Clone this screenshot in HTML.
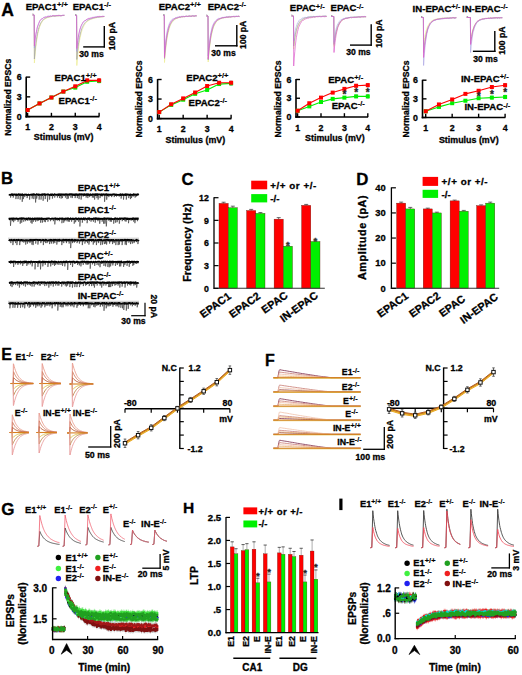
<!DOCTYPE html>
<html><head><meta charset="utf-8"><style>
html,body{margin:0;padding:0;background:#fff;}
svg{display:block;}
</style></head><body>
<svg width="522" height="675" viewBox="0 0 522 675">
<rect width="522" height="675" fill="#fff"/>
<text x="25.7" y="9.9" font-size="9.6" text-anchor="start" fill="#000" stroke="#000" stroke-width="0.3" font-family="Liberation Sans, sans-serif" font-weight="bold">EPAC1<tspan font-size="7.6" dy="-2.9" stroke-width="0.15">+/+</tspan></text>
<text x="72.7" y="9.9" font-size="9.6" text-anchor="start" fill="#000" stroke="#000" stroke-width="0.3" font-family="Liberation Sans, sans-serif" font-weight="bold">EPAC1<tspan font-size="7.6" dy="-2.9" stroke-width="0.15">-/-</tspan></text>
<line x1="32.50" y1="14.00" x2="34.00" y2="14.50" stroke="#888" stroke-width="1"/>
<polyline points="32.5,15.0 34.2,15.0 34.4,63.0 34.9,56.7 35.4,51.2 35.9,46.5 36.4,42.5 36.9,39.0 37.4,36.0 37.9,33.5 38.4,31.2 38.9,29.3 39.4,27.7 39.9,26.2 40.4,25.0 40.9,23.9 41.4,23.0 41.9,22.1 42.4,21.4 42.9,20.8 43.4,20.3 43.9,19.8 44.4,19.4 44.9,19.0 45.4,18.7 45.9,18.4 46.4,18.1 46.9,17.9 47.4,17.7 47.9,17.5 48.4,17.3 48.9,17.2 49.4,17.0 49.9,16.9 50.4,16.8 50.9,16.7 51.4,16.6 51.9,16.5 52.4,16.4 52.9,16.4 53.4,16.3 53.9,16.2 54.4,16.2 54.9,16.1 55.4,16.1 55.9,16.0 56.4,16.0 56.9,15.9 57.4,15.9 57.9,15.8 58.4,15.8 58.9,15.8 59.4,15.7 59.9,15.7 60.4,15.7 60.9,15.6 61.4,15.6 61.9,15.6 62.4,15.6 62.9,15.5 63.4,15.5 63.9,15.5 64.4,15.5" fill="none" stroke="#eeeea0" stroke-width="0.9" stroke-linejoin="round"/>
<polyline points="32.5,15.0 34.2,15.0 34.4,59.0 34.9,53.0 35.4,47.9 35.9,43.5 36.4,39.8 36.9,36.6 37.4,33.8 37.9,31.5 38.4,29.4 38.9,27.7 39.4,26.2 39.9,24.9 40.4,23.8 40.9,22.8 41.4,22.0 41.9,21.3 42.4,20.6 42.9,20.1 43.4,19.6 43.9,19.2 44.4,18.8 44.9,18.5 45.4,18.2 45.9,18.0 46.4,17.7 46.9,17.5 47.4,17.4 47.9,17.2 48.4,17.1 48.9,16.9 49.4,16.8 49.9,16.7 50.4,16.6 50.9,16.5 51.4,16.4 51.9,16.4 52.4,16.3 52.9,16.2 53.4,16.2 53.9,16.1 54.4,16.1 54.9,16.0 55.4,16.0 55.9,15.9 56.4,15.9 56.9,15.8 57.4,15.8 57.9,15.8 58.4,15.7 58.9,15.7 59.4,15.7 59.9,15.6 60.4,15.6 60.9,15.6 61.4,15.6 61.9,15.5 62.4,15.5 62.9,15.5 63.4,15.5 63.9,15.5 64.4,15.4" fill="none" stroke="#a8a8a8" stroke-width="0.8" stroke-linejoin="round"/>
<polyline points="32.5,15.0 34.2,15.0 34.4,48.0 34.9,42.7 35.4,38.3 35.9,34.5 36.4,31.9 36.9,29.0 37.4,26.9 37.9,25.3 38.4,23.8 38.9,22.7 39.4,21.5 39.9,20.6 40.4,20.0 40.9,19.4 41.4,19.1 41.9,18.4 42.4,18.7 42.9,18.1 43.4,17.5 43.9,17.3 44.4,17.2 44.9,17.1 45.4,16.7 45.9,17.1 46.4,17.1 46.9,16.6 47.4,16.5 47.9,16.1 48.4,16.0 48.9,16.2 49.4,16.0 49.9,16.4 50.4,15.8 50.9,15.7 51.4,16.4 51.9,16.0 52.4,15.6 52.9,15.9 53.4,15.5 53.9,15.8 54.4,16.1 54.9,16.0 55.4,15.9 55.9,15.5 56.4,15.5 56.9,15.3 57.4,15.8 57.9,15.6 58.4,15.8 58.9,15.4 59.4,15.3 59.9,15.7 60.4,15.8 60.9,15.7 61.4,15.7 61.9,15.7 62.4,15.6 62.9,15.2 63.4,15.4 63.9,15.2 64.4,14.9" fill="none" stroke="#a098e0" stroke-width="0.55" stroke-linejoin="round"/>
<polyline points="32.5,15.0 34.2,15.0 34.4,46.0 34.9,41.0 35.4,37.3 35.9,34.1 36.4,31.7 36.9,29.6 37.4,27.2 37.9,25.9 38.4,24.6 38.9,23.4 39.4,21.9 39.9,21.0 40.4,20.2 40.9,19.6 41.4,19.1 41.9,19.0 42.4,18.8 42.9,18.4 43.4,17.8 43.9,17.7 44.4,17.6 44.9,16.9 45.4,17.2 45.9,17.2 46.4,17.0 46.9,16.8 47.4,16.5 47.9,16.2 48.4,16.6 48.9,16.1 49.4,16.4 49.9,16.5 50.4,16.0 50.9,15.9 51.4,16.3 51.9,16.1 52.4,15.6 52.9,15.5 53.4,15.5 53.9,16.1 54.4,16.0 54.9,15.4 55.4,15.9 55.9,16.0 56.4,15.7 56.9,15.5 57.4,15.6 57.9,15.2 58.4,15.1 58.9,15.9 59.4,15.6 59.9,15.5 60.4,15.8 60.9,15.4 61.4,15.7 61.9,15.6 62.4,15.1 62.9,15.1 63.4,15.2 63.9,15.1 64.4,15.4" fill="none" stroke="#dc5ccc" stroke-width="0.7" stroke-linejoin="round"/>
<line x1="75.20" y1="14.50" x2="76.70" y2="15.00" stroke="#888" stroke-width="1"/>
<polyline points="75.2,15.5 76.6,15.5 76.8,65.5 77.3,59.9 77.7,55.0 78.2,50.7 78.6,46.9 79.1,43.6 79.5,40.8 80.0,38.2 80.5,36.0 80.9,34.0 81.4,32.3 81.8,30.8 82.3,29.4 82.8,28.3 83.2,27.2 83.7,26.3 84.1,25.4 84.6,24.7 85.0,24.0 85.5,23.4 86.0,22.8 86.4,22.4 86.9,21.9 87.3,21.5 87.8,21.2 88.3,20.8 88.7,20.5 89.2,20.2 89.6,20.0 90.1,19.7 90.5,19.5 91.0,19.3 91.5,19.1 91.9,19.0 92.4,18.8 92.8,18.6 93.3,18.5 93.8,18.4 94.2,18.2 94.7,18.1 95.1,18.0 95.6,17.9 96.0,17.8 96.5,17.7 97.0,17.6 97.4,17.5 97.9,17.5 98.3,17.4 98.8,17.3 99.3,17.2 99.7,17.2 100.2,17.1 100.6,17.0 101.1,17.0 101.5,16.9 102.0,16.9 102.5,16.8 102.9,16.8 103.4,16.7 103.8,16.7 104.3,16.6" fill="none" stroke="#eeeea0" stroke-width="0.9" stroke-linejoin="round"/>
<polyline points="75.2,15.5 76.6,15.5 76.8,59.5 77.3,54.4 77.7,50.0 78.2,46.2 78.6,42.8 79.1,39.9 79.5,37.3 80.0,35.1 80.5,33.1 80.9,31.4 81.4,29.9 81.8,28.6 82.3,27.4 82.8,26.4 83.2,25.5 83.7,24.7 84.1,24.0 84.6,23.3 85.0,22.8 85.5,22.3 86.0,21.8 86.4,21.4 86.9,21.0 87.3,20.7 87.8,20.4 88.3,20.1 88.7,19.8 89.2,19.6 89.6,19.4 90.1,19.2 90.5,19.0 91.0,18.8 91.5,18.7 91.9,18.5 92.4,18.4 92.8,18.2 93.3,18.1 93.8,18.0 94.2,17.9 94.7,17.8 95.1,17.7 95.6,17.6 96.0,17.5 96.5,17.4 97.0,17.4 97.4,17.3 97.9,17.2 98.3,17.1 98.8,17.1 99.3,17.0 99.7,17.0 100.2,16.9 100.6,16.8 101.1,16.8 101.5,16.7 102.0,16.7 102.5,16.6 102.9,16.6 103.4,16.6 103.8,16.5 104.3,16.5" fill="none" stroke="#a8a8a8" stroke-width="0.8" stroke-linejoin="round"/>
<polyline points="75.2,15.5 76.6,15.5 76.8,51.5 77.3,46.5 77.7,42.3 78.2,39.1 78.6,36.0 79.1,33.4 79.5,31.3 80.0,29.4 80.5,27.9 80.9,26.7 81.4,25.6 81.8,24.9 82.3,23.7 82.8,23.2 83.2,22.3 83.7,21.8 84.1,21.1 84.6,20.8 85.0,20.3 85.5,20.5 86.0,20.1 86.4,19.5 86.9,19.5 87.3,19.6 87.8,18.8 88.3,19.1 88.7,18.7 89.2,18.6 89.6,18.7 90.1,18.2 90.5,18.2 91.0,18.2 91.5,18.3 91.9,17.7 92.4,18.0 92.8,17.8 93.3,17.7 93.8,17.4 94.2,17.3 94.7,17.0 95.1,16.9 95.6,16.8 96.0,17.3 96.5,16.9 97.0,16.7 97.4,16.6 97.9,17.1 98.3,17.1 98.8,16.9 99.3,16.5 99.7,16.5 100.2,16.5 100.6,16.6 101.1,16.3 101.5,16.5 102.0,16.3 102.5,16.8 102.9,16.8 103.4,16.4 103.8,16.1 104.3,16.7" fill="none" stroke="#a098e0" stroke-width="0.55" stroke-linejoin="round"/>
<polyline points="75.2,15.5 76.6,15.5 76.8,48.5 77.3,44.2 77.7,40.7 78.2,37.3 78.6,35.0 79.1,32.8 79.5,30.9 80.0,29.0 80.5,27.8 80.9,26.2 81.4,25.3 81.8,24.2 82.3,23.6 82.8,22.6 83.2,22.0 83.7,21.6 84.1,21.1 84.6,21.0 85.0,20.5 85.5,20.4 86.0,20.0 86.4,19.8 86.9,19.6 87.3,19.0 87.8,18.8 88.3,19.1 88.7,18.3 89.2,18.6 89.6,18.4 90.1,17.8 90.5,18.3 91.0,18.2 91.5,17.9 91.9,17.9 92.4,17.8 92.8,17.2 93.3,17.4 93.8,17.3 94.2,17.5 94.7,17.4 95.1,17.4 95.6,17.1 96.0,17.3 96.5,17.1 97.0,17.0 97.4,16.6 97.9,16.4 98.3,16.4 98.8,16.6 99.3,16.3 99.7,16.9 100.2,16.6 100.6,16.6 101.1,16.6 101.5,16.6 102.0,16.4 102.5,16.0 102.9,16.6 103.4,16.5 103.8,16.3 104.3,16.3" fill="none" stroke="#dc5ccc" stroke-width="0.7" stroke-linejoin="round"/>
<line x1="104.30" y1="26.00" x2="104.30" y2="47.50" stroke="#000" stroke-width="1.4"/>
<line x1="83.20" y1="46.90" x2="105.00" y2="46.90" stroke="#000" stroke-width="1.4"/>
<text x="91.5" y="56.6" font-size="8.6" text-anchor="middle" fill="#000" stroke="#000" stroke-width="0.3" font-family="Liberation Sans, sans-serif" font-weight="bold">30 ms</text>
<text x="114.7" y="36.2" font-size="8.6" text-anchor="middle" fill="#000" stroke="#000" stroke-width="0.3" font-family="Liberation Sans, sans-serif" font-weight="bold" transform="rotate(-90 114.7 36.2)">100 pA</text>
<line x1="26.20" y1="76.70" x2="26.20" y2="117.40" stroke="#000" stroke-width="1.6"/>
<line x1="25.40" y1="116.60" x2="99.40" y2="116.60" stroke="#000" stroke-width="1.6"/>
<line x1="26.20" y1="116.60" x2="30.20" y2="116.60" stroke="#000" stroke-width="1.4"/>
<text x="21.6" y="119.69999999999999" font-size="8.8" text-anchor="end" fill="#000" stroke="#000" stroke-width="0.3" font-family="Liberation Sans, sans-serif" font-weight="bold">0</text>
<line x1="26.20" y1="96.85" x2="30.20" y2="96.85" stroke="#000" stroke-width="1.4"/>
<text x="21.6" y="99.94999999999999" font-size="8.8" text-anchor="end" fill="#000" stroke="#000" stroke-width="0.3" font-family="Liberation Sans, sans-serif" font-weight="bold">3</text>
<line x1="26.20" y1="77.10" x2="30.20" y2="77.10" stroke="#000" stroke-width="1.4"/>
<text x="21.6" y="80.19999999999999" font-size="8.8" text-anchor="end" fill="#000" stroke="#000" stroke-width="0.3" font-family="Liberation Sans, sans-serif" font-weight="bold">6</text>
<line x1="27.60" y1="116.60" x2="27.60" y2="112.80" stroke="#000" stroke-width="1.4"/>
<text x="27.6" y="130.1" font-size="8.8" text-anchor="middle" fill="#000" stroke="#000" stroke-width="0.3" font-family="Liberation Sans, sans-serif" font-weight="bold">1</text>
<line x1="51.43" y1="116.60" x2="51.43" y2="112.80" stroke="#000" stroke-width="1.4"/>
<text x="51.43333333333334" y="130.1" font-size="8.8" text-anchor="middle" fill="#000" stroke="#000" stroke-width="0.3" font-family="Liberation Sans, sans-serif" font-weight="bold">2</text>
<line x1="75.27" y1="116.60" x2="75.27" y2="112.80" stroke="#000" stroke-width="1.4"/>
<text x="75.26666666666667" y="130.1" font-size="8.8" text-anchor="middle" fill="#000" stroke="#000" stroke-width="0.3" font-family="Liberation Sans, sans-serif" font-weight="bold">3</text>
<line x1="99.10" y1="116.60" x2="99.10" y2="112.80" stroke="#000" stroke-width="1.4"/>
<text x="99.1" y="130.1" font-size="8.8" text-anchor="middle" fill="#000" stroke="#000" stroke-width="0.3" font-family="Liberation Sans, sans-serif" font-weight="bold">4</text>
<text x="63.65" y="140.39999999999998" font-size="8.9" text-anchor="middle" fill="#000" stroke="#000" stroke-width="0.3" font-family="Liberation Sans, sans-serif" font-weight="bold">Stimulus (mV)</text>
<text x="10.7" y="97.2" font-size="8.6" text-anchor="middle" fill="#000" stroke="#000" stroke-width="0.3" font-family="Liberation Sans, sans-serif" font-weight="bold" transform="rotate(-90 10.7 97.2)">Normalized EPSCs</text>
<line x1="27.60" y1="109.42" x2="27.60" y2="110.62" stroke="#555" stroke-width="0.6"/>
<line x1="26.40" y1="109.42" x2="28.80" y2="109.42" stroke="#555" stroke-width="0.6"/>
<line x1="26.40" y1="110.62" x2="28.80" y2="110.62" stroke="#555" stroke-width="0.6"/>
<line x1="39.52" y1="102.83" x2="39.52" y2="104.03" stroke="#555" stroke-width="0.6"/>
<line x1="38.32" y1="102.83" x2="40.72" y2="102.83" stroke="#555" stroke-width="0.6"/>
<line x1="38.32" y1="104.03" x2="40.72" y2="104.03" stroke="#555" stroke-width="0.6"/>
<line x1="51.43" y1="96.91" x2="51.43" y2="98.11" stroke="#555" stroke-width="0.6"/>
<line x1="50.23" y1="96.91" x2="52.63" y2="96.91" stroke="#555" stroke-width="0.6"/>
<line x1="50.23" y1="98.11" x2="52.63" y2="98.11" stroke="#555" stroke-width="0.6"/>
<line x1="63.35" y1="90.98" x2="63.35" y2="92.18" stroke="#555" stroke-width="0.6"/>
<line x1="62.15" y1="90.98" x2="64.55" y2="90.98" stroke="#555" stroke-width="0.6"/>
<line x1="62.15" y1="92.18" x2="64.55" y2="92.18" stroke="#555" stroke-width="0.6"/>
<line x1="75.27" y1="86.68" x2="75.27" y2="88.58" stroke="#555" stroke-width="0.6"/>
<line x1="74.07" y1="86.68" x2="76.47" y2="86.68" stroke="#555" stroke-width="0.6"/>
<line x1="74.07" y1="88.58" x2="76.47" y2="88.58" stroke="#555" stroke-width="0.6"/>
<line x1="87.18" y1="80.41" x2="87.18" y2="83.01" stroke="#555" stroke-width="0.6"/>
<line x1="85.98" y1="80.41" x2="88.38" y2="80.41" stroke="#555" stroke-width="0.6"/>
<line x1="85.98" y1="83.01" x2="88.38" y2="83.01" stroke="#555" stroke-width="0.6"/>
<line x1="99.10" y1="79.40" x2="99.10" y2="82.70" stroke="#555" stroke-width="0.6"/>
<line x1="97.90" y1="79.40" x2="100.30" y2="79.40" stroke="#555" stroke-width="0.6"/>
<line x1="97.90" y1="82.70" x2="100.30" y2="82.70" stroke="#555" stroke-width="0.6"/>
<line x1="27.60" y1="109.42" x2="27.60" y2="110.62" stroke="#555" stroke-width="0.6"/>
<line x1="26.40" y1="109.42" x2="28.80" y2="109.42" stroke="#555" stroke-width="0.6"/>
<line x1="26.40" y1="110.62" x2="28.80" y2="110.62" stroke="#555" stroke-width="0.6"/>
<line x1="39.52" y1="102.83" x2="39.52" y2="104.03" stroke="#555" stroke-width="0.6"/>
<line x1="38.32" y1="102.83" x2="40.72" y2="102.83" stroke="#555" stroke-width="0.6"/>
<line x1="38.32" y1="104.03" x2="40.72" y2="104.03" stroke="#555" stroke-width="0.6"/>
<line x1="51.43" y1="96.91" x2="51.43" y2="98.11" stroke="#555" stroke-width="0.6"/>
<line x1="50.23" y1="96.91" x2="52.63" y2="96.91" stroke="#555" stroke-width="0.6"/>
<line x1="50.23" y1="98.11" x2="52.63" y2="98.11" stroke="#555" stroke-width="0.6"/>
<line x1="63.35" y1="90.98" x2="63.35" y2="92.18" stroke="#555" stroke-width="0.6"/>
<line x1="62.15" y1="90.98" x2="64.55" y2="90.98" stroke="#555" stroke-width="0.6"/>
<line x1="62.15" y1="92.18" x2="64.55" y2="92.18" stroke="#555" stroke-width="0.6"/>
<line x1="75.27" y1="85.37" x2="75.27" y2="87.27" stroke="#555" stroke-width="0.6"/>
<line x1="74.07" y1="85.37" x2="76.47" y2="85.37" stroke="#555" stroke-width="0.6"/>
<line x1="74.07" y1="87.27" x2="76.47" y2="87.27" stroke="#555" stroke-width="0.6"/>
<line x1="87.18" y1="79.09" x2="87.18" y2="81.69" stroke="#555" stroke-width="0.6"/>
<line x1="85.98" y1="79.09" x2="88.38" y2="79.09" stroke="#555" stroke-width="0.6"/>
<line x1="85.98" y1="81.69" x2="88.38" y2="81.69" stroke="#555" stroke-width="0.6"/>
<line x1="99.10" y1="78.74" x2="99.10" y2="82.04" stroke="#555" stroke-width="0.6"/>
<line x1="97.90" y1="78.74" x2="100.30" y2="78.74" stroke="#555" stroke-width="0.6"/>
<line x1="97.90" y1="82.04" x2="100.30" y2="82.04" stroke="#555" stroke-width="0.6"/>
<polyline points="27.6,110.0 39.5,103.4 51.4,97.5 63.4,91.6 75.3,87.6 87.2,81.7 99.1,81.0" fill="none" stroke="#00f000" stroke-width="1.1" stroke-linejoin="round"/>
<rect x="25.60" y="108.02" width="4.00" height="4.00" fill="#00f000"/>
<rect x="37.52" y="101.43" width="4.00" height="4.00" fill="#00f000"/>
<rect x="49.43" y="95.51" width="4.00" height="4.00" fill="#00f000"/>
<rect x="61.35" y="89.58" width="4.00" height="4.00" fill="#00f000"/>
<rect x="73.27" y="85.63" width="4.00" height="4.00" fill="#00f000"/>
<rect x="85.18" y="79.71" width="4.00" height="4.00" fill="#00f000"/>
<rect x="97.10" y="79.05" width="4.00" height="4.00" fill="#00f000"/>
<polyline points="27.6,110.0 39.5,103.4 51.4,97.5 63.4,91.6 75.3,86.3 87.2,80.4 99.1,80.4" fill="none" stroke="#ff0000" stroke-width="1.1" stroke-linejoin="round"/>
<rect x="25.60" y="108.02" width="4.00" height="4.00" fill="#ff0000"/>
<rect x="37.52" y="101.43" width="4.00" height="4.00" fill="#ff0000"/>
<rect x="49.43" y="95.51" width="4.00" height="4.00" fill="#ff0000"/>
<rect x="61.35" y="89.58" width="4.00" height="4.00" fill="#ff0000"/>
<rect x="73.27" y="84.32" width="4.00" height="4.00" fill="#ff0000"/>
<rect x="85.18" y="78.39" width="4.00" height="4.00" fill="#ff0000"/>
<rect x="97.10" y="78.39" width="4.00" height="4.00" fill="#ff0000"/>
<text x="54.5" y="80.6" font-size="9.6" text-anchor="start" fill="#000" stroke="#000" stroke-width="0.3" font-family="Liberation Sans, sans-serif" font-weight="bold">EPAC1<tspan font-size="7.6" dy="-2.9" stroke-width="0.15">+/+</tspan></text>
<text x="58.5" y="103.6" font-size="9.6" text-anchor="start" fill="#000" stroke="#000" stroke-width="0.3" font-family="Liberation Sans, sans-serif" font-weight="bold">EPAC1<tspan font-size="7.6" dy="-2.9" stroke-width="0.15">-/-</tspan></text>
<text x="158.7" y="9.700000000000001" font-size="9.6" text-anchor="start" fill="#000" stroke="#000" stroke-width="0.3" font-family="Liberation Sans, sans-serif" font-weight="bold">EPAC2<tspan font-size="7.6" dy="-2.9" stroke-width="0.15">+/+</tspan></text>
<text x="207.7" y="9.700000000000001" font-size="9.6" text-anchor="start" fill="#000" stroke="#000" stroke-width="0.3" font-family="Liberation Sans, sans-serif" font-weight="bold">EPAC2<tspan font-size="7.6" dy="-2.9" stroke-width="0.15">-/-</tspan></text>
<line x1="163.30" y1="14.50" x2="164.80" y2="15.00" stroke="#888" stroke-width="1"/>
<polyline points="163.3,15.5 164.3,15.5 164.5,62.5 165.0,55.9 165.6,50.2 166.1,45.4 166.6,41.4 167.2,37.9 167.7,34.9 168.3,32.4 168.8,30.3 169.3,28.4 169.9,26.8 170.4,25.5 170.9,24.3 171.5,23.3 172.0,22.5 172.6,21.7 173.1,21.1 173.6,20.5 174.2,20.0 174.7,19.6 175.2,19.3 175.8,18.9 176.3,18.6 176.8,18.4 177.4,18.2 177.9,18.0 178.5,17.8 179.0,17.6 179.5,17.5 180.1,17.4 180.6,17.2 181.1,17.1 181.7,17.0 182.2,17.0 182.7,16.9 183.3,16.8 183.8,16.7 184.4,16.7 184.9,16.6 185.4,16.5 186.0,16.5 186.5,16.4 187.0,16.4 187.6,16.4 188.1,16.3 188.6,16.3 189.2,16.2 189.7,16.2 190.3,16.2 190.8,16.1 191.3,16.1 191.9,16.1 192.4,16.1 192.9,16.0 193.5,16.0 194.0,16.0 194.6,16.0 195.1,15.9 195.6,15.9 196.2,15.9 196.7,15.9" fill="none" stroke="#eeeea0" stroke-width="0.9" stroke-linejoin="round"/>
<polyline points="163.3,15.5 164.3,15.5 164.5,58.5 165.0,52.3 165.6,47.0 166.1,42.5 166.6,38.7 167.2,35.5 167.7,32.8 168.3,30.5 168.8,28.6 169.3,26.9 169.9,25.5 170.4,24.3 170.9,23.3 171.5,22.4 172.0,21.6 172.6,21.0 173.1,20.4 173.6,19.9 174.2,19.5 174.7,19.1 175.2,18.8 175.8,18.5 176.3,18.3 176.8,18.1 177.4,17.9 177.9,17.7 178.5,17.5 179.0,17.4 179.5,17.3 180.1,17.2 180.6,17.1 181.1,17.0 181.7,16.9 182.2,16.8 182.7,16.7 183.3,16.7 183.8,16.6 184.4,16.5 184.9,16.5 185.4,16.4 186.0,16.4 186.5,16.4 187.0,16.3 187.6,16.3 188.1,16.2 188.6,16.2 189.2,16.2 189.7,16.1 190.3,16.1 190.8,16.1 191.3,16.1 191.9,16.0 192.4,16.0 192.9,16.0 193.5,16.0 194.0,15.9 194.6,15.9 195.1,15.9 195.6,15.9 196.2,15.9 196.7,15.9" fill="none" stroke="#a8a8a8" stroke-width="0.8" stroke-linejoin="round"/>
<polyline points="163.3,15.5 164.3,15.5 164.5,53.5 165.0,46.8 165.6,41.5 166.1,37.3 166.6,34.3 167.2,31.1 167.7,28.5 168.3,27.0 168.8,25.5 169.3,23.7 169.9,22.4 170.4,21.5 170.9,20.6 171.5,20.2 172.0,19.5 172.6,19.1 173.1,18.8 173.6,18.7 174.2,18.7 174.7,18.3 175.2,17.8 175.8,17.7 176.3,17.6 176.8,17.3 177.4,17.2 177.9,16.8 178.5,16.9 179.0,17.4 179.5,16.6 180.1,16.8 180.6,16.9 181.1,17.0 181.7,16.4 182.2,16.4 182.7,16.3 183.3,16.4 183.8,16.4 184.4,16.8 184.9,16.6 185.4,16.6 186.0,15.9 186.5,15.9 187.0,16.4 187.6,16.5 188.1,16.1 188.6,16.2 189.2,15.7 189.7,16.0 190.3,16.4 190.8,16.3 191.3,16.3 191.9,16.3 192.4,15.7 192.9,15.6 193.5,15.6 194.0,15.9 194.6,16.0 195.1,16.2 195.6,16.0 196.2,15.9 196.7,16.0" fill="none" stroke="#a098e0" stroke-width="0.55" stroke-linejoin="round"/>
<polyline points="163.3,15.5 164.3,15.5 164.5,57.5 165.0,50.8 165.6,45.3 166.1,40.3 166.6,37.1 167.2,33.5 167.7,31.4 168.3,29.0 168.8,26.8 169.3,25.2 169.9,24.0 170.4,23.2 170.9,22.3 171.5,21.1 172.0,20.4 172.6,20.2 173.1,19.8 173.6,19.2 174.2,18.7 174.7,18.7 175.2,18.0 175.8,18.0 176.3,17.9 176.8,18.1 177.4,17.7 177.9,17.8 178.5,17.3 179.0,17.0 179.5,16.9 180.1,17.4 180.6,17.1 181.1,16.7 181.7,16.4 182.2,16.7 182.7,16.8 183.3,16.5 183.8,16.4 184.4,16.6 184.9,16.8 185.4,16.2 186.0,16.0 186.5,16.2 187.0,16.2 187.6,16.4 188.1,16.0 188.6,16.4 189.2,16.3 189.7,16.1 190.3,15.9 190.8,16.4 191.3,15.9 191.9,16.3 192.4,15.8 192.9,15.7 193.5,16.2 194.0,15.8 194.6,16.3 195.1,15.9 195.6,15.6 196.2,15.6 196.7,15.8" fill="none" stroke="#dc5ccc" stroke-width="0.7" stroke-linejoin="round"/>
<line x1="206.30" y1="15.00" x2="207.80" y2="15.50" stroke="#888" stroke-width="1"/>
<polyline points="206.3,16.0 208.0,16.0 208.2,62.0 208.7,55.7 209.2,50.3 209.8,45.7 210.3,41.7 210.8,38.4 211.3,35.5 211.9,33.0 212.4,30.9 212.9,29.1 213.4,27.5 213.9,26.2 214.5,25.0 215.0,24.0 215.5,23.1 216.0,22.4 216.5,21.7 217.1,21.2 217.6,20.7 218.1,20.2 218.6,19.9 219.2,19.5 219.7,19.2 220.2,19.0 220.7,18.8 221.2,18.5 221.8,18.4 222.3,18.2 222.8,18.1 223.3,17.9 223.8,17.8 224.4,17.7 224.9,17.6 225.4,17.5 225.9,17.4 226.5,17.3 227.0,17.3 227.5,17.2 228.0,17.1 228.5,17.1 229.1,17.0 229.6,17.0 230.1,16.9 230.6,16.9 231.2,16.8 231.7,16.8 232.2,16.8 232.7,16.7 233.2,16.7 233.8,16.7 234.3,16.6 234.8,16.6 235.3,16.6 235.8,16.6 236.4,16.5 236.9,16.5 237.4,16.5 237.9,16.5 238.5,16.4 239.0,16.4 239.5,16.4" fill="none" stroke="#eeeea0" stroke-width="0.9" stroke-linejoin="round"/>
<polyline points="206.3,16.0 208.0,16.0 208.2,60.0 208.7,53.8 209.2,48.5 209.8,44.0 210.3,40.2 210.8,36.9 211.3,34.2 211.9,31.8 212.4,29.8 212.9,28.1 213.4,26.6 213.9,25.4 214.5,24.3 215.0,23.3 215.5,22.5 216.0,21.9 216.5,21.3 217.1,20.7 217.6,20.3 218.1,19.9 218.6,19.6 219.2,19.2 219.7,19.0 220.2,18.7 220.7,18.5 221.2,18.4 221.8,18.2 222.3,18.0 222.8,17.9 223.3,17.8 223.8,17.7 224.4,17.6 224.9,17.5 225.4,17.4 225.9,17.3 226.5,17.3 227.0,17.2 227.5,17.1 228.0,17.1 228.5,17.0 229.1,17.0 229.6,16.9 230.1,16.9 230.6,16.8 231.2,16.8 231.7,16.8 232.2,16.7 232.7,16.7 233.2,16.7 233.8,16.6 234.3,16.6 234.8,16.6 235.3,16.6 235.8,16.5 236.4,16.5 236.9,16.5 237.4,16.5 237.9,16.4 238.5,16.4 239.0,16.4 239.5,16.4" fill="none" stroke="#a8a8a8" stroke-width="0.8" stroke-linejoin="round"/>
<polyline points="206.3,16.0 208.0,16.0 208.2,56.0 208.7,49.1 209.2,44.3 209.8,39.6 210.3,35.7 210.8,32.7 211.3,30.7 211.9,28.2 212.4,26.2 212.9,25.3 213.4,24.0 213.9,23.2 214.5,21.7 215.0,21.3 215.5,21.0 216.0,20.5 216.5,20.1 217.1,19.1 217.6,19.0 218.1,18.6 218.6,18.4 219.2,18.8 219.7,18.3 220.2,18.5 220.7,17.9 221.2,18.1 221.8,17.7 222.3,17.4 222.8,17.8 223.3,17.8 223.8,17.1 224.4,17.4 224.9,17.3 225.4,17.0 225.9,17.0 226.5,16.8 227.0,16.8 227.5,16.8 228.0,17.0 228.5,17.0 229.1,16.6 229.6,16.4 230.1,16.6 230.6,16.9 231.2,16.5 231.7,16.5 232.2,16.4 232.7,16.9 233.2,16.6 233.8,16.2 234.3,16.2 234.8,16.4 235.3,16.5 235.8,16.6 236.4,16.1 236.9,16.2 237.4,16.6 237.9,16.3 238.5,16.2 239.0,16.2 239.5,16.7" fill="none" stroke="#a098e0" stroke-width="0.55" stroke-linejoin="round"/>
<polyline points="206.3,16.0 208.0,16.0 208.2,59.0 208.7,52.2 209.2,46.9 209.8,42.1 210.3,38.2 210.8,35.4 211.3,32.7 211.9,30.0 212.4,27.9 212.9,26.7 213.4,25.0 213.9,23.7 214.5,23.4 215.0,22.2 215.5,21.9 216.0,20.9 216.5,20.8 217.1,20.0 217.6,19.4 218.1,19.0 218.6,19.1 219.2,18.9 219.7,18.9 220.2,18.1 220.7,18.3 221.2,18.0 221.8,18.0 222.3,17.6 222.8,17.6 223.3,17.6 223.8,17.9 224.4,17.1 224.9,17.4 225.4,17.6 225.9,17.6 226.5,16.9 227.0,16.8 227.5,17.4 228.0,17.4 228.5,17.0 229.1,16.6 229.6,17.2 230.1,16.8 230.6,17.1 231.2,16.9 231.7,17.0 232.2,16.4 232.7,16.9 233.2,16.4 233.8,16.5 234.3,16.9 234.8,16.8 235.3,16.3 235.8,16.3 236.4,16.4 236.9,16.5 237.4,16.4 237.9,16.1 238.5,16.2 239.0,16.6 239.5,16.7" fill="none" stroke="#dc5ccc" stroke-width="0.7" stroke-linejoin="round"/>
<line x1="236.80" y1="25.10" x2="236.80" y2="46.40" stroke="#000" stroke-width="1.4"/>
<line x1="215.00" y1="45.80" x2="237.50" y2="45.80" stroke="#000" stroke-width="1.4"/>
<text x="223.5" y="55.8" font-size="8.6" text-anchor="middle" fill="#000" stroke="#000" stroke-width="0.3" font-family="Liberation Sans, sans-serif" font-weight="bold">30 ms</text>
<text x="246.4" y="34.8" font-size="8.6" text-anchor="middle" fill="#000" stroke="#000" stroke-width="0.3" font-family="Liberation Sans, sans-serif" font-weight="bold" transform="rotate(-90 246.4 34.8)">100 pA</text>
<line x1="157.60" y1="79.10" x2="157.60" y2="119.40" stroke="#000" stroke-width="1.6"/>
<line x1="156.80" y1="118.60" x2="231.40" y2="118.60" stroke="#000" stroke-width="1.6"/>
<line x1="157.60" y1="118.60" x2="161.60" y2="118.60" stroke="#000" stroke-width="1.4"/>
<text x="153.0" y="121.69999999999999" font-size="8.8" text-anchor="end" fill="#000" stroke="#000" stroke-width="0.3" font-family="Liberation Sans, sans-serif" font-weight="bold">0</text>
<line x1="157.60" y1="99.05" x2="161.60" y2="99.05" stroke="#000" stroke-width="1.4"/>
<text x="153.0" y="102.14999999999999" font-size="8.8" text-anchor="end" fill="#000" stroke="#000" stroke-width="0.3" font-family="Liberation Sans, sans-serif" font-weight="bold">3</text>
<line x1="157.60" y1="79.50" x2="161.60" y2="79.50" stroke="#000" stroke-width="1.4"/>
<text x="153.0" y="82.6" font-size="8.8" text-anchor="end" fill="#000" stroke="#000" stroke-width="0.3" font-family="Liberation Sans, sans-serif" font-weight="bold">6</text>
<line x1="159.20" y1="118.60" x2="159.20" y2="114.80" stroke="#000" stroke-width="1.4"/>
<text x="159.2" y="131.6" font-size="8.8" text-anchor="middle" fill="#000" stroke="#000" stroke-width="0.3" font-family="Liberation Sans, sans-serif" font-weight="bold">1</text>
<line x1="183.17" y1="118.60" x2="183.17" y2="114.80" stroke="#000" stroke-width="1.4"/>
<text x="183.16666666666666" y="131.6" font-size="8.8" text-anchor="middle" fill="#000" stroke="#000" stroke-width="0.3" font-family="Liberation Sans, sans-serif" font-weight="bold">2</text>
<line x1="207.13" y1="118.60" x2="207.13" y2="114.80" stroke="#000" stroke-width="1.4"/>
<text x="207.13333333333333" y="131.6" font-size="8.8" text-anchor="middle" fill="#000" stroke="#000" stroke-width="0.3" font-family="Liberation Sans, sans-serif" font-weight="bold">3</text>
<line x1="231.10" y1="118.60" x2="231.10" y2="114.80" stroke="#000" stroke-width="1.4"/>
<text x="231.1" y="131.6" font-size="8.8" text-anchor="middle" fill="#000" stroke="#000" stroke-width="0.3" font-family="Liberation Sans, sans-serif" font-weight="bold">4</text>
<text x="195.35" y="142.5" font-size="8.9" text-anchor="middle" fill="#000" stroke="#000" stroke-width="0.3" font-family="Liberation Sans, sans-serif" font-weight="bold">Stimulus (mV)</text>
<text x="142.29999999999998" y="99" font-size="8.6" text-anchor="middle" fill="#000" stroke="#000" stroke-width="0.3" font-family="Liberation Sans, sans-serif" font-weight="bold" transform="rotate(-90 142.29999999999998 99)">Normalized EPSCs</text>
<line x1="159.20" y1="111.48" x2="159.20" y2="112.68" stroke="#555" stroke-width="0.6"/>
<line x1="158.00" y1="111.48" x2="160.40" y2="111.48" stroke="#555" stroke-width="0.6"/>
<line x1="158.00" y1="112.68" x2="160.40" y2="112.68" stroke="#555" stroke-width="0.6"/>
<line x1="171.18" y1="104.31" x2="171.18" y2="105.51" stroke="#555" stroke-width="0.6"/>
<line x1="169.98" y1="104.31" x2="172.38" y2="104.31" stroke="#555" stroke-width="0.6"/>
<line x1="169.98" y1="105.51" x2="172.38" y2="105.51" stroke="#555" stroke-width="0.6"/>
<line x1="183.17" y1="99.10" x2="183.17" y2="100.30" stroke="#555" stroke-width="0.6"/>
<line x1="181.97" y1="99.10" x2="184.37" y2="99.10" stroke="#555" stroke-width="0.6"/>
<line x1="181.97" y1="100.30" x2="184.37" y2="100.30" stroke="#555" stroke-width="0.6"/>
<line x1="195.15" y1="93.24" x2="195.15" y2="94.44" stroke="#555" stroke-width="0.6"/>
<line x1="193.95" y1="93.24" x2="196.35" y2="93.24" stroke="#555" stroke-width="0.6"/>
<line x1="193.95" y1="94.44" x2="196.35" y2="94.44" stroke="#555" stroke-width="0.6"/>
<line x1="207.13" y1="88.98" x2="207.13" y2="90.88" stroke="#555" stroke-width="0.6"/>
<line x1="205.93" y1="88.98" x2="208.33" y2="88.98" stroke="#555" stroke-width="0.6"/>
<line x1="205.93" y1="90.88" x2="208.33" y2="90.88" stroke="#555" stroke-width="0.6"/>
<line x1="219.12" y1="82.76" x2="219.12" y2="85.36" stroke="#555" stroke-width="0.6"/>
<line x1="217.92" y1="82.76" x2="220.32" y2="82.76" stroke="#555" stroke-width="0.6"/>
<line x1="217.92" y1="85.36" x2="220.32" y2="85.36" stroke="#555" stroke-width="0.6"/>
<line x1="231.10" y1="81.76" x2="231.10" y2="85.06" stroke="#555" stroke-width="0.6"/>
<line x1="229.90" y1="81.76" x2="232.30" y2="81.76" stroke="#555" stroke-width="0.6"/>
<line x1="229.90" y1="85.06" x2="232.30" y2="85.06" stroke="#555" stroke-width="0.6"/>
<line x1="159.20" y1="111.48" x2="159.20" y2="112.68" stroke="#555" stroke-width="0.6"/>
<line x1="158.00" y1="111.48" x2="160.40" y2="111.48" stroke="#555" stroke-width="0.6"/>
<line x1="158.00" y1="112.68" x2="160.40" y2="112.68" stroke="#555" stroke-width="0.6"/>
<line x1="171.18" y1="103.66" x2="171.18" y2="104.86" stroke="#555" stroke-width="0.6"/>
<line x1="169.98" y1="103.66" x2="172.38" y2="103.66" stroke="#555" stroke-width="0.6"/>
<line x1="169.98" y1="104.86" x2="172.38" y2="104.86" stroke="#555" stroke-width="0.6"/>
<line x1="183.17" y1="97.80" x2="183.17" y2="99.00" stroke="#555" stroke-width="0.6"/>
<line x1="181.97" y1="97.80" x2="184.37" y2="97.80" stroke="#555" stroke-width="0.6"/>
<line x1="181.97" y1="99.00" x2="184.37" y2="99.00" stroke="#555" stroke-width="0.6"/>
<line x1="195.15" y1="91.93" x2="195.15" y2="93.13" stroke="#555" stroke-width="0.6"/>
<line x1="193.95" y1="91.93" x2="196.35" y2="91.93" stroke="#555" stroke-width="0.6"/>
<line x1="193.95" y1="93.13" x2="196.35" y2="93.13" stroke="#555" stroke-width="0.6"/>
<line x1="207.13" y1="85.07" x2="207.13" y2="86.97" stroke="#555" stroke-width="0.6"/>
<line x1="205.93" y1="85.07" x2="208.33" y2="85.07" stroke="#555" stroke-width="0.6"/>
<line x1="205.93" y1="86.97" x2="208.33" y2="86.97" stroke="#555" stroke-width="0.6"/>
<line x1="219.12" y1="81.46" x2="219.12" y2="84.06" stroke="#555" stroke-width="0.6"/>
<line x1="217.92" y1="81.46" x2="220.32" y2="81.46" stroke="#555" stroke-width="0.6"/>
<line x1="217.92" y1="84.06" x2="220.32" y2="84.06" stroke="#555" stroke-width="0.6"/>
<line x1="231.10" y1="81.11" x2="231.10" y2="84.41" stroke="#555" stroke-width="0.6"/>
<line x1="229.90" y1="81.11" x2="232.30" y2="81.11" stroke="#555" stroke-width="0.6"/>
<line x1="229.90" y1="84.41" x2="232.30" y2="84.41" stroke="#555" stroke-width="0.6"/>
<polyline points="159.2,112.1 171.2,104.9 183.2,99.7 195.1,93.8 207.1,89.9 219.1,84.1 231.1,83.4" fill="none" stroke="#00f000" stroke-width="1.1" stroke-linejoin="round"/>
<rect x="157.20" y="110.08" width="4.00" height="4.00" fill="#00f000"/>
<rect x="169.18" y="102.91" width="4.00" height="4.00" fill="#00f000"/>
<rect x="181.17" y="97.70" width="4.00" height="4.00" fill="#00f000"/>
<rect x="193.15" y="91.84" width="4.00" height="4.00" fill="#00f000"/>
<rect x="205.13" y="87.93" width="4.00" height="4.00" fill="#00f000"/>
<rect x="217.12" y="82.06" width="4.00" height="4.00" fill="#00f000"/>
<rect x="229.10" y="81.41" width="4.00" height="4.00" fill="#00f000"/>
<polyline points="159.2,112.1 171.2,104.3 183.2,98.4 195.1,92.5 207.1,86.0 219.1,82.8 231.1,82.8" fill="none" stroke="#ff0000" stroke-width="1.1" stroke-linejoin="round"/>
<rect x="157.20" y="110.08" width="4.00" height="4.00" fill="#ff0000"/>
<rect x="169.18" y="102.26" width="4.00" height="4.00" fill="#ff0000"/>
<rect x="181.17" y="96.40" width="4.00" height="4.00" fill="#ff0000"/>
<rect x="193.15" y="90.53" width="4.00" height="4.00" fill="#ff0000"/>
<rect x="205.13" y="84.02" width="4.00" height="4.00" fill="#ff0000"/>
<rect x="217.12" y="80.76" width="4.00" height="4.00" fill="#ff0000"/>
<rect x="229.10" y="80.76" width="4.00" height="4.00" fill="#ff0000"/>
<text x="186.3" y="80.5" font-size="9.6" text-anchor="start" fill="#000" stroke="#000" stroke-width="0.3" font-family="Liberation Sans, sans-serif" font-weight="bold">EPAC2<tspan font-size="7.6" dy="-2.9" stroke-width="0.15">+/+</tspan></text>
<text x="188.6" y="105.8" font-size="9.6" text-anchor="start" fill="#000" stroke="#000" stroke-width="0.3" font-family="Liberation Sans, sans-serif" font-weight="bold">EPAC2<tspan font-size="7.6" dy="-2.9" stroke-width="0.15">-/-</tspan></text>
<text x="289.8" y="11.4" font-size="9.6" text-anchor="start" fill="#000" stroke="#000" stroke-width="0.3" font-family="Liberation Sans, sans-serif" font-weight="bold">EPAC<tspan font-size="7.6" dy="-2.9" stroke-width="0.15">+/-</tspan></text>
<text x="330.5" y="11.4" font-size="9.6" text-anchor="start" fill="#000" stroke="#000" stroke-width="0.3" font-family="Liberation Sans, sans-serif" font-weight="bold">EPAC<tspan font-size="7.6" dy="-2.9" stroke-width="0.15">-/-</tspan></text>
<line x1="291.40" y1="15.00" x2="292.90" y2="15.50" stroke="#888" stroke-width="1"/>
<polyline points="291.4,16.0 293.5,16.0 293.7,49.0 294.2,44.2 294.8,40.2 295.3,36.8 295.9,33.9 296.4,31.5 297.0,29.4 297.5,27.6 298.1,26.1 298.6,24.8 299.2,23.7 299.7,22.8 300.3,22.0 300.8,21.3 301.4,20.7 301.9,20.2 302.5,19.8 303.0,19.4 303.6,19.1 304.1,18.8 304.7,18.5 305.2,18.3 305.8,18.1 306.3,17.9 306.9,17.8 307.4,17.7 308.0,17.5 308.5,17.4 309.1,17.3 309.6,17.3 310.1,17.2 310.7,17.1 311.2,17.0 311.8,17.0 312.3,16.9 312.9,16.9 313.4,16.8 314.0,16.8 314.5,16.7 315.1,16.7 315.6,16.7 316.2,16.6 316.7,16.6 317.3,16.6 317.8,16.5 318.4,16.5 318.9,16.5 319.5,16.5 320.0,16.4 320.6,16.4 321.1,16.4 321.7,16.4 322.2,16.4 322.8,16.4 323.3,16.3 323.9,16.3 324.4,16.3 325.0,16.3 325.5,16.3 326.1,16.3 326.6,16.3" fill="none" stroke="#eeeea0" stroke-width="0.9" stroke-linejoin="round"/>
<polyline points="291.4,16.0 293.5,16.0 293.7,46.0 294.2,41.6 294.8,37.8 295.3,34.7 295.9,32.0 296.4,29.8 297.0,27.9 297.5,26.3 298.1,24.9 298.6,23.8 299.2,22.8 299.7,21.9 300.3,21.2 300.8,20.6 301.4,20.1 301.9,19.7 302.5,19.3 303.0,19.0 303.6,18.7 304.1,18.4 304.7,18.2 305.2,18.0 305.8,17.9 306.3,17.7 306.9,17.6 307.4,17.5 308.0,17.4 308.5,17.3 309.1,17.2 309.6,17.1 310.1,17.0 310.7,17.0 311.2,16.9 311.8,16.9 312.3,16.8 312.9,16.8 313.4,16.7 314.0,16.7 314.5,16.7 315.1,16.6 315.6,16.6 316.2,16.6 316.7,16.5 317.3,16.5 317.8,16.5 318.4,16.5 318.9,16.4 319.5,16.4 320.0,16.4 320.6,16.4 321.1,16.4 321.7,16.4 322.2,16.3 322.8,16.3 323.3,16.3 323.9,16.3 324.4,16.3 325.0,16.3 325.5,16.3 326.1,16.2 326.6,16.2" fill="none" stroke="#a8a8a8" stroke-width="0.8" stroke-linejoin="round"/>
<polyline points="291.4,16.0 293.5,16.0 293.7,41.0 294.2,36.5 294.8,33.2 295.3,30.4 295.9,27.7 296.4,26.2 297.0,24.5 297.5,22.9 298.1,22.5 298.6,21.1 299.2,20.3 299.7,19.7 300.3,19.6 300.8,19.4 301.4,19.0 301.9,18.4 302.5,18.0 303.0,17.6 303.6,17.9 304.1,17.7 304.7,17.4 305.2,17.5 305.8,17.3 306.3,17.6 306.9,17.3 307.4,16.9 308.0,17.3 308.5,16.6 309.1,16.9 309.6,16.8 310.1,16.6 310.7,16.4 311.2,16.9 311.8,16.3 312.3,16.7 312.9,17.0 313.4,16.3 314.0,16.3 314.5,16.6 315.1,16.5 315.6,16.6 316.2,16.7 316.7,16.2 317.3,16.3 317.8,16.2 318.4,16.0 318.9,16.7 319.5,16.6 320.0,16.5 320.6,15.9 321.1,16.6 321.7,16.5 322.2,16.3 322.8,16.5 323.3,16.2 323.9,16.0 324.4,15.9 325.0,16.0 325.5,15.8 326.1,16.1 326.6,16.4" fill="none" stroke="#a098e0" stroke-width="0.55" stroke-linejoin="round"/>
<polyline points="291.4,16.0 293.5,16.0 293.7,66.0 294.2,58.1 294.8,51.5 295.3,45.9 295.9,40.9 296.4,37.3 297.0,34.1 297.5,31.8 298.1,29.4 298.6,27.3 299.2,26.1 299.7,25.1 300.3,23.4 300.8,23.1 301.4,21.6 301.9,21.2 302.5,20.6 303.0,20.5 303.6,20.3 304.1,19.8 304.7,19.1 305.2,19.3 305.8,18.7 306.3,18.4 306.9,18.7 307.4,18.3 308.0,18.3 308.5,18.1 309.1,18.2 309.6,17.7 310.1,17.9 310.7,17.7 311.2,17.8 311.8,17.3 312.3,17.5 312.9,17.3 313.4,17.0 314.0,16.9 314.5,17.2 315.1,16.7 315.6,17.3 316.2,16.7 316.7,16.5 317.3,16.5 317.8,17.2 318.4,16.7 318.9,16.5 319.5,16.3 320.0,16.3 320.6,16.8 321.1,16.7 321.7,16.7 322.2,16.7 322.8,16.2 323.3,16.6 323.9,16.4 324.4,16.7 325.0,16.7 325.5,16.7 326.1,16.1 326.6,16.7" fill="none" stroke="#dc5ccc" stroke-width="0.7" stroke-linejoin="round"/>
<line x1="331.20" y1="15.50" x2="332.70" y2="16.00" stroke="#888" stroke-width="1"/>
<polyline points="331.2,16.5 333.8,16.5 334.0,46.5 334.5,42.3 335.1,38.7 335.6,35.6 336.1,33.0 336.7,30.8 337.2,28.9 337.7,27.3 338.3,26.0 338.8,24.8 339.4,23.8 339.9,22.9 340.4,22.2 341.0,21.5 341.5,21.0 342.0,20.5 342.6,20.1 343.1,19.7 343.6,19.4 344.2,19.1 344.7,18.9 345.2,18.7 345.8,18.5 346.3,18.4 346.8,18.2 347.4,18.1 347.9,18.0 348.4,17.9 349.0,17.8 349.5,17.7 350.1,17.6 350.6,17.6 351.1,17.5 351.7,17.4 352.2,17.4 352.7,17.3 353.3,17.3 353.8,17.2 354.3,17.2 354.9,17.2 355.4,17.1 355.9,17.1 356.5,17.1 357.0,17.0 357.5,17.0 358.1,17.0 358.6,17.0 359.1,17.0 359.7,16.9 360.2,16.9 360.8,16.9 361.3,16.9 361.8,16.9 362.4,16.8 362.9,16.8 363.4,16.8 364.0,16.8 364.5,16.8 365.0,16.8 365.6,16.8 366.1,16.7" fill="none" stroke="#eeeea0" stroke-width="0.9" stroke-linejoin="round"/>
<polyline points="331.2,16.5 333.8,16.5 334.0,44.5 334.5,40.4 335.1,37.0 335.6,34.1 336.1,31.7 336.7,29.6 337.2,27.8 337.7,26.3 338.3,25.0 338.8,24.0 339.4,23.0 339.9,22.2 340.4,21.6 341.0,21.0 341.5,20.5 342.0,20.1 342.6,19.7 343.1,19.4 343.6,19.1 344.2,18.9 344.7,18.7 345.2,18.5 345.8,18.3 346.3,18.2 346.8,18.0 347.4,17.9 347.9,17.8 348.4,17.7 349.0,17.7 349.5,17.6 350.1,17.5 350.6,17.5 351.1,17.4 351.7,17.4 352.2,17.3 352.7,17.3 353.3,17.2 353.8,17.2 354.3,17.2 354.9,17.1 355.4,17.1 355.9,17.1 356.5,17.0 357.0,17.0 357.5,17.0 358.1,17.0 358.6,16.9 359.1,16.9 359.7,16.9 360.2,16.9 360.8,16.9 361.3,16.8 361.8,16.8 362.4,16.8 362.9,16.8 363.4,16.8 364.0,16.8 364.5,16.8 365.0,16.8 365.6,16.7 366.1,16.7" fill="none" stroke="#a8a8a8" stroke-width="0.8" stroke-linejoin="round"/>
<polyline points="331.2,16.5 333.8,16.5 334.0,42.5 334.5,37.9 335.1,34.6 335.6,31.3 336.1,28.9 336.7,27.1 337.2,25.2 337.7,24.1 338.3,23.3 338.8,22.3 339.4,21.4 339.9,20.9 340.4,20.2 341.0,19.5 341.5,19.5 342.0,19.1 342.6,19.1 343.1,19.0 343.6,18.4 344.2,18.4 344.7,18.4 345.2,18.0 345.8,17.7 346.3,18.0 346.8,18.0 347.4,17.9 347.9,17.7 348.4,17.8 349.0,17.6 349.5,17.5 350.1,17.3 350.6,17.2 351.1,17.4 351.7,16.9 352.2,17.1 352.7,17.4 353.3,17.3 353.8,17.2 354.3,16.9 354.9,17.0 355.4,17.0 355.9,17.1 356.5,16.9 357.0,17.1 357.5,17.3 358.1,16.7 358.6,17.0 359.1,17.1 359.7,16.8 360.2,16.8 360.8,17.2 361.3,16.5 361.8,16.8 362.4,16.5 362.9,17.0 363.4,17.1 364.0,16.8 364.5,16.4 365.0,16.8 365.6,16.8 366.1,16.9" fill="none" stroke="#a098e0" stroke-width="0.55" stroke-linejoin="round"/>
<polyline points="331.2,16.5 333.8,16.5 334.0,52.5 334.5,46.8 335.1,42.2 335.6,38.4 336.1,34.9 336.7,32.1 337.2,30.2 337.7,27.7 338.3,26.5 338.8,25.0 339.4,24.2 339.9,22.7 340.4,22.6 341.0,21.4 341.5,20.6 342.0,20.3 342.6,20.0 343.1,19.4 343.6,19.4 344.2,19.1 344.7,19.1 345.2,18.6 345.8,18.4 346.3,18.2 346.8,18.5 347.4,18.5 347.9,18.1 348.4,17.8 349.0,18.1 349.5,17.7 350.1,17.5 350.6,17.4 351.1,17.8 351.7,17.8 352.2,17.6 352.7,17.4 353.3,17.5 353.8,17.1 354.3,17.7 354.9,17.2 355.4,17.4 355.9,17.5 356.5,17.4 357.0,17.1 357.5,17.0 358.1,17.1 358.6,16.8 359.1,17.3 359.7,16.9 360.2,17.3 360.8,16.8 361.3,16.8 361.8,16.7 362.4,16.8 362.9,16.6 363.4,16.5 364.0,17.0 364.5,16.7 365.0,16.6 365.6,16.7 366.1,16.8" fill="none" stroke="#dc5ccc" stroke-width="0.7" stroke-linejoin="round"/>
<line x1="371.20" y1="24.20" x2="371.20" y2="45.70" stroke="#000" stroke-width="1.4"/>
<line x1="350.00" y1="45.10" x2="371.90" y2="45.10" stroke="#000" stroke-width="1.4"/>
<text x="358.4" y="54.7" font-size="8.6" text-anchor="middle" fill="#000" stroke="#000" stroke-width="0.3" font-family="Liberation Sans, sans-serif" font-weight="bold">30 ms</text>
<text x="381.6" y="33.7" font-size="8.6" text-anchor="middle" fill="#000" stroke="#000" stroke-width="0.3" font-family="Liberation Sans, sans-serif" font-weight="bold" transform="rotate(-90 381.6 33.7)">100 pA</text>
<line x1="296.00" y1="79.10" x2="296.00" y2="117.80" stroke="#000" stroke-width="1.6"/>
<line x1="295.20" y1="117.00" x2="368.10" y2="117.00" stroke="#000" stroke-width="1.6"/>
<line x1="296.00" y1="117.00" x2="300.00" y2="117.00" stroke="#000" stroke-width="1.4"/>
<text x="291.4" y="120.1" font-size="8.8" text-anchor="end" fill="#000" stroke="#000" stroke-width="0.3" font-family="Liberation Sans, sans-serif" font-weight="bold">0</text>
<line x1="296.00" y1="98.25" x2="300.00" y2="98.25" stroke="#000" stroke-width="1.4"/>
<text x="291.4" y="101.35" font-size="8.8" text-anchor="end" fill="#000" stroke="#000" stroke-width="0.3" font-family="Liberation Sans, sans-serif" font-weight="bold">3</text>
<line x1="296.00" y1="79.50" x2="300.00" y2="79.50" stroke="#000" stroke-width="1.4"/>
<text x="291.4" y="82.6" font-size="8.8" text-anchor="end" fill="#000" stroke="#000" stroke-width="0.3" font-family="Liberation Sans, sans-serif" font-weight="bold">6</text>
<line x1="297.60" y1="117.00" x2="297.60" y2="113.20" stroke="#000" stroke-width="1.4"/>
<text x="297.6" y="130.5" font-size="8.8" text-anchor="middle" fill="#000" stroke="#000" stroke-width="0.3" font-family="Liberation Sans, sans-serif" font-weight="bold">1</text>
<line x1="321.00" y1="117.00" x2="321.00" y2="113.20" stroke="#000" stroke-width="1.4"/>
<text x="321.0" y="130.5" font-size="8.8" text-anchor="middle" fill="#000" stroke="#000" stroke-width="0.3" font-family="Liberation Sans, sans-serif" font-weight="bold">2</text>
<line x1="344.40" y1="117.00" x2="344.40" y2="113.20" stroke="#000" stroke-width="1.4"/>
<text x="344.40000000000003" y="130.5" font-size="8.8" text-anchor="middle" fill="#000" stroke="#000" stroke-width="0.3" font-family="Liberation Sans, sans-serif" font-weight="bold">3</text>
<line x1="367.80" y1="117.00" x2="367.80" y2="113.20" stroke="#000" stroke-width="1.4"/>
<text x="367.8" y="130.5" font-size="8.8" text-anchor="middle" fill="#000" stroke="#000" stroke-width="0.3" font-family="Liberation Sans, sans-serif" font-weight="bold">4</text>
<text x="334.9" y="141.39999999999998" font-size="8.9" text-anchor="middle" fill="#000" stroke="#000" stroke-width="0.3" font-family="Liberation Sans, sans-serif" font-weight="bold">Stimulus (mV)</text>
<text x="280.70000000000005" y="99" font-size="8.6" text-anchor="middle" fill="#000" stroke="#000" stroke-width="0.3" font-family="Liberation Sans, sans-serif" font-weight="bold" transform="rotate(-90 280.70000000000005 99)">Normalized EPSCs</text>
<line x1="297.60" y1="110.15" x2="297.60" y2="111.35" stroke="#555" stroke-width="0.6"/>
<line x1="296.40" y1="110.15" x2="298.80" y2="110.15" stroke="#555" stroke-width="0.6"/>
<line x1="296.40" y1="111.35" x2="298.80" y2="111.35" stroke="#555" stroke-width="0.6"/>
<line x1="309.30" y1="105.78" x2="309.30" y2="106.97" stroke="#555" stroke-width="0.6"/>
<line x1="308.10" y1="105.78" x2="310.50" y2="105.78" stroke="#555" stroke-width="0.6"/>
<line x1="308.10" y1="106.97" x2="310.50" y2="106.97" stroke="#555" stroke-width="0.6"/>
<line x1="321.00" y1="101.40" x2="321.00" y2="102.60" stroke="#555" stroke-width="0.6"/>
<line x1="319.80" y1="101.40" x2="322.20" y2="101.40" stroke="#555" stroke-width="0.6"/>
<line x1="319.80" y1="102.60" x2="322.20" y2="102.60" stroke="#555" stroke-width="0.6"/>
<line x1="332.70" y1="98.28" x2="332.70" y2="99.47" stroke="#555" stroke-width="0.6"/>
<line x1="331.50" y1="98.28" x2="333.90" y2="98.28" stroke="#555" stroke-width="0.6"/>
<line x1="331.50" y1="99.47" x2="333.90" y2="99.47" stroke="#555" stroke-width="0.6"/>
<line x1="344.40" y1="96.67" x2="344.40" y2="98.58" stroke="#555" stroke-width="0.6"/>
<line x1="343.20" y1="96.67" x2="345.60" y2="96.67" stroke="#555" stroke-width="0.6"/>
<line x1="343.20" y1="98.58" x2="345.60" y2="98.58" stroke="#555" stroke-width="0.6"/>
<line x1="356.10" y1="95.08" x2="356.10" y2="97.67" stroke="#555" stroke-width="0.6"/>
<line x1="354.90" y1="95.08" x2="357.30" y2="95.08" stroke="#555" stroke-width="0.6"/>
<line x1="354.90" y1="97.67" x2="357.30" y2="97.67" stroke="#555" stroke-width="0.6"/>
<line x1="367.80" y1="94.72" x2="367.80" y2="98.03" stroke="#555" stroke-width="0.6"/>
<line x1="366.60" y1="94.72" x2="369.00" y2="94.72" stroke="#555" stroke-width="0.6"/>
<line x1="366.60" y1="98.03" x2="369.00" y2="98.03" stroke="#555" stroke-width="0.6"/>
<line x1="297.60" y1="110.15" x2="297.60" y2="111.35" stroke="#555" stroke-width="0.6"/>
<line x1="296.40" y1="110.15" x2="298.80" y2="110.15" stroke="#555" stroke-width="0.6"/>
<line x1="296.40" y1="111.35" x2="298.80" y2="111.35" stroke="#555" stroke-width="0.6"/>
<line x1="309.30" y1="102.65" x2="309.30" y2="103.85" stroke="#555" stroke-width="0.6"/>
<line x1="308.10" y1="102.65" x2="310.50" y2="102.65" stroke="#555" stroke-width="0.6"/>
<line x1="308.10" y1="103.85" x2="310.50" y2="103.85" stroke="#555" stroke-width="0.6"/>
<line x1="321.00" y1="97.03" x2="321.00" y2="98.22" stroke="#555" stroke-width="0.6"/>
<line x1="319.80" y1="97.03" x2="322.20" y2="97.03" stroke="#555" stroke-width="0.6"/>
<line x1="319.80" y1="98.22" x2="322.20" y2="98.22" stroke="#555" stroke-width="0.6"/>
<line x1="332.70" y1="92.03" x2="332.70" y2="93.22" stroke="#555" stroke-width="0.6"/>
<line x1="331.50" y1="92.03" x2="333.90" y2="92.03" stroke="#555" stroke-width="0.6"/>
<line x1="331.50" y1="93.22" x2="333.90" y2="93.22" stroke="#555" stroke-width="0.6"/>
<line x1="344.40" y1="87.92" x2="344.40" y2="89.83" stroke="#555" stroke-width="0.6"/>
<line x1="343.20" y1="87.92" x2="345.60" y2="87.92" stroke="#555" stroke-width="0.6"/>
<line x1="343.20" y1="89.83" x2="345.60" y2="89.83" stroke="#555" stroke-width="0.6"/>
<line x1="356.10" y1="84.45" x2="356.10" y2="87.05" stroke="#555" stroke-width="0.6"/>
<line x1="354.90" y1="84.45" x2="357.30" y2="84.45" stroke="#555" stroke-width="0.6"/>
<line x1="354.90" y1="87.05" x2="357.30" y2="87.05" stroke="#555" stroke-width="0.6"/>
<line x1="367.80" y1="83.47" x2="367.80" y2="86.78" stroke="#555" stroke-width="0.6"/>
<line x1="366.60" y1="83.47" x2="369.00" y2="83.47" stroke="#555" stroke-width="0.6"/>
<line x1="366.60" y1="86.78" x2="369.00" y2="86.78" stroke="#555" stroke-width="0.6"/>
<polyline points="297.6,110.8 309.3,106.4 321.0,102.0 332.7,98.9 344.4,97.6 356.1,96.4 367.8,96.4" fill="none" stroke="#00f000" stroke-width="1.1" stroke-linejoin="round"/>
<rect x="295.60" y="108.75" width="4.00" height="4.00" fill="#00f000"/>
<rect x="307.30" y="104.38" width="4.00" height="4.00" fill="#00f000"/>
<rect x="319.00" y="100.00" width="4.00" height="4.00" fill="#00f000"/>
<rect x="330.70" y="96.88" width="4.00" height="4.00" fill="#00f000"/>
<rect x="342.40" y="95.62" width="4.00" height="4.00" fill="#00f000"/>
<rect x="354.10" y="94.38" width="4.00" height="4.00" fill="#00f000"/>
<rect x="365.80" y="94.38" width="4.00" height="4.00" fill="#00f000"/>
<polyline points="297.6,110.8 309.3,103.2 321.0,97.6 332.7,92.6 344.4,88.9 356.1,85.8 367.8,85.1" fill="none" stroke="#ff0000" stroke-width="1.1" stroke-linejoin="round"/>
<rect x="295.60" y="108.75" width="4.00" height="4.00" fill="#ff0000"/>
<rect x="307.30" y="101.25" width="4.00" height="4.00" fill="#ff0000"/>
<rect x="319.00" y="95.62" width="4.00" height="4.00" fill="#ff0000"/>
<rect x="330.70" y="90.62" width="4.00" height="4.00" fill="#ff0000"/>
<rect x="342.40" y="86.88" width="4.00" height="4.00" fill="#ff0000"/>
<rect x="354.10" y="83.75" width="4.00" height="4.00" fill="#ff0000"/>
<rect x="365.80" y="83.12" width="4.00" height="4.00" fill="#ff0000"/>
<text x="344.40000000000003" y="98.45" font-size="10" text-anchor="middle" fill="#222" stroke="#222" stroke-width="0.3" font-family="Liberation Sans, sans-serif" font-weight="bold">*</text>
<text x="356.1" y="96.2625" font-size="10" text-anchor="middle" fill="#222" stroke="#222" stroke-width="0.3" font-family="Liberation Sans, sans-serif" font-weight="bold">*</text>
<text x="367.8" y="95.95" font-size="10" text-anchor="middle" fill="#222" stroke="#222" stroke-width="0.3" font-family="Liberation Sans, sans-serif" font-weight="bold">*</text>
<text x="328.2" y="82.8" font-size="9.6" text-anchor="start" fill="#000" stroke="#000" stroke-width="0.3" font-family="Liberation Sans, sans-serif" font-weight="bold">EPAC<tspan font-size="7.6" dy="-2.9" stroke-width="0.15">+/-</tspan></text>
<text x="331.7" y="109.3" font-size="9.6" text-anchor="start" fill="#000" stroke="#000" stroke-width="0.3" font-family="Liberation Sans, sans-serif" font-weight="bold">EPAC<tspan font-size="7.6" dy="-2.9" stroke-width="0.15">-/-</tspan></text>
<text x="412.6" y="12.0" font-size="9.6" text-anchor="start" fill="#000" stroke="#000" stroke-width="0.3" font-family="Liberation Sans, sans-serif" font-weight="bold">IN-EPAC<tspan font-size="7.6" dy="-2.9" stroke-width="0.15">+/-</tspan></text>
<text x="462" y="12.0" font-size="9.6" text-anchor="start" fill="#000" stroke="#000" stroke-width="0.3" font-family="Liberation Sans, sans-serif" font-weight="bold">IN-EPAC<tspan font-size="7.6" dy="-2.9" stroke-width="0.15">-/-</tspan></text>
<line x1="421.10" y1="16.50" x2="422.60" y2="17.00" stroke="#888" stroke-width="1"/>
<polyline points="421.1,17.5 423.4,17.5 423.6,44.5 424.1,40.6 424.7,37.4 425.2,34.6 425.8,32.2 426.3,30.2 426.9,28.5 427.4,27.1 428.0,25.8 428.5,24.8 429.1,23.9 429.6,23.1 430.1,22.5 430.7,21.9 431.2,21.4 431.8,21.0 432.3,20.6 432.9,20.3 433.4,20.0 434.0,19.8 434.5,19.6 435.0,19.4 435.6,19.3 436.1,19.1 436.7,19.0 437.2,18.9 437.8,18.8 438.3,18.7 438.9,18.6 439.4,18.5 440.0,18.5 440.5,18.4 441.0,18.4 441.6,18.3 442.1,18.3 442.7,18.2 443.2,18.2 443.8,18.1 444.3,18.1 444.9,18.1 445.4,18.1 445.9,18.0 446.5,18.0 447.0,18.0 447.6,18.0 448.1,17.9 448.7,17.9 449.2,17.9 449.8,17.9 450.3,17.9 450.9,17.8 451.4,17.8 451.9,17.8 452.5,17.8 453.0,17.8 453.6,17.8 454.1,17.8 454.7,17.7 455.2,17.7 455.8,17.7 456.3,17.7" fill="none" stroke="#eeeea0" stroke-width="0.9" stroke-linejoin="round"/>
<polyline points="421.1,17.5 423.4,17.5 423.6,52.5 424.1,47.3 424.7,43.0 425.2,39.3 425.8,36.2 426.3,33.6 426.9,31.4 427.4,29.6 428.0,28.0 428.5,26.6 429.1,25.5 429.6,24.5 430.1,23.7 430.7,23.0 431.2,22.4 431.8,21.8 432.3,21.4 432.9,21.0 433.4,20.7 434.0,20.4 434.5,20.1 435.0,19.9 435.6,19.7 436.1,19.5 436.7,19.4 437.2,19.2 437.8,19.1 438.3,19.0 438.9,18.9 439.4,18.8 440.0,18.7 440.5,18.7 441.0,18.6 441.6,18.5 442.1,18.5 442.7,18.4 443.2,18.4 443.8,18.3 444.3,18.3 444.9,18.2 445.4,18.2 445.9,18.2 446.5,18.1 447.0,18.1 447.6,18.1 448.1,18.1 448.7,18.0 449.2,18.0 449.8,18.0 450.3,18.0 450.9,17.9 451.4,17.9 451.9,17.9 452.5,17.9 453.0,17.9 453.6,17.8 454.1,17.8 454.7,17.8 455.2,17.8 455.8,17.8 456.3,17.8" fill="none" stroke="#a8a8a8" stroke-width="0.8" stroke-linejoin="round"/>
<polyline points="421.1,17.5 423.4,17.5 423.6,65.5 424.1,57.4 424.7,50.3 425.2,45.2 425.8,40.5 426.3,37.1 426.9,33.6 427.4,31.2 428.0,29.0 428.5,28.0 429.1,26.7 429.6,25.3 430.1,24.1 430.7,23.7 431.2,23.0 431.8,22.3 432.3,21.6 432.9,21.2 433.4,21.0 434.0,20.6 434.5,20.4 435.0,20.4 435.6,20.4 436.1,19.5 436.7,19.8 437.2,19.2 437.8,19.1 438.3,19.6 438.9,19.3 439.4,19.5 440.0,19.0 440.5,18.6 441.0,18.8 441.6,18.9 442.1,19.1 442.7,19.1 443.2,18.6 443.8,18.5 444.3,18.2 444.9,18.6 445.4,18.2 445.9,18.1 446.5,18.0 447.0,17.9 447.6,18.4 448.1,17.9 448.7,18.6 449.2,17.9 449.8,18.4 450.3,17.8 450.9,17.7 451.4,18.2 451.9,17.8 452.5,18.2 453.0,17.7 453.6,17.6 454.1,18.2 454.7,18.1 455.2,18.2 455.8,18.1 456.3,17.5" fill="none" stroke="#a098e0" stroke-width="0.55" stroke-linejoin="round"/>
<polyline points="421.1,17.5 423.4,17.5 423.6,57.5 424.1,51.2 424.7,45.9 425.2,41.3 425.8,38.0 426.3,34.4 426.9,32.5 427.4,30.2 428.0,27.9 428.5,26.4 429.1,25.7 429.6,24.8 430.1,23.4 430.7,22.8 431.2,22.5 431.8,21.6 432.3,21.7 432.9,21.0 433.4,20.3 434.0,20.3 434.5,20.2 435.0,19.9 435.6,19.9 436.1,19.3 436.7,19.7 437.2,19.2 437.8,19.3 438.3,19.2 438.9,18.9 439.4,18.8 440.0,19.1 440.5,19.1 441.0,18.9 441.6,18.7 442.1,18.4 442.7,18.2 443.2,18.8 443.8,18.6 444.3,18.6 444.9,18.2 445.4,18.4 445.9,18.6 446.5,18.5 447.0,18.3 447.6,18.0 448.1,18.1 448.7,18.4 449.2,18.0 449.8,18.2 450.3,18.1 450.9,18.3 451.4,18.2 451.9,17.8 452.5,17.5 453.0,17.7 453.6,17.8 454.1,17.9 454.7,18.1 455.2,18.2 455.8,17.5 456.3,18.1" fill="none" stroke="#dc5ccc" stroke-width="0.7" stroke-linejoin="round"/>
<line x1="466.70" y1="16.50" x2="468.20" y2="17.00" stroke="#888" stroke-width="1"/>
<polyline points="466.7,17.5 470.4,17.5 470.6,40.5 471.1,37.3 471.7,34.6 472.2,32.3 472.7,30.3 473.2,28.6 473.8,27.1 474.3,25.9 474.8,24.8 475.4,23.9 475.9,23.2 476.4,22.5 476.9,21.9 477.5,21.4 478.0,21.0 478.5,20.6 479.1,20.3 479.6,20.0 480.1,19.8 480.6,19.6 481.2,19.4 481.7,19.2 482.2,19.1 482.8,19.0 483.3,18.8 483.8,18.7 484.3,18.7 484.9,18.6 485.4,18.5 485.9,18.4 486.5,18.4 487.0,18.3 487.5,18.3 488.0,18.2 488.6,18.2 489.1,18.2 489.6,18.1 490.1,18.1 490.7,18.1 491.2,18.0 491.7,18.0 492.3,18.0 492.8,18.0 493.3,17.9 493.8,17.9 494.4,17.9 494.9,17.9 495.4,17.9 496.0,17.8 496.5,17.8 497.0,17.8 497.5,17.8 498.1,17.8 498.6,17.8 499.1,17.8 499.7,17.7 500.2,17.7 500.7,17.7 501.2,17.7 501.8,17.7 502.3,17.7" fill="none" stroke="#eeeea0" stroke-width="0.9" stroke-linejoin="round"/>
<polyline points="466.7,17.5 470.4,17.5 470.6,43.5 471.1,39.8 471.7,36.6 472.2,34.0 472.7,31.7 473.2,29.8 473.8,28.1 474.3,26.7 474.8,25.5 475.4,24.5 475.9,23.7 476.4,22.9 476.9,22.3 477.5,21.8 478.0,21.3 478.5,20.9 479.1,20.5 479.6,20.2 480.1,20.0 480.6,19.7 481.2,19.6 481.7,19.4 482.2,19.2 482.8,19.1 483.3,19.0 483.8,18.9 484.3,18.8 484.9,18.7 485.4,18.6 485.9,18.5 486.5,18.5 487.0,18.4 487.5,18.4 488.0,18.3 488.6,18.3 489.1,18.2 489.6,18.2 490.1,18.2 490.7,18.1 491.2,18.1 491.7,18.1 492.3,18.0 492.8,18.0 493.3,18.0 493.8,18.0 494.4,17.9 494.9,17.9 495.4,17.9 496.0,17.9 496.5,17.9 497.0,17.8 497.5,17.8 498.1,17.8 498.6,17.8 499.1,17.8 499.7,17.8 500.2,17.8 500.7,17.8 501.2,17.7 501.8,17.7 502.3,17.7" fill="none" stroke="#a8a8a8" stroke-width="0.8" stroke-linejoin="round"/>
<polyline points="466.7,17.5 470.4,17.5 470.6,52.5 471.1,46.8 471.7,41.5 472.2,38.1 472.7,34.4 473.2,31.6 473.8,30.2 474.3,27.8 474.8,26.9 475.4,25.6 475.9,24.6 476.4,23.1 476.9,22.6 477.5,21.7 478.0,21.9 478.5,21.4 479.1,20.9 479.6,20.4 480.1,20.1 480.6,20.2 481.2,19.8 481.7,19.7 482.2,19.2 482.8,19.1 483.3,18.8 483.8,19.3 484.3,19.0 484.9,18.6 485.4,19.1 485.9,18.6 486.5,18.6 487.0,18.4 487.5,18.4 488.0,18.8 488.6,18.3 489.1,18.2 489.6,18.4 490.1,18.2 490.7,18.6 491.2,18.0 491.7,18.6 492.3,17.8 492.8,18.5 493.3,18.3 493.8,17.9 494.4,18.1 494.9,17.9 495.4,17.8 496.0,17.8 496.5,17.9 497.0,18.4 497.5,18.3 498.1,18.3 498.6,17.6 499.1,17.7 499.7,18.2 500.2,17.5 500.7,18.0 501.2,17.7 501.8,18.2 502.3,17.4" fill="none" stroke="#a098e0" stroke-width="0.55" stroke-linejoin="round"/>
<polyline points="466.7,17.5 470.4,17.5 470.6,44.5 471.1,40.5 471.7,36.6 472.2,33.5 472.7,31.0 473.2,29.6 473.8,27.7 474.3,26.0 474.8,25.0 475.4,24.4 475.9,23.0 476.4,22.5 476.9,21.6 477.5,21.1 478.0,21.2 478.5,20.7 479.1,20.0 479.6,19.7 480.1,19.4 480.6,19.6 481.2,19.4 481.7,19.1 482.2,18.9 482.8,19.1 483.3,19.0 483.8,19.0 484.3,18.8 484.9,18.4 485.4,18.2 485.9,18.7 486.5,18.4 487.0,18.6 487.5,18.0 488.0,18.6 488.6,18.1 489.1,18.5 489.6,18.5 490.1,18.2 490.7,17.7 491.2,18.4 491.7,18.1 492.3,18.3 492.8,17.8 493.3,17.7 493.8,18.2 494.4,17.8 494.9,17.7 495.4,17.8 496.0,18.0 496.5,17.5 497.0,17.9 497.5,17.8 498.1,17.8 498.6,17.5 499.1,18.0 499.7,18.0 500.2,18.1 500.7,17.6 501.2,17.9 501.8,17.6 502.3,17.9" fill="none" stroke="#dc5ccc" stroke-width="0.7" stroke-linejoin="round"/>
<line x1="494.80" y1="30.90" x2="494.80" y2="51.90" stroke="#000" stroke-width="1.4"/>
<line x1="472.90" y1="51.30" x2="495.50" y2="51.30" stroke="#000" stroke-width="1.4"/>
<text x="485.5" y="62" font-size="8.6" text-anchor="middle" fill="#000" stroke="#000" stroke-width="0.3" font-family="Liberation Sans, sans-serif" font-weight="bold">30 ms</text>
<text x="505" y="40.7" font-size="8.6" text-anchor="middle" fill="#000" stroke="#000" stroke-width="0.3" font-family="Liberation Sans, sans-serif" font-weight="bold" transform="rotate(-90 505 40.7)">100 pA</text>
<line x1="422.50" y1="79.80" x2="422.50" y2="118.30" stroke="#000" stroke-width="1.6"/>
<line x1="421.70" y1="117.50" x2="505.40" y2="117.50" stroke="#000" stroke-width="1.6"/>
<line x1="422.50" y1="117.50" x2="426.50" y2="117.50" stroke="#000" stroke-width="1.4"/>
<text x="417.9" y="120.6" font-size="8.8" text-anchor="end" fill="#000" stroke="#000" stroke-width="0.3" font-family="Liberation Sans, sans-serif" font-weight="bold">0</text>
<line x1="422.50" y1="98.85" x2="426.50" y2="98.85" stroke="#000" stroke-width="1.4"/>
<text x="417.9" y="101.94999999999999" font-size="8.8" text-anchor="end" fill="#000" stroke="#000" stroke-width="0.3" font-family="Liberation Sans, sans-serif" font-weight="bold">3</text>
<line x1="422.50" y1="80.20" x2="426.50" y2="80.20" stroke="#000" stroke-width="1.4"/>
<text x="417.9" y="83.3" font-size="8.8" text-anchor="end" fill="#000" stroke="#000" stroke-width="0.3" font-family="Liberation Sans, sans-serif" font-weight="bold">6</text>
<line x1="425.70" y1="117.50" x2="425.70" y2="113.70" stroke="#000" stroke-width="1.4"/>
<text x="425.7" y="131.4" font-size="8.8" text-anchor="middle" fill="#000" stroke="#000" stroke-width="0.3" font-family="Liberation Sans, sans-serif" font-weight="bold">1</text>
<line x1="452.17" y1="117.50" x2="452.17" y2="113.70" stroke="#000" stroke-width="1.4"/>
<text x="452.1666666666667" y="131.4" font-size="8.8" text-anchor="middle" fill="#000" stroke="#000" stroke-width="0.3" font-family="Liberation Sans, sans-serif" font-weight="bold">2</text>
<line x1="478.63" y1="117.50" x2="478.63" y2="113.70" stroke="#000" stroke-width="1.4"/>
<text x="478.6333333333333" y="131.4" font-size="8.8" text-anchor="middle" fill="#000" stroke="#000" stroke-width="0.3" font-family="Liberation Sans, sans-serif" font-weight="bold">3</text>
<line x1="505.10" y1="117.50" x2="505.10" y2="113.70" stroke="#000" stroke-width="1.4"/>
<text x="505.1" y="131.4" font-size="8.8" text-anchor="middle" fill="#000" stroke="#000" stroke-width="0.3" font-family="Liberation Sans, sans-serif" font-weight="bold">4</text>
<text x="468.8" y="142.5" font-size="8.9" text-anchor="middle" fill="#000" stroke="#000" stroke-width="0.3" font-family="Liberation Sans, sans-serif" font-weight="bold">Stimulus (mV)</text>
<text x="408.8" y="99" font-size="8.6" text-anchor="middle" fill="#000" stroke="#000" stroke-width="0.3" font-family="Liberation Sans, sans-serif" font-weight="bold" transform="rotate(-90 408.8 99)">Normalized EPSCs</text>
<line x1="425.70" y1="110.68" x2="425.70" y2="111.88" stroke="#555" stroke-width="0.6"/>
<line x1="424.50" y1="110.68" x2="426.90" y2="110.68" stroke="#555" stroke-width="0.6"/>
<line x1="424.50" y1="111.88" x2="426.90" y2="111.88" stroke="#555" stroke-width="0.6"/>
<line x1="438.93" y1="106.33" x2="438.93" y2="107.53" stroke="#555" stroke-width="0.6"/>
<line x1="437.73" y1="106.33" x2="440.13" y2="106.33" stroke="#555" stroke-width="0.6"/>
<line x1="437.73" y1="107.53" x2="440.13" y2="107.53" stroke="#555" stroke-width="0.6"/>
<line x1="452.17" y1="102.60" x2="452.17" y2="103.80" stroke="#555" stroke-width="0.6"/>
<line x1="450.97" y1="102.60" x2="453.37" y2="102.60" stroke="#555" stroke-width="0.6"/>
<line x1="450.97" y1="103.80" x2="453.37" y2="103.80" stroke="#555" stroke-width="0.6"/>
<line x1="465.40" y1="100.12" x2="465.40" y2="101.31" stroke="#555" stroke-width="0.6"/>
<line x1="464.20" y1="100.12" x2="466.60" y2="100.12" stroke="#555" stroke-width="0.6"/>
<line x1="464.20" y1="101.31" x2="466.60" y2="101.31" stroke="#555" stroke-width="0.6"/>
<line x1="478.63" y1="97.28" x2="478.63" y2="99.18" stroke="#555" stroke-width="0.6"/>
<line x1="477.43" y1="97.28" x2="479.83" y2="97.28" stroke="#555" stroke-width="0.6"/>
<line x1="477.43" y1="99.18" x2="479.83" y2="99.18" stroke="#555" stroke-width="0.6"/>
<line x1="491.87" y1="96.31" x2="491.87" y2="98.91" stroke="#555" stroke-width="0.6"/>
<line x1="490.67" y1="96.31" x2="493.07" y2="96.31" stroke="#555" stroke-width="0.6"/>
<line x1="490.67" y1="98.91" x2="493.07" y2="98.91" stroke="#555" stroke-width="0.6"/>
<line x1="505.10" y1="95.33" x2="505.10" y2="98.64" stroke="#555" stroke-width="0.6"/>
<line x1="503.90" y1="95.33" x2="506.30" y2="95.33" stroke="#555" stroke-width="0.6"/>
<line x1="503.90" y1="98.64" x2="506.30" y2="98.64" stroke="#555" stroke-width="0.6"/>
<line x1="425.70" y1="110.68" x2="425.70" y2="111.88" stroke="#555" stroke-width="0.6"/>
<line x1="424.50" y1="110.68" x2="426.90" y2="110.68" stroke="#555" stroke-width="0.6"/>
<line x1="424.50" y1="111.88" x2="426.90" y2="111.88" stroke="#555" stroke-width="0.6"/>
<line x1="438.93" y1="103.84" x2="438.93" y2="105.04" stroke="#555" stroke-width="0.6"/>
<line x1="437.73" y1="103.84" x2="440.13" y2="103.84" stroke="#555" stroke-width="0.6"/>
<line x1="437.73" y1="105.04" x2="440.13" y2="105.04" stroke="#555" stroke-width="0.6"/>
<line x1="452.17" y1="98.87" x2="452.17" y2="100.07" stroke="#555" stroke-width="0.6"/>
<line x1="450.97" y1="98.87" x2="453.37" y2="98.87" stroke="#555" stroke-width="0.6"/>
<line x1="450.97" y1="100.07" x2="453.37" y2="100.07" stroke="#555" stroke-width="0.6"/>
<line x1="465.40" y1="93.28" x2="465.40" y2="94.48" stroke="#555" stroke-width="0.6"/>
<line x1="464.20" y1="93.28" x2="466.60" y2="93.28" stroke="#555" stroke-width="0.6"/>
<line x1="464.20" y1="94.48" x2="466.60" y2="94.48" stroke="#555" stroke-width="0.6"/>
<line x1="478.63" y1="89.82" x2="478.63" y2="91.72" stroke="#555" stroke-width="0.6"/>
<line x1="477.43" y1="89.82" x2="479.83" y2="89.82" stroke="#555" stroke-width="0.6"/>
<line x1="477.43" y1="91.72" x2="479.83" y2="91.72" stroke="#555" stroke-width="0.6"/>
<line x1="491.87" y1="85.74" x2="491.87" y2="88.34" stroke="#555" stroke-width="0.6"/>
<line x1="490.67" y1="85.74" x2="493.07" y2="85.74" stroke="#555" stroke-width="0.6"/>
<line x1="490.67" y1="88.34" x2="493.07" y2="88.34" stroke="#555" stroke-width="0.6"/>
<line x1="505.10" y1="83.52" x2="505.10" y2="86.82" stroke="#555" stroke-width="0.6"/>
<line x1="503.90" y1="83.52" x2="506.30" y2="83.52" stroke="#555" stroke-width="0.6"/>
<line x1="503.90" y1="86.82" x2="506.30" y2="86.82" stroke="#555" stroke-width="0.6"/>
<polyline points="425.7,111.3 438.9,106.9 452.2,103.2 465.4,100.7 478.6,98.2 491.9,97.6 505.1,97.0" fill="none" stroke="#00f000" stroke-width="1.1" stroke-linejoin="round"/>
<rect x="423.70" y="109.28" width="4.00" height="4.00" fill="#00f000"/>
<rect x="436.93" y="104.93" width="4.00" height="4.00" fill="#00f000"/>
<rect x="450.17" y="101.20" width="4.00" height="4.00" fill="#00f000"/>
<rect x="463.40" y="98.72" width="4.00" height="4.00" fill="#00f000"/>
<rect x="476.63" y="96.23" width="4.00" height="4.00" fill="#00f000"/>
<rect x="489.87" y="95.61" width="4.00" height="4.00" fill="#00f000"/>
<rect x="503.10" y="94.98" width="4.00" height="4.00" fill="#00f000"/>
<polyline points="425.7,111.3 438.9,104.4 452.2,99.5 465.4,93.9 478.6,90.8 491.9,87.0 505.1,85.2" fill="none" stroke="#ff0000" stroke-width="1.1" stroke-linejoin="round"/>
<rect x="423.70" y="109.28" width="4.00" height="4.00" fill="#ff0000"/>
<rect x="436.93" y="102.44" width="4.00" height="4.00" fill="#ff0000"/>
<rect x="450.17" y="97.47" width="4.00" height="4.00" fill="#ff0000"/>
<rect x="463.40" y="91.88" width="4.00" height="4.00" fill="#ff0000"/>
<rect x="476.63" y="88.77" width="4.00" height="4.00" fill="#ff0000"/>
<rect x="489.87" y="85.04" width="4.00" height="4.00" fill="#ff0000"/>
<rect x="503.10" y="83.17" width="4.00" height="4.00" fill="#ff0000"/>
<text x="478.6333333333333" y="99.69833333333334" font-size="10" text-anchor="middle" fill="#222" stroke="#222" stroke-width="0.3" font-family="Liberation Sans, sans-serif" font-weight="bold">*</text>
<text x="491.8666666666667" y="97.5225" font-size="10" text-anchor="middle" fill="#222" stroke="#222" stroke-width="0.3" font-family="Liberation Sans, sans-serif" font-weight="bold">*</text>
<text x="505.1" y="96.27916666666667" font-size="10" text-anchor="middle" fill="#222" stroke="#222" stroke-width="0.3" font-family="Liberation Sans, sans-serif" font-weight="bold">*</text>
<text x="460.9" y="81.7" font-size="9.6" text-anchor="start" fill="#000" stroke="#000" stroke-width="0.3" font-family="Liberation Sans, sans-serif" font-weight="bold">IN-EPAC<tspan font-size="7.6" dy="-2.9" stroke-width="0.15">+/-</tspan></text>
<text x="464.4" y="110.39999999999999" font-size="9.6" text-anchor="start" fill="#000" stroke="#000" stroke-width="0.3" font-family="Liberation Sans, sans-serif" font-weight="bold">IN-EPAC<tspan font-size="7.6" dy="-2.9" stroke-width="0.15">-/-</tspan></text>
<text x="1.2" y="15.8" font-size="17.5" text-anchor="start" fill="#000" stroke="#000" stroke-width="0.3" font-family="Liberation Sans, sans-serif" font-weight="bold">A</text>
<text x="1.0" y="184.3" font-size="16.8" text-anchor="start" fill="#000" stroke="#000" stroke-width="0.3" font-family="Liberation Sans, sans-serif" font-weight="bold">B</text>
<polyline points="8.9,194.3 9.2,194.6 9.6,194.9 9.9,194.9 10.2,194.9 10.6,194.6 10.9,195.0 11.2,194.7 11.6,194.2 11.9,194.6 12.2,194.2 12.6,195.1 12.9,195.1 13.2,194.5 13.6,194.4 13.9,194.9 14.2,194.3 14.6,194.3 14.9,194.3 15.2,194.5 15.6,194.8 15.9,195.2 16.2,194.3 16.6,195.2 16.9,194.7 17.2,195.1 17.6,195.0 17.9,194.3 18.2,194.8 18.6,194.2 18.9,194.1 19.2,194.5 19.6,195.0 19.9,194.7 20.2,194.3 20.6,195.0 20.9,195.1 21.2,194.4 21.6,194.6 21.9,194.8 22.2,195.1 22.6,194.2 22.9,194.7 23.2,195.2 23.6,194.8 23.9,194.9 24.2,195.0 24.6,194.7 24.9,194.4 25.3,194.7 25.6,194.7 25.9,194.5 26.3,195.0 26.6,194.5 26.9,194.6 27.3,194.9 27.6,195.0 27.9,195.1 28.3,194.8 28.6,194.4 28.9,195.0 29.3,195.1 29.6,194.9 29.9,194.9 30.3,194.7 30.6,194.6 30.9,194.7 31.3,194.3 31.6,194.8 31.9,195.0 32.3,194.3 32.6,194.9 32.9,194.9 33.3,194.2 33.6,194.2 33.9,194.8 34.3,194.3 34.6,194.4 34.9,194.8 35.3,194.8 35.6,194.9 35.9,194.7 36.3,194.5 36.6,194.1 36.9,194.2 37.3,194.3 37.6,194.7 37.9,194.9 38.3,194.3 38.6,194.5 38.9,195.1 39.3,194.5 39.6,194.9 39.9,194.8 40.3,194.8 40.6,194.6 40.9,194.7 41.3,194.9 41.6,194.3 41.9,195.0 42.3,195.1 42.6,194.2 42.9,194.3 43.3,194.4 43.6,194.2 43.9,194.3 44.3,194.8 44.6,194.2 44.9,194.2 45.3,195.1 45.6,194.5 45.9,194.7 46.3,194.6 46.6,194.5 46.9,194.6 47.3,194.3 47.6,194.7 47.9,194.4 48.3,194.3 48.6,194.3 48.9,194.6 49.3,195.1 49.6,194.8 49.9,195.2 50.3,194.5 50.6,194.4 50.9,194.9 51.3,194.3 51.6,195.2 51.9,194.5 52.3,194.4 52.6,194.4 52.9,194.4 53.3,195.1 53.6,195.2 53.9,194.7 54.3,194.4 54.6,194.1 54.9,194.2 55.3,194.4 55.6,194.8 55.9,194.8 56.3,195.0 56.6,195.0 56.9,194.5 57.3,194.8 57.6,194.6 58.0,194.9 58.3,194.3 58.6,195.2 59.0,194.1 59.3,194.8 59.6,194.5 60.0,195.0 60.3,194.3 60.6,195.1 61.0,194.1 61.3,194.9 61.6,194.9 62.0,194.7 62.3,194.3 62.6,194.5 63.0,194.6 63.3,194.3 63.6,194.3 64.0,195.0 64.3,194.7 64.6,194.4 65.0,194.8 65.3,194.8 65.6,194.2 66.0,194.7 66.3,194.7 66.6,194.2 67.0,194.4 67.3,195.0 67.6,194.7 68.0,194.3 68.3,194.5 68.6,194.6 69.0,194.9 69.3,195.0 69.6,194.2 70.0,194.2 70.3,194.6 70.6,194.1 71.0,194.3 71.3,194.2 71.6,194.2 72.0,194.8 72.3,194.2 72.6,194.7 73.0,195.2 73.3,194.3 73.6,194.9 74.0,194.7 74.3,194.3 74.6,195.1 75.0,194.9 75.3,194.5 75.6,195.1 76.0,194.2 76.3,195.0 76.6,195.0 77.0,194.2 77.3,195.1 77.6,195.0 78.0,195.1 78.3,194.4 78.6,194.9 79.0,195.0 79.3,194.5 79.6,194.1 80.0,194.1 80.3,194.7 80.6,194.7 81.0,194.2 81.3,194.8 81.6,194.2 82.0,194.6 82.3,194.7 82.6,194.3 83.0,194.2 83.3,195.1 83.6,195.0 84.0,194.7 84.3,194.1 84.6,194.7 85.0,195.2 85.3,194.9 85.6,194.9 86.0,194.1 86.3,194.7 86.6,194.4 87.0,195.2 87.3,194.1 87.6,194.3 88.0,195.1 88.3,194.2 88.6,194.4 89.0,194.4 89.3,195.1 89.6,194.9 90.0,195.1 90.3,194.3 90.7,194.2 91.0,194.5 91.3,194.9 91.7,194.8 92.0,195.1 92.3,194.9 92.7,194.2 93.0,194.4 93.3,194.3 93.7,194.4 94.0,194.8 94.3,194.6 94.7,194.9 95.0,194.1 95.3,195.1 95.7,194.3 96.0,194.9 96.3,195.0 96.7,194.1 97.0,194.7 97.3,195.2 97.7,194.1 98.0,194.6 98.3,194.6 98.7,194.5 99.0,194.3 99.3,194.3 99.7,194.4 100.0,194.3 100.3,194.4 100.7,195.1 101.0,195.1 101.3,194.4 101.7,194.1 102.0,194.4 102.3,195.0 102.7,194.3 103.0,194.8 103.3,194.2 103.7,194.5 104.0,194.3 104.3,194.8 104.7,194.5 105.0,195.0 105.3,194.7 105.7,194.5 106.0,194.1 106.3,195.0 106.7,194.1 107.0,194.6 107.3,195.2 107.7,195.0 108.0,194.5 108.3,195.1 108.7,194.4 109.0,194.7 109.3,194.7 109.7,194.9 110.0,194.4 110.3,194.5 110.7,194.5 111.0,195.1 111.3,194.9 111.7,194.5 112.0,195.0 112.3,194.8 112.7,194.4 113.0,194.6 113.3,194.2 113.7,194.3 114.0,194.2 114.3,194.2 114.7,194.8 115.0,195.0 115.3,195.0 115.7,194.3 116.0,195.1 116.3,194.5 116.7,194.9 117.0,194.8 117.3,194.6 117.7,194.9 118.0,195.1 118.3,194.9 118.7,194.7 119.0,195.0 119.3,194.9 119.7,194.5 120.0,195.2 120.3,194.5 120.7,194.1 121.0,195.2 121.3,195.1 121.7,194.7 122.0,194.9 122.3,194.9 122.7,194.2 123.0,195.0 123.4,194.8 123.7,195.2 124.0,194.6 124.4,194.4 124.7,194.9 125.0,194.7 125.4,195.1 125.7,194.1 126.0,194.9 126.4,195.1 126.7,194.3 127.0,194.2 127.4,194.6 127.7,194.8 128.0,194.8 128.4,194.7 128.7,194.5 129.0,194.9 129.4,195.2 129.7,194.7 130.0,194.5 130.4,195.2 130.7,194.3 131.0,194.7 131.4,195.0 131.7,195.0 132.0,194.9 132.4,194.8 132.7,194.6 133.0,195.2 133.4,194.1 133.7,194.6 134.0,194.6 134.4,194.9 134.7,194.4 135.0,194.3 135.4,194.6 135.7,194.8 136.0,194.7 136.4,195.1 136.7,194.6 137.0,194.3 137.4,194.8 137.7,194.5 138.0,194.1 138.4,194.5 138.7,194.2" fill="none" stroke="#000" stroke-width="1.7" stroke-linejoin="round"/>
<path d="M10.4,194.6L10.6,197.6L11.2,195.2 M13.0,194.6L13.2,197.6L13.8,195.2 M15.7,194.6L15.9,199.1L16.5,195.2 M17.8,194.6L18.0,199.1L18.6,195.2 M19.9,194.6L20.1,199.6L20.7,195.2 M22.0,194.6L22.2,201.8L22.8,195.2 M23.1,194.6L23.3,199.1L23.9,195.2 M24.5,194.6L24.7,197.1L25.3,195.2 M26.9,194.6L27.1,198.1L27.7,195.2 M29.4,194.6L29.6,199.6L30.2,195.2 M31.9,194.6L32.1,198.6L32.7,195.2 M33.6,194.6L33.8,199.1L34.4,195.2 M35.4,194.6L35.6,202.5L36.2,195.2 M36.5,194.6L36.7,198.6L37.3,195.2 M38.9,194.6L39.1,199.6L39.7,195.2 M40.8,194.6L41.0,199.6L41.6,195.2 M42.9,194.6L43.1,200.8L43.7,195.2 M45.0,194.6L45.2,199.1L45.8,195.2 M47.3,194.6L47.5,201.7L48.1,195.2 M49.4,194.6L49.6,199.6L50.2,195.2 M52.2,194.6L52.4,198.6L53.0,195.2 M54.5,194.6L54.7,197.6L55.3,195.2 M57.2,194.6L57.4,197.6L58.0,195.2 M59.3,194.6L59.5,198.1L60.1,195.2 M60.9,194.6L61.1,198.6L61.7,195.2 M62.2,194.6L62.4,198.1L63.0,195.2 M65.2,194.6L65.4,197.6L66.0,195.2 M66.8,194.6L67.0,199.1L67.6,195.2 M68.1,194.6L68.3,198.6L68.9,195.2 M70.6,194.6L70.8,197.6L71.4,195.2 M72.0,194.6L72.2,198.1L72.8,195.2 M74.9,194.6L75.1,198.1L75.7,195.2 M77.1,194.6L77.3,198.1L77.9,195.2 M78.8,194.6L79.0,199.1L79.6,195.2 M80.9,194.6L81.1,199.6L81.7,195.2 M83.0,194.6L83.2,196.6L83.8,195.2 M85.9,194.6L86.1,197.6L86.7,195.2 M87.6,194.6L87.8,198.1L88.4,195.2 M89.4,194.6L89.6,197.1L90.2,195.2 M92.1,194.6L92.3,197.6L92.9,195.2 M93.3,194.6L93.5,197.6L94.1,195.2 M94.4,194.6L94.6,199.6L95.2,195.2 M96.7,194.6L96.9,198.1L97.5,195.2 M97.9,194.6L98.1,199.6L98.7,195.2 M99.8,194.6L100.0,198.1L100.6,195.2 M101.9,194.6L102.1,196.6L102.7,195.2 M104.4,194.6L104.6,201.8L105.2,195.2 M106.5,194.6L106.7,199.7L107.3,195.2 M108.6,194.6L108.8,197.1L109.4,195.2 M111.4,194.6L111.6,197.1L112.2,195.2 M114.0,194.6L114.2,197.1L114.8,195.2 M116.3,194.6L116.5,196.6L117.1,195.2 M119.0,194.6L119.2,196.6L119.8,195.2 M120.9,194.6L121.1,198.6L121.7,195.2 M123.3,194.6L123.5,199.6L124.1,195.2 M126.1,194.6L126.3,199.6L126.9,195.2 M128.5,194.6L128.7,198.1L129.3,195.2 M130.2,194.6L130.4,199.1L131.0,195.2 M131.3,194.6L131.5,198.1L132.1,195.2 M133.0,194.6L133.2,196.6L133.8,195.2 M134.9,194.6L135.1,197.6L135.7,195.2 M136.0,194.6L136.2,196.6L136.8,195.2" fill="none" stroke="#222" stroke-width="0.6" opacity="0.9"/>
<text x="77.7" y="191.1" font-size="9.6" text-anchor="start" fill="#000" stroke="#000" stroke-width="0.3" font-family="Liberation Sans, sans-serif" font-weight="bold">EPAC1<tspan font-size="7.6" dy="-2.9" stroke-width="0.15">+/+</tspan></text>
<polyline points="8.9,218.8 9.2,218.4 9.6,219.3 9.9,219.2 10.2,218.7 10.6,218.9 10.9,218.4 11.2,218.4 11.6,218.5 11.9,219.0 12.2,218.4 12.6,219.3 12.9,218.3 13.2,218.4 13.6,218.3 13.9,219.0 14.2,218.6 14.6,218.7 14.9,218.6 15.2,218.9 15.6,218.6 15.9,218.4 16.2,218.7 16.6,218.5 16.9,218.3 17.2,219.1 17.6,218.9 17.9,218.9 18.2,219.2 18.6,218.6 18.9,218.6 19.2,218.7 19.6,218.6 19.9,218.9 20.2,218.2 20.6,218.7 20.9,218.8 21.2,218.6 21.6,218.2 21.9,219.0 22.2,218.2 22.6,218.8 22.9,218.4 23.2,218.2 23.6,218.4 23.9,218.3 24.2,218.4 24.6,219.0 24.9,219.0 25.3,218.6 25.6,218.9 25.9,218.7 26.3,218.7 26.6,219.2 26.9,218.5 27.3,219.2 27.6,219.0 27.9,219.0 28.3,218.2 28.6,218.3 28.9,218.2 29.3,218.6 29.6,219.2 29.9,219.2 30.3,219.1 30.6,218.3 30.9,219.0 31.3,219.1 31.6,219.1 31.9,219.1 32.3,218.4 32.6,218.4 32.9,219.1 33.3,219.0 33.6,219.2 33.9,218.7 34.3,219.2 34.6,218.4 34.9,219.3 35.3,219.2 35.6,218.6 35.9,218.3 36.3,218.8 36.6,219.0 36.9,218.6 37.3,218.3 37.6,218.5 37.9,219.1 38.3,218.3 38.6,219.2 38.9,218.5 39.3,218.4 39.6,218.3 39.9,219.3 40.3,219.2 40.6,218.6 40.9,218.3 41.3,218.9 41.6,219.2 41.9,218.2 42.3,218.9 42.6,219.1 42.9,218.7 43.3,218.8 43.6,219.1 43.9,218.5 44.3,218.5 44.6,218.9 44.9,218.8 45.3,218.8 45.6,218.6 45.9,219.2 46.3,218.5 46.6,218.9 46.9,219.2 47.3,218.6 47.6,218.3 47.9,218.4 48.3,218.3 48.6,218.4 48.9,218.3 49.3,218.6 49.6,218.6 49.9,218.7 50.3,218.9 50.6,218.9 50.9,219.0 51.3,218.6 51.6,218.9 51.9,218.8 52.3,218.3 52.6,218.8 52.9,218.6 53.3,218.9 53.6,219.0 53.9,218.5 54.3,218.7 54.6,218.7 54.9,218.5 55.3,218.2 55.6,218.3 55.9,219.3 56.3,219.0 56.6,218.7 56.9,218.9 57.3,218.5 57.6,219.0 58.0,219.2 58.3,219.1 58.6,218.7 59.0,219.3 59.3,219.2 59.6,218.3 60.0,218.7 60.3,218.7 60.6,218.5 61.0,218.9 61.3,218.4 61.6,219.0 62.0,219.1 62.3,218.3 62.6,219.0 63.0,218.5 63.3,218.9 63.6,219.0 64.0,219.3 64.3,219.1 64.6,218.6 65.0,219.0 65.3,218.4 65.6,219.0 66.0,218.7 66.3,218.5 66.6,218.5 67.0,218.4 67.3,219.1 67.6,218.3 68.0,218.5 68.3,218.4 68.6,218.4 69.0,219.0 69.3,218.8 69.6,218.9 70.0,219.2 70.3,218.7 70.6,218.2 71.0,218.4 71.3,218.8 71.6,219.0 72.0,219.2 72.3,218.8 72.6,218.4 73.0,218.9 73.3,219.2 73.6,218.6 74.0,219.2 74.3,219.2 74.6,218.8 75.0,218.7 75.3,218.3 75.6,218.3 76.0,218.2 76.3,218.9 76.6,219.0 77.0,219.3 77.3,218.9 77.6,219.3 78.0,218.6 78.3,218.3 78.6,218.3 79.0,218.5 79.3,218.8 79.6,219.3 80.0,218.5 80.3,218.5 80.6,219.0 81.0,218.6 81.3,218.8 81.6,218.4 82.0,219.1 82.3,219.2 82.6,219.0 83.0,219.2 83.3,218.6 83.6,218.2 84.0,218.5 84.3,219.2 84.6,218.7 85.0,218.4 85.3,218.4 85.6,218.4 86.0,218.7 86.3,219.2 86.6,219.2 87.0,219.0 87.3,219.0 87.6,218.4 88.0,219.1 88.3,218.4 88.6,218.8 89.0,218.2 89.3,219.2 89.6,218.3 90.0,218.9 90.3,218.9 90.7,218.9 91.0,219.0 91.3,218.6 91.7,219.1 92.0,219.2 92.3,218.9 92.7,219.3 93.0,219.1 93.3,218.3 93.7,218.9 94.0,218.3 94.3,218.9 94.7,218.6 95.0,219.1 95.3,218.2 95.7,219.2 96.0,218.2 96.3,218.3 96.7,218.2 97.0,218.3 97.3,219.3 97.7,219.1 98.0,219.2 98.3,218.4 98.7,219.0 99.0,219.1 99.3,219.0 99.7,218.5 100.0,219.3 100.3,219.0 100.7,219.0 101.0,218.5 101.3,218.6 101.7,219.0 102.0,218.8 102.3,218.7 102.7,219.2 103.0,218.7 103.3,219.1 103.7,218.3 104.0,218.8 104.3,219.0 104.7,218.2 105.0,219.0 105.3,218.5 105.7,218.9 106.0,218.9 106.3,218.4 106.7,219.2 107.0,218.5 107.3,218.4 107.7,218.7 108.0,218.3 108.3,218.3 108.7,219.0 109.0,218.3 109.3,218.8 109.7,219.2 110.0,218.7 110.3,219.1 110.7,219.1 111.0,218.4 111.3,218.3 111.7,219.1 112.0,219.2 112.3,219.1 112.7,219.0 113.0,218.8 113.3,219.3 113.7,219.0 114.0,219.0 114.3,219.2 114.7,218.3 115.0,219.0 115.3,218.8 115.7,218.2 116.0,218.5 116.3,219.0 116.7,218.8 117.0,218.8 117.3,218.5 117.7,218.8 118.0,219.2 118.3,219.3 118.7,218.8 119.0,219.0 119.3,218.3 119.7,218.4 120.0,218.8 120.3,219.1 120.7,218.3 121.0,218.4 121.3,218.7 121.7,218.5 122.0,218.4 122.3,218.4 122.7,218.7 123.0,219.1 123.4,218.4 123.7,219.1 124.0,218.3 124.4,218.5 124.7,218.9 125.0,218.2 125.4,218.6 125.7,218.4 126.0,218.5 126.4,219.2 126.7,218.4 127.0,219.0 127.4,219.2 127.7,218.5 128.0,219.1 128.4,218.6 128.7,219.0 129.0,218.8 129.4,218.6 129.7,219.2 130.0,219.0 130.4,218.6 130.7,218.8 131.0,218.5 131.4,218.5 131.7,219.2 132.0,219.3 132.4,218.4 132.7,219.2 133.0,219.0 133.4,218.2 133.7,218.3 134.0,218.7 134.4,219.2 134.7,219.2 135.0,218.5 135.4,218.7 135.7,219.2 136.0,218.4 136.4,218.3 136.7,218.7 137.0,218.9 137.4,219.2 137.7,219.2 138.0,218.2 138.4,218.4 138.7,218.3" fill="none" stroke="#000" stroke-width="1.7" stroke-linejoin="round"/>
<path d="M10.3,218.7L10.5,225.8L11.1,219.3 M12.0,218.7L12.2,221.2L12.8,219.3 M13.4,218.7L13.6,222.2L14.2,219.3 M14.8,218.7L15.0,220.7L15.6,219.3 M17.8,218.7L18.0,221.7L18.6,219.3 M20.0,218.7L20.2,223.7L20.8,219.3 M21.5,218.7L21.7,222.7L22.3,219.3 M23.5,218.7L23.7,221.7L24.3,219.3 M25.4,218.7L25.6,221.2L26.2,219.3 M27.3,218.7L27.5,220.7L28.1,219.3 M28.9,218.7L29.1,220.7L29.7,219.3 M30.7,218.7L30.9,222.7L31.5,219.3 M31.8,218.7L32.0,223.7L32.6,219.3 M33.2,218.7L33.4,221.7L34.0,219.3 M35.3,218.7L35.5,221.7L36.1,219.3 M36.9,218.7L37.1,221.2L37.7,219.3 M38.2,218.7L38.4,220.7L39.0,219.3 M40.4,218.7L40.6,222.7L41.2,219.3 M42.1,218.7L42.3,222.7L42.9,219.3 M44.0,218.7L44.2,221.7L44.8,219.3 M45.1,218.7L45.3,222.2L45.9,219.3 M47.7,218.7L47.9,221.7L48.5,219.3 M50.3,218.7L50.5,221.2L51.1,219.3 M53.1,218.7L53.3,221.2L53.9,219.3 M54.6,218.7L54.8,224.4L55.4,219.3 M57.0,218.7L57.2,220.7L57.8,219.3 M59.2,218.7L59.4,221.2L60.0,219.3 M61.7,218.7L61.9,223.2L62.5,219.3 M63.5,218.7L63.7,222.7L64.3,219.3 M64.6,218.7L64.8,221.2L65.4,219.3 M66.7,218.7L66.9,221.2L67.5,219.3 M68.0,218.7L68.2,221.7L68.8,219.3 M69.2,218.7L69.4,221.7L70.0,219.3 M71.4,218.7L71.6,221.7L72.2,219.3 M74.0,218.7L74.2,223.7L74.8,219.3 M75.4,218.7L75.6,222.2L76.2,219.3 M78.3,218.7L78.5,221.7L79.1,219.3 M79.7,218.7L79.9,226.5L80.5,219.3 M82.1,218.7L82.3,222.7L82.9,219.3 M84.6,218.7L84.8,220.7L85.4,219.3 M86.9,218.7L87.1,223.2L87.7,219.3 M89.4,218.7L89.6,220.7L90.2,219.3 M90.8,218.7L91.0,221.7L91.6,219.3 M93.2,218.7L93.4,221.7L94.0,219.3 M95.0,218.7L95.2,222.7L95.8,219.3 M97.7,218.7L97.9,221.2L98.5,219.3 M99.5,218.7L99.7,223.7L100.3,219.3 M101.9,218.7L102.1,221.7L102.7,219.3 M103.4,218.7L103.6,223.7L104.2,219.3 M104.7,218.7L104.9,223.7L105.5,219.3 M106.1,218.7L106.3,226.4L106.9,219.3 M108.6,218.7L108.8,220.7L109.4,219.3 M110.0,218.7L110.2,221.7L110.8,219.3 M111.2,218.7L111.4,221.7L112.0,219.3 M113.5,218.7L113.7,223.7L114.3,219.3 M115.4,218.7L115.6,222.7L116.2,219.3 M116.9,218.7L117.1,222.2L117.7,219.3 M119.1,218.7L119.3,223.7L119.9,219.3 M122.0,218.7L122.2,221.2L122.8,219.3 M124.7,218.7L124.9,221.2L125.5,219.3 M125.8,218.7L126.0,221.7L126.6,219.3 M128.3,218.7L128.5,223.2L129.1,219.3 M130.9,218.7L131.1,220.7L131.7,219.3 M133.5,218.7L133.7,221.7L134.3,219.3 M134.7,218.7L134.9,223.2L135.5,219.3 M137.2,218.7L137.4,221.2L138.0,219.3" fill="none" stroke="#222" stroke-width="0.6" opacity="0.9"/>
<text x="77.7" y="212.5" font-size="9.6" text-anchor="start" fill="#000" stroke="#000" stroke-width="0.3" font-family="Liberation Sans, sans-serif" font-weight="bold">EPAC1<tspan font-size="7.6" dy="-2.9" stroke-width="0.15">-/-</tspan></text>
<polyline points="8.9,239.8 9.2,240.3 9.6,239.8 9.9,240.4 10.2,240.3 10.6,240.0 10.9,240.3 11.2,240.2 11.6,239.6 11.9,240.2 12.2,240.3 12.6,240.2 12.9,240.6 13.2,240.4 13.6,240.0 13.9,239.8 14.2,239.7 14.6,240.5 14.9,240.4 15.2,240.3 15.6,240.1 15.9,240.2 16.2,239.8 16.6,240.2 16.9,239.8 17.2,240.3 17.6,240.3 17.9,240.3 18.2,239.9 18.6,239.7 18.9,240.0 19.2,240.4 19.6,240.2 19.9,240.4 20.2,240.1 20.6,240.0 20.9,240.6 21.2,239.8 21.6,239.8 21.9,240.2 22.2,240.3 22.6,240.1 22.9,240.2 23.2,240.1 23.6,240.3 23.9,240.6 24.2,240.5 24.6,240.3 24.9,240.1 25.3,240.6 25.6,240.1 25.9,240.3 26.3,240.6 26.6,240.4 26.9,240.0 27.3,240.4 27.6,240.3 27.9,240.6 28.3,240.3 28.6,240.2 28.9,240.7 29.3,240.2 29.6,240.0 29.9,240.6 30.3,240.6 30.6,239.8 30.9,239.7 31.3,240.5 31.6,240.6 31.9,240.0 32.3,239.9 32.6,240.4 32.9,240.6 33.3,239.8 33.6,240.1 33.9,240.3 34.3,239.8 34.6,240.1 34.9,239.8 35.3,240.1 35.6,239.9 35.9,239.7 36.3,240.0 36.6,239.8 36.9,239.7 37.3,239.8 37.6,240.1 37.9,239.9 38.3,240.4 38.6,240.1 38.9,239.9 39.3,239.8 39.6,239.9 39.9,240.4 40.3,239.8 40.6,240.1 40.9,240.5 41.3,240.5 41.6,240.1 41.9,240.5 42.3,240.3 42.6,239.8 42.9,239.7 43.3,239.8 43.6,240.5 43.9,240.0 44.3,240.5 44.6,240.7 44.9,240.6 45.3,240.1 45.6,239.6 45.9,239.9 46.3,239.8 46.6,240.3 46.9,240.4 47.3,240.6 47.6,240.4 47.9,240.7 48.3,240.3 48.6,240.1 48.9,240.5 49.3,239.9 49.6,240.5 49.9,240.4 50.3,240.6 50.6,239.7 50.9,239.8 51.3,240.6 51.6,239.8 51.9,240.1 52.3,240.3 52.6,240.1 52.9,240.6 53.3,240.7 53.6,240.0 53.9,239.7 54.3,240.6 54.6,240.1 54.9,239.9 55.3,239.8 55.6,239.6 55.9,240.2 56.3,239.9 56.6,240.2 56.9,240.6 57.3,240.1 57.6,240.6 58.0,239.7 58.3,240.4 58.6,240.4 59.0,240.7 59.3,239.6 59.6,240.2 60.0,240.2 60.3,240.3 60.6,240.1 61.0,239.9 61.3,240.6 61.6,240.6 62.0,240.4 62.3,240.7 62.6,240.2 63.0,239.7 63.3,240.4 63.6,239.7 64.0,240.4 64.3,240.3 64.6,239.8 65.0,239.8 65.3,239.7 65.6,239.8 66.0,240.7 66.3,239.9 66.6,240.6 67.0,239.7 67.3,240.0 67.6,240.1 68.0,240.0 68.3,240.7 68.6,239.9 69.0,240.1 69.3,239.8 69.6,239.7 70.0,240.4 70.3,240.0 70.6,240.1 71.0,240.4 71.3,239.7 71.6,239.7 72.0,240.4 72.3,240.7 72.6,239.6 73.0,240.1 73.3,240.7 73.6,240.5 74.0,240.7 74.3,240.2 74.6,240.7 75.0,239.7 75.3,240.1 75.6,240.5 76.0,240.0 76.3,240.1 76.6,240.1 77.0,240.0 77.3,240.5 77.6,240.7 78.0,239.9 78.3,240.0 78.6,240.5 79.0,240.4 79.3,240.5 79.6,240.4 80.0,240.6 80.3,240.5 80.6,240.3 81.0,239.9 81.3,239.7 81.6,240.5 82.0,240.5 82.3,240.6 82.6,239.9 83.0,240.4 83.3,240.6 83.6,239.8 84.0,239.6 84.3,239.8 84.6,239.8 85.0,240.3 85.3,240.5 85.6,240.5 86.0,240.4 86.3,240.7 86.6,240.7 87.0,240.1 87.3,240.6 87.6,240.4 88.0,239.9 88.3,240.2 88.6,239.8 89.0,240.0 89.3,240.5 89.6,239.6 90.0,240.2 90.3,240.1 90.7,239.9 91.0,239.7 91.3,240.2 91.7,240.0 92.0,239.7 92.3,240.0 92.7,240.3 93.0,239.7 93.3,240.5 93.7,239.7 94.0,240.1 94.3,240.0 94.7,240.5 95.0,240.6 95.3,240.4 95.7,239.9 96.0,240.0 96.3,240.5 96.7,240.2 97.0,240.3 97.3,240.4 97.7,239.8 98.0,240.0 98.3,240.6 98.7,240.0 99.0,240.5 99.3,239.8 99.7,239.6 100.0,240.2 100.3,239.9 100.7,240.3 101.0,240.4 101.3,239.6 101.7,240.1 102.0,240.0 102.3,240.6 102.7,240.5 103.0,240.6 103.3,240.4 103.7,240.0 104.0,240.3 104.3,240.2 104.7,240.0 105.0,239.9 105.3,240.3 105.7,240.6 106.0,239.9 106.3,240.0 106.7,239.8 107.0,240.0 107.3,240.0 107.7,239.7 108.0,240.3 108.3,240.0 108.7,240.5 109.0,239.9 109.3,240.4 109.7,240.7 110.0,239.8 110.3,240.0 110.7,240.7 111.0,240.0 111.3,240.0 111.7,239.8 112.0,240.5 112.3,240.0 112.7,240.6 113.0,240.2 113.3,239.8 113.7,240.7 114.0,240.6 114.3,240.4 114.7,240.3 115.0,240.4 115.3,240.6 115.7,239.8 116.0,239.9 116.3,240.4 116.7,240.1 117.0,240.7 117.3,240.5 117.7,240.2 118.0,239.8 118.3,240.3 118.7,240.3 119.0,240.2 119.3,240.5 119.7,240.1 120.0,240.6 120.3,240.3 120.7,239.8 121.0,240.5 121.3,239.8 121.7,240.6 122.0,240.6 122.3,239.8 122.7,239.8 123.0,240.4 123.4,240.1 123.7,240.0 124.0,240.4 124.4,240.0 124.7,239.7 125.0,240.2 125.4,240.6 125.7,240.7 126.0,239.7 126.4,240.4 126.7,240.0 127.0,240.7 127.4,240.0 127.7,239.7 128.0,240.0 128.4,240.2 128.7,239.8 129.0,240.4 129.4,240.0 129.7,240.4 130.0,239.9 130.4,240.1 130.7,240.3 131.0,239.8 131.4,239.9 131.7,240.5 132.0,240.0 132.4,240.0 132.7,240.3 133.0,240.4 133.4,240.6 133.7,240.2 134.0,240.5 134.4,240.6 134.7,240.6 135.0,240.6 135.4,240.4 135.7,240.4 136.0,240.0 136.4,239.7 136.7,240.6 137.0,240.1 137.4,240.0 137.7,240.2 138.0,240.4 138.4,240.5 138.7,239.7" fill="none" stroke="#000" stroke-width="1.7" stroke-linejoin="round"/>
<path d="M10.6,240.1L10.8,243.1L11.4,240.7 M12.7,240.1L12.9,245.1L13.5,240.7 M15.4,240.1L15.6,243.1L16.2,240.7 M16.7,240.1L16.9,245.1L17.5,240.7 M19.5,240.1L19.7,245.1L20.3,240.7 M22.0,240.1L22.2,242.1L22.8,240.7 M23.6,240.1L23.8,242.6L24.4,240.7 M25.5,240.1L25.7,244.6L26.3,240.7 M27.3,240.1L27.5,243.6L28.1,240.7 M29.7,240.1L29.9,243.1L30.5,240.7 M31.7,240.1L31.9,244.6L32.5,240.7 M32.9,240.1L33.1,245.1L33.7,240.7 M35.5,240.1L35.7,243.6L36.3,240.7 M37.7,240.1L37.9,244.6L38.5,240.7 M40.6,240.1L40.8,243.1L41.4,240.7 M43.1,240.1L43.3,245.1L43.9,240.7 M45.4,240.1L45.6,243.1L46.2,240.7 M46.8,240.1L47.0,243.1L47.6,240.7 M49.3,240.1L49.5,244.1L50.1,240.7 M51.1,240.1L51.3,243.6L51.9,240.7 M53.1,240.1L53.3,243.6L53.9,240.7 M54.6,240.1L54.8,243.1L55.4,240.7 M56.6,240.1L56.8,244.6L57.4,240.7 M58.8,240.1L59.0,242.1L59.6,240.7 M61.6,240.1L61.8,245.1L62.4,240.7 M63.5,240.1L63.7,243.1L64.3,240.7 M66.2,240.1L66.4,243.1L67.0,240.7 M68.9,240.1L69.1,243.6L69.7,240.7 M70.5,240.1L70.7,248.1L71.3,240.7 M72.3,240.1L72.5,243.1L73.1,240.7 M74.2,240.1L74.4,242.6L75.0,240.7 M76.8,240.1L77.0,243.1L77.6,240.7 M79.2,240.1L79.4,243.6L80.0,240.7 M82.1,240.1L82.3,245.1L82.9,240.7 M84.7,240.1L84.9,243.6L85.5,240.7 M87.3,240.1L87.5,243.1L88.1,240.7 M88.7,240.1L88.9,244.6L89.5,240.7 M91.1,240.1L91.3,242.1L91.9,240.7 M93.0,240.1L93.2,244.6L93.8,240.7 M94.4,240.1L94.6,242.6L95.2,240.7 M96.2,240.1L96.4,245.1L97.0,240.7 M98.4,240.1L98.6,243.1L99.2,240.7 M100.5,240.1L100.7,245.1L101.3,240.7 M102.3,240.1L102.5,244.6L103.1,240.7 M104.2,240.1L104.4,244.1L105.0,240.7 M105.4,240.1L105.6,243.6L106.2,240.7 M106.4,240.1L106.6,244.6L107.2,240.7 M109.4,240.1L109.6,243.6L110.2,240.7 M112.3,240.1L112.5,244.1L113.1,240.7 M113.9,240.1L114.1,243.1L114.7,240.7 M115.6,240.1L115.8,245.1L116.4,240.7 M117.9,240.1L118.1,245.1L118.7,240.7 M119.1,240.1L119.3,244.6L119.9,240.7 M121.9,240.1L122.1,245.1L122.7,240.7 M124.9,240.1L125.1,244.6L125.7,240.7 M126.1,240.1L126.3,245.1L126.9,240.7 M128.6,240.1L128.8,242.6L129.4,240.7 M130.3,240.1L130.5,244.1L131.1,240.7 M132.1,240.1L132.3,243.6L132.9,240.7 M133.8,240.1L134.0,243.1L134.6,240.7 M136.3,240.1L136.5,242.1L137.1,240.7 M137.7,240.1L137.9,244.1L138.5,240.7" fill="none" stroke="#222" stroke-width="0.6" opacity="0.9"/>
<text x="77.7" y="237.8" font-size="9.6" text-anchor="start" fill="#000" stroke="#000" stroke-width="0.3" font-family="Liberation Sans, sans-serif" font-weight="bold">EPAC2<tspan font-size="7.6" dy="-2.9" stroke-width="0.15">-/-</tspan></text>
<polyline points="8.9,262.5 9.2,261.9 9.6,262.2 9.9,262.2 10.2,261.6 10.6,261.5 10.9,262.1 11.2,261.5 11.6,261.8 11.9,262.4 12.2,262.4 12.6,261.5 12.9,261.5 13.2,261.6 13.6,262.3 13.9,261.4 14.2,261.6 14.6,261.5 14.9,261.5 15.2,262.0 15.6,261.6 15.9,261.9 16.2,262.2 16.6,262.2 16.9,261.9 17.2,262.3 17.6,262.0 17.9,262.3 18.2,261.7 18.6,261.8 18.9,262.0 19.2,262.4 19.6,262.1 19.9,261.9 20.2,261.7 20.6,261.7 20.9,261.6 21.2,262.5 21.6,262.4 21.9,262.4 22.2,262.0 22.6,262.2 22.9,261.7 23.2,261.9 23.6,261.6 23.9,261.9 24.2,261.7 24.6,261.5 24.9,262.4 25.3,261.5 25.6,262.3 25.9,262.2 26.3,261.5 26.6,261.9 26.9,262.5 27.3,262.5 27.6,262.0 27.9,262.2 28.3,262.2 28.6,261.7 28.9,262.0 29.3,262.1 29.6,261.8 29.9,262.3 30.3,261.9 30.6,262.2 30.9,261.5 31.3,261.9 31.6,261.4 31.9,262.1 32.3,262.4 32.6,262.0 32.9,262.0 33.3,262.1 33.6,261.7 33.9,261.8 34.3,262.0 34.6,262.1 34.9,261.8 35.3,261.9 35.6,261.8 35.9,262.0 36.3,262.1 36.6,261.8 36.9,262.2 37.3,262.3 37.6,262.0 37.9,262.5 38.3,261.7 38.6,262.4 38.9,261.6 39.3,261.8 39.6,262.3 39.9,261.4 40.3,262.1 40.6,262.4 40.9,262.4 41.3,262.2 41.6,261.8 41.9,261.8 42.3,262.1 42.6,261.5 42.9,261.4 43.3,262.4 43.6,262.1 43.9,261.6 44.3,261.9 44.6,261.7 44.9,262.4 45.3,261.7 45.6,262.2 45.9,262.2 46.3,261.8 46.6,261.7 46.9,262.0 47.3,261.8 47.6,262.1 47.9,261.8 48.3,262.3 48.6,261.9 48.9,261.5 49.3,262.3 49.6,262.4 49.9,262.1 50.3,262.0 50.6,262.4 50.9,262.4 51.3,261.4 51.6,261.9 51.9,261.4 52.3,261.8 52.6,261.7 52.9,261.9 53.3,262.1 53.6,262.3 53.9,261.7 54.3,261.4 54.6,262.5 54.9,262.3 55.3,262.0 55.6,261.5 55.9,261.5 56.3,262.4 56.6,262.0 56.9,262.3 57.3,262.3 57.6,262.2 58.0,262.3 58.3,261.7 58.6,261.7 59.0,261.9 59.3,262.2 59.6,262.3 60.0,262.2 60.3,262.0 60.6,261.9 61.0,261.6 61.3,262.1 61.6,262.1 62.0,262.0 62.3,262.2 62.6,262.5 63.0,262.4 63.3,261.5 63.6,261.7 64.0,262.1 64.3,262.2 64.6,261.7 65.0,262.4 65.3,261.9 65.6,262.2 66.0,261.5 66.3,261.7 66.6,261.4 67.0,262.3 67.3,262.0 67.6,262.4 68.0,262.1 68.3,261.8 68.6,261.8 69.0,261.8 69.3,261.6 69.6,261.5 70.0,262.1 70.3,261.7 70.6,261.9 71.0,262.2 71.3,261.7 71.6,261.9 72.0,261.8 72.3,261.8 72.6,262.1 73.0,261.5 73.3,261.8 73.6,261.5 74.0,262.1 74.3,261.7 74.6,262.5 75.0,261.9 75.3,262.1 75.6,262.0 76.0,262.3 76.3,262.2 76.6,262.1 77.0,261.4 77.3,261.6 77.6,262.2 78.0,261.9 78.3,262.5 78.6,262.1 79.0,262.3 79.3,262.2 79.6,262.5 80.0,262.1 80.3,262.4 80.6,261.9 81.0,261.7 81.3,261.5 81.6,261.7 82.0,262.4 82.3,262.1 82.6,261.4 83.0,261.4 83.3,261.9 83.6,262.0 84.0,261.8 84.3,261.4 84.6,261.7 85.0,262.4 85.3,262.2 85.6,262.3 86.0,261.7 86.3,262.1 86.6,261.6 87.0,261.7 87.3,262.5 87.6,261.6 88.0,261.7 88.3,261.6 88.6,262.4 89.0,262.2 89.3,262.0 89.6,262.3 90.0,261.9 90.3,262.4 90.7,262.3 91.0,261.7 91.3,261.7 91.7,262.0 92.0,261.9 92.3,262.3 92.7,262.1 93.0,262.2 93.3,262.1 93.7,261.7 94.0,262.2 94.3,262.5 94.7,262.1 95.0,262.2 95.3,261.7 95.7,261.5 96.0,261.9 96.3,262.1 96.7,262.2 97.0,261.9 97.3,262.0 97.7,261.5 98.0,261.5 98.3,261.5 98.7,261.8 99.0,261.7 99.3,261.6 99.7,261.8 100.0,261.8 100.3,262.3 100.7,262.4 101.0,262.5 101.3,262.2 101.7,261.4 102.0,261.7 102.3,262.5 102.7,262.2 103.0,262.3 103.3,261.6 103.7,261.7 104.0,261.5 104.3,262.0 104.7,261.8 105.0,261.9 105.3,261.6 105.7,261.4 106.0,261.8 106.3,262.4 106.7,262.1 107.0,262.0 107.3,261.5 107.7,261.9 108.0,261.8 108.3,262.1 108.7,261.8 109.0,262.3 109.3,261.7 109.7,262.2 110.0,261.4 110.3,261.6 110.7,262.3 111.0,262.3 111.3,261.7 111.7,261.6 112.0,262.5 112.3,262.1 112.7,261.5 113.0,262.5 113.3,262.0 113.7,261.7 114.0,262.0 114.3,261.8 114.7,262.0 115.0,261.9 115.3,261.8 115.7,262.2 116.0,261.7 116.3,262.3 116.7,262.2 117.0,262.4 117.3,261.6 117.7,262.3 118.0,262.2 118.3,261.6 118.7,262.4 119.0,262.0 119.3,261.6 119.7,261.6 120.0,262.5 120.3,262.3 120.7,261.7 121.0,262.4 121.3,261.4 121.7,262.2 122.0,262.1 122.3,262.4 122.7,262.4 123.0,262.2 123.4,262.3 123.7,261.9 124.0,262.4 124.4,261.9 124.7,262.2 125.0,262.2 125.4,261.8 125.7,262.3 126.0,262.2 126.4,261.6 126.7,262.0 127.0,261.9 127.4,262.1 127.7,261.4 128.0,262.2 128.4,261.8 128.7,262.2 129.0,261.7 129.4,261.4 129.7,261.9 130.0,262.1 130.4,262.3 130.7,262.0 131.0,262.4 131.4,261.6 131.7,261.5 132.0,261.8 132.4,262.1 132.7,262.2 133.0,261.5 133.4,262.1 133.7,261.8 134.0,262.0 134.4,261.5 134.7,261.6 135.0,262.1 135.4,261.8 135.7,262.5 136.0,262.0 136.4,261.8 136.7,261.6 137.0,262.0 137.4,262.0 137.7,261.7 138.0,262.5 138.4,262.0 138.7,262.2" fill="none" stroke="#000" stroke-width="1.7" stroke-linejoin="round"/>
<path d="M10.4,261.9L10.6,263.9L11.2,262.5 M13.4,261.9L13.6,267.0L14.2,262.5 M15.4,261.9L15.6,264.4L16.2,262.5 M17.7,261.9L17.9,264.9L18.5,262.5 M20.2,261.9L20.4,264.4L21.0,262.5 M22.5,261.9L22.7,265.9L23.3,262.5 M23.7,261.9L23.9,263.9L24.5,262.5 M26.6,261.9L26.8,265.9L27.4,262.5 M27.9,261.9L28.1,264.4L28.7,262.5 M30.0,261.9L30.2,264.4L30.8,262.5 M31.9,261.9L32.1,266.4L32.7,262.5 M34.8,261.9L35.0,269.4L35.6,262.5 M37.7,261.9L37.9,266.9L38.5,262.5 M40.3,261.9L40.5,269.4L41.1,262.5 M42.6,261.9L42.8,266.4L43.4,262.5 M45.0,261.9L45.2,264.9L45.8,262.5 M47.7,261.9L47.9,266.9L48.5,262.5 M50.5,261.9L50.7,266.4L51.3,262.5 M52.6,261.9L52.8,264.9L53.4,262.5 M54.3,261.9L54.5,265.9L55.1,262.5 M55.5,261.9L55.7,264.9L56.3,262.5 M57.4,261.9L57.6,264.4L58.2,262.5 M58.7,261.9L58.9,264.9L59.5,262.5 M60.7,261.9L60.9,264.9L61.5,262.5 M62.3,261.9L62.5,265.9L63.1,262.5 M64.6,261.9L64.8,266.4L65.4,262.5 M67.5,261.9L67.7,269.9L68.3,262.5 M70.3,261.9L70.5,264.9L71.1,262.5 M72.3,261.9L72.5,266.9L73.1,262.5 M74.7,261.9L74.9,263.9L75.5,262.5 M77.3,261.9L77.5,264.9L78.1,262.5 M79.1,261.9L79.3,265.4L79.9,262.5 M80.7,261.9L80.9,266.4L81.5,262.5 M83.0,261.9L83.2,264.9L83.8,262.5 M85.7,261.9L85.9,264.4L86.5,262.5 M86.9,261.9L87.1,264.9L87.7,262.5 M88.2,261.9L88.4,264.4L89.0,262.5 M90.0,261.9L90.2,268.7L90.8,262.5 M92.3,261.9L92.5,264.4L93.1,262.5 M94.5,261.9L94.7,265.9L95.3,262.5 M96.8,261.9L97.0,264.9L97.6,262.5 M98.5,261.9L98.7,265.4L99.3,262.5 M99.8,261.9L100.0,267.2L100.6,262.5 M101.4,261.9L101.6,263.9L102.2,262.5 M103.7,261.9L103.9,265.9L104.5,262.5 M105.4,261.9L105.6,266.4L106.2,262.5 M107.6,261.9L107.8,266.9L108.4,262.5 M109.0,261.9L109.2,267.3L109.8,262.5 M110.4,261.9L110.6,266.4L111.2,262.5 M112.6,261.9L112.8,265.4L113.4,262.5 M115.2,261.9L115.4,265.9L116.0,262.5 M117.1,261.9L117.3,264.9L117.9,262.5 M119.3,261.9L119.5,266.4L120.1,262.5 M120.5,261.9L120.7,266.4L121.3,262.5 M123.4,261.9L123.6,266.9L124.2,262.5 M124.6,261.9L124.8,264.9L125.4,262.5 M126.8,261.9L127.0,265.9L127.6,262.5 M129.0,261.9L129.2,266.9L129.8,262.5 M130.1,261.9L130.3,263.9L130.9,262.5 M132.6,261.9L132.8,265.9L133.4,262.5 M133.6,261.9L133.8,264.9L134.4,262.5 M136.2,261.9L136.4,263.9L137.0,262.5" fill="none" stroke="#222" stroke-width="0.6" opacity="0.9"/>
<text x="77.7" y="258.8" font-size="9.6" text-anchor="start" fill="#000" stroke="#000" stroke-width="0.3" font-family="Liberation Sans, sans-serif" font-weight="bold">EPAC<tspan font-size="7.6" dy="-2.9" stroke-width="0.15">+/-</tspan></text>
<polyline points="8.9,283.2 9.2,283.1 9.6,282.9 9.9,282.4 10.2,282.5 10.6,282.9 10.9,283.0 11.2,282.1 11.6,282.3 11.9,283.1 12.2,282.2 12.6,282.8 12.9,282.5 13.2,282.8 13.6,283.0 13.9,282.7 14.2,282.5 14.6,282.5 14.9,282.8 15.2,282.8 15.6,282.6 15.9,282.6 16.2,282.7 16.6,282.4 16.9,282.3 17.2,282.7 17.6,282.2 17.9,282.8 18.2,283.0 18.6,283.0 18.9,282.4 19.2,282.6 19.6,283.1 19.9,282.5 20.2,283.2 20.6,282.3 20.9,283.0 21.2,282.1 21.6,282.8 21.9,283.0 22.2,282.7 22.6,282.8 22.9,283.1 23.2,283.2 23.6,282.3 23.9,282.7 24.2,282.1 24.6,282.5 24.9,282.3 25.3,282.3 25.6,282.8 25.9,282.2 26.3,282.3 26.6,282.1 26.9,283.0 27.3,282.4 27.6,282.2 27.9,282.8 28.3,282.9 28.6,282.8 28.9,282.7 29.3,282.7 29.6,282.9 29.9,282.4 30.3,283.0 30.6,282.9 30.9,283.0 31.3,283.1 31.6,283.0 31.9,282.7 32.3,282.7 32.6,282.9 32.9,282.7 33.3,282.1 33.6,283.1 33.9,282.3 34.3,282.6 34.6,282.6 34.9,282.2 35.3,282.7 35.6,282.7 35.9,283.0 36.3,282.8 36.6,282.4 36.9,282.7 37.3,283.2 37.6,282.8 37.9,283.0 38.3,282.1 38.6,282.9 38.9,282.3 39.3,282.3 39.6,282.5 39.9,282.3 40.3,282.2 40.6,282.3 40.9,282.4 41.3,282.4 41.6,283.0 41.9,282.2 42.3,282.3 42.6,282.2 42.9,282.7 43.3,282.4 43.6,282.7 43.9,282.4 44.3,282.3 44.6,282.6 44.9,282.2 45.3,283.1 45.6,282.7 45.9,282.5 46.3,282.7 46.6,283.1 46.9,282.6 47.3,282.5 47.6,282.3 47.9,282.5 48.3,283.0 48.6,282.8 48.9,282.4 49.3,283.1 49.6,282.2 49.9,282.5 50.3,283.0 50.6,283.1 50.9,282.6 51.3,282.1 51.6,282.7 51.9,282.6 52.3,282.1 52.6,282.5 52.9,283.1 53.3,282.1 53.6,282.3 53.9,282.3 54.3,283.0 54.6,282.4 54.9,282.9 55.3,282.8 55.6,282.1 55.9,282.6 56.3,282.2 56.6,283.0 56.9,282.6 57.3,282.5 57.6,283.0 58.0,283.0 58.3,282.2 58.6,282.2 59.0,282.5 59.3,282.4 59.6,282.6 60.0,282.6 60.3,283.2 60.6,282.8 61.0,283.2 61.3,282.8 61.6,282.4 62.0,282.7 62.3,282.3 62.6,282.7 63.0,282.3 63.3,283.1 63.6,282.4 64.0,283.1 64.3,282.3 64.6,282.3 65.0,282.4 65.3,283.0 65.6,283.0 66.0,282.9 66.3,282.7 66.6,282.3 67.0,282.4 67.3,282.1 67.6,283.1 68.0,282.2 68.3,282.9 68.6,282.1 69.0,282.4 69.3,282.8 69.6,282.3 70.0,282.2 70.3,283.1 70.6,282.4 71.0,282.1 71.3,282.9 71.6,283.2 72.0,282.7 72.3,282.1 72.6,282.6 73.0,282.8 73.3,282.4 73.6,282.6 74.0,282.9 74.3,282.8 74.6,283.0 75.0,283.1 75.3,282.7 75.6,283.2 76.0,282.2 76.3,282.7 76.6,282.8 77.0,283.1 77.3,282.6 77.6,282.6 78.0,283.1 78.3,282.6 78.6,282.2 79.0,282.6 79.3,282.4 79.6,282.8 80.0,283.0 80.3,282.2 80.6,282.4 81.0,283.1 81.3,283.0 81.6,283.0 82.0,282.5 82.3,283.1 82.6,283.0 83.0,283.0 83.3,282.7 83.6,282.8 84.0,282.2 84.3,282.1 84.6,282.1 85.0,282.2 85.3,282.7 85.6,283.1 86.0,282.7 86.3,283.0 86.6,282.9 87.0,283.1 87.3,282.4 87.6,282.6 88.0,283.1 88.3,282.5 88.6,282.9 89.0,282.6 89.3,282.3 89.6,282.3 90.0,282.5 90.3,282.1 90.7,283.1 91.0,282.5 91.3,282.4 91.7,283.0 92.0,282.1 92.3,282.9 92.7,282.6 93.0,282.2 93.3,282.5 93.7,283.2 94.0,282.1 94.3,282.4 94.7,282.3 95.0,282.8 95.3,282.3 95.7,283.0 96.0,282.5 96.3,283.1 96.7,282.2 97.0,282.4 97.3,282.1 97.7,282.1 98.0,282.3 98.3,282.7 98.7,282.7 99.0,282.9 99.3,282.4 99.7,282.8 100.0,283.2 100.3,282.5 100.7,282.4 101.0,282.3 101.3,283.2 101.7,282.8 102.0,282.6 102.3,282.6 102.7,282.2 103.0,282.3 103.3,282.9 103.7,282.4 104.0,282.7 104.3,283.1 104.7,282.3 105.0,282.6 105.3,282.9 105.7,282.9 106.0,283.0 106.3,283.1 106.7,282.7 107.0,282.3 107.3,282.7 107.7,283.1 108.0,282.3 108.3,282.4 108.7,282.3 109.0,283.1 109.3,282.2 109.7,282.3 110.0,282.8 110.3,282.9 110.7,282.6 111.0,282.9 111.3,282.9 111.7,282.5 112.0,282.2 112.3,282.9 112.7,282.8 113.0,283.2 113.3,282.9 113.7,282.2 114.0,282.3 114.3,282.4 114.7,282.9 115.0,282.4 115.3,282.4 115.7,282.3 116.0,282.4 116.3,282.6 116.7,282.9 117.0,283.0 117.3,282.2 117.7,282.7 118.0,283.2 118.3,282.5 118.7,282.2 119.0,282.8 119.3,283.0 119.7,282.1 120.0,282.2 120.3,282.4 120.7,282.5 121.0,282.2 121.3,282.2 121.7,282.6 122.0,283.2 122.3,282.7 122.7,282.4 123.0,283.2 123.4,282.4 123.7,282.3 124.0,282.2 124.4,282.1 124.7,283.1 125.0,282.7 125.4,283.2 125.7,282.7 126.0,282.2 126.4,282.5 126.7,282.5 127.0,282.3 127.4,282.2 127.7,282.9 128.0,283.1 128.4,283.1 128.7,282.4 129.0,282.8 129.4,282.4 129.7,283.0 130.0,283.1 130.4,282.1 130.7,282.3 131.0,283.1 131.4,283.2 131.7,283.0 132.0,282.2 132.4,282.8 132.7,282.9 133.0,282.7 133.4,282.7 133.7,283.0 134.0,282.2 134.4,282.7 134.7,283.2 135.0,282.7 135.4,282.5 135.7,282.2 136.0,283.1 136.4,282.8 136.7,283.2 137.0,283.2 137.4,282.9 137.7,283.0 138.0,283.0 138.4,282.9 138.7,282.6" fill="none" stroke="#000" stroke-width="1.7" stroke-linejoin="round"/>
<path d="M10.4,282.6L10.6,286.1L11.2,283.2 M11.8,282.6L12.0,287.1L12.6,283.2 M13.3,282.6L13.5,285.1L14.1,283.2 M15.4,282.6L15.6,285.1L16.2,283.2 M17.5,282.6L17.7,285.6L18.3,283.2 M19.2,282.6L19.4,287.6L20.0,283.2 M21.5,282.6L21.7,285.1L22.3,283.2 M23.4,282.6L23.6,285.6L24.2,283.2 M25.2,282.6L25.4,286.6L26.0,283.2 M27.2,282.6L27.4,285.1L28.0,283.2 M28.9,282.6L29.1,285.1L29.7,283.2 M30.3,282.6L30.5,285.6L31.1,283.2 M31.8,282.6L32.0,286.6L32.6,283.2 M33.9,282.6L34.1,286.6L34.7,283.2 M35.5,282.6L35.7,284.6L36.3,283.2 M37.2,282.6L37.4,285.1L38.0,283.2 M39.0,282.6L39.2,285.6L39.8,283.2 M40.2,282.6L40.4,285.6L41.0,283.2 M42.8,282.6L43.0,284.6L43.6,283.2 M44.5,282.6L44.7,286.1L45.3,283.2 M46.5,282.6L46.7,285.6L47.3,283.2 M48.6,282.6L48.8,287.6L49.4,283.2 M50.7,282.6L50.9,285.6L51.5,283.2 M53.0,282.6L53.2,286.6L53.8,283.2 M55.5,282.6L55.7,285.6L56.3,283.2 M57.6,282.6L57.8,285.6L58.4,283.2 M58.7,282.6L58.9,285.6L59.5,283.2 M61.5,282.6L61.7,286.6L62.3,283.2 M63.4,282.6L63.6,284.6L64.2,283.2 M65.0,282.6L65.2,285.6L65.8,283.2 M66.1,282.6L66.3,286.6L66.9,283.2 M67.4,282.6L67.6,285.6L68.2,283.2 M69.6,282.6L69.8,287.1L70.4,283.2 M72.2,282.6L72.4,287.6L73.0,283.2 M74.6,282.6L74.8,287.1L75.4,283.2 M76.7,282.6L76.9,287.1L77.5,283.2 M79.3,282.6L79.5,287.1L80.1,283.2 M80.7,282.6L80.9,284.6L81.5,283.2 M83.1,282.6L83.3,286.1L83.9,283.2 M85.3,282.6L85.5,285.6L86.1,283.2 M86.4,282.6L86.6,285.1L87.2,283.2 M89.0,282.6L89.2,286.1L89.8,283.2 M91.4,282.6L91.6,286.1L92.2,283.2 M93.1,282.6L93.3,285.6L93.9,283.2 M94.2,282.6L94.4,287.6L95.0,283.2 M96.9,282.6L97.1,285.6L97.7,283.2 M99.9,282.6L100.1,285.6L100.7,283.2 M101.5,282.6L101.7,287.6L102.3,283.2 M103.5,282.6L103.7,285.6L104.3,283.2 M105.7,282.6L105.9,285.6L106.5,283.2 M108.3,282.6L108.5,287.1L109.1,283.2 M109.3,282.6L109.5,287.1L110.1,283.2 M110.5,282.6L110.7,287.1L111.3,283.2 M112.2,282.6L112.4,286.1L113.0,283.2 M114.6,282.6L114.8,285.6L115.4,283.2 M115.7,282.6L115.9,285.1L116.5,283.2 M117.8,282.6L118.0,285.6L118.6,283.2 M119.6,282.6L119.8,287.6L120.4,283.2 M121.9,282.6L122.1,286.6L122.7,283.2 M124.8,282.6L125.0,287.6L125.6,283.2 M127.3,282.6L127.5,285.6L128.1,283.2 M129.5,282.6L129.7,285.1L130.3,283.2 M130.6,282.6L130.8,285.6L131.4,283.2 M133.6,282.6L133.8,285.6L134.4,283.2 M135.0,282.6L135.2,285.1L135.8,283.2 M136.5,282.6L136.7,287.6L137.3,283.2" fill="none" stroke="#222" stroke-width="0.6" opacity="0.9"/>
<text x="77.7" y="279.5" font-size="9.6" text-anchor="start" fill="#000" stroke="#000" stroke-width="0.3" font-family="Liberation Sans, sans-serif" font-weight="bold">EPAC<tspan font-size="7.6" dy="-2.9" stroke-width="0.15">-/-</tspan></text>
<polyline points="8.9,303.8 9.2,303.2 9.6,303.7 9.9,303.8 10.2,303.1 10.6,303.6 10.9,303.2 11.2,303.0 11.6,303.2 11.9,303.6 12.2,303.0 12.6,303.5 12.9,303.2 13.2,303.0 13.6,303.3 13.9,303.2 14.2,303.3 14.6,303.8 14.9,303.8 15.2,303.0 15.6,303.9 15.9,303.5 16.2,303.9 16.6,303.7 16.9,303.4 17.2,303.1 17.6,303.8 17.9,303.9 18.2,303.5 18.6,302.9 18.9,303.7 19.2,303.6 19.6,303.8 19.9,303.9 20.2,303.9 20.6,303.6 20.9,303.2 21.2,303.4 21.6,303.4 21.9,303.6 22.2,303.5 22.6,303.7 22.9,303.4 23.2,303.4 23.6,303.9 23.9,303.7 24.2,303.8 24.6,303.6 24.9,302.9 25.3,303.3 25.6,303.1 25.9,303.1 26.3,302.9 26.6,302.9 26.9,303.3 27.3,303.7 27.6,303.8 27.9,303.9 28.3,303.4 28.6,302.8 28.9,303.0 29.3,302.9 29.6,303.8 29.9,303.2 30.3,303.6 30.6,303.3 30.9,303.4 31.3,303.7 31.6,303.5 31.9,302.9 32.3,303.5 32.6,303.2 32.9,303.9 33.3,303.1 33.6,303.1 33.9,303.8 34.3,303.3 34.6,302.9 34.9,303.7 35.3,303.8 35.6,303.3 35.9,303.0 36.3,303.8 36.6,303.2 36.9,303.1 37.3,302.8 37.6,303.8 37.9,303.1 38.3,302.9 38.6,303.2 38.9,303.6 39.3,303.9 39.6,303.0 39.9,303.5 40.3,303.1 40.6,303.7 40.9,303.3 41.3,303.6 41.6,303.7 41.9,303.4 42.3,303.3 42.6,302.8 42.9,303.0 43.3,303.6 43.6,303.6 43.9,303.4 44.3,302.9 44.6,303.6 44.9,303.7 45.3,303.7 45.6,303.6 45.9,303.5 46.3,303.2 46.6,303.2 46.9,303.0 47.3,303.5 47.6,303.2 47.9,303.7 48.3,303.1 48.6,303.1 48.9,302.9 49.3,303.1 49.6,303.7 49.9,303.7 50.3,303.8 50.6,302.8 50.9,303.6 51.3,303.4 51.6,303.2 51.9,303.8 52.3,303.6 52.6,303.1 52.9,303.7 53.3,303.3 53.6,303.3 53.9,303.3 54.3,303.3 54.6,302.8 54.9,303.7 55.3,303.1 55.6,303.3 55.9,303.0 56.3,303.4 56.6,302.9 56.9,302.8 57.3,303.0 57.6,303.8 58.0,303.6 58.3,303.6 58.6,302.9 59.0,303.3 59.3,303.6 59.6,303.6 60.0,303.3 60.3,302.9 60.6,303.2 61.0,303.8 61.3,303.8 61.6,303.5 62.0,303.2 62.3,303.5 62.6,303.4 63.0,303.3 63.3,303.7 63.6,303.4 64.0,302.9 64.3,303.6 64.6,303.6 65.0,302.9 65.3,303.4 65.6,303.9 66.0,303.5 66.3,303.5 66.6,303.3 67.0,303.3 67.3,303.9 67.6,303.1 68.0,303.3 68.3,302.9 68.6,303.4 69.0,303.5 69.3,303.6 69.6,303.9 70.0,303.1 70.3,303.0 70.6,303.2 71.0,303.2 71.3,303.8 71.6,303.0 72.0,303.3 72.3,303.9 72.6,303.2 73.0,303.3 73.3,303.3 73.6,303.2 74.0,303.2 74.3,303.7 74.6,302.8 75.0,302.9 75.3,303.7 75.6,303.6 76.0,303.3 76.3,303.3 76.6,303.3 77.0,303.1 77.3,303.3 77.6,303.2 78.0,303.5 78.3,303.2 78.6,303.4 79.0,302.8 79.3,303.9 79.6,302.8 80.0,303.3 80.3,303.2 80.6,302.9 81.0,303.9 81.3,303.3 81.6,303.0 82.0,303.2 82.3,303.0 82.6,303.4 83.0,303.9 83.3,303.9 83.6,303.1 84.0,303.6 84.3,303.4 84.6,303.6 85.0,303.0 85.3,302.8 85.6,302.9 86.0,303.8 86.3,302.9 86.6,302.8 87.0,303.3 87.3,302.9 87.6,303.0 88.0,303.8 88.3,303.0 88.6,303.6 89.0,303.7 89.3,303.3 89.6,303.3 90.0,303.0 90.3,303.2 90.7,303.4 91.0,303.4 91.3,303.4 91.7,303.2 92.0,303.8 92.3,303.3 92.7,303.2 93.0,303.3 93.3,303.7 93.7,303.5 94.0,303.6 94.3,303.7 94.7,303.2 95.0,303.6 95.3,302.9 95.7,303.3 96.0,303.3 96.3,303.2 96.7,303.0 97.0,303.7 97.3,303.2 97.7,303.2 98.0,302.9 98.3,303.8 98.7,303.8 99.0,303.0 99.3,303.2 99.7,303.1 100.0,303.0 100.3,303.7 100.7,303.5 101.0,303.8 101.3,303.6 101.7,303.2 102.0,303.7 102.3,302.9 102.7,303.4 103.0,303.4 103.3,302.9 103.7,303.1 104.0,303.4 104.3,302.9 104.7,302.9 105.0,303.5 105.3,303.9 105.7,303.4 106.0,303.9 106.3,303.3 106.7,302.9 107.0,303.0 107.3,303.3 107.7,303.8 108.0,303.7 108.3,303.9 108.7,303.4 109.0,303.6 109.3,303.4 109.7,303.0 110.0,303.4 110.3,303.1 110.7,303.7 111.0,303.7 111.3,303.0 111.7,302.9 112.0,303.1 112.3,302.8 112.7,303.0 113.0,303.9 113.3,303.8 113.7,303.3 114.0,303.8 114.3,303.0 114.7,303.9 115.0,303.4 115.3,303.5 115.7,303.1 116.0,302.8 116.3,303.4 116.7,303.5 117.0,303.6 117.3,303.7 117.7,303.8 118.0,302.8 118.3,303.5 118.7,302.9 119.0,303.7 119.3,303.4 119.7,302.8 120.0,303.2 120.3,303.7 120.7,303.8 121.0,303.8 121.3,303.4 121.7,303.6 122.0,303.6 122.3,303.3 122.7,303.6 123.0,303.0 123.4,303.1 123.7,303.5 124.0,303.6 124.4,303.9 124.7,302.9 125.0,303.9 125.4,303.1 125.7,303.2 126.0,303.6 126.4,303.9 126.7,303.0 127.0,303.2 127.4,303.8 127.7,303.7 128.0,303.3 128.4,303.1 128.7,303.7 129.0,303.0 129.4,303.2 129.7,302.8 130.0,303.0 130.4,303.3 130.7,303.4 131.0,303.6 131.4,303.5 131.7,303.1 132.0,303.2 132.4,303.1 132.7,302.9 133.0,303.0 133.4,303.9 133.7,303.7 134.0,303.7 134.4,303.6 134.7,303.1 135.0,303.6 135.4,303.4 135.7,303.7 136.0,303.4 136.4,303.5 136.7,302.9 137.0,303.7 137.4,303.6 137.7,303.4 138.0,303.1 138.4,303.5 138.7,303.3" fill="none" stroke="#000" stroke-width="1.7" stroke-linejoin="round"/>
<path d="M9.7,303.3L9.9,308.3L10.5,303.9 M12.7,303.3L12.9,307.8L13.5,303.9 M14.7,303.3L14.9,307.8L15.5,303.9 M17.4,303.3L17.6,307.8L18.2,303.9 M20.3,303.3L20.5,307.8L21.1,303.9 M22.5,303.3L22.7,307.3L23.3,303.9 M24.5,303.3L24.7,308.3L25.3,303.9 M27.3,303.3L27.5,306.3L28.1,303.9 M29.0,303.3L29.2,307.8L29.8,303.9 M30.3,303.3L30.5,306.8L31.1,303.9 M33.3,303.3L33.5,306.3L34.1,303.9 M35.5,303.3L35.7,307.8L36.3,303.9 M37.0,303.3L37.2,306.3L37.8,303.9 M38.8,303.3L39.0,306.3L39.6,303.9 M40.8,303.3L41.0,307.8L41.6,303.9 M41.9,303.3L42.1,306.3L42.7,303.9 M44.6,303.3L44.8,307.3L45.4,303.9 M45.9,303.3L46.1,305.8L46.7,303.9 M47.6,303.3L47.8,305.8L48.4,303.9 M49.6,303.3L49.8,306.3L50.4,303.9 M51.9,303.3L52.1,308.3L52.7,303.9 M54.8,303.3L55.0,306.3L55.6,303.9 M57.6,303.3L57.8,310.6L58.4,303.9 M60.0,303.3L60.2,306.8L60.8,303.9 M61.6,303.3L61.8,307.3L62.4,303.9 M62.9,303.3L63.1,307.3L63.7,303.9 M65.8,303.3L66.0,306.3L66.6,303.9 M67.7,303.3L67.9,306.3L68.5,303.9 M70.2,303.3L70.4,306.3L71.0,303.9 M71.8,303.3L72.0,306.3L72.6,303.9 M73.7,303.3L73.9,307.3L74.5,303.9 M76.7,303.3L76.9,307.8L77.5,303.9 M77.7,303.3L77.9,305.8L78.5,303.9 M80.3,303.3L80.5,305.8L81.1,303.9 M83.1,303.3L83.3,306.3L83.9,303.9 M85.8,303.3L86.0,305.3L86.6,303.9 M88.0,303.3L88.2,308.3L88.8,303.9 M89.6,303.3L89.8,308.3L90.4,303.9 M91.5,303.3L91.7,305.3L92.3,303.9 M93.5,303.3L93.7,306.8L94.3,303.9 M94.8,303.3L95.0,307.3L95.6,303.9 M96.5,303.3L96.7,305.8L97.3,303.9 M97.8,303.3L98.0,305.3L98.6,303.9 M100.0,303.3L100.2,306.8L100.8,303.9 M102.3,303.3L102.5,306.3L103.1,303.9 M103.8,303.3L104.0,310.8L104.6,303.9 M106.0,303.3L106.2,308.3L106.8,303.9 M107.7,303.3L107.9,306.3L108.5,303.9 M108.9,303.3L109.1,306.3L109.7,303.9 M110.4,303.3L110.6,305.8L111.2,303.9 M112.7,303.3L112.9,306.8L113.5,303.9 M115.7,303.3L115.9,306.3L116.5,303.9 M117.0,303.3L117.2,306.3L117.8,303.9 M118.6,303.3L118.8,307.3L119.4,303.9 M120.6,303.3L120.8,307.8L121.4,303.9 M122.3,303.3L122.5,308.3L123.1,303.9 M123.6,303.3L123.8,310.0L124.4,303.9 M126.1,303.3L126.3,310.6L126.9,303.9 M128.0,303.3L128.2,308.9L128.8,303.9 M130.3,303.3L130.5,305.3L131.1,303.9 M132.1,303.3L132.3,306.3L132.9,303.9 M134.9,303.3L135.1,305.8L135.7,303.9 M137.0,303.3L137.2,307.3L137.8,303.9" fill="none" stroke="#222" stroke-width="0.6" opacity="0.9"/>
<text x="77.7" y="299.3" font-size="9.6" text-anchor="start" fill="#000" stroke="#000" stroke-width="0.3" font-family="Liberation Sans, sans-serif" font-weight="bold">IN-EPAC<tspan font-size="7.6" dy="-2.9" stroke-width="0.15">-/-</tspan></text>
<line x1="8.00" y1="238.20" x2="139.00" y2="238.20" stroke="#888" stroke-width="0.5"/>
<line x1="8.00" y1="301.30" x2="139.00" y2="301.30" stroke="#888" stroke-width="0.5"/>
<line x1="145.00" y1="302.80" x2="145.00" y2="316.30" stroke="#000" stroke-width="1.2"/>
<line x1="131.20" y1="315.70" x2="145.60" y2="315.70" stroke="#000" stroke-width="1.2"/>
<text x="150.9" y="306.2" font-size="8.6" text-anchor="middle" fill="#000" stroke="#000" stroke-width="0.3" font-family="Liberation Sans, sans-serif" font-weight="bold" transform="rotate(90 150.9 306.2)">20 pA</text>
<text x="133.4" y="324.2" font-size="8.6" text-anchor="middle" fill="#000" stroke="#000" stroke-width="0.3" font-family="Liberation Sans, sans-serif" font-weight="bold">30 ms</text>
<text x="181.5" y="184.5" font-size="16.8" text-anchor="start" fill="#000" stroke="#000" stroke-width="0.3" font-family="Liberation Sans, sans-serif" font-weight="bold">C</text>
<line x1="223.60" y1="203.36" x2="223.60" y2="202.23" stroke="#444" stroke-width="0.8"/>
<line x1="221.60" y1="202.23" x2="225.60" y2="202.23" stroke="#444" stroke-width="0.8"/>
<rect x="219.00" y="203.36" width="9.20" height="84.94" fill="#ff0000" stroke="#5a1a10" stroke-width="0.35"/>
<line x1="232.80" y1="207.67" x2="232.80" y2="206.16" stroke="#444" stroke-width="0.8"/>
<line x1="230.80" y1="206.16" x2="234.80" y2="206.16" stroke="#444" stroke-width="0.8"/>
<rect x="228.20" y="207.67" width="9.20" height="80.63" fill="#00f000" stroke="#5a1a10" stroke-width="0.35"/>
<text x="231.8" y="297.7" font-size="10.8" text-anchor="end" fill="#000" stroke="#000" stroke-width="0.3" font-family="Liberation Sans, sans-serif" font-weight="bold" transform="rotate(-36 231.8 297.7)">EPAC1</text>
<line x1="251.20" y1="210.53" x2="251.20" y2="209.40" stroke="#444" stroke-width="0.8"/>
<line x1="249.20" y1="209.40" x2="253.20" y2="209.40" stroke="#444" stroke-width="0.8"/>
<rect x="246.60" y="210.53" width="9.20" height="77.77" fill="#ff0000" stroke="#5a1a10" stroke-width="0.35"/>
<line x1="260.40" y1="213.33" x2="260.40" y2="212.57" stroke="#444" stroke-width="0.8"/>
<line x1="258.40" y1="212.57" x2="262.40" y2="212.57" stroke="#444" stroke-width="0.8"/>
<rect x="255.80" y="213.33" width="9.20" height="74.97" fill="#00f000" stroke="#5a1a10" stroke-width="0.35"/>
<text x="261.1" y="297.7" font-size="10.8" text-anchor="end" fill="#000" stroke="#000" stroke-width="0.3" font-family="Liberation Sans, sans-serif" font-weight="bold" transform="rotate(-36 261.1 297.7)">EPAC2</text>
<line x1="278.70" y1="219.14" x2="278.70" y2="217.63" stroke="#444" stroke-width="0.8"/>
<line x1="276.70" y1="217.63" x2="280.70" y2="217.63" stroke="#444" stroke-width="0.8"/>
<rect x="274.10" y="219.14" width="9.20" height="69.16" fill="#ff0000" stroke="#5a1a10" stroke-width="0.35"/>
<line x1="287.90" y1="246.17" x2="287.90" y2="245.57" stroke="#444" stroke-width="0.8"/>
<line x1="285.90" y1="245.57" x2="289.90" y2="245.57" stroke="#444" stroke-width="0.8"/>
<rect x="283.30" y="246.17" width="9.20" height="42.13" fill="#00f000" stroke="#5a1a10" stroke-width="0.35"/>
<text x="287.90000000000003" y="248.36700000000002" font-size="9.5" text-anchor="middle" fill="#333" stroke="#333" stroke-width="0.3" font-family="Liberation Sans, sans-serif" font-weight="bold">*</text>
<text x="288.5" y="296.8" font-size="10.8" text-anchor="end" fill="#000" stroke="#000" stroke-width="0.3" font-family="Liberation Sans, sans-serif" font-weight="bold" transform="rotate(-36 288.5 296.8)">EPAC</text>
<line x1="306.20" y1="205.33" x2="306.20" y2="204.42" stroke="#444" stroke-width="0.8"/>
<line x1="304.20" y1="204.42" x2="308.20" y2="204.42" stroke="#444" stroke-width="0.8"/>
<rect x="301.60" y="205.33" width="9.20" height="82.97" fill="#ff0000" stroke="#5a1a10" stroke-width="0.35"/>
<line x1="315.40" y1="241.49" x2="315.40" y2="240.89" stroke="#444" stroke-width="0.8"/>
<line x1="313.40" y1="240.89" x2="317.40" y2="240.89" stroke="#444" stroke-width="0.8"/>
<rect x="310.80" y="241.49" width="9.20" height="46.81" fill="#00f000" stroke="#5a1a10" stroke-width="0.35"/>
<text x="315.40000000000003" y="243.686" font-size="9.5" text-anchor="middle" fill="#333" stroke="#333" stroke-width="0.3" font-family="Liberation Sans, sans-serif" font-weight="bold">*</text>
<text x="318.7" y="297.0" font-size="10.8" text-anchor="end" fill="#000" stroke="#000" stroke-width="0.3" font-family="Liberation Sans, sans-serif" font-weight="bold" transform="rotate(-36 318.7 297.0)">IN-EPAC</text>
<line x1="214.00" y1="197.30" x2="214.00" y2="288.90" stroke="#000" stroke-width="1.3"/>
<line x1="213.40" y1="288.30" x2="324.80" y2="288.30" stroke="#333" stroke-width="1.1"/>
<line x1="214.00" y1="288.30" x2="218.50" y2="288.30" stroke="#000" stroke-width="1.2"/>
<text x="208.8" y="291.5" font-size="8.8" text-anchor="end" fill="#000" stroke="#000" stroke-width="0.3" font-family="Liberation Sans, sans-serif" font-weight="bold">0</text>
<line x1="214.00" y1="265.65" x2="218.50" y2="265.65" stroke="#000" stroke-width="1.2"/>
<text x="208.8" y="268.84999999999997" font-size="8.8" text-anchor="end" fill="#000" stroke="#000" stroke-width="0.3" font-family="Liberation Sans, sans-serif" font-weight="bold">3</text>
<line x1="214.00" y1="243.00" x2="218.50" y2="243.00" stroke="#000" stroke-width="1.2"/>
<text x="208.8" y="246.2" font-size="8.8" text-anchor="end" fill="#000" stroke="#000" stroke-width="0.3" font-family="Liberation Sans, sans-serif" font-weight="bold">6</text>
<line x1="214.00" y1="220.35" x2="218.50" y2="220.35" stroke="#000" stroke-width="1.2"/>
<text x="208.8" y="223.54999999999998" font-size="8.8" text-anchor="end" fill="#000" stroke="#000" stroke-width="0.3" font-family="Liberation Sans, sans-serif" font-weight="bold">9</text>
<line x1="214.00" y1="197.70" x2="218.50" y2="197.70" stroke="#000" stroke-width="1.2"/>
<text x="208.8" y="200.89999999999998" font-size="8.8" text-anchor="end" fill="#000" stroke="#000" stroke-width="0.3" font-family="Liberation Sans, sans-serif" font-weight="bold">12</text>
<text x="190.8" y="242.6" font-size="10.8" text-anchor="middle" fill="#000" stroke="#000" stroke-width="0.3" font-family="Liberation Sans, sans-serif" font-weight="bold" transform="rotate(-90 190.8 242.6)" textLength="78.5" lengthAdjust="spacing">Frequency (Hz)</text>
<rect x="251.20" y="180.70" width="16.00" height="8.60" fill="#ff0000"/>
<rect x="251.20" y="194.10" width="16.00" height="8.30" fill="#00f000"/>
<text x="270.2" y="188.6" font-size="9.8" text-anchor="start" fill="#000" stroke="#000" stroke-width="0.3" font-family="Liberation Sans, sans-serif" font-weight="bold" textLength="46" lengthAdjust="spacing">+/+ or +/-</text>
<text x="270.2" y="201.8" font-size="9.8" text-anchor="start" fill="#000" stroke="#000" stroke-width="0.3" font-family="Liberation Sans, sans-serif" font-weight="bold">-/-</text>
<text x="356.2" y="184.5" font-size="16.8" text-anchor="start" fill="#000" stroke="#000" stroke-width="0.3" font-family="Liberation Sans, sans-serif" font-weight="bold">D</text>
<line x1="401.15" y1="203.13" x2="401.15" y2="202.12" stroke="#444" stroke-width="0.8"/>
<line x1="399.15" y1="202.12" x2="403.15" y2="202.12" stroke="#444" stroke-width="0.8"/>
<rect x="396.60" y="203.13" width="9.10" height="85.17" fill="#ff0000" stroke="#5a1a10" stroke-width="0.35"/>
<line x1="410.25" y1="208.91" x2="410.25" y2="207.40" stroke="#444" stroke-width="0.8"/>
<line x1="408.25" y1="207.40" x2="412.25" y2="207.40" stroke="#444" stroke-width="0.8"/>
<rect x="405.70" y="208.91" width="9.10" height="79.40" fill="#00f000" stroke="#5a1a10" stroke-width="0.35"/>
<text x="409.1" y="297.4" font-size="10.8" text-anchor="end" fill="#000" stroke="#000" stroke-width="0.3" font-family="Liberation Sans, sans-serif" font-weight="bold" transform="rotate(-36 409.1 297.4)">EPAC1</text>
<line x1="427.75" y1="208.91" x2="427.75" y2="208.15" stroke="#444" stroke-width="0.8"/>
<line x1="425.75" y1="208.15" x2="429.75" y2="208.15" stroke="#444" stroke-width="0.8"/>
<rect x="423.20" y="208.91" width="9.10" height="79.40" fill="#ff0000" stroke="#5a1a10" stroke-width="0.35"/>
<line x1="436.85" y1="212.93" x2="436.85" y2="212.17" stroke="#444" stroke-width="0.8"/>
<line x1="434.85" y1="212.17" x2="438.85" y2="212.17" stroke="#444" stroke-width="0.8"/>
<rect x="432.30" y="212.93" width="9.10" height="75.38" fill="#00f000" stroke="#5a1a10" stroke-width="0.35"/>
<text x="441.0" y="297.4" font-size="10.8" text-anchor="end" fill="#000" stroke="#000" stroke-width="0.3" font-family="Liberation Sans, sans-serif" font-weight="bold" transform="rotate(-36 441.0 297.4)">EPAC2</text>
<line x1="454.65" y1="200.87" x2="454.65" y2="200.11" stroke="#444" stroke-width="0.8"/>
<line x1="452.65" y1="200.11" x2="456.65" y2="200.11" stroke="#444" stroke-width="0.8"/>
<rect x="450.10" y="200.87" width="9.10" height="87.44" fill="#ff0000" stroke="#5a1a10" stroke-width="0.35"/>
<line x1="463.75" y1="211.17" x2="463.75" y2="210.41" stroke="#444" stroke-width="0.8"/>
<line x1="461.75" y1="210.41" x2="465.75" y2="210.41" stroke="#444" stroke-width="0.8"/>
<rect x="459.20" y="211.17" width="9.10" height="77.13" fill="#00f000" stroke="#5a1a10" stroke-width="0.35"/>
<text x="466.1" y="300.4" font-size="10.8" text-anchor="end" fill="#000" stroke="#000" stroke-width="0.3" font-family="Liberation Sans, sans-serif" font-weight="bold" transform="rotate(-36 466.1 300.4)">EPAC</text>
<line x1="481.15" y1="205.64" x2="481.15" y2="204.89" stroke="#444" stroke-width="0.8"/>
<line x1="479.15" y1="204.89" x2="483.15" y2="204.89" stroke="#444" stroke-width="0.8"/>
<rect x="476.60" y="205.64" width="9.10" height="82.66" fill="#ff0000" stroke="#5a1a10" stroke-width="0.35"/>
<line x1="490.25" y1="203.13" x2="490.25" y2="202.12" stroke="#444" stroke-width="0.8"/>
<line x1="488.25" y1="202.12" x2="492.25" y2="202.12" stroke="#444" stroke-width="0.8"/>
<rect x="485.70" y="203.13" width="9.10" height="85.17" fill="#00f000" stroke="#5a1a10" stroke-width="0.35"/>
<text x="498.8" y="298.5" font-size="10.8" text-anchor="end" fill="#000" stroke="#000" stroke-width="0.3" font-family="Liberation Sans, sans-serif" font-weight="bold" transform="rotate(-36 498.8 298.5)">IN-EPAC</text>
<line x1="391.40" y1="187.40" x2="391.40" y2="288.90" stroke="#000" stroke-width="1.3"/>
<line x1="390.80" y1="288.30" x2="499.20" y2="288.30" stroke="#333" stroke-width="1.1"/>
<line x1="391.40" y1="288.30" x2="395.90" y2="288.30" stroke="#000" stroke-width="1.2"/>
<text x="385.8" y="291.5" font-size="9.4" text-anchor="end" fill="#000" stroke="#000" stroke-width="0.3" font-family="Liberation Sans, sans-serif" font-weight="bold">0</text>
<line x1="391.40" y1="263.18" x2="395.90" y2="263.18" stroke="#000" stroke-width="1.2"/>
<text x="385.8" y="266.375" font-size="9.4" text-anchor="end" fill="#000" stroke="#000" stroke-width="0.3" font-family="Liberation Sans, sans-serif" font-weight="bold">10</text>
<line x1="391.40" y1="238.05" x2="395.90" y2="238.05" stroke="#000" stroke-width="1.2"/>
<text x="385.8" y="241.25" font-size="9.4" text-anchor="end" fill="#000" stroke="#000" stroke-width="0.3" font-family="Liberation Sans, sans-serif" font-weight="bold">20</text>
<line x1="391.40" y1="212.93" x2="395.90" y2="212.93" stroke="#000" stroke-width="1.2"/>
<text x="385.8" y="216.125" font-size="9.4" text-anchor="end" fill="#000" stroke="#000" stroke-width="0.3" font-family="Liberation Sans, sans-serif" font-weight="bold">30</text>
<line x1="391.40" y1="187.80" x2="395.90" y2="187.80" stroke="#000" stroke-width="1.2"/>
<text x="385.8" y="191.0" font-size="9.4" text-anchor="end" fill="#000" stroke="#000" stroke-width="0.3" font-family="Liberation Sans, sans-serif" font-weight="bold">40</text>
<text x="366.2" y="237.75" font-size="10.8" text-anchor="middle" fill="#000" stroke="#000" stroke-width="0.3" font-family="Liberation Sans, sans-serif" font-weight="bold" transform="rotate(-90 366.2 237.75)" textLength="84.5" lengthAdjust="spacing">Amplitude (pA)</text>
<rect x="422.60" y="176.90" width="15.50" height="9.00" fill="#ff0000"/>
<rect x="422.60" y="189.80" width="15.50" height="8.10" fill="#00f000"/>
<text x="441.6" y="185.1" font-size="9.8" text-anchor="start" fill="#000" stroke="#000" stroke-width="0.3" font-family="Liberation Sans, sans-serif" font-weight="bold" textLength="46" lengthAdjust="spacing">+/+ or +/-</text>
<text x="441.6" y="198.1" font-size="9.8" text-anchor="start" fill="#000" stroke="#000" stroke-width="0.3" font-family="Liberation Sans, sans-serif" font-weight="bold">-/-</text>
<text x="1.2" y="359.8" font-size="16" text-anchor="start" fill="#000" stroke="#000" stroke-width="0.3" font-family="Liberation Sans, sans-serif" font-weight="bold">E</text>
<polyline points="10.7,383.5 13.2,383.5 13.5,363.8 14.2,366.3 14.8,368.5 15.5,370.5 16.1,372.1 16.8,373.6 17.5,374.9 18.1,376.0 18.8,376.9 19.4,377.8 20.1,378.5 20.8,379.2 21.4,379.7 22.1,380.2 22.7,380.6 23.4,381.0 24.1,381.3 24.7,381.6 25.4,381.8 26.0,382.1 26.7,382.2 27.4,382.4 28.0,382.5 28.7,382.7 29.3,382.8 30.0,382.9 30.7,382.9 31.3,383.0 32.0,383.1 32.6,383.1 33.3,383.2" fill="none" stroke="#e89888" stroke-width="0.85" stroke-linejoin="round"/>
<polyline points="10.7,383.5 13.2,383.5 13.5,371.7 14.2,373.2 14.8,374.5 15.5,375.7 16.1,376.7 16.8,377.6 17.5,378.3 18.1,379.0 18.8,379.6 19.4,380.1 20.1,380.5 20.8,380.9 21.4,381.2 22.1,381.5 22.7,381.8 23.4,382.0 24.1,382.2 24.7,382.4 25.4,382.5 26.0,382.6 26.7,382.7 27.4,382.8 28.0,382.9 28.7,383.0 29.3,383.1 30.0,383.1 30.7,383.2 31.3,383.2 32.0,383.2 32.6,383.3 33.3,383.3" fill="none" stroke="#d07858" stroke-width="0.85" stroke-linejoin="round"/>
<polyline points="10.7,383.5 13.2,383.5 13.5,377.6 14.2,378.3 14.8,379.0 15.5,379.6 16.1,380.1 16.8,380.5 17.5,380.9 18.1,381.2 18.8,381.5 19.4,381.8 20.1,382.0 20.8,382.2 21.4,382.4 22.1,382.5 22.7,382.6 23.4,382.7 24.1,382.8 24.7,382.9 25.4,383.0 26.0,383.1 26.7,383.1 27.4,383.2 28.0,383.2 28.7,383.2 29.3,383.3 30.0,383.3 30.7,383.3 31.3,383.4 32.0,383.4 32.6,383.4 33.3,383.4" fill="none" stroke="#b04820" stroke-width="0.85" stroke-linejoin="round"/>
<polyline points="10.7,383.5 13.2,383.5 13.5,389.0 14.2,388.3 14.8,387.7 15.5,387.1 16.1,386.7 16.8,386.3 17.5,385.9 18.1,385.6 18.8,385.3 19.4,385.1 20.1,384.9 20.8,384.7 21.4,384.6 22.1,384.4 22.7,384.3 23.4,384.2 24.1,384.1 24.7,384.0 25.4,384.0 26.0,383.9 26.7,383.9 27.4,383.8 28.0,383.8 28.7,383.7 29.3,383.7 30.0,383.7 30.7,383.7 31.3,383.6 32.0,383.6 32.6,383.6 33.3,383.6" fill="none" stroke="#dcc040" stroke-width="0.85" stroke-linejoin="round"/>
<polyline points="10.7,383.5 13.2,383.5 13.5,395.6 14.2,394.0 14.8,392.7 15.5,391.5 16.1,390.5 16.8,389.6 17.5,388.8 18.1,388.1 18.8,387.5 19.4,387.0 20.1,386.6 20.8,386.2 21.4,385.8 22.1,385.5 22.7,385.3 23.4,385.0 24.1,384.8 24.7,384.7 25.4,384.5 26.0,384.4 26.7,384.3 27.4,384.2 28.0,384.1 28.7,384.0 29.3,383.9 30.0,383.9 30.7,383.8 31.3,383.8 32.0,383.8 32.6,383.7 33.3,383.7" fill="none" stroke="#b88040" stroke-width="0.85" stroke-linejoin="round"/>
<polyline points="10.7,383.5 13.2,383.5 13.5,405.5 14.2,402.7 14.8,400.2 15.5,398.1 16.1,396.2 16.8,394.6 17.5,393.1 18.1,391.9 18.8,390.8 19.4,389.9 20.1,389.1 20.8,388.3 21.4,387.7 22.1,387.2 22.7,386.7 23.4,386.3 24.1,385.9 24.7,385.6 25.4,385.4 26.0,385.1 26.7,384.9 27.4,384.7 28.0,384.6 28.7,384.4 29.3,384.3 30.0,384.2 30.7,384.1 31.3,384.0 32.0,384.0 32.6,383.9 33.3,383.9" fill="none" stroke="#e89898" stroke-width="0.85" stroke-linejoin="round"/>
<polyline points="10.7,383.5 33.3,383.5" fill="none" stroke="#d88020" stroke-width="1.1" stroke-linejoin="round"/>
<line x1="13.20" y1="363.80" x2="13.20" y2="405.50" stroke="#e8b0b0" stroke-width="0.5"/>
<polyline points="39.5,383.5 42.0,383.5 42.3,363.6 42.9,366.0 43.5,368.2 44.2,370.0 44.8,371.7 45.4,373.1 46.0,374.4 46.7,375.5 47.3,376.5 47.9,377.3 48.5,378.1 49.2,378.7 49.8,379.3 50.4,379.8 51.0,380.3 51.6,380.7 52.3,381.0 52.9,381.3 53.5,381.6 54.1,381.8 54.8,382.0 55.4,382.2 56.0,382.4 56.6,382.5 57.3,382.6 57.9,382.7 58.5,382.8 59.1,382.9 59.8,383.0 60.4,383.0 61.0,383.1" fill="none" stroke="#e89888" stroke-width="0.85" stroke-linejoin="round"/>
<polyline points="39.5,383.5 42.0,383.5 42.3,371.6 42.9,373.0 43.5,374.3 44.2,375.4 44.8,376.4 45.4,377.3 46.0,378.0 46.7,378.7 47.3,379.3 47.9,379.8 48.5,380.2 49.2,380.6 49.8,381.0 50.4,381.3 51.0,381.6 51.6,381.8 52.3,382.0 52.9,382.2 53.5,382.3 54.1,382.5 54.8,382.6 55.4,382.7 56.0,382.8 56.6,382.9 57.3,383.0 57.9,383.0 58.5,383.1 59.1,383.1 59.8,383.2 60.4,383.2 61.0,383.3" fill="none" stroke="#d07858" stroke-width="0.85" stroke-linejoin="round"/>
<polyline points="39.5,383.5 42.0,383.5 42.3,377.5 42.9,378.3 43.5,378.9 44.2,379.5 44.8,379.9 45.4,380.4 46.0,380.8 46.7,381.1 47.3,381.4 47.9,381.6 48.5,381.9 49.2,382.1 49.8,382.2 50.4,382.4 51.0,382.5 51.6,382.6 52.3,382.8 52.9,382.8 53.5,382.9 54.1,383.0 54.8,383.1 55.4,383.1 56.0,383.2 56.6,383.2 57.3,383.2 57.9,383.3 58.5,383.3 59.1,383.3 59.8,383.3 60.4,383.4 61.0,383.4" fill="none" stroke="#b04820" stroke-width="0.85" stroke-linejoin="round"/>
<polyline points="39.5,383.5 42.0,383.5 42.3,389.2 42.9,388.5 43.5,387.9 44.2,387.4 44.8,386.9 45.4,386.5 46.0,386.1 46.7,385.8 47.3,385.5 47.9,385.3 48.5,385.1 49.2,384.9 49.8,384.7 50.4,384.6 51.0,384.4 51.6,384.3 52.3,384.2 52.9,384.1 53.5,384.1 54.1,384.0 54.8,383.9 55.4,383.9 56.0,383.8 56.6,383.8 57.3,383.8 57.9,383.7 58.5,383.7 59.1,383.7 59.8,383.7 60.4,383.6 61.0,383.6" fill="none" stroke="#dcc040" stroke-width="0.85" stroke-linejoin="round"/>
<polyline points="39.5,383.5 42.0,383.5 42.3,396.1 42.9,394.6 43.5,393.3 44.2,392.1 44.8,391.0 45.4,390.1 46.0,389.3 46.7,388.6 47.3,388.0 47.9,387.4 48.5,387.0 49.2,386.5 49.8,386.2 50.4,385.8 51.0,385.6 51.6,385.3 52.3,385.1 52.9,384.9 53.5,384.7 54.1,384.6 54.8,384.4 55.4,384.3 56.0,384.2 56.6,384.1 57.3,384.1 57.9,384.0 58.5,383.9 59.1,383.9 59.8,383.8 60.4,383.8 61.0,383.8" fill="none" stroke="#b88040" stroke-width="0.85" stroke-linejoin="round"/>
<polyline points="39.5,383.5 42.0,383.5 42.3,406.5 42.9,403.7 43.5,401.2 44.2,399.1 44.8,397.2 45.4,395.5 46.0,394.1 46.7,392.8 47.3,391.6 47.9,390.6 48.5,389.8 49.2,389.0 49.8,388.3 50.4,387.8 51.0,387.2 51.6,386.8 52.3,386.4 52.9,386.0 53.5,385.7 54.1,385.5 54.8,385.2 55.4,385.0 56.0,384.8 56.6,384.7 57.3,384.5 57.9,384.4 58.5,384.3 59.1,384.2 59.8,384.1 60.4,384.0 61.0,384.0" fill="none" stroke="#e89898" stroke-width="0.85" stroke-linejoin="round"/>
<polyline points="39.5,383.5 61.0,383.5" fill="none" stroke="#d88020" stroke-width="1.1" stroke-linejoin="round"/>
<line x1="42.00" y1="363.60" x2="42.00" y2="406.50" stroke="#e8b0b0" stroke-width="0.5"/>
<polyline points="69.7,384.0 72.2,384.0 72.5,363.1 73.2,365.9 73.9,368.3 74.6,370.4 75.3,372.2 76.0,373.8 76.6,375.2 77.3,376.4 78.0,377.4 78.7,378.3 79.4,379.0 80.1,379.7 80.8,380.3 81.5,380.8 82.2,381.2 82.8,381.6 83.5,381.9 84.2,382.2 84.9,382.4 85.6,382.6 86.3,382.8 87.0,383.0 87.7,383.1 88.4,383.2 89.1,383.3 89.8,383.4 90.4,383.5 91.1,383.6 91.8,383.6 92.5,383.7 93.2,383.7" fill="none" stroke="#e89888" stroke-width="0.85" stroke-linejoin="round"/>
<polyline points="69.7,384.0 72.2,384.0 72.5,371.5 73.2,373.1 73.9,374.6 74.6,375.9 75.3,376.9 76.0,377.9 76.6,378.7 77.3,379.4 78.0,380.0 78.7,380.6 79.4,381.0 80.1,381.4 80.8,381.8 81.5,382.1 82.2,382.3 82.8,382.5 83.5,382.7 84.2,382.9 84.9,383.1 85.6,383.2 86.3,383.3 87.0,383.4 87.7,383.5 88.4,383.5 89.1,383.6 89.8,383.7 90.4,383.7 91.1,383.7 91.8,383.8 92.5,383.8 93.2,383.8" fill="none" stroke="#d07858" stroke-width="0.85" stroke-linejoin="round"/>
<polyline points="69.7,384.0 72.2,384.0 72.5,377.7 73.2,378.6 73.9,379.3 74.6,379.9 75.3,380.5 76.0,380.9 76.6,381.4 77.3,381.7 78.0,382.0 78.7,382.3 79.4,382.5 80.1,382.7 80.8,382.9 81.5,383.0 82.2,383.2 82.8,383.3 83.5,383.4 84.2,383.5 84.9,383.5 85.6,383.6 86.3,383.6 87.0,383.7 87.7,383.7 88.4,383.8 89.1,383.8 89.8,383.8 90.4,383.9 91.1,383.9 91.8,383.9 92.5,383.9 93.2,383.9" fill="none" stroke="#b04820" stroke-width="0.85" stroke-linejoin="round"/>
<polyline points="69.7,384.0 72.2,384.0 72.5,389.8 73.2,389.0 73.9,388.3 74.6,387.7 75.3,387.2 76.0,386.8 76.6,386.4 77.3,386.1 78.0,385.8 78.7,385.6 79.4,385.4 80.1,385.2 80.8,385.0 81.5,384.9 82.2,384.8 82.8,384.7 83.5,384.6 84.2,384.5 84.9,384.4 85.6,384.4 86.3,384.3 87.0,384.3 87.7,384.2 88.4,384.2 89.1,384.2 89.8,384.2 90.4,384.1 91.1,384.1 91.8,384.1 92.5,384.1 93.2,384.1" fill="none" stroke="#dcc040" stroke-width="0.85" stroke-linejoin="round"/>
<polyline points="69.7,384.0 72.2,384.0 72.5,396.6 73.2,395.0 73.9,393.5 74.6,392.2 75.3,391.1 76.0,390.2 76.6,389.3 77.3,388.6 78.0,388.0 78.7,387.5 79.4,387.0 80.1,386.6 80.8,386.3 81.5,386.0 82.2,385.7 82.8,385.5 83.5,385.3 84.2,385.1 84.9,385.0 85.6,384.8 86.3,384.7 87.0,384.6 87.7,384.5 88.4,384.5 89.1,384.4 89.8,384.3 90.4,384.3 91.1,384.3 91.8,384.2 92.5,384.2 93.2,384.2" fill="none" stroke="#b88040" stroke-width="0.85" stroke-linejoin="round"/>
<polyline points="69.7,384.0 72.2,384.0 72.5,407.0 73.2,403.9 73.9,401.3 74.6,398.9 75.3,396.9 76.0,395.2 76.6,393.7 77.3,392.4 78.0,391.3 78.7,390.3 79.4,389.5 80.1,388.7 80.8,388.1 81.5,387.5 82.2,387.1 82.8,386.7 83.5,386.3 84.2,386.0 84.9,385.7 85.6,385.5 86.3,385.3 87.0,385.1 87.7,385.0 88.4,384.8 89.1,384.7 89.8,384.6 90.4,384.5 91.1,384.5 91.8,384.4 92.5,384.4 93.2,384.3" fill="none" stroke="#e89898" stroke-width="0.85" stroke-linejoin="round"/>
<polyline points="69.7,384.0 93.2,384.0" fill="none" stroke="#d88020" stroke-width="1.1" stroke-linejoin="round"/>
<line x1="72.20" y1="363.10" x2="72.20" y2="407.00" stroke="#e8b0b0" stroke-width="0.5"/>
<polyline points="9.6,432.5 12.1,432.5 12.4,414.8 12.9,416.7 13.5,418.4 14.0,419.9 14.6,421.3 15.1,422.5 15.7,423.6 16.2,424.5 16.8,425.4 17.3,426.1 17.9,426.8 18.4,427.4 19.0,428.0 19.5,428.5 20.1,428.9 20.6,429.3 21.1,429.6 21.7,429.9 22.2,430.2 22.8,430.5 23.3,430.7 23.9,430.9 24.4,431.1 25.0,431.2 25.5,431.3 26.1,431.5 26.6,431.6 27.2,431.7 27.7,431.8 28.3,431.8 28.8,431.9" fill="none" stroke="#e89888" stroke-width="0.85" stroke-linejoin="round"/>
<polyline points="9.6,432.5 12.1,432.5 12.4,421.9 12.9,423.0 13.5,424.0 14.0,425.0 14.6,425.8 15.1,426.5 15.7,427.1 16.2,427.7 16.8,428.2 17.3,428.7 17.9,429.1 18.4,429.5 19.0,429.8 19.5,430.1 20.1,430.3 20.6,430.6 21.1,430.8 21.7,431.0 22.2,431.1 22.8,431.3 23.3,431.4 23.9,431.5 24.4,431.6 25.0,431.7 25.5,431.8 26.1,431.9 26.6,432.0 27.2,432.0 27.7,432.1 28.3,432.1 28.8,432.2" fill="none" stroke="#d07858" stroke-width="0.85" stroke-linejoin="round"/>
<polyline points="9.6,432.5 12.1,432.5 12.4,427.2 12.9,427.8 13.5,428.3 14.0,428.7 14.6,429.1 15.1,429.5 15.7,429.8 16.2,430.1 16.8,430.4 17.3,430.6 17.9,430.8 18.4,431.0 19.0,431.1 19.5,431.3 20.1,431.4 20.6,431.5 21.1,431.6 21.7,431.7 22.2,431.8 22.8,431.9 23.3,432.0 23.9,432.0 24.4,432.1 25.0,432.1 25.5,432.2 26.1,432.2 26.6,432.2 27.2,432.3 27.7,432.3 28.3,432.3 28.8,432.3" fill="none" stroke="#b04820" stroke-width="0.85" stroke-linejoin="round"/>
<polyline points="9.6,432.5 12.1,432.5 12.4,438.1 12.9,437.5 13.5,437.0 14.0,436.5 14.6,436.1 15.1,435.7 15.7,435.3 16.2,435.0 16.8,434.8 17.3,434.5 17.9,434.3 18.4,434.1 19.0,433.9 19.5,433.8 20.1,433.6 20.6,433.5 21.1,433.4 21.7,433.3 22.2,433.2 22.8,433.1 23.3,433.1 23.9,433.0 24.4,433.0 25.0,432.9 25.5,432.9 26.1,432.8 26.6,432.8 27.2,432.8 27.7,432.7 28.3,432.7 28.8,432.7" fill="none" stroke="#dcc040" stroke-width="0.85" stroke-linejoin="round"/>
<polyline points="9.6,432.5 12.1,432.5 12.4,444.9 12.9,443.5 13.5,442.4 14.0,441.3 14.6,440.3 15.1,439.5 15.7,438.7 16.2,438.1 16.8,437.5 17.3,436.9 17.9,436.5 18.4,436.0 19.0,435.7 19.5,435.3 20.1,435.0 20.6,434.7 21.1,434.5 21.7,434.3 22.2,434.1 22.8,433.9 23.3,433.8 23.9,433.6 24.4,433.5 25.0,433.4 25.5,433.3 26.1,433.2 26.6,433.1 27.2,433.1 27.7,433.0 28.3,433.0 28.8,432.9" fill="none" stroke="#b88040" stroke-width="0.85" stroke-linejoin="round"/>
<polyline points="9.6,432.5 12.1,432.5 12.4,455.0 12.9,452.6 13.5,450.4 14.0,448.5 14.6,446.8 15.1,445.2 15.7,443.9 16.2,442.6 16.8,441.5 17.3,440.6 17.9,439.7 18.4,438.9 19.0,438.2 19.5,437.6 20.1,437.1 20.6,436.6 21.1,436.1 21.7,435.7 22.2,435.4 22.8,435.1 23.3,434.8 23.9,434.6 24.4,434.3 25.0,434.1 25.5,434.0 26.1,433.8 26.6,433.7 27.2,433.5 27.7,433.4 28.3,433.3 28.8,433.2" fill="none" stroke="#e89898" stroke-width="0.85" stroke-linejoin="round"/>
<polyline points="9.6,432.5 28.8,432.5" fill="none" stroke="#d88020" stroke-width="1.1" stroke-linejoin="round"/>
<line x1="12.10" y1="414.80" x2="12.10" y2="455.00" stroke="#e8b0b0" stroke-width="0.5"/>
<polyline points="36.4,432.5 38.9,432.5 39.2,413.0 39.8,415.3 40.4,417.3 41.0,419.0 41.6,420.6 42.2,422.0 42.8,423.2 43.4,424.3 43.9,425.2 44.5,426.1 45.1,426.8 45.7,427.5 46.3,428.1 46.9,428.6 47.5,429.0 48.1,429.4 48.7,429.8 49.3,430.1 49.9,430.4 50.5,430.6 51.1,430.9 51.7,431.0 52.3,431.2 52.8,431.4 53.4,431.5 54.0,431.6 54.6,431.7 55.2,431.8 55.8,431.9 56.4,432.0 57.0,432.0" fill="none" stroke="#e89888" stroke-width="0.85" stroke-linejoin="round"/>
<polyline points="36.4,432.5 38.9,432.5 39.2,420.8 39.8,422.2 40.4,423.4 41.0,424.4 41.6,425.4 42.2,426.2 42.8,426.9 43.4,427.6 43.9,428.1 44.5,428.7 45.1,429.1 45.7,429.5 46.3,429.8 46.9,430.2 47.5,430.4 48.1,430.7 48.7,430.9 49.3,431.1 49.9,431.2 50.5,431.4 51.1,431.5 51.7,431.6 52.3,431.7 52.8,431.8 53.4,431.9 54.0,432.0 54.6,432.0 55.2,432.1 55.8,432.1 56.4,432.2 57.0,432.2" fill="none" stroke="#d07858" stroke-width="0.85" stroke-linejoin="round"/>
<polyline points="36.4,432.5 38.9,432.5 39.2,426.6 39.8,427.3 40.4,427.9 41.0,428.5 41.6,428.9 42.2,429.3 42.8,429.7 43.4,430.0 43.9,430.3 44.5,430.6 45.1,430.8 45.7,431.0 46.3,431.2 46.9,431.3 47.5,431.5 48.1,431.6 48.7,431.7 49.3,431.8 49.9,431.9 50.5,431.9 51.1,432.0 51.7,432.1 52.3,432.1 52.8,432.2 53.4,432.2 54.0,432.2 54.6,432.3 55.2,432.3 55.8,432.3 56.4,432.3 57.0,432.4" fill="none" stroke="#b04820" stroke-width="0.85" stroke-linejoin="round"/>
<polyline points="36.4,432.5 38.9,432.5 39.2,437.6 39.8,437.0 40.4,436.5 41.0,436.0 41.6,435.6 42.2,435.3 42.8,434.9 43.4,434.7 43.9,434.4 44.5,434.2 45.1,434.0 45.7,433.8 46.3,433.7 46.9,433.5 47.5,433.4 48.1,433.3 48.7,433.2 49.3,433.1 49.9,433.1 50.5,433.0 51.1,432.9 51.7,432.9 52.3,432.8 52.8,432.8 53.4,432.8 54.0,432.7 54.6,432.7 55.2,432.7 55.8,432.7 56.4,432.6 57.0,432.6" fill="none" stroke="#dcc040" stroke-width="0.85" stroke-linejoin="round"/>
<polyline points="36.4,432.5 38.9,432.5 39.2,443.8 39.8,442.5 40.4,441.3 41.0,440.3 41.6,439.4 42.2,438.6 42.8,437.9 43.4,437.2 43.9,436.7 44.5,436.2 45.1,435.8 45.7,435.4 46.3,435.1 46.9,434.8 47.5,434.5 48.1,434.3 48.7,434.1 49.3,433.9 49.9,433.7 50.5,433.6 51.1,433.5 51.7,433.3 52.3,433.2 52.8,433.2 53.4,433.1 54.0,433.0 54.6,433.0 55.2,432.9 55.8,432.9 56.4,432.8 57.0,432.8" fill="none" stroke="#b88040" stroke-width="0.85" stroke-linejoin="round"/>
<polyline points="36.4,432.5 38.9,432.5 39.2,453.0 39.8,450.6 40.4,448.5 41.0,446.6 41.6,445.0 42.2,443.5 42.8,442.3 43.4,441.1 43.9,440.1 44.5,439.2 45.1,438.5 45.7,437.8 46.3,437.2 46.9,436.6 47.5,436.1 48.1,435.7 48.7,435.3 49.3,435.0 49.9,434.7 50.5,434.5 51.1,434.2 51.7,434.0 52.3,433.9 52.8,433.7 53.4,433.6 54.0,433.4 54.6,433.3 55.2,433.2 55.8,433.1 56.4,433.1 57.0,433.0" fill="none" stroke="#e89898" stroke-width="0.85" stroke-linejoin="round"/>
<polyline points="36.4,432.5 57.0,432.5" fill="none" stroke="#d88020" stroke-width="1.1" stroke-linejoin="round"/>
<line x1="38.90" y1="413.00" x2="38.90" y2="453.00" stroke="#e8b0b0" stroke-width="0.5"/>
<polyline points="67.2,432.9 69.7,432.9 70.0,414.0 70.6,416.2 71.2,418.1 71.8,419.8 72.3,421.3 72.9,422.6 73.5,423.8 74.1,424.8 74.7,425.8 75.2,426.6 75.8,427.3 76.4,427.9 77.0,428.5 77.6,429.0 78.2,429.5 78.8,429.8 79.3,430.2 79.9,430.5 80.5,430.8 81.1,431.0 81.7,431.2 82.2,431.4 82.8,431.6 83.4,431.7 84.0,431.9 84.6,432.0 85.2,432.1 85.8,432.2 86.3,432.3 86.9,432.3 87.5,432.4" fill="none" stroke="#e89888" stroke-width="0.85" stroke-linejoin="round"/>
<polyline points="67.2,432.9 69.7,432.9 70.0,421.6 70.6,422.9 71.2,424.0 71.8,425.0 72.3,425.9 72.9,426.7 73.5,427.4 74.1,428.1 74.7,428.6 75.2,429.1 75.8,429.5 76.4,429.9 77.0,430.3 77.6,430.6 78.2,430.8 78.8,431.1 79.3,431.3 79.9,431.5 80.5,431.6 81.1,431.8 81.7,431.9 82.2,432.0 82.8,432.1 83.4,432.2 84.0,432.3 84.6,432.4 85.2,432.4 85.8,432.5 86.3,432.5 86.9,432.6 87.5,432.6" fill="none" stroke="#d07858" stroke-width="0.85" stroke-linejoin="round"/>
<polyline points="67.2,432.9 69.7,432.9 70.0,427.2 70.6,427.9 71.2,428.5 71.8,429.0 72.3,429.4 72.9,429.8 73.5,430.2 74.1,430.5 74.7,430.8 75.2,431.0 75.8,431.2 76.4,431.4 77.0,431.6 77.6,431.7 78.2,431.9 78.8,432.0 79.3,432.1 79.9,432.2 80.5,432.3 81.1,432.3 81.7,432.4 82.2,432.5 82.8,432.5 83.4,432.6 84.0,432.6 84.6,432.6 85.2,432.7 85.8,432.7 86.3,432.7 86.9,432.7 87.5,432.8" fill="none" stroke="#b04820" stroke-width="0.85" stroke-linejoin="round"/>
<polyline points="67.2,432.9 69.7,432.9 70.0,438.4 70.6,437.8 71.2,437.2 71.8,436.7 72.3,436.3 72.9,435.9 73.5,435.6 74.1,435.3 74.7,435.0 75.2,434.8 75.8,434.5 76.4,434.4 77.0,434.2 77.6,434.0 78.2,433.9 78.8,433.8 79.3,433.7 79.9,433.6 80.5,433.5 81.1,433.4 81.7,433.4 82.2,433.3 82.8,433.3 83.4,433.2 84.0,433.2 84.6,433.2 85.2,433.1 85.8,433.1 86.3,433.1 86.9,433.1 87.5,433.0" fill="none" stroke="#dcc040" stroke-width="0.85" stroke-linejoin="round"/>
<polyline points="67.2,432.9 69.7,432.9 70.0,445.1 70.6,443.7 71.2,442.4 71.8,441.3 72.3,440.4 72.9,439.5 73.5,438.8 74.1,438.1 74.7,437.5 75.2,437.0 75.8,436.5 76.4,436.1 77.0,435.7 77.6,435.4 78.2,435.1 78.8,434.9 79.3,434.6 79.9,434.4 80.5,434.3 81.1,434.1 81.7,434.0 82.2,433.8 82.8,433.7 83.4,433.6 84.0,433.6 84.6,433.5 85.2,433.4 85.8,433.4 86.3,433.3 86.9,433.3 87.5,433.2" fill="none" stroke="#b88040" stroke-width="0.85" stroke-linejoin="round"/>
<polyline points="67.2,432.9 69.7,432.9 70.0,455.0 70.6,452.5 71.2,450.2 71.8,448.2 72.3,446.5 72.9,444.9 73.5,443.6 74.1,442.3 74.7,441.3 75.2,440.3 75.8,439.5 76.4,438.7 77.0,438.0 77.6,437.5 78.2,436.9 78.8,436.5 79.3,436.1 79.9,435.7 80.5,435.4 81.1,435.1 81.7,434.8 82.2,434.6 82.8,434.4 83.4,434.3 84.0,434.1 84.6,434.0 85.2,433.8 85.8,433.7 86.3,433.6 86.9,433.6 87.5,433.5" fill="none" stroke="#e89898" stroke-width="0.85" stroke-linejoin="round"/>
<polyline points="67.2,432.9 87.5,432.9" fill="none" stroke="#d88020" stroke-width="1.1" stroke-linejoin="round"/>
<line x1="69.70" y1="414.00" x2="69.70" y2="455.00" stroke="#e8b0b0" stroke-width="0.5"/>
<text x="15.5" y="359.8" font-size="8.8" text-anchor="start" fill="#000" stroke="#000" stroke-width="0.3" font-family="Liberation Sans, sans-serif" font-weight="bold">E1<tspan font-size="7.2" dy="-2.8" stroke-width="0.15">-/-</tspan></text>
<text x="40.8" y="359.8" font-size="8.8" text-anchor="start" fill="#000" stroke="#000" stroke-width="0.3" font-family="Liberation Sans, sans-serif" font-weight="bold">E2<tspan font-size="7.2" dy="-2.8" stroke-width="0.15">-/-</tspan></text>
<text x="69.8" y="359.8" font-size="8.8" text-anchor="start" fill="#000" stroke="#000" stroke-width="0.3" font-family="Liberation Sans, sans-serif" font-weight="bold">E<tspan font-size="7.2" dy="-2.8" stroke-width="0.15">+/-</tspan></text>
<text x="14.8" y="415.8" font-size="8.8" text-anchor="start" fill="#000" stroke="#000" stroke-width="0.3" font-family="Liberation Sans, sans-serif" font-weight="bold">E<tspan font-size="7.2" dy="-2.8" stroke-width="0.15">-/-</tspan></text>
<text x="42.9" y="415.8" font-size="8.8" text-anchor="start" fill="#000" stroke="#000" stroke-width="0.3" font-family="Liberation Sans, sans-serif" font-weight="bold">IN-E<tspan font-size="7.2" dy="-2.8" stroke-width="0.15">+/+</tspan></text>
<text x="72.7" y="415.8" font-size="8.8" text-anchor="start" fill="#000" stroke="#000" stroke-width="0.3" font-family="Liberation Sans, sans-serif" font-weight="bold">IN-E<tspan font-size="7.2" dy="-2.8" stroke-width="0.15">-/-</tspan></text>
<line x1="110.70" y1="426.10" x2="110.70" y2="447.60" stroke="#000" stroke-width="1.3"/>
<line x1="88.20" y1="447.00" x2="111.30" y2="447.00" stroke="#000" stroke-width="1.3"/>
<text x="97.4" y="457.7" font-size="8.8" text-anchor="middle" fill="#000" stroke="#000" stroke-width="0.3" font-family="Liberation Sans, sans-serif" font-weight="bold">50 ms</text>
<text x="119.6" y="433.5" font-size="8.8" text-anchor="middle" fill="#000" stroke="#000" stroke-width="0.3" font-family="Liberation Sans, sans-serif" font-weight="bold" transform="rotate(-90 119.6 433.5)">200 pA</text>
<line x1="179.80" y1="367.50" x2="179.80" y2="449.00" stroke="#000" stroke-width="1.4"/>
<line x1="125.00" y1="408.70" x2="229.90" y2="408.70" stroke="#000" stroke-width="1.4"/>
<line x1="179.80" y1="368.00" x2="183.80" y2="368.00" stroke="#000" stroke-width="1.2"/>
<line x1="179.80" y1="381.42" x2="183.80" y2="381.42" stroke="#000" stroke-width="1.2"/>
<line x1="179.80" y1="394.83" x2="183.80" y2="394.83" stroke="#000" stroke-width="1.2"/>
<line x1="179.80" y1="408.25" x2="183.80" y2="408.25" stroke="#000" stroke-width="1.2"/>
<line x1="179.80" y1="421.67" x2="183.80" y2="421.67" stroke="#000" stroke-width="1.2"/>
<line x1="179.80" y1="435.08" x2="183.80" y2="435.08" stroke="#000" stroke-width="1.2"/>
<line x1="179.80" y1="448.50" x2="183.80" y2="448.50" stroke="#000" stroke-width="1.2"/>
<line x1="125.00" y1="408.70" x2="125.00" y2="412.70" stroke="#000" stroke-width="1.2"/>
<line x1="151.22" y1="408.70" x2="151.22" y2="412.70" stroke="#000" stroke-width="1.2"/>
<line x1="177.45" y1="408.70" x2="177.45" y2="412.70" stroke="#000" stroke-width="1.2"/>
<line x1="203.68" y1="408.70" x2="203.68" y2="412.70" stroke="#000" stroke-width="1.2"/>
<line x1="229.90" y1="408.70" x2="229.90" y2="412.70" stroke="#000" stroke-width="1.2"/>
<line x1="125.00" y1="439.05" x2="125.00" y2="447.45" stroke="#444" stroke-width="0.8"/>
<line x1="123.70" y1="439.05" x2="126.30" y2="439.05" stroke="#444" stroke-width="0.8"/>
<line x1="123.70" y1="447.45" x2="126.30" y2="447.45" stroke="#444" stroke-width="0.8"/>
<line x1="138.11" y1="431.55" x2="138.11" y2="438.85" stroke="#444" stroke-width="0.8"/>
<line x1="136.81" y1="431.55" x2="139.41" y2="431.55" stroke="#444" stroke-width="0.8"/>
<line x1="136.81" y1="438.85" x2="139.41" y2="438.85" stroke="#444" stroke-width="0.8"/>
<line x1="151.22" y1="424.72" x2="151.22" y2="430.92" stroke="#444" stroke-width="0.8"/>
<line x1="149.92" y1="424.72" x2="152.53" y2="424.72" stroke="#444" stroke-width="0.8"/>
<line x1="149.92" y1="430.92" x2="152.53" y2="430.92" stroke="#444" stroke-width="0.8"/>
<line x1="164.34" y1="415.54" x2="164.34" y2="420.64" stroke="#444" stroke-width="0.8"/>
<line x1="163.04" y1="415.54" x2="165.64" y2="415.54" stroke="#444" stroke-width="0.8"/>
<line x1="163.04" y1="420.64" x2="165.64" y2="420.64" stroke="#444" stroke-width="0.8"/>
<line x1="177.45" y1="406.36" x2="177.45" y2="410.36" stroke="#444" stroke-width="0.8"/>
<line x1="176.15" y1="406.36" x2="178.75" y2="406.36" stroke="#444" stroke-width="0.8"/>
<line x1="176.15" y1="410.36" x2="178.75" y2="410.36" stroke="#444" stroke-width="0.8"/>
<line x1="190.56" y1="397.43" x2="190.56" y2="402.53" stroke="#444" stroke-width="0.8"/>
<line x1="189.26" y1="397.43" x2="191.86" y2="397.43" stroke="#444" stroke-width="0.8"/>
<line x1="189.26" y1="402.53" x2="191.86" y2="402.53" stroke="#444" stroke-width="0.8"/>
<line x1="203.68" y1="388.16" x2="203.68" y2="394.36" stroke="#444" stroke-width="0.8"/>
<line x1="202.38" y1="388.16" x2="204.98" y2="388.16" stroke="#444" stroke-width="0.8"/>
<line x1="202.38" y1="394.36" x2="204.98" y2="394.36" stroke="#444" stroke-width="0.8"/>
<line x1="216.79" y1="378.55" x2="216.79" y2="385.85" stroke="#444" stroke-width="0.8"/>
<line x1="215.49" y1="378.55" x2="218.09" y2="378.55" stroke="#444" stroke-width="0.8"/>
<line x1="215.49" y1="385.85" x2="218.09" y2="385.85" stroke="#444" stroke-width="0.8"/>
<line x1="229.90" y1="365.93" x2="229.90" y2="374.33" stroke="#444" stroke-width="0.8"/>
<line x1="228.60" y1="365.93" x2="231.20" y2="365.93" stroke="#444" stroke-width="0.8"/>
<line x1="228.60" y1="374.33" x2="231.20" y2="374.33" stroke="#444" stroke-width="0.8"/>
<polyline points="125.0,444.3 138.1,436.3 151.2,428.9 164.3,419.2 177.4,409.5 190.6,401.1 203.7,392.4 216.8,383.3 229.9,371.2" fill="none" stroke="#f0a020" stroke-width="1.0" stroke-linejoin="round"/>
<polyline points="125.0,442.1 138.1,434.1 151.2,426.7 164.3,417.0 177.4,407.3 190.6,398.9 203.7,390.2 216.8,381.1 229.9,369.0" fill="none" stroke="#a05018" stroke-width="1.0" stroke-linejoin="round"/>
<polyline points="125.0,443.2 138.1,435.2 151.2,427.8 164.3,418.1 177.4,408.4 190.6,400.0 203.7,391.3 216.8,382.2 229.9,370.1" fill="none" stroke="#d08010" stroke-width="1.4" stroke-linejoin="round"/>
<polyline points="125.0,443.7 138.1,435.7 151.2,428.3 164.3,418.6 177.4,408.9 190.6,400.5 203.7,391.8 216.8,382.7 229.9,370.6" fill="none" stroke="#e8c030" stroke-width="0.9" stroke-linejoin="round"/>
<polyline points="125.0,442.7 138.1,434.7 151.2,427.3 164.3,417.6 177.4,407.9 190.6,399.5 203.7,390.8 216.8,381.7 229.9,369.6" fill="none" stroke="#c87020" stroke-width="0.9" stroke-linejoin="round"/>
<rect x="123.30" y="441.55" width="3.40" height="3.40" fill="#fff" stroke="#111" stroke-width="1"/>
<rect x="136.41" y="433.50" width="3.40" height="3.40" fill="#fff" stroke="#111" stroke-width="1"/>
<rect x="149.53" y="426.12" width="3.40" height="3.40" fill="#fff" stroke="#111" stroke-width="1"/>
<rect x="162.64" y="416.39" width="3.40" height="3.40" fill="#fff" stroke="#111" stroke-width="1"/>
<rect x="175.75" y="406.66" width="3.40" height="3.40" fill="#fff" stroke="#111" stroke-width="1"/>
<rect x="188.86" y="398.28" width="3.40" height="3.40" fill="#fff" stroke="#111" stroke-width="1"/>
<rect x="201.98" y="389.56" width="3.40" height="3.40" fill="#fff" stroke="#111" stroke-width="1"/>
<rect x="215.09" y="380.50" width="3.40" height="3.40" fill="#fff" stroke="#111" stroke-width="1"/>
<rect x="228.20" y="368.43" width="3.40" height="3.40" fill="#fff" stroke="#111" stroke-width="1"/>
<text x="176.8" y="371.2" font-size="8.8" text-anchor="end" fill="#000" stroke="#000" stroke-width="0.3" font-family="Liberation Sans, sans-serif" font-weight="bold">N.C</text>
<text x="188.5" y="371.2" font-size="8.8" text-anchor="start" fill="#000" stroke="#000" stroke-width="0.3" font-family="Liberation Sans, sans-serif" font-weight="bold">1.2</text>
<text x="187.5" y="452" font-size="8.8" text-anchor="start" fill="#000" stroke="#000" stroke-width="0.3" font-family="Liberation Sans, sans-serif" font-weight="bold">-1.2</text>
<text x="130.3" y="406" font-size="8.8" text-anchor="middle" fill="#000" stroke="#000" stroke-width="0.3" font-family="Liberation Sans, sans-serif" font-weight="bold">-80</text>
<text x="227.5" y="406" font-size="8.8" text-anchor="middle" fill="#000" stroke="#000" stroke-width="0.3" font-family="Liberation Sans, sans-serif" font-weight="bold">80</text>
<text x="233" y="422.1" font-size="8.8" text-anchor="end" fill="#000" stroke="#000" stroke-width="0.3" font-family="Liberation Sans, sans-serif" font-weight="bold">mV</text>
<text x="265" y="365.9" font-size="16" text-anchor="start" fill="#000" stroke="#000" stroke-width="0.3" font-family="Liberation Sans, sans-serif" font-weight="bold">F</text>
<polyline points="273.4,377.7 277.9,377.7 278.2,375.6 278.5,373.7 278.8,372.0 279.1,370.8 279.4,370.0 279.7,369.7 281.3,370.0 282.9,370.3 284.6,370.6 286.2,370.8 287.8,371.1 289.4,371.4 291.0,371.7 292.6,371.9 294.3,372.2 295.9,372.5 297.5,372.8 299.1,373.0 300.7,373.3 302.4,373.6 304.0,373.8 305.6,374.1 307.2,374.3 308.8,374.6 310.4,374.8 312.1,375.1 313.7,375.3 315.3,375.6 316.9,375.8 318.5,376.1 320.1,376.3 321.8,376.5 323.4,376.7 325.0,376.9 326.6,377.1 328.2,377.3 329.9,377.5 331.5,377.7 333.1,377.7 334.7,377.7 336.3,377.7 337.9,377.7 339.6,377.7 341.2,377.7 342.8,377.7 344.4,377.7 346.0,377.7 347.7,377.7 349.3,377.7 350.9,377.7 352.5,377.7 354.1,377.7 355.7,377.7 357.4,377.7 359.0,377.7 360.6,377.7" fill="none" stroke="#7a2848" stroke-width="0.8" stroke-linejoin="round"/>
<polyline points="273.4,377.7 277.9,377.7 278.2,376.3 278.5,374.9 278.8,373.7 279.1,372.9 279.4,372.3 279.7,372.1 281.3,372.3 282.9,372.5 284.6,372.7 286.2,372.9 287.8,373.1 289.4,373.3 291.0,373.5 292.6,373.7 294.3,373.9 295.9,374.1 297.5,374.2 299.1,374.4 300.7,374.6 302.4,374.8 304.0,375.0 305.6,375.2 307.2,375.3 308.8,375.5 310.4,375.7 312.1,375.9 313.7,376.0 315.3,376.2 316.9,376.4 318.5,376.5 320.1,376.7 321.8,376.9 323.4,377.0 325.0,377.2 326.6,377.3 328.2,377.5 329.9,377.6 331.5,377.7 333.1,377.7 334.7,377.7 336.3,377.7 337.9,377.7 339.6,377.7 341.2,377.7 342.8,377.7 344.4,377.7 346.0,377.7 347.7,377.7 349.3,377.7 350.9,377.7 352.5,377.7 354.1,377.7 355.7,377.7 357.4,377.7 359.0,377.7 360.6,377.7" fill="none" stroke="#c87a70" stroke-width="0.8" stroke-linejoin="round"/>
<polyline points="273.4,377.7 277.9,377.7 278.2,376.8 278.5,375.9 278.8,375.2 279.1,374.6 279.4,374.2 279.7,374.1 281.3,374.2 282.9,374.4 284.6,374.5 286.2,374.6 287.8,374.7 289.4,374.9 291.0,375.0 292.6,375.1 294.3,375.2 295.9,375.4 297.5,375.5 299.1,375.6 300.7,375.7 302.4,375.8 304.0,376.0 305.6,376.1 307.2,376.2 308.8,376.3 310.4,376.4 312.1,376.5 313.7,376.6 315.3,376.7 316.9,376.9 318.5,377.0 320.1,377.1 321.8,377.2 323.4,377.3 325.0,377.4 326.6,377.5 328.2,377.5 329.9,377.6 331.5,377.7 333.1,377.7 334.7,377.7 336.3,377.7 337.9,377.7 339.6,377.7 341.2,377.7 342.8,377.7 344.4,377.7 346.0,377.7 347.7,377.7 349.3,377.7 350.9,377.7 352.5,377.7 354.1,377.7 355.7,377.7 357.4,377.7 359.0,377.7 360.6,377.7" fill="none" stroke="#f0c0a8" stroke-width="0.8" stroke-linejoin="round"/>
<polyline points="273.4,377.7 277.9,377.7 278.2,377.3 278.5,376.9 278.8,376.6 279.1,376.3 279.4,376.2 279.7,376.1 281.3,376.2 282.9,376.2 284.6,376.3 286.2,376.3 287.8,376.4 289.4,376.4 291.0,376.5 292.6,376.5 294.3,376.6 295.9,376.7 297.5,376.7 299.1,376.8 300.7,376.8 302.4,376.9 304.0,376.9 305.6,377.0 307.2,377.0 308.8,377.1 310.4,377.1 312.1,377.2 313.7,377.2 315.3,377.3 316.9,377.3 318.5,377.4 320.1,377.4 321.8,377.5 323.4,377.5 325.0,377.5 326.6,377.6 328.2,377.6 329.9,377.7 331.5,377.7 333.1,377.7 334.7,377.7 336.3,377.7 337.9,377.7 339.6,377.7 341.2,377.7 342.8,377.7 344.4,377.7 346.0,377.7 347.7,377.7 349.3,377.7 350.9,377.7 352.5,377.7 354.1,377.7 355.7,377.7 357.4,377.7 359.0,377.7 360.6,377.7" fill="none" stroke="#e8b070" stroke-width="0.8" stroke-linejoin="round"/>
<polyline points="273.4,378.3 360.6,378.3" fill="none" stroke="#e0c040" stroke-width="0.8" stroke-linejoin="round"/>
<polyline points="273.4,377.7 360.6,377.7" fill="none" stroke="#d07818" stroke-width="1.0" stroke-linejoin="round"/>
<text x="341.8" y="375.3" font-size="8.8" text-anchor="start" fill="#000" stroke="#000" stroke-width="0.3" font-family="Liberation Sans, sans-serif" font-weight="bold">E1<tspan font-size="7.2" dy="-2.8" stroke-width="0.15">-/-</tspan></text>
<polyline points="273.4,391.9 277.9,391.9 278.2,391.3 278.5,390.8 278.8,390.4 279.1,390.0 279.4,389.8 279.7,389.7 281.3,389.8 282.9,389.9 284.6,390.0 286.2,390.0 287.8,390.1 289.4,390.2 291.0,390.3 292.6,390.3 294.3,390.4 295.9,390.5 297.5,390.6 299.1,390.6 300.7,390.7 302.4,390.8 304.0,390.9 305.6,390.9 307.2,391.0 308.8,391.1 310.4,391.1 312.1,391.2 313.7,391.3 315.3,391.3 316.9,391.4 318.5,391.5 320.1,391.5 321.8,391.6 323.4,391.6 325.0,391.7 326.6,391.8 328.2,391.8 329.9,391.9 331.5,391.9 333.1,391.9 334.7,391.9 336.3,391.9 337.9,391.9 339.6,391.9 341.2,391.9 342.8,391.9 344.4,391.9 346.0,391.9 347.7,391.9 349.3,391.9 350.9,391.9 352.5,391.9 354.1,391.9 355.7,391.9 357.4,391.9 359.0,391.9 360.6,391.9" fill="none" stroke="#7a2848" stroke-width="0.8" stroke-linejoin="round"/>
<polyline points="273.4,391.9 277.9,391.9 278.2,390.1 278.5,388.5 278.8,387.1 279.1,386.0 279.4,385.3 279.7,385.1 281.3,385.3 282.9,385.5 284.6,385.8 286.2,386.0 287.8,386.3 289.4,386.5 291.0,386.7 292.6,387.0 294.3,387.2 295.9,387.4 297.5,387.7 299.1,387.9 300.7,388.1 302.4,388.4 304.0,388.6 305.6,388.8 307.2,389.0 308.8,389.2 310.4,389.5 312.1,389.7 313.7,389.9 315.3,390.1 316.9,390.3 318.5,390.5 320.1,390.7 321.8,390.9 323.4,391.1 325.0,391.3 326.6,391.4 328.2,391.6 329.9,391.8 331.5,391.9 333.1,391.9 334.7,391.9 336.3,391.9 337.9,391.9 339.6,391.9 341.2,391.9 342.8,391.9 344.4,391.9 346.0,391.9 347.7,391.9 349.3,391.9 350.9,391.9 352.5,391.9 354.1,391.9 355.7,391.9 357.4,391.9 359.0,391.9 360.6,391.9" fill="none" stroke="#c87a70" stroke-width="0.8" stroke-linejoin="round"/>
<polyline points="273.4,391.9 277.9,391.9 278.2,390.8 278.5,389.7 278.8,388.8 279.1,388.2 279.4,387.7 279.7,387.6 281.3,387.7 282.9,387.9 284.6,388.0 286.2,388.2 287.8,388.3 289.4,388.5 291.0,388.6 292.6,388.8 294.3,388.9 295.9,389.1 297.5,389.2 299.1,389.4 300.7,389.5 302.4,389.7 304.0,389.8 305.6,389.9 307.2,390.1 308.8,390.2 310.4,390.4 312.1,390.5 313.7,390.6 315.3,390.8 316.9,390.9 318.5,391.0 320.1,391.1 321.8,391.3 323.4,391.4 325.0,391.5 326.6,391.6 328.2,391.7 329.9,391.8 331.5,391.9 333.1,391.9 334.7,391.9 336.3,391.9 337.9,391.9 339.6,391.9 341.2,391.9 342.8,391.9 344.4,391.9 346.0,391.9 347.7,391.9 349.3,391.9 350.9,391.9 352.5,391.9 354.1,391.9 355.7,391.9 357.4,391.9 359.0,391.9 360.6,391.9" fill="none" stroke="#f0c0a8" stroke-width="0.8" stroke-linejoin="round"/>
<polyline points="273.4,391.9 277.9,391.9 278.2,391.4 278.5,391.0 278.8,390.6 279.1,390.3 279.4,390.2 279.7,390.1 281.3,390.2 282.9,390.2 284.6,390.3 286.2,390.4 287.8,390.4 289.4,390.5 291.0,390.5 292.6,390.6 294.3,390.7 295.9,390.7 297.5,390.8 299.1,390.8 300.7,390.9 302.4,391.0 304.0,391.0 305.6,391.1 307.2,391.1 308.8,391.2 310.4,391.3 312.1,391.3 313.7,391.4 315.3,391.4 316.9,391.5 318.5,391.5 320.1,391.6 321.8,391.6 323.4,391.7 325.0,391.7 326.6,391.8 328.2,391.8 329.9,391.9 331.5,391.9 333.1,391.9 334.7,391.9 336.3,391.9 337.9,391.9 339.6,391.9 341.2,391.9 342.8,391.9 344.4,391.9 346.0,391.9 347.7,391.9 349.3,391.9 350.9,391.9 352.5,391.9 354.1,391.9 355.7,391.9 357.4,391.9 359.0,391.9 360.6,391.9" fill="none" stroke="#e8b070" stroke-width="0.8" stroke-linejoin="round"/>
<polyline points="273.4,392.5 360.6,392.5" fill="none" stroke="#e0c040" stroke-width="0.8" stroke-linejoin="round"/>
<polyline points="273.4,391.9 360.6,391.9" fill="none" stroke="#d07818" stroke-width="1.0" stroke-linejoin="round"/>
<text x="341.8" y="389.5" font-size="8.8" text-anchor="start" fill="#000" stroke="#000" stroke-width="0.3" font-family="Liberation Sans, sans-serif" font-weight="bold">E2<tspan font-size="7.2" dy="-2.8" stroke-width="0.15">-/-</tspan></text>
<polyline points="273.4,406.1 277.9,406.1 278.2,404.2 278.5,402.4 278.8,400.8 279.1,399.6 279.4,398.9 279.7,398.6 281.3,398.9 282.9,399.1 284.6,399.4 286.2,399.7 287.8,399.9 289.4,400.2 291.0,400.4 292.6,400.7 294.3,401.0 295.9,401.2 297.5,401.5 299.1,401.7 300.7,402.0 302.4,402.2 304.0,402.5 305.6,402.7 307.2,402.9 308.8,403.2 310.4,403.4 312.1,403.7 313.7,403.9 315.3,404.1 316.9,404.3 318.5,404.6 320.1,404.8 321.8,405.0 323.4,405.2 325.0,405.4 326.6,405.6 328.2,405.8 329.9,405.9 331.5,406.1 333.1,406.1 334.7,406.1 336.3,406.1 337.9,406.1 339.6,406.1 341.2,406.1 342.8,406.1 344.4,406.1 346.0,406.1 347.7,406.1 349.3,406.1 350.9,406.1 352.5,406.1 354.1,406.1 355.7,406.1 357.4,406.1 359.0,406.1 360.6,406.1" fill="none" stroke="#7a2848" stroke-width="0.8" stroke-linejoin="round"/>
<polyline points="273.4,406.1 277.9,406.1 278.2,404.7 278.5,403.5 278.8,402.4 279.1,401.6 279.4,401.0 279.7,400.9 281.3,401.0 282.9,401.2 284.6,401.4 286.2,401.6 287.8,401.8 289.4,402.0 291.0,402.1 292.6,402.3 294.3,402.5 295.9,402.7 297.5,402.9 299.1,403.0 300.7,403.2 302.4,403.4 304.0,403.6 305.6,403.7 307.2,403.9 308.8,404.1 310.4,404.2 312.1,404.4 313.7,404.5 315.3,404.7 316.9,404.9 318.5,405.0 320.1,405.2 321.8,405.3 323.4,405.5 325.0,405.6 326.6,405.7 328.2,405.9 329.9,406.0 331.5,406.1 333.1,406.1 334.7,406.1 336.3,406.1 337.9,406.1 339.6,406.1 341.2,406.1 342.8,406.1 344.4,406.1 346.0,406.1 347.7,406.1 349.3,406.1 350.9,406.1 352.5,406.1 354.1,406.1 355.7,406.1 357.4,406.1 359.0,406.1 360.6,406.1" fill="none" stroke="#c87a70" stroke-width="0.8" stroke-linejoin="round"/>
<polyline points="273.4,406.1 277.9,406.1 278.2,405.1 278.5,404.2 278.8,403.4 279.1,402.9 279.4,402.5 279.7,402.4 281.3,402.5 282.9,402.6 284.6,402.7 286.2,402.9 287.8,403.0 289.4,403.1 291.0,403.3 292.6,403.4 294.3,403.5 295.9,403.7 297.5,403.8 299.1,403.9 300.7,404.0 302.4,404.2 304.0,404.3 305.6,404.4 307.2,404.5 308.8,404.6 310.4,404.8 312.1,404.9 313.7,405.0 315.3,405.1 316.9,405.2 318.5,405.3 320.1,405.4 321.8,405.5 323.4,405.6 325.0,405.7 326.6,405.8 328.2,405.9 329.9,406.0 331.5,406.1 333.1,406.1 334.7,406.1 336.3,406.1 337.9,406.1 339.6,406.1 341.2,406.1 342.8,406.1 344.4,406.1 346.0,406.1 347.7,406.1 349.3,406.1 350.9,406.1 352.5,406.1 354.1,406.1 355.7,406.1 357.4,406.1 359.0,406.1 360.6,406.1" fill="none" stroke="#f0c0a8" stroke-width="0.8" stroke-linejoin="round"/>
<polyline points="273.4,406.1 277.9,406.1 278.2,405.6 278.5,405.2 278.8,404.8 279.1,404.5 279.4,404.3 279.7,404.2 281.3,404.3 282.9,404.4 284.6,404.4 286.2,404.5 287.8,404.6 289.4,404.6 291.0,404.7 292.6,404.8 294.3,404.8 295.9,404.9 297.5,404.9 299.1,405.0 300.7,405.1 302.4,405.1 304.0,405.2 305.6,405.3 307.2,405.3 308.8,405.4 310.4,405.4 312.1,405.5 313.7,405.5 315.3,405.6 316.9,405.7 318.5,405.7 320.1,405.8 321.8,405.8 323.4,405.9 325.0,405.9 326.6,406.0 328.2,406.0 329.9,406.1 331.5,406.1 333.1,406.1 334.7,406.1 336.3,406.1 337.9,406.1 339.6,406.1 341.2,406.1 342.8,406.1 344.4,406.1 346.0,406.1 347.7,406.1 349.3,406.1 350.9,406.1 352.5,406.1 354.1,406.1 355.7,406.1 357.4,406.1 359.0,406.1 360.6,406.1" fill="none" stroke="#e8b070" stroke-width="0.8" stroke-linejoin="round"/>
<polyline points="273.4,406.7 360.6,406.7" fill="none" stroke="#e0c040" stroke-width="0.8" stroke-linejoin="round"/>
<polyline points="273.4,406.1 360.6,406.1" fill="none" stroke="#d07818" stroke-width="1.0" stroke-linejoin="round"/>
<text x="343.1" y="403.5" font-size="8.8" text-anchor="start" fill="#000" stroke="#000" stroke-width="0.3" font-family="Liberation Sans, sans-serif" font-weight="bold">E<tspan font-size="7.2" dy="-2.8" stroke-width="0.15">+/-</tspan></text>
<polyline points="273.4,420.1 277.9,420.1 278.2,419.7 278.5,419.3 278.8,419.0 279.1,418.7 279.4,418.5 279.7,418.5 281.3,418.5 282.9,418.6 284.6,418.7 286.2,418.7 287.8,418.8 289.4,418.8 291.0,418.9 292.6,418.9 294.3,419.0 295.9,419.0 297.5,419.1 299.1,419.2 300.7,419.2 302.4,419.3 304.0,419.3 305.6,419.4 307.2,419.4 308.8,419.5 310.4,419.5 312.1,419.6 313.7,419.6 315.3,419.7 316.9,419.7 318.5,419.8 320.1,419.8 321.8,419.9 323.4,419.9 325.0,419.9 326.6,420.0 328.2,420.0 329.9,420.1 331.5,420.1 333.1,420.1 334.7,420.1 336.3,420.1 337.9,420.1 339.6,420.1 341.2,420.1 342.8,420.1 344.4,420.1 346.0,420.1 347.7,420.1 349.3,420.1 350.9,420.1 352.5,420.1 354.1,420.1 355.7,420.1 357.4,420.1 359.0,420.1 360.6,420.1" fill="none" stroke="#7a2848" stroke-width="0.8" stroke-linejoin="round"/>
<polyline points="273.4,420.1 277.9,420.1 278.2,418.9 278.5,417.9 278.8,416.9 279.1,416.2 279.4,415.8 279.7,415.6 281.3,415.8 282.9,416.0 284.6,416.1 286.2,416.3 287.8,416.4 289.4,416.6 291.0,416.7 292.6,416.9 294.3,417.0 295.9,417.2 297.5,417.3 299.1,417.5 300.7,417.6 302.4,417.8 304.0,417.9 305.6,418.1 307.2,418.2 308.8,418.4 310.4,418.5 312.1,418.6 313.7,418.8 315.3,418.9 316.9,419.1 318.5,419.2 320.1,419.3 321.8,419.4 323.4,419.6 325.0,419.7 326.6,419.8 328.2,419.9 329.9,420.0 331.5,420.1 333.1,420.1 334.7,420.1 336.3,420.1 337.9,420.1 339.6,420.1 341.2,420.1 342.8,420.1 344.4,420.1 346.0,420.1 347.7,420.1 349.3,420.1 350.9,420.1 352.5,420.1 354.1,420.1 355.7,420.1 357.4,420.1 359.0,420.1 360.6,420.1" fill="none" stroke="#c87a70" stroke-width="0.8" stroke-linejoin="round"/>
<polyline points="273.4,420.1 277.9,420.1 278.2,418.0 278.5,416.1 278.8,414.4 279.1,413.1 279.4,412.3 279.7,412.0 281.3,412.3 282.9,412.6 284.6,412.9 286.2,413.1 287.8,413.4 289.4,413.7 291.0,414.0 292.6,414.3 294.3,414.5 295.9,414.8 297.5,415.1 299.1,415.4 300.7,415.6 302.4,415.9 304.0,416.2 305.6,416.4 307.2,416.7 308.8,416.9 310.4,417.2 312.1,417.5 313.7,417.7 315.3,418.0 316.9,418.2 318.5,418.4 320.1,418.7 321.8,418.9 323.4,419.1 325.0,419.3 326.6,419.5 328.2,419.7 329.9,419.9 331.5,420.1 333.1,420.1 334.7,420.1 336.3,420.1 337.9,420.1 339.6,420.1 341.2,420.1 342.8,420.1 344.4,420.1 346.0,420.1 347.7,420.1 349.3,420.1 350.9,420.1 352.5,420.1 354.1,420.1 355.7,420.1 357.4,420.1 359.0,420.1 360.6,420.1" fill="none" stroke="#f0c0a8" stroke-width="0.8" stroke-linejoin="round"/>
<polyline points="273.4,420.1 277.9,420.1 278.2,419.3 278.5,418.5 278.8,417.8 279.1,417.3 279.4,417.0 279.7,416.9 281.3,417.0 282.9,417.1 284.6,417.2 286.2,417.3 287.8,417.4 289.4,417.5 291.0,417.7 292.6,417.8 294.3,417.9 295.9,418.0 297.5,418.1 299.1,418.2 300.7,418.3 302.4,418.4 304.0,418.5 305.6,418.6 307.2,418.7 308.8,418.8 310.4,418.9 312.1,419.0 313.7,419.1 315.3,419.2 316.9,419.3 318.5,419.4 320.1,419.5 321.8,419.6 323.4,419.7 325.0,419.8 326.6,419.9 328.2,420.0 329.9,420.0 331.5,420.1 333.1,420.1 334.7,420.1 336.3,420.1 337.9,420.1 339.6,420.1 341.2,420.1 342.8,420.1 344.4,420.1 346.0,420.1 347.7,420.1 349.3,420.1 350.9,420.1 352.5,420.1 354.1,420.1 355.7,420.1 357.4,420.1 359.0,420.1 360.6,420.1" fill="none" stroke="#e8b070" stroke-width="0.8" stroke-linejoin="round"/>
<polyline points="273.4,420.7 360.6,420.7" fill="none" stroke="#e0c040" stroke-width="0.8" stroke-linejoin="round"/>
<polyline points="273.4,420.1 360.6,420.1" fill="none" stroke="#d07818" stroke-width="1.0" stroke-linejoin="round"/>
<text x="345.3" y="416.90000000000003" font-size="8.8" text-anchor="start" fill="#000" stroke="#000" stroke-width="0.3" font-family="Liberation Sans, sans-serif" font-weight="bold">E<tspan font-size="7.2" dy="-2.8" stroke-width="0.15">-/-</tspan></text>
<polyline points="273.4,434.3 277.9,434.3 278.2,433.9 278.5,433.5 278.8,433.1 279.1,432.8 279.4,432.7 279.7,432.6 281.3,432.7 282.9,432.7 284.6,432.8 286.2,432.9 287.8,432.9 289.4,433.0 291.0,433.0 292.6,433.1 294.3,433.2 295.9,433.2 297.5,433.3 299.1,433.3 300.7,433.4 302.4,433.4 304.0,433.5 305.6,433.5 307.2,433.6 308.8,433.6 310.4,433.7 312.1,433.8 313.7,433.8 315.3,433.9 316.9,433.9 318.5,434.0 320.1,434.0 321.8,434.1 323.4,434.1 325.0,434.1 326.6,434.2 328.2,434.2 329.9,434.3 331.5,434.3 333.1,434.3 334.7,434.3 336.3,434.3 337.9,434.3 339.6,434.3 341.2,434.3 342.8,434.3 344.4,434.3 346.0,434.3 347.7,434.3 349.3,434.3 350.9,434.3 352.5,434.3 354.1,434.3 355.7,434.3 357.4,434.3 359.0,434.3 360.6,434.3" fill="none" stroke="#7a2848" stroke-width="0.8" stroke-linejoin="round"/>
<polyline points="273.4,434.3 277.9,434.3 278.2,433.3 278.5,432.3 278.8,431.5 279.1,430.8 279.4,430.4 279.7,430.3 281.3,430.4 282.9,430.6 284.6,430.7 286.2,430.8 287.8,431.0 289.4,431.1 291.0,431.3 292.6,431.4 294.3,431.5 295.9,431.7 297.5,431.8 299.1,432.0 300.7,432.1 302.4,432.2 304.0,432.3 305.6,432.5 307.2,432.6 308.8,432.7 310.4,432.9 312.1,433.0 313.7,433.1 315.3,433.2 316.9,433.4 318.5,433.5 320.1,433.6 321.8,433.7 323.4,433.8 325.0,433.9 326.6,434.0 328.2,434.1 329.9,434.2 331.5,434.3 333.1,434.3 334.7,434.3 336.3,434.3 337.9,434.3 339.6,434.3 341.2,434.3 342.8,434.3 344.4,434.3 346.0,434.3 347.7,434.3 349.3,434.3 350.9,434.3 352.5,434.3 354.1,434.3 355.7,434.3 357.4,434.3 359.0,434.3 360.6,434.3" fill="none" stroke="#c87a70" stroke-width="0.8" stroke-linejoin="round"/>
<polyline points="273.4,434.3 277.9,434.3 278.2,432.6 278.5,431.0 278.8,429.6 279.1,428.5 279.4,427.8 279.7,427.6 281.3,427.8 282.9,428.1 284.6,428.3 286.2,428.5 287.8,428.8 289.4,429.0 291.0,429.2 292.6,429.5 294.3,429.7 295.9,429.9 297.5,430.2 299.1,430.4 300.7,430.6 302.4,430.8 304.0,431.0 305.6,431.3 307.2,431.5 308.8,431.7 310.4,431.9 312.1,432.1 313.7,432.3 315.3,432.5 316.9,432.7 318.5,432.9 320.1,433.1 321.8,433.3 323.4,433.5 325.0,433.7 326.6,433.8 328.2,434.0 329.9,434.2 331.5,434.3 333.1,434.3 334.7,434.3 336.3,434.3 337.9,434.3 339.6,434.3 341.2,434.3 342.8,434.3 344.4,434.3 346.0,434.3 347.7,434.3 349.3,434.3 350.9,434.3 352.5,434.3 354.1,434.3 355.7,434.3 357.4,434.3 359.0,434.3 360.6,434.3" fill="none" stroke="#f0c0a8" stroke-width="0.8" stroke-linejoin="round"/>
<polyline points="273.4,434.3 277.9,434.3 278.2,433.7 278.5,433.1 278.8,432.6 279.1,432.3 279.4,432.0 279.7,432.0 281.3,432.0 282.9,432.1 284.6,432.2 286.2,432.3 287.8,432.4 289.4,432.5 291.0,432.5 292.6,432.6 294.3,432.7 295.9,432.8 297.5,432.9 299.1,432.9 300.7,433.0 302.4,433.1 304.0,433.2 305.6,433.2 307.2,433.3 308.8,433.4 310.4,433.5 312.1,433.5 313.7,433.6 315.3,433.7 316.9,433.7 318.5,433.8 320.1,433.9 321.8,434.0 323.4,434.0 325.0,434.1 326.6,434.1 328.2,434.2 329.9,434.2 331.5,434.3 333.1,434.3 334.7,434.3 336.3,434.3 337.9,434.3 339.6,434.3 341.2,434.3 342.8,434.3 344.4,434.3 346.0,434.3 347.7,434.3 349.3,434.3 350.9,434.3 352.5,434.3 354.1,434.3 355.7,434.3 357.4,434.3 359.0,434.3 360.6,434.3" fill="none" stroke="#e8b070" stroke-width="0.8" stroke-linejoin="round"/>
<polyline points="273.4,434.9 360.6,434.9" fill="none" stroke="#e0c040" stroke-width="0.8" stroke-linejoin="round"/>
<polyline points="273.4,434.3 360.6,434.3" fill="none" stroke="#d07818" stroke-width="1.0" stroke-linejoin="round"/>
<text x="332.9" y="431.1" font-size="8.8" text-anchor="start" fill="#000" stroke="#000" stroke-width="0.3" font-family="Liberation Sans, sans-serif" font-weight="bold">IN-E<tspan font-size="7.2" dy="-2.8" stroke-width="0.15">+/+</tspan></text>
<polyline points="273.4,448.2 277.9,448.2 278.2,446.1 278.5,444.2 278.8,442.5 279.1,441.3 279.4,440.5 279.7,440.2 281.3,440.5 282.9,440.8 284.6,441.1 286.2,441.3 287.8,441.6 289.4,441.9 291.0,442.2 292.6,442.4 294.3,442.7 295.9,443.0 297.5,443.3 299.1,443.5 300.7,443.8 302.4,444.1 304.0,444.3 305.6,444.6 307.2,444.8 308.8,445.1 310.4,445.3 312.1,445.6 313.7,445.8 315.3,446.1 316.9,446.3 318.5,446.6 320.1,446.8 321.8,447.0 323.4,447.2 325.0,447.4 326.6,447.6 328.2,447.8 329.9,448.0 331.5,448.2 333.1,448.2 334.7,448.2 336.3,448.2 337.9,448.2 339.6,448.2 341.2,448.2 342.8,448.2 344.4,448.2 346.0,448.2 347.7,448.2 349.3,448.2 350.9,448.2 352.5,448.2 354.1,448.2 355.7,448.2 357.4,448.2 359.0,448.2 360.6,448.2" fill="none" stroke="#7a2848" stroke-width="0.8" stroke-linejoin="round"/>
<polyline points="273.4,448.2 277.9,448.2 278.2,446.8 278.5,445.4 278.8,444.2 279.1,443.4 279.4,442.8 279.7,442.6 281.3,442.8 282.9,443.0 284.6,443.2 286.2,443.4 287.8,443.6 289.4,443.8 291.0,444.0 292.6,444.2 294.3,444.4 295.9,444.6 297.5,444.7 299.1,444.9 300.7,445.1 302.4,445.3 304.0,445.5 305.6,445.7 307.2,445.8 308.8,446.0 310.4,446.2 312.1,446.4 313.7,446.5 315.3,446.7 316.9,446.9 318.5,447.0 320.1,447.2 321.8,447.4 323.4,447.5 325.0,447.7 326.6,447.8 328.2,448.0 329.9,448.1 331.5,448.2 333.1,448.2 334.7,448.2 336.3,448.2 337.9,448.2 339.6,448.2 341.2,448.2 342.8,448.2 344.4,448.2 346.0,448.2 347.7,448.2 349.3,448.2 350.9,448.2 352.5,448.2 354.1,448.2 355.7,448.2 357.4,448.2 359.0,448.2 360.6,448.2" fill="none" stroke="#c87a70" stroke-width="0.8" stroke-linejoin="round"/>
<polyline points="273.4,448.2 277.9,448.2 278.2,447.3 278.5,446.4 278.8,445.7 279.1,445.1 279.4,444.7 279.7,444.6 281.3,444.7 282.9,444.9 284.6,445.0 286.2,445.1 287.8,445.2 289.4,445.4 291.0,445.5 292.6,445.6 294.3,445.7 295.9,445.9 297.5,446.0 299.1,446.1 300.7,446.2 302.4,446.3 304.0,446.5 305.6,446.6 307.2,446.7 308.8,446.8 310.4,446.9 312.1,447.0 313.7,447.1 315.3,447.2 316.9,447.4 318.5,447.5 320.1,447.6 321.8,447.7 323.4,447.8 325.0,447.9 326.6,448.0 328.2,448.0 329.9,448.1 331.5,448.2 333.1,448.2 334.7,448.2 336.3,448.2 337.9,448.2 339.6,448.2 341.2,448.2 342.8,448.2 344.4,448.2 346.0,448.2 347.7,448.2 349.3,448.2 350.9,448.2 352.5,448.2 354.1,448.2 355.7,448.2 357.4,448.2 359.0,448.2 360.6,448.2" fill="none" stroke="#f0c0a8" stroke-width="0.8" stroke-linejoin="round"/>
<polyline points="273.4,448.2 277.9,448.2 278.2,447.7 278.5,447.2 278.8,446.8 279.1,446.5 279.4,446.3 279.7,446.2 281.3,446.3 282.9,446.3 284.6,446.4 286.2,446.5 287.8,446.6 289.4,446.6 291.0,446.7 292.6,446.8 294.3,446.8 295.9,446.9 297.5,447.0 299.1,447.0 300.7,447.1 302.4,447.2 304.0,447.2 305.6,447.3 307.2,447.4 308.8,447.4 310.4,447.5 312.1,447.5 313.7,447.6 315.3,447.7 316.9,447.7 318.5,447.8 320.1,447.8 321.8,447.9 323.4,448.0 325.0,448.0 326.6,448.1 328.2,448.1 329.9,448.2 331.5,448.2 333.1,448.2 334.7,448.2 336.3,448.2 337.9,448.2 339.6,448.2 341.2,448.2 342.8,448.2 344.4,448.2 346.0,448.2 347.7,448.2 349.3,448.2 350.9,448.2 352.5,448.2 354.1,448.2 355.7,448.2 357.4,448.2 359.0,448.2 360.6,448.2" fill="none" stroke="#e8b070" stroke-width="0.8" stroke-linejoin="round"/>
<polyline points="273.4,448.8 360.6,448.8" fill="none" stroke="#e0c040" stroke-width="0.8" stroke-linejoin="round"/>
<polyline points="273.4,448.2 360.6,448.2" fill="none" stroke="#d07818" stroke-width="1.0" stroke-linejoin="round"/>
<text x="337.2" y="444.5" font-size="8.8" text-anchor="start" fill="#000" stroke="#000" stroke-width="0.3" font-family="Liberation Sans, sans-serif" font-weight="bold">IN-E<tspan font-size="7.2" dy="-2.8" stroke-width="0.15">-/-</tspan></text>
<line x1="384.30" y1="426.90" x2="384.30" y2="449.90" stroke="#000" stroke-width="1.3"/>
<line x1="363.20" y1="449.30" x2="384.90" y2="449.30" stroke="#000" stroke-width="1.3"/>
<text x="370.3" y="459.7" font-size="8.8" text-anchor="middle" fill="#000" stroke="#000" stroke-width="0.3" font-family="Liberation Sans, sans-serif" font-weight="bold">100 ms</text>
<text x="393.2" y="434.3" font-size="8.8" text-anchor="middle" fill="#000" stroke="#000" stroke-width="0.3" font-family="Liberation Sans, sans-serif" font-weight="bold" transform="rotate(-90 393.2 434.3)">200 pA</text>
<line x1="443.60" y1="367.50" x2="443.60" y2="449.00" stroke="#000" stroke-width="1.4"/>
<line x1="389.10" y1="408.30" x2="493.50" y2="408.30" stroke="#000" stroke-width="1.4"/>
<line x1="443.60" y1="368.00" x2="447.60" y2="368.00" stroke="#000" stroke-width="1.2"/>
<line x1="443.60" y1="381.42" x2="447.60" y2="381.42" stroke="#000" stroke-width="1.2"/>
<line x1="443.60" y1="394.83" x2="447.60" y2="394.83" stroke="#000" stroke-width="1.2"/>
<line x1="443.60" y1="408.25" x2="447.60" y2="408.25" stroke="#000" stroke-width="1.2"/>
<line x1="443.60" y1="421.67" x2="447.60" y2="421.67" stroke="#000" stroke-width="1.2"/>
<line x1="443.60" y1="435.08" x2="447.60" y2="435.08" stroke="#000" stroke-width="1.2"/>
<line x1="443.60" y1="448.50" x2="447.60" y2="448.50" stroke="#000" stroke-width="1.2"/>
<line x1="389.10" y1="408.30" x2="389.10" y2="412.30" stroke="#000" stroke-width="1.2"/>
<line x1="415.20" y1="408.30" x2="415.20" y2="412.30" stroke="#000" stroke-width="1.2"/>
<line x1="441.30" y1="408.30" x2="441.30" y2="412.30" stroke="#000" stroke-width="1.2"/>
<line x1="467.40" y1="408.30" x2="467.40" y2="412.30" stroke="#000" stroke-width="1.2"/>
<line x1="493.50" y1="408.30" x2="493.50" y2="412.30" stroke="#000" stroke-width="1.2"/>
<line x1="389.10" y1="405.11" x2="389.10" y2="413.51" stroke="#444" stroke-width="0.8"/>
<line x1="387.80" y1="405.11" x2="390.40" y2="405.11" stroke="#444" stroke-width="0.8"/>
<line x1="387.80" y1="413.51" x2="390.40" y2="413.51" stroke="#444" stroke-width="0.8"/>
<line x1="402.15" y1="409.68" x2="402.15" y2="416.98" stroke="#444" stroke-width="0.8"/>
<line x1="400.85" y1="409.68" x2="403.45" y2="409.68" stroke="#444" stroke-width="0.8"/>
<line x1="400.85" y1="416.98" x2="403.45" y2="416.98" stroke="#444" stroke-width="0.8"/>
<line x1="415.20" y1="412.24" x2="415.20" y2="418.44" stroke="#444" stroke-width="0.8"/>
<line x1="413.90" y1="412.24" x2="416.50" y2="412.24" stroke="#444" stroke-width="0.8"/>
<line x1="413.90" y1="418.44" x2="416.50" y2="418.44" stroke="#444" stroke-width="0.8"/>
<line x1="428.25" y1="409.77" x2="428.25" y2="414.88" stroke="#444" stroke-width="0.8"/>
<line x1="426.95" y1="409.77" x2="429.55" y2="409.77" stroke="#444" stroke-width="0.8"/>
<line x1="426.95" y1="414.88" x2="429.55" y2="414.88" stroke="#444" stroke-width="0.8"/>
<line x1="441.30" y1="404.96" x2="441.30" y2="408.96" stroke="#444" stroke-width="0.8"/>
<line x1="440.00" y1="404.96" x2="442.60" y2="404.96" stroke="#444" stroke-width="0.8"/>
<line x1="440.00" y1="408.96" x2="442.60" y2="408.96" stroke="#444" stroke-width="0.8"/>
<line x1="454.35" y1="396.36" x2="454.35" y2="401.46" stroke="#444" stroke-width="0.8"/>
<line x1="453.05" y1="396.36" x2="455.65" y2="396.36" stroke="#444" stroke-width="0.8"/>
<line x1="453.05" y1="401.46" x2="455.65" y2="401.46" stroke="#444" stroke-width="0.8"/>
<line x1="467.40" y1="386.75" x2="467.40" y2="392.95" stroke="#444" stroke-width="0.8"/>
<line x1="466.10" y1="386.75" x2="468.70" y2="386.75" stroke="#444" stroke-width="0.8"/>
<line x1="466.10" y1="392.95" x2="468.70" y2="392.95" stroke="#444" stroke-width="0.8"/>
<line x1="480.45" y1="378.82" x2="480.45" y2="386.12" stroke="#444" stroke-width="0.8"/>
<line x1="479.15" y1="378.82" x2="481.75" y2="378.82" stroke="#444" stroke-width="0.8"/>
<line x1="479.15" y1="386.12" x2="481.75" y2="386.12" stroke="#444" stroke-width="0.8"/>
<line x1="493.50" y1="367.88" x2="493.50" y2="376.27" stroke="#444" stroke-width="0.8"/>
<line x1="492.20" y1="367.88" x2="494.80" y2="367.88" stroke="#444" stroke-width="0.8"/>
<line x1="492.20" y1="376.27" x2="494.80" y2="376.27" stroke="#444" stroke-width="0.8"/>
<polyline points="389.1,410.4 402.2,414.4 415.2,416.4 428.2,413.4 441.3,408.1 454.4,400.0 467.4,391.0 480.4,383.6 493.5,373.2" fill="none" stroke="#f0a020" stroke-width="1.0" stroke-linejoin="round"/>
<polyline points="389.1,408.2 402.2,412.2 415.2,414.2 428.2,411.2 441.3,405.9 454.4,397.8 467.4,388.8 480.4,381.4 493.5,371.0" fill="none" stroke="#a05018" stroke-width="1.0" stroke-linejoin="round"/>
<polyline points="389.1,409.3 402.2,413.3 415.2,415.3 428.2,412.3 441.3,407.0 454.4,398.9 467.4,389.9 480.4,382.5 493.5,372.1" fill="none" stroke="#d08010" stroke-width="1.4" stroke-linejoin="round"/>
<polyline points="389.1,409.8 402.2,413.8 415.2,415.8 428.2,412.8 441.3,407.5 454.4,399.4 467.4,390.4 480.4,383.0 493.5,372.6" fill="none" stroke="#e8c030" stroke-width="0.9" stroke-linejoin="round"/>
<polyline points="389.1,408.8 402.2,412.8 415.2,414.8 428.2,411.8 441.3,406.5 454.4,398.4 467.4,389.4 480.4,382.0 493.5,371.6" fill="none" stroke="#c87020" stroke-width="0.9" stroke-linejoin="round"/>
<rect x="387.40" y="407.61" width="3.40" height="3.40" fill="#fff" stroke="#111" stroke-width="1"/>
<rect x="400.45" y="411.63" width="3.40" height="3.40" fill="#fff" stroke="#111" stroke-width="1"/>
<rect x="413.50" y="413.64" width="3.40" height="3.40" fill="#fff" stroke="#111" stroke-width="1"/>
<rect x="426.55" y="410.62" width="3.40" height="3.40" fill="#fff" stroke="#111" stroke-width="1"/>
<rect x="439.60" y="405.26" width="3.40" height="3.40" fill="#fff" stroke="#111" stroke-width="1"/>
<rect x="452.65" y="397.21" width="3.40" height="3.40" fill="#fff" stroke="#111" stroke-width="1"/>
<rect x="465.70" y="388.15" width="3.40" height="3.40" fill="#fff" stroke="#111" stroke-width="1"/>
<rect x="478.75" y="380.77" width="3.40" height="3.40" fill="#fff" stroke="#111" stroke-width="1"/>
<rect x="491.80" y="370.38" width="3.40" height="3.40" fill="#fff" stroke="#111" stroke-width="1"/>
<text x="440.6" y="371.2" font-size="8.8" text-anchor="end" fill="#000" stroke="#000" stroke-width="0.3" font-family="Liberation Sans, sans-serif" font-weight="bold">N.C</text>
<text x="450.5" y="371.2" font-size="8.8" text-anchor="start" fill="#000" stroke="#000" stroke-width="0.3" font-family="Liberation Sans, sans-serif" font-weight="bold">1.2</text>
<text x="449.4" y="451.5" font-size="8.8" text-anchor="start" fill="#000" stroke="#000" stroke-width="0.3" font-family="Liberation Sans, sans-serif" font-weight="bold">-1.2</text>
<text x="393.3" y="405.5" font-size="8.8" text-anchor="middle" fill="#000" stroke="#000" stroke-width="0.3" font-family="Liberation Sans, sans-serif" font-weight="bold">-80</text>
<text x="491.3" y="405.5" font-size="8.8" text-anchor="middle" fill="#000" stroke="#000" stroke-width="0.3" font-family="Liberation Sans, sans-serif" font-weight="bold">80</text>
<text x="497.6" y="422.1" font-size="8.8" text-anchor="end" fill="#000" stroke="#000" stroke-width="0.3" font-family="Liberation Sans, sans-serif" font-weight="bold">mV</text>
<text x="1.3" y="514.6" font-size="17" text-anchor="start" fill="#000" stroke="#000" stroke-width="0.3" font-family="Liberation Sans, sans-serif" font-weight="bold">G</text>
<polyline points="37.3,546.3 38.8,546.0 39.8,531.4 40.3,532.5 40.8,533.6 41.3,534.5 41.8,535.4 42.3,536.1 42.8,536.8 43.2,537.5 43.7,538.1 44.2,538.6 44.7,539.1 45.2,539.5 45.7,539.9 46.2,540.3 46.7,540.7 47.2,541.0 47.7,541.3 48.2,541.5 48.7,541.8 49.2,542.0 49.6,542.2 50.1,542.4 50.6,542.6 51.1,542.7 51.6,542.9 52.1,543.0 52.6,543.2 53.1,543.3 53.6,543.4 54.1,543.5 54.6,543.6 55.1,543.7 55.6,543.8 56.1,543.9 56.5,544.0 57.0,544.1 57.5,544.2 58.0,544.2 58.5,544.3 59.0,544.4 59.5,544.4" fill="none" stroke="#333" stroke-width="0.8" stroke-linejoin="round"/>
<polyline points="37.3,546.3 38.8,546.0 39.8,515.5 40.3,517.9 40.8,520.0 41.3,522.0 41.8,523.8 42.3,525.4 42.8,526.9 43.2,528.2 43.7,529.4 44.2,530.5 44.7,531.6 45.2,532.5 45.7,533.3 46.2,534.1 46.7,534.8 47.2,535.5 47.7,536.1 48.2,536.6 48.7,537.2 49.2,537.6 49.6,538.1 50.1,538.5 50.6,538.9 51.1,539.2 51.6,539.5 52.1,539.8 52.6,540.1 53.1,540.4 53.6,540.6 54.1,540.9 54.6,541.1 55.1,541.3 55.6,541.5 56.1,541.7 56.5,541.8 57.0,542.0 57.5,542.2 58.0,542.3 58.5,542.4 59.0,542.6 59.5,542.7" fill="none" stroke="#f06070" stroke-width="0.8" stroke-linejoin="round"/>
<polyline points="62.6,546.3 64.1,546.0 65.1,528.0 65.5,529.1 65.9,530.2 66.3,531.2 66.7,532.1 67.1,532.9 67.5,533.7 67.9,534.4 68.3,535.1 68.7,535.7 69.1,536.3 69.5,536.8 69.9,537.3 70.3,537.8 70.7,538.2 71.1,538.6 71.5,538.9 71.9,539.3 72.3,539.6 72.7,539.9 73.0,540.2 73.4,540.5 73.8,540.7 74.2,540.9 74.6,541.2 75.0,541.4 75.4,541.6 75.8,541.7 76.2,541.9 76.6,542.1 77.0,542.2 77.4,542.4 77.8,542.5 78.2,542.6 78.6,542.7 79.0,542.9 79.4,543.0 79.8,543.1 80.2,543.2 80.6,543.3 81.0,543.4" fill="none" stroke="#333" stroke-width="0.8" stroke-linejoin="round"/>
<polyline points="62.6,546.3 64.1,546.0 65.1,515.0 65.5,517.0 65.9,518.8 66.3,520.5 66.7,522.0 67.1,523.5 67.5,524.8 67.9,526.0 68.3,527.2 68.7,528.3 69.1,529.2 69.5,530.2 69.9,531.0 70.3,531.8 70.7,532.5 71.1,533.2 71.5,533.9 71.9,534.4 72.3,535.0 72.7,535.5 73.0,536.0 73.4,536.5 73.8,536.9 74.2,537.3 74.6,537.7 75.0,538.0 75.4,538.3 75.8,538.7 76.2,538.9 76.6,539.2 77.0,539.5 77.4,539.7 77.8,540.0 78.2,540.2 78.6,540.4 79.0,540.6 79.4,540.8 79.8,541.0 80.2,541.1 80.6,541.3 81.0,541.5" fill="none" stroke="#f06070" stroke-width="0.8" stroke-linejoin="round"/>
<polyline points="85.4,544.9 86.9,544.6 87.9,527.4 88.3,528.5 88.7,529.5 89.1,530.4 89.5,531.3 89.9,532.1 90.3,532.8 90.7,533.5 91.1,534.1 91.5,534.7 91.9,535.3 92.2,535.8 92.6,536.2 93.0,536.7 93.4,537.1 93.8,537.5 94.2,537.8 94.6,538.2 95.0,538.5 95.4,538.8 95.8,539.0 96.2,539.3 96.6,539.5 97.0,539.7 97.4,539.9 97.8,540.1 98.2,540.3 98.6,540.5 99.0,540.7 99.4,540.8 99.8,541.0 100.1,541.1 100.5,541.2 100.9,541.4 101.3,541.5 101.7,541.6 102.1,541.7 102.5,541.8 102.9,541.9 103.3,542.0 103.7,542.1" fill="none" stroke="#333" stroke-width="0.8" stroke-linejoin="round"/>
<polyline points="85.4,544.9 86.9,544.6 87.9,514.9 88.3,516.8 88.7,518.5 89.1,520.1 89.5,521.6 89.9,523.0 90.3,524.3 90.7,525.4 91.1,526.5 91.5,527.5 91.9,528.5 92.2,529.4 92.6,530.2 93.0,530.9 93.4,531.6 93.8,532.3 94.2,532.9 94.6,533.5 95.0,534.0 95.4,534.5 95.8,535.0 96.2,535.4 96.6,535.8 97.0,536.2 97.4,536.6 97.8,536.9 98.2,537.2 98.6,537.5 99.0,537.8 99.4,538.1 99.8,538.3 100.1,538.6 100.5,538.8 100.9,539.0 101.3,539.2 101.7,539.4 102.1,539.6 102.5,539.7 102.9,539.9 103.3,540.1 103.7,540.2" fill="none" stroke="#f06070" stroke-width="0.8" stroke-linejoin="round"/>
<polyline points="108.4,544.9 109.9,544.6 110.9,527.4 111.2,528.4 111.6,529.3 111.9,530.1 112.3,530.9 112.6,531.6 113.0,532.3 113.3,532.9 113.7,533.5 114.0,534.1 114.4,534.6 114.7,535.1 115.1,535.6 115.4,536.0 115.8,536.4 116.1,536.8 116.5,537.1 116.8,537.5 117.2,537.8 117.5,538.1 117.8,538.3 118.2,538.6 118.5,538.9 118.9,539.1 119.2,539.3 119.6,539.5 119.9,539.7 120.3,539.9 120.6,540.1 121.0,540.2 121.3,540.4 121.7,540.5 122.0,540.7 122.4,540.8 122.7,540.9 123.1,541.1 123.4,541.2 123.8,541.3 124.1,541.4 124.5,541.5 124.8,541.6" fill="none" stroke="#333" stroke-width="0.8" stroke-linejoin="round"/>
<polyline points="108.4,544.9 109.9,544.6 110.9,513.9 111.2,515.6 111.6,517.2 111.9,518.7 112.3,520.1 112.6,521.4 113.0,522.6 113.3,523.8 113.7,524.8 114.0,525.8 114.4,526.8 114.7,527.6 115.1,528.5 115.4,529.2 115.8,529.9 116.1,530.6 116.5,531.3 116.8,531.8 117.2,532.4 117.5,532.9 117.8,533.4 118.2,533.9 118.5,534.3 118.9,534.8 119.2,535.1 119.6,535.5 119.9,535.9 120.3,536.2 120.6,536.5 121.0,536.8 121.3,537.1 121.7,537.4 122.0,537.6 122.4,537.9 122.7,538.1 123.1,538.3 123.4,538.5 123.8,538.7 124.1,538.9 124.5,539.1 124.8,539.2" fill="none" stroke="#f06070" stroke-width="0.8" stroke-linejoin="round"/>
<polyline points="130.0,544.5 131.5,544.2 132.5,530.2 132.9,531.1 133.3,532.0 133.7,532.7 134.1,533.4 134.5,534.1 134.9,534.7 135.4,535.3 135.8,535.8 136.2,536.3 136.6,536.7 137.0,537.2 137.4,537.5 137.8,537.9 138.2,538.2 138.6,538.5 139.0,538.8 139.4,539.1 139.8,539.3 140.2,539.6 140.7,539.8 141.1,540.0 141.5,540.2 141.9,540.4 142.3,540.5 142.7,540.7 143.1,540.8 143.5,541.0 143.9,541.1 144.3,541.2 144.7,541.3 145.1,541.5 145.5,541.6 145.9,541.7 146.4,541.7 146.8,541.8 147.2,541.9 147.6,542.0 148.0,542.1 148.4,542.1 148.8,542.2" fill="none" stroke="#333" stroke-width="0.8" stroke-linejoin="round"/>
<polyline points="130.0,544.5 131.5,544.2 132.5,530.2 132.9,531.1 133.3,532.0 133.7,532.7 134.1,533.4 134.5,534.1 134.9,534.7 135.4,535.3 135.8,535.8 136.2,536.3 136.6,536.7 137.0,537.2 137.4,537.5 137.8,537.9 138.2,538.2 138.6,538.5 139.0,538.8 139.4,539.1 139.8,539.3 140.2,539.6 140.7,539.8 141.1,540.0 141.5,540.2 141.9,540.4 142.3,540.5 142.7,540.7 143.1,540.8 143.5,541.0 143.9,541.1 144.3,541.2 144.7,541.3 145.1,541.5 145.5,541.6 145.9,541.7 146.4,541.7 146.8,541.8 147.2,541.9 147.6,542.0 148.0,542.1 148.4,542.1 148.8,542.2" fill="none" stroke="#f06070" stroke-width="0.8" stroke-linejoin="round"/>
<polyline points="152.4,544.5 153.9,544.2 154.9,530.2 155.2,530.9 155.5,531.5 155.8,532.1 156.1,532.7 156.4,533.2 156.7,533.8 157.0,534.2 157.3,534.7 157.6,535.1 157.9,535.5 158.2,535.9 158.5,536.2 158.8,536.6 159.1,536.9 159.4,537.2 159.7,537.5 160.0,537.8 160.3,538.0 160.6,538.3 160.9,538.5 161.3,538.7 161.6,538.9 161.9,539.1 162.2,539.3 162.5,539.5 162.8,539.6 163.1,539.8 163.4,540.0 163.7,540.1 164.0,540.2 164.3,540.4 164.6,540.5 164.9,540.6 165.2,540.7 165.5,540.8 165.8,540.9 166.1,541.0 166.4,541.1 166.7,541.2 167.0,541.3" fill="none" stroke="#333" stroke-width="0.8" stroke-linejoin="round"/>
<polyline points="152.4,544.5 153.9,544.2 154.9,530.2 155.2,530.9 155.5,531.5 155.8,532.1 156.1,532.7 156.4,533.2 156.7,533.8 157.0,534.2 157.3,534.7 157.6,535.1 157.9,535.5 158.2,535.9 158.5,536.2 158.8,536.6 159.1,536.9 159.4,537.2 159.7,537.5 160.0,537.8 160.3,538.0 160.6,538.3 160.9,538.5 161.3,538.7 161.6,538.9 161.9,539.1 162.2,539.3 162.5,539.5 162.8,539.6 163.1,539.8 163.4,540.0 163.7,540.1 164.0,540.2 164.3,540.4 164.6,540.5 164.9,540.6 165.2,540.7 165.5,540.8 165.8,540.9 166.1,541.0 166.4,541.1 166.7,541.2 167.0,541.3" fill="none" stroke="#f06070" stroke-width="0.8" stroke-linejoin="round"/>
<text x="25" y="512.8" font-size="9.4" text-anchor="start" fill="#000" stroke="#000" stroke-width="0.3" font-family="Liberation Sans, sans-serif" font-weight="bold">E1<tspan font-size="6.8" dy="-3.2" stroke-width="0.15">+/+</tspan></text>
<text x="54.3" y="512.8" font-size="9.4" text-anchor="start" fill="#000" stroke="#000" stroke-width="0.3" font-family="Liberation Sans, sans-serif" font-weight="bold">E1<tspan font-size="6.8" dy="-3.2" stroke-width="0.15">-/-</tspan></text>
<text x="79.2" y="512.6" font-size="9.4" text-anchor="start" fill="#000" stroke="#000" stroke-width="0.3" font-family="Liberation Sans, sans-serif" font-weight="bold">E2<tspan font-size="6.8" dy="-3.2" stroke-width="0.15">-/-</tspan></text>
<text x="102.8" y="512.6" font-size="9.4" text-anchor="start" fill="#000" stroke="#000" stroke-width="0.3" font-family="Liberation Sans, sans-serif" font-weight="bold">E<tspan font-size="6.8" dy="-3.2" stroke-width="0.15">+/-</tspan></text>
<text x="122.9" y="527.4" font-size="9.4" text-anchor="start" fill="#000" stroke="#000" stroke-width="0.3" font-family="Liberation Sans, sans-serif" font-weight="bold">E<tspan font-size="6.8" dy="-3.2" stroke-width="0.15">-/-</tspan></text>
<text x="141.1" y="527.4" font-size="9.4" text-anchor="start" fill="#000" stroke="#000" stroke-width="0.3" font-family="Liberation Sans, sans-serif" font-weight="bold">IN-E<tspan font-size="6.8" dy="-3.2" stroke-width="0.15">-/-</tspan></text>
<circle cx="58.40" cy="557.50" r="2.7" fill="#000"/>
<circle cx="97.90" cy="557.50" r="2.7" fill="#20a020"/>
<text x="65.6" y="560.9" font-size="9.4" text-anchor="start" fill="#000" stroke="#000" stroke-width="0.3" font-family="Liberation Sans, sans-serif" font-weight="bold">E1<tspan font-size="7.4" dy="-2.9" stroke-width="0.15">+/+</tspan></text>
<text x="102.7" y="560.9" font-size="9.4" text-anchor="start" fill="#000" stroke="#000" stroke-width="0.3" font-family="Liberation Sans, sans-serif" font-weight="bold">E<tspan font-size="7.4" dy="-2.9" stroke-width="0.15">+/-</tspan></text>
<circle cx="58.40" cy="568.50" r="2.7" fill="#40f040"/>
<circle cx="97.90" cy="568.50" r="2.7" fill="#f02020"/>
<text x="65.6" y="571.6" font-size="9.4" text-anchor="start" fill="#000" stroke="#000" stroke-width="0.3" font-family="Liberation Sans, sans-serif" font-weight="bold">E1<tspan font-size="7.4" dy="-2.9" stroke-width="0.15">-/-</tspan></text>
<text x="102.7" y="571.6" font-size="9.4" text-anchor="start" fill="#000" stroke="#000" stroke-width="0.3" font-family="Liberation Sans, sans-serif" font-weight="bold">E<tspan font-size="7.4" dy="-2.9" stroke-width="0.15">-/-</tspan></text>
<circle cx="58.40" cy="578.50" r="2.7" fill="#2020f0"/>
<circle cx="97.90" cy="578.50" r="2.7" fill="#801010"/>
<text x="65.6" y="581.3" font-size="9.4" text-anchor="start" fill="#000" stroke="#000" stroke-width="0.3" font-family="Liberation Sans, sans-serif" font-weight="bold">E2<tspan font-size="7.4" dy="-2.9" stroke-width="0.15">-/-</tspan></text>
<text x="102.7" y="581.3" font-size="9.4" text-anchor="start" fill="#000" stroke="#000" stroke-width="0.3" font-family="Liberation Sans, sans-serif" font-weight="bold">IN-E<tspan font-size="7.4" dy="-2.9" stroke-width="0.15">-/-</tspan></text>
<line x1="160.10" y1="554.00" x2="160.10" y2="568.80" stroke="#000" stroke-width="1.3"/>
<line x1="142.30" y1="568.20" x2="160.70" y2="568.20" stroke="#000" stroke-width="1.3"/>
<text x="169.2" y="560" font-size="8.8" text-anchor="middle" fill="#000" stroke="#000" stroke-width="0.3" font-family="Liberation Sans, sans-serif" font-weight="bold" transform="rotate(-90 169.2 560)">5 mV</text>
<text x="150.2" y="577.2" font-size="8.8" text-anchor="middle" fill="#000" stroke="#000" stroke-width="0.3" font-family="Liberation Sans, sans-serif" font-weight="bold">20 ms</text>
<path d="M52.6 627.3V631.3M53.3 627.0V631.0M54.0 625.9V629.9M54.7 627.3V631.3M55.4 627.1V631.1M56.1 626.9V630.9M56.8 628.1V632.1M57.5 627.1V631.1M58.2 626.8V630.8M58.9 626.3V630.3M59.6 628.3V632.3M60.3 627.7V631.7M61.0 628.3V632.3M61.7 626.3V630.3M62.4 626.6V630.6M63.1 628.5V632.5M63.8 625.8V629.8M64.5 625.8V629.8" stroke="#000" stroke-width="0.5" fill="none"/>
<path d="M52.6 626.7V630.7M53.3 626.8V630.8M54.0 628.2V632.2M54.7 628.6V632.6M55.4 627.1V631.1M56.1 628.4V632.4M56.8 628.1V632.1M57.5 627.9V631.9M58.2 628.5V632.5M58.9 627.3V631.3M59.6 627.3V631.3M60.3 626.2V630.2M61.0 627.1V631.1M61.7 626.8V630.8M62.4 627.2V631.2M63.1 626.7V630.7M63.8 627.3V631.3M64.5 627.8V631.8" stroke="#2020f0" stroke-width="0.5" fill="none"/>
<path d="M52.6 625.7V629.7M53.3 625.7V629.7M54.0 626.2V630.2M54.7 626.6V630.6M55.4 627.7V631.7M56.1 627.9V631.9M56.8 627.8V631.8M57.5 628.4V632.4M58.2 626.4V630.4M58.9 627.4V631.4M59.6 626.2V630.2M60.3 627.5V631.5M61.0 625.8V629.8M61.7 626.2V630.2M62.4 628.6V632.6M63.1 628.0V632.0M63.8 626.0V630.0M64.5 627.2V631.2" stroke="#40f040" stroke-width="0.5" fill="none"/>
<path d="M52.6 625.8V629.8M53.3 627.5V631.5M54.0 628.4V632.4M54.7 626.8V630.8M55.4 626.4V630.4M56.1 627.8V631.8M56.8 628.4V632.4M57.5 627.6V631.6M58.2 625.8V629.8M58.9 626.4V630.4M59.6 628.3V632.3M60.3 627.9V631.9M61.0 628.3V632.3M61.7 628.4V632.4M62.4 626.3V630.3M63.1 628.1V632.1M63.8 627.0V631.0M64.5 627.3V631.3" stroke="#f02020" stroke-width="0.5" fill="none"/>
<path d="M52.6 628.1V632.1M53.3 626.5V630.5M54.0 628.2V632.2M54.7 626.7V630.7M55.4 628.3V632.3M56.1 627.4V631.4M56.8 628.0V632.0M57.5 627.8V631.8M58.2 625.8V629.8M58.9 626.3V630.3M59.6 627.7V631.7M60.3 626.0V630.0M61.0 628.0V632.0M61.7 627.5V631.5M62.4 626.1V630.1M63.1 626.7V630.7M63.8 628.3V632.3M64.5 625.7V629.7" stroke="#801010" stroke-width="0.5" fill="none"/>
<path d="M52.6 628.0V632.0M53.3 627.9V631.9M54.0 626.4V630.4M54.7 627.7V631.7M55.4 627.7V631.7M56.1 628.4V632.4M56.8 628.3V632.3M57.5 626.9V630.9M58.2 627.9V631.9M58.9 626.9V630.9M59.6 627.5V631.5M60.3 627.3V631.3M61.0 625.8V629.8M61.7 627.2V631.2M62.4 626.9V630.9M63.1 626.1V630.1M63.8 628.1V632.1M64.5 628.2V632.2M52.6 626.0V630.0M53.3 626.2V630.2M54.0 627.9V631.9M54.7 628.1V632.1M55.4 626.5V630.5M56.1 625.9V629.9M56.8 628.0V632.0M57.5 625.9V629.9M58.2 626.1V630.1M58.9 626.9V630.9M59.6 627.4V631.4M60.3 628.3V632.3M61.0 628.5V632.5M61.7 625.8V629.8M62.4 627.9V631.9M63.1 626.6V630.6M63.8 627.9V631.9M64.5 626.2V630.2" stroke="#20a020" stroke-width="0.5" fill="none"/>
<path d="M65.4 587.5V592.7M66.3 592.1V597.3M67.2 594.9V600.1M68.1 592.9V598.1M68.9 599.0V604.2M69.8 599.6V604.8M70.7 599.1V604.3M71.6 599.1V604.3M72.4 601.8V607.0M73.3 604.8V610.0M74.2 603.0V608.2M75.1 607.4V612.6M75.9 609.2V614.4M76.8 609.1V614.3M77.7 609.4V614.6M78.6 611.7V616.9M79.4 612.1V617.3M80.3 612.2V617.4M81.2 612.2V617.4M82.1 614.4V619.6M82.9 614.3V619.5M83.8 613.2V618.4M84.7 613.6V618.8M85.6 615.1V620.3M86.4 615.5V620.7M87.3 616.3V621.5M88.2 618.1V623.3M89.1 618.8V624.0M89.9 619.2V624.4M90.8 617.1V622.3M91.7 618.0V623.2M92.6 617.7V622.9M93.4 620.5V625.7M94.3 619.2V624.4M95.2 619.9V625.1M96.1 619.5V624.7M96.9 620.8V626.0M97.8 619.2V624.4M98.7 621.8V627.0M99.6 620.8V626.0M100.4 620.5V625.7M101.3 620.3V625.5M102.2 620.9V626.1M103.1 621.1V626.3M103.9 621.0V626.2M104.8 620.9V626.1M105.7 622.4V627.6M106.6 621.7V626.9M107.4 621.3V626.5M108.3 621.5V626.7M109.2 622.7V627.9M110.1 621.9V627.1M110.9 621.8V627.0M111.8 622.6V627.8M112.7 622.5V627.7M113.6 623.2V628.4M114.4 622.8V628.0M115.3 622.8V628.0M116.2 624.2V629.4M117.1 622.8V628.0M117.9 622.0V627.2M118.8 622.3V627.5M119.7 622.8V628.0M120.6 623.7V628.9M121.4 622.8V628.0M122.3 623.3V628.5M123.2 623.6V628.8M124.1 622.7V627.9M124.9 624.6V629.8M125.8 623.0V628.2M126.7 624.8V630.0M127.6 623.4V628.6M128.4 623.7V628.9M129.3 624.4V629.6M130.2 623.2V628.4M131.1 623.8V629.0M131.9 623.5V628.7M132.8 622.7V627.9M133.7 624.4V629.6M134.6 625.0V630.2M135.4 624.3V629.5M136.3 623.4V628.6M137.2 624.6V629.8M138.1 624.7V629.9M138.9 622.9V628.1M139.8 623.5V628.7M140.7 624.1V629.3M141.6 623.0V628.2M142.4 624.4V629.6M143.3 623.5V628.7M144.2 624.7V629.9M145.1 624.1V629.3M145.9 623.2V628.4M146.8 622.9V628.1M147.7 623.0V628.2M148.6 624.3V629.5M149.4 623.8V629.0M150.3 624.5V629.7M151.2 624.9V630.1M152.1 624.0V629.2M152.9 623.2V628.4M153.8 623.1V628.3M154.7 623.5V628.7M155.6 622.9V628.1M156.4 624.6V629.8M157.3 624.8V630.0M65.4 588.7V593.9M66.3 592.3V597.5M67.2 594.6V599.8M68.1 595.0V600.2M68.9 595.4V600.6M69.8 597.9V603.1M70.7 600.6V605.8M71.6 599.2V604.4M72.4 600.0V605.2M73.3 604.0V609.2M74.2 607.0V612.2M75.1 608.3V613.5M75.9 605.9V611.1M76.8 610.3V615.5M77.7 608.7V613.9M78.6 610.2V615.4M79.4 612.0V617.2M80.3 611.2V616.4M81.2 614.6V619.8M82.1 615.0V620.2M82.9 614.6V619.8M83.8 616.7V621.9M84.7 614.8V620.0M85.6 617.2V622.4M86.4 618.0V623.2M87.3 618.8V624.0M88.2 617.7V622.9M89.1 618.7V623.9M89.9 618.6V623.8M90.8 619.0V624.2M91.7 618.9V624.1M92.6 618.9V624.1M93.4 620.0V625.2M94.3 621.7V626.9M95.2 621.2V626.4M96.1 622.3V627.5M96.9 623.0V628.2M97.8 622.1V627.3M98.7 621.7V626.9M99.6 623.4V628.6M100.4 623.3V628.5M101.3 623.4V628.6M102.2 622.7V627.9M103.1 623.3V628.5M103.9 623.2V628.4M104.8 623.1V628.3M105.7 624.1V629.3M106.6 623.3V628.5M107.4 623.1V628.3M108.3 625.3V630.5M109.2 623.3V628.5M110.1 624.0V629.2M110.9 625.6V630.8M111.8 624.9V630.1M112.7 624.5V629.7M113.6 623.9V629.1M114.4 625.4V630.6M115.3 625.0V630.2M116.2 624.3V629.5M117.1 624.5V629.7M117.9 624.3V629.5M118.8 625.5V630.7M119.7 625.1V630.3M120.6 626.3V631.5M121.4 625.1V630.3M122.3 624.9V630.1M123.2 625.4V630.6M124.1 625.2V630.4M124.9 626.5V631.7M125.8 624.9V630.1M126.7 624.7V629.9M127.6 624.7V629.9M128.4 625.9V631.1M129.3 625.3V630.5M130.2 626.5V631.7M131.1 625.0V630.2M131.9 625.2V630.4M132.8 626.5V631.7M133.7 627.2V632.4M134.6 626.3V631.5M135.4 626.1V631.3M136.3 625.5V630.7M137.2 626.3V631.5M138.1 627.4V632.6M138.9 625.5V630.7M139.8 627.4V632.6M140.7 625.5V630.7M141.6 627.1V632.3M142.4 626.7V631.9M143.3 625.6V630.8M144.2 627.2V632.4M145.1 627.2V632.4M145.9 626.3V631.5M146.8 625.8V631.0M147.7 625.5V630.7M148.6 625.9V631.1M149.4 625.3V630.5M150.3 626.4V631.6M151.2 625.3V630.5M152.1 627.5V632.7M152.9 627.1V632.3M153.8 626.4V631.6M154.7 627.0V632.2M155.6 625.9V631.1M156.4 626.1V631.3M157.3 626.4V631.6M65.4 585.3V590.5M66.3 590.1V595.3M67.2 594.1V599.3M68.1 595.4V600.6M68.9 594.2V599.4M69.8 595.7V600.9M70.7 601.4V606.6M71.6 599.4V604.6M72.4 600.3V605.5M73.3 603.8V609.0M74.2 604.8V610.0M75.1 607.6V612.8M75.9 607.2V612.4M76.8 608.3V613.5M77.7 608.9V614.1M78.6 611.9V617.1M79.4 609.3V614.5M80.3 611.7V616.9M81.2 612.8V618.0M82.1 612.1V617.3M82.9 613.5V618.7M83.8 614.3V619.5M84.7 614.2V619.4M85.6 616.6V621.8M86.4 615.7V620.9M87.3 616.5V621.7M88.2 615.3V620.5M89.1 615.8V621.0M89.9 618.0V623.2M90.8 617.8V623.0M91.7 619.0V624.2M92.6 618.5V623.7M93.4 617.7V622.9M94.3 617.8V623.0M95.2 619.1V624.3M96.1 619.8V625.0M96.9 620.3V625.5M97.8 619.4V624.6M98.7 618.8V624.0M99.6 621.0V626.2M100.4 619.5V624.7M101.3 621.6V626.8M102.2 621.3V626.5M103.1 621.3V626.5M103.9 620.3V625.5M104.8 621.3V626.5M105.7 621.3V626.5M106.6 620.7V625.9M107.4 622.1V627.3M108.3 620.6V625.8M109.2 622.2V627.4M110.1 621.3V626.5M110.9 622.1V627.3M111.8 622.3V627.5M112.7 621.5V626.7M113.6 621.8V627.0M114.4 622.0V627.2M115.3 621.9V627.1M116.2 621.7V626.9M117.1 622.7V627.9M117.9 622.6V627.8M118.8 621.6V626.8M119.7 621.6V626.8M120.6 621.9V627.1M121.4 621.1V626.3M122.3 621.7V626.9M123.2 621.2V626.4M124.1 622.7V627.9M124.9 621.5V626.7M125.8 621.3V626.5M126.7 621.1V626.3M127.6 622.6V627.8M128.4 622.6V627.8M129.3 621.1V626.3M130.2 622.9V628.1M131.1 621.0V626.2M131.9 621.3V626.5M132.8 623.2V628.4M133.7 622.9V628.1M134.6 621.7V626.9M135.4 622.9V628.1M136.3 623.3V628.5M137.2 621.5V626.7M138.1 622.5V627.7M138.9 621.6V626.8M139.8 623.2V628.4M140.7 622.6V627.8M141.6 621.9V627.1M142.4 623.5V628.7M143.3 623.1V628.3M144.2 621.9V627.1M145.1 621.3V626.5M145.9 621.2V626.4M146.8 623.3V628.5M147.7 622.4V627.6M148.6 621.7V626.9M149.4 622.4V627.6M150.3 621.9V627.1M151.2 623.2V628.4M152.1 623.4V628.6M152.9 623.4V628.6M153.8 623.5V628.7M154.7 622.3V627.5M155.6 622.4V627.6M156.4 622.2V627.4M157.3 623.3V628.5M65.4 591.0V596.2M66.3 593.1V598.3M67.2 590.4V595.6M68.1 591.6V596.8M68.9 594.2V599.4M69.8 601.3V606.5M70.7 603.1V608.3M71.6 599.8V605.0M72.4 604.0V609.2M73.3 603.9V609.1M74.2 607.4V612.6M75.1 608.0V613.2M75.9 609.0V614.2M76.8 610.4V615.6M77.7 610.8V616.0M78.6 614.0V619.2M79.4 612.4V617.6M80.3 612.8V618.0M81.2 615.9V621.1M82.1 615.8V621.0M82.9 615.6V620.8M83.8 617.3V622.5M84.7 618.6V623.8M85.6 619.3V624.5M86.4 618.8V624.0M87.3 620.8V626.0M88.2 618.7V623.9M89.1 619.5V624.7M89.9 620.2V625.4M90.8 620.2V625.4M91.7 621.2V626.4M92.6 622.2V627.4M93.4 622.0V627.2M94.3 622.6V627.8M95.2 621.6V626.8M96.1 622.4V627.6M96.9 624.1V629.3M97.8 622.6V627.8M98.7 623.3V628.5M99.6 623.4V628.6M100.4 623.6V628.8M101.3 624.8V630.0M102.2 623.7V628.9M103.1 624.0V629.2M103.9 624.6V629.8M104.8 624.6V629.8M105.7 624.7V629.9M106.6 625.7V630.9M107.4 625.1V630.3M108.3 626.8V632.0M109.2 626.3V631.5M110.1 626.1V631.3M110.9 627.3V632.5M111.8 626.5V631.7M112.7 625.9V631.1M113.6 626.0V631.2M114.4 627.1V632.3M115.3 625.4V630.6M116.2 626.1V631.3M117.1 627.0V632.2M117.9 626.3V631.5M118.8 626.6V631.8M119.7 626.7V631.9M120.6 627.1V632.3M121.4 625.6V630.8M122.3 626.6V631.8M123.2 626.5V631.7M124.1 626.3V631.5M124.9 625.8V631.0M125.8 628.3V633.5M126.7 626.8V632.0M127.6 626.5V631.7M128.4 627.8V633.0M129.3 627.4V632.6M130.2 628.3V633.5M131.1 628.0V633.2M131.9 627.6V632.8M132.8 628.3V633.5M133.7 627.9V633.1M134.6 626.3V631.5M135.4 627.2V632.4M136.3 627.3V632.5M137.2 626.2V631.4M138.1 627.2V632.4M138.9 626.2V631.4M139.8 627.1V632.3M140.7 626.6V631.8M141.6 628.5V633.7M142.4 627.2V632.4M143.3 626.8V632.0M144.2 628.6V633.8M145.1 626.4V631.6M145.9 628.3V633.5M146.8 627.5V632.7M147.7 628.3V633.5M148.6 627.5V632.7M149.4 627.2V632.4M150.3 628.6V633.8M151.2 626.4V631.6M152.1 627.7V632.9M152.9 627.5V632.7M153.8 627.3V632.5M154.7 627.9V633.1M155.6 628.1V633.3M156.4 627.1V632.3M157.3 627.4V632.6" stroke="#999" stroke-width="0.45" fill="none"/>
<path d="M65.4 590.2V595.4M66.3 589.6V594.8M67.2 595.5V600.7M68.1 599.8V605.0M68.9 600.1V605.3M69.8 603.1V608.3M70.7 603.9V609.1M71.6 602.0V607.2M72.4 605.2V610.4M73.3 603.8V609.0M74.2 605.6V610.8M75.1 609.6V614.8M75.9 606.3V611.5M76.8 607.3V612.5M77.7 611.3V616.5M78.6 608.7V613.9M79.4 610.9V616.1M80.3 611.1V616.3M81.2 609.8V615.0M82.1 612.6V617.8M82.9 612.0V617.2M83.8 610.9V616.1M84.7 611.8V617.0M85.6 612.8V618.0M86.4 611.4V616.6M87.3 612.1V617.3M88.2 612.9V618.1M89.1 614.4V619.6M89.9 613.0V618.2M90.8 613.6V618.8M91.7 614.4V619.6M92.6 614.8V620.0M93.4 613.6V618.8M94.3 614.7V619.9M95.2 613.9V619.1M96.1 613.4V618.6M96.9 614.0V619.2M97.8 614.5V619.7M98.7 613.7V618.9M99.6 614.2V619.4M100.4 613.3V618.5M101.3 613.9V619.1M102.2 612.7V617.9M103.1 612.9V618.1M103.9 613.5V618.7M104.8 614.7V619.9M105.7 615.0V620.2M106.6 613.1V618.3M107.4 613.4V618.6M108.3 613.8V619.0M109.2 614.5V619.7M110.1 614.7V619.9M110.9 613.6V618.8M111.8 614.0V619.2M112.7 613.9V619.1M113.6 613.8V619.0M114.4 613.5V618.7M115.3 614.9V620.1M116.2 614.8V620.0M117.1 612.9V618.1M117.9 613.1V618.3M118.8 613.2V618.4M119.7 615.3V620.5M120.6 615.2V620.4M121.4 614.7V619.9M122.3 614.3V619.5M123.2 613.8V619.0M124.1 615.1V620.3M124.9 614.0V619.2M125.8 615.2V620.4M126.7 615.2V620.4M127.6 613.7V618.9M128.4 614.0V619.2M129.3 613.8V619.0M130.2 614.5V619.7M131.1 614.2V619.4M131.9 614.9V620.1M132.8 614.5V619.7M133.7 613.5V618.7M134.6 613.3V618.5M135.4 615.2V620.4M136.3 615.1V620.3M137.2 613.4V618.6M138.1 613.8V619.0M138.9 613.5V618.7M139.8 614.9V620.1M140.7 614.3V619.5M141.6 614.8V620.0M142.4 613.4V618.6M143.3 614.5V619.7M144.2 613.8V619.0M145.1 612.9V618.1M145.9 614.6V619.8M146.8 614.0V619.2M147.7 613.5V618.7M148.6 613.1V618.3M149.4 614.3V619.5M150.3 614.5V619.7M151.2 615.2V620.4M152.1 613.2V618.4M152.9 615.2V620.4M153.8 615.2V620.4M154.7 614.0V619.2M155.6 614.2V619.4M156.4 613.7V618.9M157.3 614.7V619.9" stroke="#000" stroke-width="0.45" fill="none"/>
<path d="M65.4 585.9V591.1M66.3 594.9V600.1M67.2 596.4V601.6M68.1 595.6V600.8M68.9 601.6V606.8M69.8 602.0V607.2M70.7 601.2V606.4M71.6 602.9V608.1M72.4 606.4V611.6M73.3 608.2V613.4M74.2 608.1V613.3M75.1 607.4V612.6M75.9 609.7V614.9M76.8 611.4V616.6M77.7 609.7V614.9M78.6 610.8V616.0M79.4 610.0V615.2M80.3 610.4V615.6M81.2 611.0V616.2M82.1 612.9V618.1M82.9 612.0V617.2M83.8 613.9V619.1M84.7 614.0V619.2M85.6 614.0V619.2M86.4 612.6V617.8M87.3 612.9V618.1M88.2 614.9V620.1M89.1 614.7V619.9M89.9 614.7V619.9M90.8 614.8V620.0M91.7 614.8V620.0M92.6 614.9V620.1M93.4 615.5V620.7M94.3 614.6V619.8M95.2 614.0V619.2M96.1 614.7V619.9M96.9 614.0V619.2M97.8 614.8V620.0M98.7 615.8V621.0M99.6 614.3V619.5M100.4 614.0V619.2M101.3 615.6V620.8M102.2 616.3V621.5M103.1 615.0V620.2M103.9 615.0V620.2M104.8 614.9V620.1M105.7 613.9V619.1M106.6 614.7V619.9M107.4 614.4V619.6M108.3 616.2V621.4M109.2 615.0V620.2M110.1 614.4V619.6M110.9 616.2V621.4M111.8 616.2V621.4M112.7 614.6V619.8M113.6 614.2V619.4M114.4 616.2V621.4M115.3 614.8V620.0M116.2 616.1V621.3M117.1 614.6V619.8M117.9 614.8V620.0M118.8 615.8V621.0M119.7 615.9V621.1M120.6 614.5V619.7M121.4 615.1V620.3M122.3 614.5V619.7M123.2 615.4V620.6M124.1 615.6V620.8M124.9 614.0V619.2M125.8 614.8V620.0M126.7 615.2V620.4M127.6 615.1V620.3M128.4 614.6V619.8M129.3 614.7V619.9M130.2 614.2V619.4M131.1 615.4V620.6M131.9 614.4V619.6M132.8 614.8V620.0M133.7 614.3V619.5M134.6 614.4V619.6M135.4 614.4V619.6M136.3 614.2V619.4M137.2 614.0V619.2M138.1 614.8V620.0M138.9 615.1V620.3M139.8 614.7V619.9M140.7 614.4V619.6M141.6 615.4V620.6M142.4 615.4V620.6M143.3 616.1V621.3M144.2 614.6V619.8M145.1 614.0V619.2M145.9 615.5V620.7M146.8 616.0V621.2M147.7 615.9V621.1M148.6 615.4V620.6M149.4 615.7V620.9M150.3 614.0V619.2M151.2 616.3V621.5M152.1 615.7V620.9M152.9 616.1V621.3M153.8 614.8V620.0M154.7 614.5V619.7M155.6 616.0V621.2M156.4 616.3V621.5M157.3 615.3V620.5" stroke="#2020f0" stroke-width="0.45" fill="none"/>
<path d="M65.4 587.6V592.8M66.3 587.6V592.8M67.2 596.7V601.9M68.1 598.0V603.2M68.9 599.1V604.3M69.8 600.3V605.5M70.7 601.5V606.7M71.6 600.0V605.2M72.4 601.8V607.0M73.3 604.6V609.8M74.2 605.5V610.7M75.1 605.8V611.0M75.9 606.9V612.1M76.8 605.0V610.2M77.7 607.3V612.5M78.6 606.9V612.1M79.4 606.3V611.5M80.3 607.9V613.1M81.2 608.9V614.1M82.1 607.1V612.3M82.9 607.3V612.5M83.8 609.3V614.5M84.7 608.9V614.1M85.6 607.8V613.0M86.4 609.4V614.6M87.3 610.3V615.5M88.2 610.9V616.1M89.1 608.4V613.6M89.9 608.9V614.1M90.8 610.2V615.4M91.7 609.8V615.0M92.6 609.9V615.1M93.4 610.6V615.8M94.3 608.8V614.0M95.2 609.7V614.9M96.1 610.8V616.0M96.9 611.5V616.7M97.8 610.3V615.5M98.7 610.6V615.8M99.6 609.5V614.7M100.4 609.7V614.9M101.3 610.0V615.2M102.2 611.2V616.4M103.1 611.2V616.4M103.9 610.8V616.0M104.8 611.0V616.2M105.7 609.4V614.6M106.6 610.3V615.5M107.4 610.0V615.2M108.3 609.1V614.3M109.2 611.0V616.2M110.1 610.3V615.5M110.9 611.3V616.5M111.8 609.7V614.9M112.7 611.7V616.9M113.6 609.6V614.8M114.4 609.5V614.7M115.3 609.6V614.8M116.2 611.5V616.7M117.1 611.0V616.2M117.9 609.9V615.1M118.8 611.4V616.6M119.7 610.5V615.7M120.6 610.5V615.7M121.4 609.3V614.5M122.3 610.2V615.4M123.2 609.5V614.7M124.1 610.9V616.1M124.9 609.7V614.9M125.8 610.6V615.8M126.7 609.4V614.6M127.6 611.4V616.6M128.4 609.6V614.8M129.3 611.2V616.4M130.2 610.3V615.5M131.1 610.4V615.6M131.9 611.3V616.5M132.8 609.6V614.8M133.7 610.9V616.1M134.6 610.9V616.1M135.4 611.5V616.7M136.3 610.9V616.1M137.2 610.5V615.7M138.1 609.9V615.1M138.9 610.8V616.0M139.8 610.0V615.2M140.7 611.4V616.6M141.6 610.7V615.9M142.4 610.5V615.7M143.3 609.3V614.5M144.2 609.6V614.8M145.1 610.0V615.2M145.9 611.6V616.8M146.8 610.7V615.9M147.7 609.9V615.1M148.6 611.1V616.3M149.4 610.3V615.5M150.3 610.5V615.7M151.2 611.6V616.8M152.1 609.2V614.4M152.9 609.7V614.9M153.8 611.2V616.4M154.7 610.1V615.3M155.6 610.9V616.1M156.4 610.7V615.9M157.3 610.3V615.5M65.4 590.1V595.3M66.3 592.4V597.6M67.2 594.5V599.7M68.1 594.8V600.0M68.9 599.6V604.8M69.8 601.7V606.9M70.7 600.2V605.4M71.6 604.0V609.2M72.4 602.1V607.3M73.3 605.3V610.5M74.2 605.6V610.8M75.1 608.4V613.6M75.9 607.1V612.3M76.8 610.9V616.1M77.7 611.4V616.6M78.6 612.1V617.3M79.4 610.6V615.8M80.3 611.0V616.2M81.2 613.2V618.4M82.1 612.9V618.1M82.9 611.9V617.1M83.8 613.0V618.2M84.7 614.8V620.0M85.6 614.7V619.9M86.4 615.1V620.3M87.3 615.4V620.6M88.2 614.8V620.0M89.1 615.9V621.1M89.9 613.7V618.9M90.8 615.2V620.4M91.7 615.1V620.3M92.6 614.8V620.0M93.4 614.6V619.8M94.3 614.6V619.8M95.2 615.8V621.0M96.1 616.0V621.2M96.9 615.9V621.1M97.8 616.9V622.1M98.7 616.0V621.2M99.6 615.3V620.5M100.4 614.6V619.8M101.3 615.1V620.3M102.2 615.5V620.7M103.1 615.7V620.9M103.9 617.2V622.4M104.8 616.4V621.6M105.7 616.4V621.6M106.6 615.7V620.9M107.4 617.0V622.2M108.3 616.4V621.6M109.2 616.1V621.3M110.1 615.4V620.6M110.9 615.3V620.5M111.8 615.8V621.0M112.7 617.0V622.2M113.6 615.5V620.7M114.4 615.1V620.3M115.3 616.0V621.2M116.2 616.5V621.7M117.1 616.2V621.4M117.9 617.1V622.3M118.8 615.6V620.8M119.7 615.0V620.2M120.6 616.1V621.3M121.4 615.7V620.9M122.3 615.4V620.6M123.2 616.9V622.1M124.1 615.1V620.3M124.9 615.9V621.1M125.8 617.0V622.2M126.7 617.2V622.4M127.6 616.8V622.0M128.4 616.0V621.2M129.3 615.7V620.9M130.2 616.6V621.8M131.1 615.1V620.3M131.9 616.6V621.8M132.8 616.3V621.5M133.7 617.1V622.3M134.6 615.0V620.2M135.4 617.1V622.3M136.3 615.2V620.4M137.2 616.1V621.3M138.1 616.1V621.3M138.9 616.1V621.3M139.8 616.8V622.0M140.7 615.2V620.4M141.6 615.0V620.2M142.4 615.4V620.6M143.3 616.0V621.2M144.2 617.2V622.4M145.1 615.4V620.6M145.9 616.7V621.9M146.8 615.2V620.4M147.7 616.9V622.1M148.6 616.0V621.2M149.4 615.4V620.6M150.3 617.0V622.2M151.2 616.1V621.3M152.1 617.3V622.5M152.9 617.4V622.6M153.8 617.0V622.2M154.7 615.0V620.2M155.6 615.1V620.3M156.4 615.8V621.0M157.3 616.7V621.9" stroke="#40e040" stroke-width="0.45" fill="none"/>
<path d="M65.4 586.8V592.0M66.3 589.2V594.4M67.2 594.4V599.6M68.1 595.1V600.3M68.9 595.7V600.9M69.8 602.4V607.6M70.7 602.7V607.9M71.6 602.6V607.8M72.4 605.5V610.7M73.3 605.3V610.5M74.2 605.4V610.6M75.1 608.0V613.2M75.9 607.3V612.5M76.8 609.0V614.2M77.7 608.4V613.6M78.6 609.9V615.1M79.4 609.2V614.4M80.3 611.8V617.0M81.2 610.0V615.2M82.1 612.1V617.3M82.9 609.7V614.9M83.8 611.2V616.4M84.7 611.8V617.0M85.6 612.2V617.4M86.4 611.8V617.0M87.3 611.8V617.0M88.2 611.7V616.9M89.1 611.9V617.1M89.9 612.8V618.0M90.8 611.5V616.7M91.7 612.0V617.2M92.6 612.1V617.3M93.4 613.3V618.5M94.3 613.3V618.5M95.2 613.1V618.3M96.1 612.2V617.4M96.9 613.3V618.5M97.8 613.3V618.5M98.7 613.6V618.8M99.6 612.4V617.6M100.4 613.9V619.1M101.3 614.7V619.9M102.2 613.0V618.2M103.1 612.5V617.7M103.9 613.0V618.2M104.8 613.4V618.6M105.7 613.0V618.2M106.6 614.1V619.3M107.4 613.4V618.6M108.3 614.7V619.9M109.2 614.6V619.8M110.1 613.8V619.0M110.9 613.7V618.9M111.8 613.9V619.1M112.7 614.8V620.0M113.6 613.2V618.4M114.4 613.6V618.8M115.3 614.4V619.6M116.2 614.2V619.4M117.1 614.0V619.2M117.9 614.4V619.6M118.8 614.8V620.0M119.7 612.7V617.9M120.6 612.6V617.8M121.4 613.3V618.5M122.3 612.8V618.0M123.2 613.9V619.1M124.1 613.0V618.2M124.9 614.4V619.6M125.8 613.1V618.3M126.7 613.6V618.8M127.6 612.7V617.9M128.4 614.7V619.9M129.3 613.0V618.2M130.2 614.7V619.9M131.1 613.6V618.8M131.9 612.6V617.8M132.8 615.0V620.2M133.7 614.4V619.6M134.6 614.2V619.4M135.4 614.2V619.4M136.3 614.8V620.0M137.2 612.8V618.0M138.1 613.0V618.2M138.9 614.0V619.2M139.8 614.1V619.3M140.7 613.5V618.7M141.6 614.9V620.1M142.4 614.9V620.1M143.3 612.7V617.9M144.2 614.2V619.4M145.1 613.7V618.9M145.9 612.7V617.9M146.8 612.6V617.8M147.7 613.8V619.0M148.6 614.5V619.7M149.4 614.2V619.4M150.3 612.7V617.9M151.2 612.8V618.0M152.1 614.5V619.7M152.9 612.9V618.1M153.8 614.1V619.3M154.7 613.8V619.0M155.6 614.6V619.8M156.4 612.8V618.0M157.3 612.5V617.7M65.4 590.9V596.1M66.3 590.0V595.2M67.2 595.8V601.0M68.1 593.0V598.2M68.9 600.4V605.6M69.8 601.6V606.8M70.7 599.3V604.5M71.6 602.9V608.1M72.4 601.0V606.2M73.3 602.3V607.5M74.2 604.0V609.2M75.1 607.4V612.6M75.9 605.6V610.8M76.8 605.3V610.5M77.7 607.8V613.0M78.6 609.7V614.9M79.4 609.5V614.7M80.3 609.6V614.8M81.2 608.5V613.7M82.1 610.5V615.7M82.9 610.8V616.0M83.8 610.8V616.0M84.7 609.7V614.9M85.6 609.5V614.7M86.4 610.9V616.1M87.3 610.2V615.4M88.2 609.7V614.9M89.1 610.6V615.8M89.9 611.7V616.9M90.8 611.6V616.8M91.7 610.0V615.2M92.6 610.7V615.9M93.4 611.8V617.0M94.3 610.9V616.1M95.2 612.4V617.6M96.1 610.1V615.3M96.9 611.6V616.8M97.8 611.4V616.6M98.7 611.4V616.6M99.6 612.7V617.9M100.4 611.3V616.5M101.3 612.1V617.3M102.2 612.2V617.4M103.1 610.8V616.0M103.9 612.6V617.8M104.8 612.1V617.3M105.7 611.0V616.2M106.6 612.2V617.4M107.4 612.2V617.4M108.3 611.5V616.7M109.2 612.4V617.6M110.1 610.6V615.8M110.9 610.4V615.6M111.8 612.8V618.0M112.7 611.7V616.9M113.6 611.0V616.2M114.4 611.9V617.1M115.3 610.6V615.8M116.2 611.7V616.9M117.1 612.5V617.7M117.9 611.5V616.7M118.8 611.3V616.5M119.7 612.0V617.2M120.6 611.3V616.5M121.4 611.0V616.2M122.3 611.6V616.8M123.2 611.7V616.9M124.1 610.8V616.0M124.9 611.2V616.4M125.8 611.6V616.8M126.7 610.5V615.7M127.6 612.5V617.7M128.4 611.0V616.2M129.3 612.5V617.7M130.2 611.4V616.6M131.1 612.3V617.5M131.9 611.8V617.0M132.8 611.0V616.2M133.7 611.0V616.2M134.6 610.9V616.1M135.4 612.3V617.5M136.3 611.7V616.9M137.2 612.4V617.6M138.1 611.5V616.7M138.9 611.7V616.9M139.8 612.8V618.0M140.7 611.4V616.6M141.6 611.1V616.3M142.4 611.5V616.7M143.3 610.7V615.9M144.2 612.5V617.7M145.1 612.5V617.7M145.9 612.9V618.1M146.8 611.7V616.9M147.7 611.8V617.0M148.6 611.8V617.0M149.4 612.3V617.5M150.3 610.9V616.1M151.2 612.7V617.9M152.1 610.7V615.9M152.9 611.5V616.7M153.8 611.6V616.8M154.7 610.9V616.1M155.6 612.3V617.5M156.4 612.5V617.7M157.3 612.1V617.3M65.4 592.3V597.5M66.3 592.8V598.0M67.2 593.1V598.3M68.1 596.3V601.5M68.9 600.2V605.4M69.8 600.0V605.2M70.7 604.6V609.8M71.6 602.0V607.2M72.4 606.8V612.0M73.3 607.5V612.7M74.2 609.0V614.2M75.1 607.5V612.7M75.9 607.8V613.0M76.8 608.8V614.0M77.7 612.4V617.6M78.6 611.6V616.8M79.4 612.3V617.5M80.3 613.3V618.5M81.2 611.1V616.3M82.1 614.6V619.8M82.9 613.5V618.7M83.8 612.9V618.1M84.7 612.5V617.7M85.6 615.3V620.5M86.4 614.6V619.8M87.3 613.9V619.1M88.2 616.1V621.3M89.1 615.7V620.9M89.9 614.0V619.2M90.8 616.2V621.4M91.7 615.6V620.8M92.6 616.0V621.2M93.4 615.7V620.9M94.3 616.7V621.9M95.2 616.9V622.1M96.1 614.4V619.6M96.9 615.1V620.3M97.8 615.2V620.4M98.7 616.6V621.8M99.6 616.5V621.7M100.4 615.8V621.0M101.3 616.6V621.8M102.2 616.1V621.3M103.1 614.9V620.1M103.9 616.4V621.6M104.8 616.5V621.7M105.7 614.9V620.1M106.6 615.8V621.0M107.4 617.3V622.5M108.3 616.4V621.6M109.2 615.8V621.0M110.1 617.2V622.4M110.9 616.5V621.7M111.8 615.7V620.9M112.7 615.3V620.5M113.6 615.9V621.1M114.4 615.2V620.4M115.3 616.3V621.5M116.2 616.5V621.7M117.1 615.3V620.5M117.9 616.5V621.7M118.8 615.5V620.7M119.7 616.9V622.1M120.6 616.6V621.8M121.4 617.0V622.2M122.3 616.1V621.3M123.2 617.0V622.2M124.1 616.9V622.1M124.9 616.9V622.1M125.8 616.3V621.5M126.7 616.7V621.9M127.6 616.3V621.5M128.4 615.0V620.2M129.3 615.8V621.0M130.2 615.3V620.5M131.1 616.9V622.1M131.9 616.5V621.7M132.8 617.3V622.5M133.7 615.7V620.9M134.6 616.6V621.8M135.4 616.8V622.0M136.3 617.4V622.6M137.2 617.0V622.2M138.1 616.8V622.0M138.9 616.5V621.7M139.8 615.2V620.4M140.7 615.7V620.9M141.6 616.8V622.0M142.4 616.6V621.8M143.3 617.1V622.3M144.2 615.1V620.3M145.1 616.6V621.8M145.9 615.6V620.8M146.8 615.7V620.9M147.7 615.2V620.4M148.6 617.4V622.6M149.4 616.7V621.9M150.3 616.5V621.7M151.2 617.3V622.5M152.1 615.3V620.5M152.9 616.7V621.9M153.8 615.5V620.7M154.7 616.2V621.4M155.6 617.3V622.5M156.4 616.5V621.7M157.3 616.9V622.1" stroke="#20a020" stroke-width="0.45" fill="none"/>
<path d="M52.6 629.3h0M53.3 629.0h0M54.0 627.9h0M54.7 629.3h0M55.4 629.1h0M56.1 628.9h0M56.8 630.1h0M57.5 629.1h0M58.2 628.8h0M58.9 628.3h0M59.6 630.3h0M60.3 629.7h0M61.0 630.3h0M61.7 628.3h0M62.4 628.6h0M63.1 630.5h0M63.8 627.8h0M64.5 627.8h0" stroke="#000" stroke-width="2.2" stroke-linecap="round" fill="none"/>
<path d="M52.6 628.7h0M53.3 628.8h0M54.0 630.2h0M54.7 630.6h0M55.4 629.1h0M56.1 630.4h0M56.8 630.1h0M57.5 629.9h0M58.2 630.5h0M58.9 629.3h0M59.6 629.3h0M60.3 628.2h0M61.0 629.1h0M61.7 628.8h0M62.4 629.2h0M63.1 628.7h0M63.8 629.3h0M64.5 629.8h0" stroke="#2020f0" stroke-width="2.2" stroke-linecap="round" fill="none"/>
<path d="M52.6 627.7h0M53.3 627.7h0M54.0 628.2h0M54.7 628.6h0M55.4 629.7h0M56.1 629.9h0M56.8 629.8h0M57.5 630.4h0M58.2 628.4h0M58.9 629.4h0M59.6 628.2h0M60.3 629.5h0M61.0 627.8h0M61.7 628.2h0M62.4 630.6h0M63.1 630.0h0M63.8 628.0h0M64.5 629.2h0" stroke="#40f040" stroke-width="2.2" stroke-linecap="round" fill="none"/>
<path d="M52.6 627.8h0M53.3 629.5h0M54.0 630.4h0M54.7 628.8h0M55.4 628.4h0M56.1 629.8h0M56.8 630.4h0M57.5 629.6h0M58.2 627.8h0M58.9 628.4h0M59.6 630.3h0M60.3 629.9h0M61.0 630.3h0M61.7 630.4h0M62.4 628.3h0M63.1 630.1h0M63.8 629.0h0M64.5 629.3h0" stroke="#f02020" stroke-width="2.2" stroke-linecap="round" fill="none"/>
<path d="M52.6 630.1h0M53.3 628.5h0M54.0 630.2h0M54.7 628.7h0M55.4 630.3h0M56.1 629.4h0M56.8 630.0h0M57.5 629.8h0M58.2 627.8h0M58.9 628.3h0M59.6 629.7h0M60.3 628.0h0M61.0 630.0h0M61.7 629.5h0M62.4 628.1h0M63.1 628.7h0M63.8 630.3h0M64.5 627.7h0" stroke="#801010" stroke-width="2.2" stroke-linecap="round" fill="none"/>
<path d="M52.6 630.0h0M53.3 629.9h0M54.0 628.4h0M54.7 629.7h0M55.4 629.7h0M56.1 630.4h0M56.8 630.3h0M57.5 628.9h0M58.2 629.9h0M58.9 628.9h0M59.6 629.5h0M60.3 629.3h0M61.0 627.8h0M61.7 629.2h0M62.4 628.9h0M63.1 628.1h0M63.8 630.1h0M64.5 630.2h0M52.6 628.0h0M53.3 628.2h0M54.0 629.9h0M54.7 630.1h0M55.4 628.5h0M56.1 627.9h0M56.8 630.0h0M57.5 627.9h0M58.2 628.1h0M58.9 628.9h0M59.6 629.4h0M60.3 630.3h0M61.0 630.5h0M61.7 627.8h0M62.4 629.9h0M63.1 628.6h0M63.8 629.9h0M64.5 628.2h0" stroke="#20a020" stroke-width="2.2" stroke-linecap="round" fill="none"/>
<path d="M65.4 590.1h0M66.3 594.7h0M67.2 597.5h0M68.1 595.5h0M68.9 601.6h0M69.8 602.2h0M70.7 601.7h0M71.6 601.7h0M72.4 604.4h0M73.3 607.4h0M74.2 605.6h0M75.1 610.0h0M75.9 611.8h0M76.8 611.7h0M77.7 612.0h0M78.6 614.3h0M79.4 614.7h0M80.3 614.8h0M81.2 614.8h0M82.1 617.0h0M82.9 616.9h0M83.8 615.8h0M84.7 616.2h0M85.6 617.7h0M86.4 618.1h0M87.3 618.9h0M88.2 620.7h0M89.1 621.4h0M89.9 621.8h0M90.8 619.7h0M91.7 620.6h0M92.6 620.3h0M93.4 623.1h0M94.3 621.8h0M95.2 622.5h0M96.1 622.1h0M96.9 623.4h0M97.8 621.8h0M98.7 624.4h0M99.6 623.4h0M100.4 623.1h0M101.3 622.9h0M102.2 623.5h0M103.1 623.7h0M103.9 623.6h0M104.8 623.5h0M105.7 625.0h0M106.6 624.3h0M107.4 623.9h0M108.3 624.1h0M109.2 625.3h0M110.1 624.5h0M110.9 624.4h0M111.8 625.2h0M112.7 625.1h0M113.6 625.8h0M114.4 625.4h0M115.3 625.4h0M116.2 626.8h0M117.1 625.4h0M117.9 624.6h0M118.8 624.9h0M119.7 625.4h0M120.6 626.3h0M121.4 625.4h0M122.3 625.9h0M123.2 626.2h0M124.1 625.3h0M124.9 627.2h0M125.8 625.6h0M126.7 627.4h0M127.6 626.0h0M128.4 626.3h0M129.3 627.0h0M130.2 625.8h0M131.1 626.4h0M131.9 626.1h0M132.8 625.3h0M133.7 627.0h0M134.6 627.6h0M135.4 626.9h0M136.3 626.0h0M137.2 627.2h0M138.1 627.3h0M138.9 625.5h0M139.8 626.1h0M140.7 626.7h0M141.6 625.6h0M142.4 627.0h0M143.3 626.1h0M144.2 627.3h0M145.1 626.7h0M145.9 625.8h0M146.8 625.5h0M147.7 625.6h0M148.6 626.9h0M149.4 626.4h0M150.3 627.1h0M151.2 627.5h0M152.1 626.6h0M152.9 625.8h0M153.8 625.7h0M154.7 626.1h0M155.6 625.5h0M156.4 627.2h0M157.3 627.4h0" stroke="#f02020" stroke-width="2.4" stroke-linecap="round" fill="none"/>
<path d="M65.4 591.3h0M66.3 594.9h0M67.2 597.2h0M68.1 597.6h0M68.9 598.0h0M69.8 600.5h0M70.7 603.2h0M71.6 601.8h0M72.4 602.6h0M73.3 606.6h0M74.2 609.6h0M75.1 610.9h0M75.9 608.5h0M76.8 612.9h0M77.7 611.3h0M78.6 612.8h0M79.4 614.6h0M80.3 613.8h0M81.2 617.2h0M82.1 617.6h0M82.9 617.2h0M83.8 619.3h0M84.7 617.4h0M85.6 619.8h0M86.4 620.6h0M87.3 621.4h0M88.2 620.3h0M89.1 621.3h0M89.9 621.2h0M90.8 621.6h0M91.7 621.5h0M92.6 621.5h0M93.4 622.6h0M94.3 624.3h0M95.2 623.8h0M96.1 624.9h0M96.9 625.6h0M97.8 624.7h0M98.7 624.3h0M99.6 626.0h0M100.4 625.9h0M101.3 626.0h0M102.2 625.3h0M103.1 625.9h0M103.9 625.8h0M104.8 625.7h0M105.7 626.7h0M106.6 625.9h0M107.4 625.7h0M108.3 627.9h0M109.2 625.9h0M110.1 626.6h0M110.9 628.2h0M111.8 627.5h0M112.7 627.1h0M113.6 626.5h0M114.4 628.0h0M115.3 627.6h0M116.2 626.9h0M117.1 627.1h0M117.9 626.9h0M118.8 628.1h0M119.7 627.7h0M120.6 628.9h0M121.4 627.7h0M122.3 627.5h0M123.2 628.0h0M124.1 627.8h0M124.9 629.1h0M125.8 627.5h0M126.7 627.3h0M127.6 627.3h0M128.4 628.5h0M129.3 627.9h0M130.2 629.1h0M131.1 627.6h0M131.9 627.8h0M132.8 629.1h0M133.7 629.8h0M134.6 628.9h0M135.4 628.7h0M136.3 628.1h0M137.2 628.9h0M138.1 630.0h0M138.9 628.1h0M139.8 630.0h0M140.7 628.1h0M141.6 629.7h0M142.4 629.3h0M143.3 628.2h0M144.2 629.8h0M145.1 629.8h0M145.9 628.9h0M146.8 628.4h0M147.7 628.1h0M148.6 628.5h0M149.4 627.9h0M150.3 629.0h0M151.2 627.9h0M152.1 630.1h0M152.9 629.7h0M153.8 629.0h0M154.7 629.6h0M155.6 628.5h0M156.4 628.7h0M157.3 629.0h0M65.4 593.6h0M66.3 595.7h0M67.2 593.0h0M68.1 594.2h0M68.9 596.8h0M69.8 603.9h0M70.7 605.7h0M71.6 602.4h0M72.4 606.6h0M73.3 606.5h0M74.2 610.0h0M75.1 610.6h0M75.9 611.6h0M76.8 613.0h0M77.7 613.4h0M78.6 616.6h0M79.4 615.0h0M80.3 615.4h0M81.2 618.5h0M82.1 618.4h0M82.9 618.2h0M83.8 619.9h0M84.7 621.2h0M85.6 621.9h0M86.4 621.4h0M87.3 623.4h0M88.2 621.3h0M89.1 622.1h0M89.9 622.8h0M90.8 622.8h0M91.7 623.8h0M92.6 624.8h0M93.4 624.6h0M94.3 625.2h0M95.2 624.2h0M96.1 625.0h0M96.9 626.7h0M97.8 625.2h0M98.7 625.9h0M99.6 626.0h0M100.4 626.2h0M101.3 627.4h0M102.2 626.3h0M103.1 626.6h0M103.9 627.2h0M104.8 627.2h0M105.7 627.3h0M106.6 628.3h0M107.4 627.7h0M108.3 629.4h0M109.2 628.9h0M110.1 628.7h0M110.9 629.9h0M111.8 629.1h0M112.7 628.5h0M113.6 628.6h0M114.4 629.7h0M115.3 628.0h0M116.2 628.7h0M117.1 629.6h0M117.9 628.9h0M118.8 629.2h0M119.7 629.3h0M120.6 629.7h0M121.4 628.2h0M122.3 629.2h0M123.2 629.1h0M124.1 628.9h0M124.9 628.4h0M125.8 630.9h0M126.7 629.4h0M127.6 629.1h0M128.4 630.4h0M129.3 630.0h0M130.2 630.9h0M131.1 630.6h0M131.9 630.2h0M132.8 630.9h0M133.7 630.5h0M134.6 628.9h0M135.4 629.8h0M136.3 629.9h0M137.2 628.8h0M138.1 629.8h0M138.9 628.8h0M139.8 629.7h0M140.7 629.2h0M141.6 631.1h0M142.4 629.8h0M143.3 629.4h0M144.2 631.2h0M145.1 629.0h0M145.9 630.9h0M146.8 630.1h0M147.7 630.9h0M148.6 630.1h0M149.4 629.8h0M150.3 631.2h0M151.2 629.0h0M152.1 630.3h0M152.9 630.1h0M153.8 629.9h0M154.7 630.5h0M155.6 630.7h0M156.4 629.7h0M157.3 630.0h0" stroke="#801010" stroke-width="2.4" stroke-linecap="round" fill="none"/>
<path d="M65.4 587.9h0M66.3 592.7h0M67.2 596.7h0M68.1 598.0h0M68.9 596.8h0M69.8 598.3h0M70.7 604.0h0M71.6 602.0h0M72.4 602.9h0M73.3 606.4h0M74.2 607.4h0M75.1 610.2h0M75.9 609.8h0M76.8 610.9h0M77.7 611.5h0M78.6 614.5h0M79.4 611.9h0M80.3 614.3h0M81.2 615.4h0M82.1 614.7h0M82.9 616.1h0M83.8 616.9h0M84.7 616.8h0M85.6 619.2h0M86.4 618.3h0M87.3 619.1h0M88.2 617.9h0M89.1 618.4h0M89.9 620.6h0M90.8 620.4h0M91.7 621.6h0M92.6 621.1h0M93.4 620.3h0M94.3 620.4h0M95.2 621.7h0M96.1 622.4h0M96.9 622.9h0M97.8 622.0h0M98.7 621.4h0M99.6 623.6h0M100.4 622.1h0M101.3 624.2h0M102.2 623.9h0M103.1 623.9h0M103.9 622.9h0M104.8 623.9h0M105.7 623.9h0M106.6 623.3h0M107.4 624.7h0M108.3 623.2h0M109.2 624.8h0M110.1 623.9h0M110.9 624.7h0M111.8 624.9h0M112.7 624.1h0M113.6 624.4h0M114.4 624.6h0M115.3 624.5h0M116.2 624.3h0M117.1 625.3h0M117.9 625.2h0M118.8 624.2h0M119.7 624.2h0M120.6 624.5h0M121.4 623.7h0M122.3 624.3h0M123.2 623.8h0M124.1 625.3h0M124.9 624.1h0M125.8 623.9h0M126.7 623.7h0M127.6 625.2h0M128.4 625.2h0M129.3 623.7h0M130.2 625.5h0M131.1 623.6h0M131.9 623.9h0M132.8 625.8h0M133.7 625.5h0M134.6 624.3h0M135.4 625.5h0M136.3 625.9h0M137.2 624.1h0M138.1 625.1h0M138.9 624.2h0M139.8 625.8h0M140.7 625.2h0M141.6 624.5h0M142.4 626.1h0M143.3 625.7h0M144.2 624.5h0M145.1 623.9h0M145.9 623.8h0M146.8 625.9h0M147.7 625.0h0M148.6 624.3h0M149.4 625.0h0M150.3 624.5h0M151.2 625.8h0M152.1 626.0h0M152.9 626.0h0M153.8 626.1h0M154.7 624.9h0M155.6 625.0h0M156.4 624.8h0M157.3 625.9h0" stroke="#a01818" stroke-width="2.4" stroke-linecap="round" fill="none"/>
<path d="M65.4 592.8h0M66.3 592.2h0M67.2 598.1h0M68.1 602.4h0M68.9 602.7h0M69.8 605.7h0M70.7 606.5h0M71.6 604.6h0M72.4 607.8h0M73.3 606.4h0M74.2 608.2h0M75.1 612.2h0M75.9 608.9h0M76.8 609.9h0M77.7 613.9h0M78.6 611.3h0M79.4 613.5h0M80.3 613.7h0M81.2 612.4h0M82.1 615.2h0M82.9 614.6h0M83.8 613.5h0M84.7 614.4h0M85.6 615.4h0M86.4 614.0h0M87.3 614.7h0M88.2 615.5h0M89.1 617.0h0M89.9 615.6h0M90.8 616.2h0M91.7 617.0h0M92.6 617.4h0M93.4 616.2h0M94.3 617.3h0M95.2 616.5h0M96.1 616.0h0M96.9 616.6h0M97.8 617.1h0M98.7 616.3h0M99.6 616.8h0M100.4 615.9h0M101.3 616.5h0M102.2 615.3h0M103.1 615.5h0M103.9 616.1h0M104.8 617.3h0M105.7 617.6h0M106.6 615.7h0M107.4 616.0h0M108.3 616.4h0M109.2 617.1h0M110.1 617.3h0M110.9 616.2h0M111.8 616.6h0M112.7 616.5h0M113.6 616.4h0M114.4 616.1h0M115.3 617.5h0M116.2 617.4h0M117.1 615.5h0M117.9 615.7h0M118.8 615.8h0M119.7 617.9h0M120.6 617.8h0M121.4 617.3h0M122.3 616.9h0M123.2 616.4h0M124.1 617.7h0M124.9 616.6h0M125.8 617.8h0M126.7 617.8h0M127.6 616.3h0M128.4 616.6h0M129.3 616.4h0M130.2 617.1h0M131.1 616.8h0M131.9 617.5h0M132.8 617.1h0M133.7 616.1h0M134.6 615.9h0M135.4 617.8h0M136.3 617.7h0M137.2 616.0h0M138.1 616.4h0M138.9 616.1h0M139.8 617.5h0M140.7 616.9h0M141.6 617.4h0M142.4 616.0h0M143.3 617.1h0M144.2 616.4h0M145.1 615.5h0M145.9 617.2h0M146.8 616.6h0M147.7 616.1h0M148.6 615.7h0M149.4 616.9h0M150.3 617.1h0M151.2 617.8h0M152.1 615.8h0M152.9 617.8h0M153.8 617.8h0M154.7 616.6h0M155.6 616.8h0M156.4 616.3h0M157.3 617.3h0" stroke="#000" stroke-width="2.4" stroke-linecap="round" fill="none"/>
<path d="M65.4 588.5h0M66.3 597.5h0M67.2 599.0h0M68.1 598.2h0M68.9 604.2h0M69.8 604.6h0M70.7 603.8h0M71.6 605.5h0M72.4 609.0h0M73.3 610.8h0M74.2 610.7h0M75.1 610.0h0M75.9 612.3h0M76.8 614.0h0M77.7 612.3h0M78.6 613.4h0M79.4 612.6h0M80.3 613.0h0M81.2 613.6h0M82.1 615.5h0M82.9 614.6h0M83.8 616.5h0M84.7 616.6h0M85.6 616.6h0M86.4 615.2h0M87.3 615.5h0M88.2 617.5h0M89.1 617.3h0M89.9 617.3h0M90.8 617.4h0M91.7 617.4h0M92.6 617.5h0M93.4 618.1h0M94.3 617.2h0M95.2 616.6h0M96.1 617.3h0M96.9 616.6h0M97.8 617.4h0M98.7 618.4h0M99.6 616.9h0M100.4 616.6h0M101.3 618.2h0M102.2 618.9h0M103.1 617.6h0M103.9 617.6h0M104.8 617.5h0M105.7 616.5h0M106.6 617.3h0M107.4 617.0h0M108.3 618.8h0M109.2 617.6h0M110.1 617.0h0M110.9 618.8h0M111.8 618.8h0M112.7 617.2h0M113.6 616.8h0M114.4 618.8h0M115.3 617.4h0M116.2 618.7h0M117.1 617.2h0M117.9 617.4h0M118.8 618.4h0M119.7 618.5h0M120.6 617.1h0M121.4 617.7h0M122.3 617.1h0M123.2 618.0h0M124.1 618.2h0M124.9 616.6h0M125.8 617.4h0M126.7 617.8h0M127.6 617.7h0M128.4 617.2h0M129.3 617.3h0M130.2 616.8h0M131.1 618.0h0M131.9 617.0h0M132.8 617.4h0M133.7 616.9h0M134.6 617.0h0M135.4 617.0h0M136.3 616.8h0M137.2 616.6h0M138.1 617.4h0M138.9 617.7h0M139.8 617.3h0M140.7 617.0h0M141.6 618.0h0M142.4 618.0h0M143.3 618.7h0M144.2 617.2h0M145.1 616.6h0M145.9 618.1h0M146.8 618.6h0M147.7 618.5h0M148.6 618.0h0M149.4 618.3h0M150.3 616.6h0M151.2 618.9h0M152.1 618.3h0M152.9 618.7h0M153.8 617.4h0M154.7 617.1h0M155.6 618.6h0M156.4 618.9h0M157.3 617.9h0" stroke="#2020f0" stroke-width="2.4" stroke-linecap="round" fill="none"/>
<path d="M65.4 590.2h0M66.3 590.2h0M67.2 599.3h0M68.1 600.6h0M68.9 601.7h0M69.8 602.9h0M70.7 604.1h0M71.6 602.6h0M72.4 604.4h0M73.3 607.2h0M74.2 608.1h0M75.1 608.4h0M75.9 609.5h0M76.8 607.6h0M77.7 609.9h0M78.6 609.5h0M79.4 608.9h0M80.3 610.5h0M81.2 611.5h0M82.1 609.7h0M82.9 609.9h0M83.8 611.9h0M84.7 611.5h0M85.6 610.4h0M86.4 612.0h0M87.3 612.9h0M88.2 613.5h0M89.1 611.0h0M89.9 611.5h0M90.8 612.8h0M91.7 612.4h0M92.6 612.5h0M93.4 613.2h0M94.3 611.4h0M95.2 612.3h0M96.1 613.4h0M96.9 614.1h0M97.8 612.9h0M98.7 613.2h0M99.6 612.1h0M100.4 612.3h0M101.3 612.6h0M102.2 613.8h0M103.1 613.8h0M103.9 613.4h0M104.8 613.6h0M105.7 612.0h0M106.6 612.9h0M107.4 612.6h0M108.3 611.7h0M109.2 613.6h0M110.1 612.9h0M110.9 613.9h0M111.8 612.3h0M112.7 614.3h0M113.6 612.2h0M114.4 612.1h0M115.3 612.2h0M116.2 614.1h0M117.1 613.6h0M117.9 612.5h0M118.8 614.0h0M119.7 613.1h0M120.6 613.1h0M121.4 611.9h0M122.3 612.8h0M123.2 612.1h0M124.1 613.5h0M124.9 612.3h0M125.8 613.2h0M126.7 612.0h0M127.6 614.0h0M128.4 612.2h0M129.3 613.8h0M130.2 612.9h0M131.1 613.0h0M131.9 613.9h0M132.8 612.2h0M133.7 613.5h0M134.6 613.5h0M135.4 614.1h0M136.3 613.5h0M137.2 613.1h0M138.1 612.5h0M138.9 613.4h0M139.8 612.6h0M140.7 614.0h0M141.6 613.3h0M142.4 613.1h0M143.3 611.9h0M144.2 612.2h0M145.1 612.6h0M145.9 614.2h0M146.8 613.3h0M147.7 612.5h0M148.6 613.7h0M149.4 612.9h0M150.3 613.1h0M151.2 614.2h0M152.1 611.8h0M152.9 612.3h0M153.8 613.8h0M154.7 612.7h0M155.6 613.5h0M156.4 613.3h0M157.3 612.9h0M65.4 592.7h0M66.3 595.0h0M67.2 597.1h0M68.1 597.4h0M68.9 602.2h0M69.8 604.3h0M70.7 602.8h0M71.6 606.6h0M72.4 604.7h0M73.3 607.9h0M74.2 608.2h0M75.1 611.0h0M75.9 609.7h0M76.8 613.5h0M77.7 614.0h0M78.6 614.7h0M79.4 613.2h0M80.3 613.6h0M81.2 615.8h0M82.1 615.5h0M82.9 614.5h0M83.8 615.6h0M84.7 617.4h0M85.6 617.3h0M86.4 617.7h0M87.3 618.0h0M88.2 617.4h0M89.1 618.5h0M89.9 616.3h0M90.8 617.8h0M91.7 617.7h0M92.6 617.4h0M93.4 617.2h0M94.3 617.2h0M95.2 618.4h0M96.1 618.6h0M96.9 618.5h0M97.8 619.5h0M98.7 618.6h0M99.6 617.9h0M100.4 617.2h0M101.3 617.7h0M102.2 618.1h0M103.1 618.3h0M103.9 619.8h0M104.8 619.0h0M105.7 619.0h0M106.6 618.3h0M107.4 619.6h0M108.3 619.0h0M109.2 618.7h0M110.1 618.0h0M110.9 617.9h0M111.8 618.4h0M112.7 619.6h0M113.6 618.1h0M114.4 617.7h0M115.3 618.6h0M116.2 619.1h0M117.1 618.8h0M117.9 619.7h0M118.8 618.2h0M119.7 617.6h0M120.6 618.7h0M121.4 618.3h0M122.3 618.0h0M123.2 619.5h0M124.1 617.7h0M124.9 618.5h0M125.8 619.6h0M126.7 619.8h0M127.6 619.4h0M128.4 618.6h0M129.3 618.3h0M130.2 619.2h0M131.1 617.7h0M131.9 619.2h0M132.8 618.9h0M133.7 619.7h0M134.6 617.6h0M135.4 619.7h0M136.3 617.8h0M137.2 618.7h0M138.1 618.7h0M138.9 618.7h0M139.8 619.4h0M140.7 617.8h0M141.6 617.6h0M142.4 618.0h0M143.3 618.6h0M144.2 619.8h0M145.1 618.0h0M145.9 619.3h0M146.8 617.8h0M147.7 619.5h0M148.6 618.6h0M149.4 618.0h0M150.3 619.6h0M151.2 618.7h0M152.1 619.9h0M152.9 620.0h0M153.8 619.6h0M154.7 617.6h0M155.6 617.7h0M156.4 618.4h0M157.3 619.3h0" stroke="#40e040" stroke-width="2.4" stroke-linecap="round" fill="none"/>
<path d="M65.4 589.4h0M66.3 591.8h0M67.2 597.0h0M68.1 597.7h0M68.9 598.3h0M69.8 605.0h0M70.7 605.3h0M71.6 605.2h0M72.4 608.1h0M73.3 607.9h0M74.2 608.0h0M75.1 610.6h0M75.9 609.9h0M76.8 611.6h0M77.7 611.0h0M78.6 612.5h0M79.4 611.8h0M80.3 614.4h0M81.2 612.6h0M82.1 614.7h0M82.9 612.3h0M83.8 613.8h0M84.7 614.4h0M85.6 614.8h0M86.4 614.4h0M87.3 614.4h0M88.2 614.3h0M89.1 614.5h0M89.9 615.4h0M90.8 614.1h0M91.7 614.6h0M92.6 614.7h0M93.4 615.9h0M94.3 615.9h0M95.2 615.7h0M96.1 614.8h0M96.9 615.9h0M97.8 615.9h0M98.7 616.2h0M99.6 615.0h0M100.4 616.5h0M101.3 617.3h0M102.2 615.6h0M103.1 615.1h0M103.9 615.6h0M104.8 616.0h0M105.7 615.6h0M106.6 616.7h0M107.4 616.0h0M108.3 617.3h0M109.2 617.2h0M110.1 616.4h0M110.9 616.3h0M111.8 616.5h0M112.7 617.4h0M113.6 615.8h0M114.4 616.2h0M115.3 617.0h0M116.2 616.8h0M117.1 616.6h0M117.9 617.0h0M118.8 617.4h0M119.7 615.3h0M120.6 615.2h0M121.4 615.9h0M122.3 615.4h0M123.2 616.5h0M124.1 615.6h0M124.9 617.0h0M125.8 615.7h0M126.7 616.2h0M127.6 615.3h0M128.4 617.3h0M129.3 615.6h0M130.2 617.3h0M131.1 616.2h0M131.9 615.2h0M132.8 617.6h0M133.7 617.0h0M134.6 616.8h0M135.4 616.8h0M136.3 617.4h0M137.2 615.4h0M138.1 615.6h0M138.9 616.6h0M139.8 616.7h0M140.7 616.1h0M141.6 617.5h0M142.4 617.5h0M143.3 615.3h0M144.2 616.8h0M145.1 616.3h0M145.9 615.3h0M146.8 615.2h0M147.7 616.4h0M148.6 617.1h0M149.4 616.8h0M150.3 615.3h0M151.2 615.4h0M152.1 617.1h0M152.9 615.5h0M153.8 616.7h0M154.7 616.4h0M155.6 617.2h0M156.4 615.4h0M157.3 615.1h0M65.4 593.5h0M66.3 592.6h0M67.2 598.4h0M68.1 595.6h0M68.9 603.0h0M69.8 604.2h0M70.7 601.9h0M71.6 605.5h0M72.4 603.6h0M73.3 604.9h0M74.2 606.6h0M75.1 610.0h0M75.9 608.2h0M76.8 607.9h0M77.7 610.4h0M78.6 612.3h0M79.4 612.1h0M80.3 612.2h0M81.2 611.1h0M82.1 613.1h0M82.9 613.4h0M83.8 613.4h0M84.7 612.3h0M85.6 612.1h0M86.4 613.5h0M87.3 612.8h0M88.2 612.3h0M89.1 613.2h0M89.9 614.3h0M90.8 614.2h0M91.7 612.6h0M92.6 613.3h0M93.4 614.4h0M94.3 613.5h0M95.2 615.0h0M96.1 612.7h0M96.9 614.2h0M97.8 614.0h0M98.7 614.0h0M99.6 615.3h0M100.4 613.9h0M101.3 614.7h0M102.2 614.8h0M103.1 613.4h0M103.9 615.2h0M104.8 614.7h0M105.7 613.6h0M106.6 614.8h0M107.4 614.8h0M108.3 614.1h0M109.2 615.0h0M110.1 613.2h0M110.9 613.0h0M111.8 615.4h0M112.7 614.3h0M113.6 613.6h0M114.4 614.5h0M115.3 613.2h0M116.2 614.3h0M117.1 615.1h0M117.9 614.1h0M118.8 613.9h0M119.7 614.6h0M120.6 613.9h0M121.4 613.6h0M122.3 614.2h0M123.2 614.3h0M124.1 613.4h0M124.9 613.8h0M125.8 614.2h0M126.7 613.1h0M127.6 615.1h0M128.4 613.6h0M129.3 615.1h0M130.2 614.0h0M131.1 614.9h0M131.9 614.4h0M132.8 613.6h0M133.7 613.6h0M134.6 613.5h0M135.4 614.9h0M136.3 614.3h0M137.2 615.0h0M138.1 614.1h0M138.9 614.3h0M139.8 615.4h0M140.7 614.0h0M141.6 613.7h0M142.4 614.1h0M143.3 613.3h0M144.2 615.1h0M145.1 615.1h0M145.9 615.5h0M146.8 614.3h0M147.7 614.4h0M148.6 614.4h0M149.4 614.9h0M150.3 613.5h0M151.2 615.3h0M152.1 613.3h0M152.9 614.1h0M153.8 614.2h0M154.7 613.5h0M155.6 614.9h0M156.4 615.1h0M157.3 614.7h0M65.4 594.9h0M66.3 595.4h0M67.2 595.7h0M68.1 598.9h0M68.9 602.8h0M69.8 602.6h0M70.7 607.2h0M71.6 604.6h0M72.4 609.4h0M73.3 610.1h0M74.2 611.6h0M75.1 610.1h0M75.9 610.4h0M76.8 611.4h0M77.7 615.0h0M78.6 614.2h0M79.4 614.9h0M80.3 615.9h0M81.2 613.7h0M82.1 617.2h0M82.9 616.1h0M83.8 615.5h0M84.7 615.1h0M85.6 617.9h0M86.4 617.2h0M87.3 616.5h0M88.2 618.7h0M89.1 618.3h0M89.9 616.6h0M90.8 618.8h0M91.7 618.2h0M92.6 618.6h0M93.4 618.3h0M94.3 619.3h0M95.2 619.5h0M96.1 617.0h0M96.9 617.7h0M97.8 617.8h0M98.7 619.2h0M99.6 619.1h0M100.4 618.4h0M101.3 619.2h0M102.2 618.7h0M103.1 617.5h0M103.9 619.0h0M104.8 619.1h0M105.7 617.5h0M106.6 618.4h0M107.4 619.9h0M108.3 619.0h0M109.2 618.4h0M110.1 619.8h0M110.9 619.1h0M111.8 618.3h0M112.7 617.9h0M113.6 618.5h0M114.4 617.8h0M115.3 618.9h0M116.2 619.1h0M117.1 617.9h0M117.9 619.1h0M118.8 618.1h0M119.7 619.5h0M120.6 619.2h0M121.4 619.6h0M122.3 618.7h0M123.2 619.6h0M124.1 619.5h0M124.9 619.5h0M125.8 618.9h0M126.7 619.3h0M127.6 618.9h0M128.4 617.6h0M129.3 618.4h0M130.2 617.9h0M131.1 619.5h0M131.9 619.1h0M132.8 619.9h0M133.7 618.3h0M134.6 619.2h0M135.4 619.4h0M136.3 620.0h0M137.2 619.6h0M138.1 619.4h0M138.9 619.1h0M139.8 617.8h0M140.7 618.3h0M141.6 619.4h0M142.4 619.2h0M143.3 619.7h0M144.2 617.7h0M145.1 619.2h0M145.9 618.2h0M146.8 618.3h0M147.7 617.8h0M148.6 620.0h0M149.4 619.3h0M150.3 619.1h0M151.2 619.9h0M152.1 617.9h0M152.9 619.3h0M153.8 618.1h0M154.7 618.8h0M155.6 619.9h0M156.4 619.1h0M157.3 619.5h0" stroke="#20a020" stroke-width="2.4" stroke-linecap="round" fill="none"/>
<line x1="52.60" y1="587.40" x2="52.60" y2="640.10" stroke="#000" stroke-width="1.4"/>
<line x1="52.00" y1="639.50" x2="158.20" y2="639.50" stroke="#000" stroke-width="1.4"/>
<line x1="52.60" y1="587.80" x2="56.60" y2="587.80" stroke="#000" stroke-width="1.2"/>
<text x="47.2" y="591.8" font-size="10" text-anchor="end" fill="#000" stroke="#000" stroke-width="0.3" font-family="Liberation Sans, sans-serif" font-weight="bold">3.0</text>
<line x1="52.60" y1="618.82" x2="56.60" y2="618.82" stroke="#000" stroke-width="1.2"/>
<text x="47.2" y="622.8199999999999" font-size="10" text-anchor="end" fill="#000" stroke="#000" stroke-width="0.3" font-family="Liberation Sans, sans-serif" font-weight="bold">1.5</text>
<line x1="87.60" y1="639.50" x2="87.60" y2="636.00" stroke="#000" stroke-width="1.2"/>
<text x="88.1" y="654.2" font-size="10" text-anchor="middle" fill="#000" stroke="#000" stroke-width="0.3" font-family="Liberation Sans, sans-serif" font-weight="bold">30</text>
<line x1="122.60" y1="639.50" x2="122.60" y2="636.00" stroke="#000" stroke-width="1.2"/>
<text x="123.1" y="654.2" font-size="10" text-anchor="middle" fill="#000" stroke="#000" stroke-width="0.3" font-family="Liberation Sans, sans-serif" font-weight="bold">60</text>
<line x1="157.60" y1="639.50" x2="157.60" y2="636.00" stroke="#000" stroke-width="1.2"/>
<text x="158.1" y="654.2" font-size="10" text-anchor="middle" fill="#000" stroke="#000" stroke-width="0.3" font-family="Liberation Sans, sans-serif" font-weight="bold">90</text>
<text x="51.8" y="654.2" font-size="10" text-anchor="middle" fill="#000" stroke="#000" stroke-width="0.3" font-family="Liberation Sans, sans-serif" font-weight="bold">0</text>
<path d="M66.6,643.6 L72.0,654.2 L66.6,650.2 L61.199999999999996,654.2 Z" fill="#000" stroke="#000" stroke-width="0.6" stroke-linejoin="round"/>
<text x="104.2" y="671.3" font-size="10.3" text-anchor="middle" fill="#000" stroke="#000" stroke-width="0.3" font-family="Liberation Sans, sans-serif" font-weight="bold">Time (min)</text>
<text x="14.1" y="610.6" font-size="10.3" text-anchor="middle" fill="#000" stroke="#000" stroke-width="0.3" font-family="Liberation Sans, sans-serif" font-weight="bold" transform="rotate(-90 14.1 610.6)">EPSPs</text>
<text x="25.9" y="613.6" font-size="10.3" text-anchor="middle" fill="#000" stroke="#000" stroke-width="0.3" font-family="Liberation Sans, sans-serif" font-weight="bold" transform="rotate(-90 25.9 613.6)">(Normalized)</text>
<text x="183" y="512.8" font-size="15.5" text-anchor="start" fill="#000" stroke="#000" stroke-width="0.3" font-family="Liberation Sans, sans-serif" font-weight="bold">H</text>
<line x1="232.20" y1="546.89" x2="232.20" y2="541.82" stroke="#999" stroke-width="0.8"/>
<line x1="230.60" y1="541.82" x2="233.80" y2="541.82" stroke="#333" stroke-width="0.8"/>
<rect x="230.30" y="546.89" width="3.80" height="85.71" fill="#ff0000" stroke="#5a1a10" stroke-width="0.3"/>
<line x1="236.00" y1="553.80" x2="236.00" y2="548.73" stroke="#999" stroke-width="0.8"/>
<line x1="234.40" y1="548.73" x2="237.60" y2="548.73" stroke="#333" stroke-width="0.8"/>
<rect x="234.10" y="553.80" width="3.80" height="78.80" fill="#00f000" stroke="#5a1a10" stroke-width="0.3"/>
<line x1="243.10" y1="550.58" x2="243.10" y2="544.59" stroke="#999" stroke-width="0.8"/>
<line x1="241.50" y1="544.59" x2="244.70" y2="544.59" stroke="#333" stroke-width="0.8"/>
<rect x="241.20" y="550.58" width="3.80" height="82.02" fill="#ff0000" stroke="#5a1a10" stroke-width="0.3"/>
<line x1="246.90" y1="549.66" x2="246.90" y2="543.67" stroke="#999" stroke-width="0.8"/>
<line x1="245.30" y1="543.67" x2="248.50" y2="543.67" stroke="#333" stroke-width="0.8"/>
<rect x="245.00" y="549.66" width="3.80" height="82.94" fill="#00f000" stroke="#5a1a10" stroke-width="0.3"/>
<line x1="254.00" y1="549.20" x2="254.00" y2="541.82" stroke="#999" stroke-width="0.8"/>
<line x1="252.40" y1="541.82" x2="255.60" y2="541.82" stroke="#333" stroke-width="0.8"/>
<rect x="252.10" y="549.20" width="3.80" height="83.40" fill="#ff0000" stroke="#5a1a10" stroke-width="0.3"/>
<line x1="257.80" y1="582.83" x2="257.80" y2="578.23" stroke="#999" stroke-width="0.8"/>
<line x1="256.20" y1="578.23" x2="259.40" y2="578.23" stroke="#333" stroke-width="0.8"/>
<rect x="255.90" y="582.83" width="3.80" height="49.77" fill="#00f000" stroke="#5a1a10" stroke-width="0.3"/>
<text x="257.8" y="578.7256" font-size="9.5" text-anchor="middle" fill="#222" stroke="#222" stroke-width="0.3" font-family="Liberation Sans, sans-serif" font-weight="bold">*</text>
<line x1="265.20" y1="553.80" x2="265.20" y2="545.05" stroke="#999" stroke-width="0.8"/>
<line x1="263.60" y1="545.05" x2="266.80" y2="545.05" stroke="#333" stroke-width="0.8"/>
<rect x="263.30" y="553.80" width="3.80" height="78.80" fill="#ff0000" stroke="#5a1a10" stroke-width="0.3"/>
<line x1="269.00" y1="581.91" x2="269.00" y2="574.08" stroke="#999" stroke-width="0.8"/>
<line x1="267.40" y1="574.08" x2="270.60" y2="574.08" stroke="#333" stroke-width="0.8"/>
<rect x="267.10" y="581.91" width="3.80" height="50.69" fill="#00f000" stroke="#5a1a10" stroke-width="0.3"/>
<text x="269.0" y="574.5784" font-size="9.5" text-anchor="middle" fill="#222" stroke="#222" stroke-width="0.3" font-family="Liberation Sans, sans-serif" font-weight="bold">*</text>
<line x1="279.30" y1="552.88" x2="279.30" y2="547.35" stroke="#999" stroke-width="0.8"/>
<line x1="277.70" y1="547.35" x2="280.90" y2="547.35" stroke="#333" stroke-width="0.8"/>
<rect x="277.40" y="552.88" width="3.80" height="79.72" fill="#ff0000" stroke="#5a1a10" stroke-width="0.3"/>
<line x1="283.10" y1="554.26" x2="283.10" y2="546.89" stroke="#999" stroke-width="0.8"/>
<line x1="281.50" y1="546.89" x2="284.70" y2="546.89" stroke="#333" stroke-width="0.8"/>
<rect x="281.20" y="554.26" width="3.80" height="78.34" fill="#00f000" stroke="#5a1a10" stroke-width="0.3"/>
<line x1="290.20" y1="554.26" x2="290.20" y2="548.27" stroke="#999" stroke-width="0.8"/>
<line x1="288.60" y1="548.27" x2="291.80" y2="548.27" stroke="#333" stroke-width="0.8"/>
<rect x="288.30" y="554.26" width="3.80" height="78.34" fill="#ff0000" stroke="#5a1a10" stroke-width="0.3"/>
<line x1="294.00" y1="556.57" x2="294.00" y2="551.50" stroke="#999" stroke-width="0.8"/>
<line x1="292.40" y1="551.50" x2="295.60" y2="551.50" stroke="#333" stroke-width="0.8"/>
<rect x="292.10" y="556.57" width="3.80" height="76.03" fill="#00f000" stroke="#5a1a10" stroke-width="0.3"/>
<line x1="301.20" y1="555.19" x2="301.20" y2="548.27" stroke="#999" stroke-width="0.8"/>
<line x1="299.60" y1="548.27" x2="302.80" y2="548.27" stroke="#333" stroke-width="0.8"/>
<rect x="299.30" y="555.19" width="3.80" height="77.41" fill="#ff0000" stroke="#5a1a10" stroke-width="0.3"/>
<line x1="305.00" y1="581.91" x2="305.00" y2="575.00" stroke="#999" stroke-width="0.8"/>
<line x1="303.40" y1="575.00" x2="306.60" y2="575.00" stroke="#333" stroke-width="0.8"/>
<rect x="303.10" y="581.91" width="3.80" height="50.69" fill="#00f000" stroke="#5a1a10" stroke-width="0.3"/>
<text x="305.0" y="575.5" font-size="9.5" text-anchor="middle" fill="#222" stroke="#222" stroke-width="0.3" font-family="Liberation Sans, sans-serif" font-weight="bold">*</text>
<line x1="312.10" y1="551.04" x2="312.10" y2="539.98" stroke="#999" stroke-width="0.8"/>
<line x1="310.50" y1="539.98" x2="313.70" y2="539.98" stroke="#333" stroke-width="0.8"/>
<rect x="310.20" y="551.04" width="3.80" height="81.56" fill="#ff0000" stroke="#5a1a10" stroke-width="0.3"/>
<line x1="315.90" y1="579.15" x2="315.90" y2="569.93" stroke="#999" stroke-width="0.8"/>
<line x1="314.30" y1="569.93" x2="317.50" y2="569.93" stroke="#333" stroke-width="0.8"/>
<rect x="314.00" y="579.15" width="3.80" height="53.45" fill="#00f000" stroke="#5a1a10" stroke-width="0.3"/>
<text x="315.9" y="570.4312" font-size="9.5" text-anchor="middle" fill="#222" stroke="#222" stroke-width="0.3" font-family="Liberation Sans, sans-serif" font-weight="bold">*</text>
<line x1="226.00" y1="517.00" x2="226.00" y2="633.20" stroke="#000" stroke-width="1.3"/>
<line x1="225.40" y1="632.60" x2="318.50" y2="632.60" stroke="#000" stroke-width="1.3"/>
<line x1="226.00" y1="632.60" x2="230.00" y2="632.60" stroke="#000" stroke-width="1.2"/>
<text x="221.2" y="636.0" font-size="9.6" text-anchor="end" fill="#000" stroke="#000" stroke-width="0.3" font-family="Liberation Sans, sans-serif" font-weight="bold">0.0</text>
<line x1="226.00" y1="609.56" x2="230.00" y2="609.56" stroke="#000" stroke-width="1.2"/>
<text x="221.2" y="612.96" font-size="9.6" text-anchor="end" fill="#000" stroke="#000" stroke-width="0.3" font-family="Liberation Sans, sans-serif" font-weight="bold">.5</text>
<line x1="226.00" y1="586.52" x2="230.00" y2="586.52" stroke="#000" stroke-width="1.2"/>
<text x="221.2" y="589.92" font-size="9.6" text-anchor="end" fill="#000" stroke="#000" stroke-width="0.3" font-family="Liberation Sans, sans-serif" font-weight="bold">1.0</text>
<line x1="226.00" y1="563.48" x2="230.00" y2="563.48" stroke="#000" stroke-width="1.2"/>
<text x="221.2" y="566.88" font-size="9.6" text-anchor="end" fill="#000" stroke="#000" stroke-width="0.3" font-family="Liberation Sans, sans-serif" font-weight="bold">1.5</text>
<line x1="226.00" y1="540.44" x2="230.00" y2="540.44" stroke="#000" stroke-width="1.2"/>
<text x="221.2" y="543.8399999999999" font-size="9.6" text-anchor="end" fill="#000" stroke="#000" stroke-width="0.3" font-family="Liberation Sans, sans-serif" font-weight="bold">2.0</text>
<line x1="226.00" y1="517.40" x2="230.00" y2="517.40" stroke="#000" stroke-width="1.2"/>
<text x="221.2" y="520.8" font-size="9.6" text-anchor="end" fill="#000" stroke="#000" stroke-width="0.3" font-family="Liberation Sans, sans-serif" font-weight="bold">2.5</text>
<text x="233.7" y="636" font-size="8.8" text-anchor="end" fill="#000" stroke="#000" stroke-width="0.3" font-family="Liberation Sans, sans-serif" font-weight="bold" transform="rotate(-90 233.7 636)">E1</text>
<text x="249.2" y="636" font-size="8.8" text-anchor="end" fill="#000" stroke="#000" stroke-width="0.3" font-family="Liberation Sans, sans-serif" font-weight="bold" transform="rotate(-90 249.2 636)">E2</text>
<text x="260.0" y="636" font-size="8.8" text-anchor="end" fill="#000" stroke="#000" stroke-width="0.3" font-family="Liberation Sans, sans-serif" font-weight="bold" transform="rotate(-90 260.0 636)">E</text>
<text x="271.20000000000005" y="636" font-size="8.8" text-anchor="end" fill="#000" stroke="#000" stroke-width="0.3" font-family="Liberation Sans, sans-serif" font-weight="bold" transform="rotate(-90 271.20000000000005 636)">IN-E</text>
<text x="282.0" y="636" font-size="8.8" text-anchor="end" fill="#000" stroke="#000" stroke-width="0.3" font-family="Liberation Sans, sans-serif" font-weight="bold" transform="rotate(-90 282.0 636)">E1</text>
<text x="295.40000000000003" y="636" font-size="8.8" text-anchor="end" fill="#000" stroke="#000" stroke-width="0.3" font-family="Liberation Sans, sans-serif" font-weight="bold" transform="rotate(-90 295.40000000000003 636)">E2</text>
<text x="306.1" y="636" font-size="8.8" text-anchor="end" fill="#000" stroke="#000" stroke-width="0.3" font-family="Liberation Sans, sans-serif" font-weight="bold" transform="rotate(-90 306.1 636)">E</text>
<text x="316.8" y="636" font-size="8.8" text-anchor="end" fill="#000" stroke="#000" stroke-width="0.3" font-family="Liberation Sans, sans-serif" font-weight="bold" transform="rotate(-90 316.8 636)">IN-E</text>
<line x1="233.30" y1="658.30" x2="270.30" y2="658.30" stroke="#000" stroke-width="1.4"/>
<line x1="279.40" y1="658.30" x2="316.40" y2="658.30" stroke="#000" stroke-width="1.4"/>
<text x="252.3" y="671.2" font-size="10" text-anchor="middle" fill="#000" stroke="#000" stroke-width="0.3" font-family="Liberation Sans, sans-serif" font-weight="bold">CA1</text>
<text x="300.3" y="671.2" font-size="10" text-anchor="middle" fill="#000" stroke="#000" stroke-width="0.3" font-family="Liberation Sans, sans-serif" font-weight="bold">DG</text>
<text x="198.0" y="575.6" font-size="10.4" text-anchor="middle" fill="#000" stroke="#000" stroke-width="0.3" font-family="Liberation Sans, sans-serif" font-weight="bold" transform="rotate(-90 198.0 575.6)">LTP</text>
<rect x="243.40" y="507.40" width="13.80" height="6.90" fill="#ff0000"/>
<rect x="243.40" y="520.50" width="13.80" height="6.90" fill="#00f000"/>
<text x="258.5" y="514.6" font-size="9.6" text-anchor="start" fill="#000" stroke="#000" stroke-width="0.3" font-family="Liberation Sans, sans-serif" font-weight="bold" textLength="44" lengthAdjust="spacing">+/+ or +/-</text>
<text x="258.5" y="527.4" font-size="9.4" text-anchor="start" fill="#000" stroke="#000" stroke-width="0.3" font-family="Liberation Sans, sans-serif" font-weight="bold">-/-</text>
<rect x="339.3" y="498.6" width="3.2" height="11.5" fill="#000"/>
<polyline points="370.3,547.8 371.8,547.5 372.8,510.7 373.2,514.8 373.6,518.4 374.1,521.6 374.5,524.3 374.9,526.6 375.3,528.7 375.7,530.5 376.2,532.0 376.6,533.4 377.0,534.6 377.4,535.7 377.8,536.7 378.3,537.5 378.7,538.3 379.1,538.9 379.5,539.5 379.9,540.1 380.4,540.6 380.8,541.0 381.2,541.4 381.6,541.8 382.0,542.1 382.5,542.5 382.9,542.7 383.3,543.0 383.7,543.3 384.1,543.5 384.6,543.7 385.0,543.9 385.4,544.1 385.8,544.3 386.2,544.4 386.7,544.6 387.1,544.7 387.5,544.9 387.9,545.0 388.3,545.1 388.8,545.2 389.2,545.3 389.6,545.4" fill="none" stroke="#333" stroke-width="0.85" stroke-linejoin="round"/>
<polyline points="370.3,547.8 371.8,547.5 372.8,527.4 373.2,529.7 373.6,531.6 374.1,533.3 374.5,534.8 374.9,536.1 375.3,537.2 375.7,538.2 376.2,539.0 376.6,539.8 377.0,540.5 377.4,541.1 377.8,541.6 378.3,542.0 378.7,542.5 379.1,542.8 379.5,543.2 379.9,543.5 380.4,543.7 380.8,544.0 381.2,544.2 381.6,544.4 382.0,544.6 382.5,544.7 382.9,544.9 383.3,545.1 383.7,545.2 384.1,545.3 384.6,545.4 385.0,545.5 385.4,545.6 385.8,545.7 386.2,545.8 386.7,545.9 387.1,546.0 387.5,546.1 387.9,546.1 388.3,546.2 388.8,546.3 389.2,546.3 389.6,546.4" fill="none" stroke="#f04858" stroke-width="0.85" stroke-linejoin="round"/>
<polyline points="395.2,547.8 396.7,547.5 397.7,510.7 398.1,514.6 398.5,518.0 398.9,521.0 399.3,523.6 399.7,525.9 400.1,528.0 400.5,529.7 400.9,531.3 401.3,532.7 401.6,533.9 402.0,535.0 402.4,536.0 402.8,536.9 403.2,537.6 403.6,538.3 404.0,539.0 404.4,539.5 404.8,540.1 405.2,540.5 405.6,540.9 406.0,541.3 406.4,541.7 406.8,542.0 407.2,542.3 407.6,542.6 408.0,542.9 408.4,543.1 408.8,543.3 409.2,543.6 409.6,543.7 409.9,543.9 410.3,544.1 410.7,544.3 411.1,544.4 411.5,544.6 411.9,544.7 412.3,544.8 412.7,545.0 413.1,545.1 413.5,545.2" fill="none" stroke="#333" stroke-width="0.85" stroke-linejoin="round"/>
<polyline points="395.2,547.8 396.7,547.5 397.7,528.3 398.1,530.3 398.5,532.1 398.9,533.7 399.3,535.1 399.7,536.3 400.1,537.3 400.5,538.2 400.9,539.0 401.3,539.8 401.6,540.4 402.0,541.0 402.4,541.5 402.8,541.9 403.2,542.4 403.6,542.7 404.0,543.0 404.4,543.3 404.8,543.6 405.2,543.9 405.6,544.1 406.0,544.3 406.4,544.5 406.8,544.6 407.2,544.8 407.6,544.9 408.0,545.1 408.4,545.2 408.8,545.3 409.2,545.4 409.6,545.5 409.9,545.6 410.3,545.7 410.7,545.8 411.1,545.9 411.5,546.0 411.9,546.0 412.3,546.1 412.7,546.2 413.1,546.2 413.5,546.3" fill="none" stroke="#f04858" stroke-width="0.85" stroke-linejoin="round"/>
<polyline points="421.2,547.8 422.7,547.5 423.7,510.5 424.1,514.4 424.5,517.9 424.9,520.9 425.3,523.5 425.7,525.8 426.1,527.9 426.5,529.6 426.9,531.2 427.3,532.6 427.6,533.8 428.0,534.9 428.4,535.9 428.8,536.8 429.2,537.6 429.6,538.3 430.0,538.9 430.4,539.5 430.8,540.0 431.2,540.5 431.6,540.9 432.0,541.3 432.4,541.7 432.8,542.0 433.2,542.3 433.6,542.6 434.0,542.8 434.4,543.1 434.8,543.3 435.2,543.5 435.6,543.7 435.9,543.9 436.3,544.1 436.7,544.2 437.1,544.4 437.5,544.5 437.9,544.7 438.3,544.8 438.7,544.9 439.1,545.1 439.5,545.2" fill="none" stroke="#333" stroke-width="0.85" stroke-linejoin="round"/>
<polyline points="421.2,547.8 422.7,547.5 423.7,527.5 424.1,529.6 424.5,531.5 424.9,533.1 425.3,534.5 425.7,535.8 426.1,536.9 426.5,537.8 426.9,538.7 427.3,539.5 427.6,540.1 428.0,540.7 428.4,541.2 428.8,541.7 429.2,542.1 429.6,542.5 430.0,542.9 430.4,543.2 430.8,543.5 431.2,543.7 431.6,543.9 432.0,544.2 432.4,544.3 432.8,544.5 433.2,544.7 433.6,544.8 434.0,545.0 434.4,545.1 434.8,545.2 435.2,545.4 435.6,545.5 435.9,545.6 436.3,545.7 436.7,545.7 437.1,545.8 437.5,545.9 437.9,546.0 438.3,546.0 438.7,546.1 439.1,546.2 439.5,546.2" fill="none" stroke="#f04858" stroke-width="0.85" stroke-linejoin="round"/>
<polyline points="444.4,547.8 445.9,547.5 446.9,509.2 447.2,512.7 447.6,515.8 447.9,518.6 448.2,521.1 448.6,523.3 448.9,525.3 449.2,527.0 449.6,528.6 449.9,530.1 450.2,531.4 450.6,532.5 450.9,533.6 451.3,534.5 451.6,535.4 451.9,536.2 452.3,536.9 452.6,537.5 452.9,538.1 453.3,538.7 453.6,539.2 453.9,539.6 454.3,540.1 454.6,540.5 454.9,540.8 455.3,541.2 455.6,541.5 455.9,541.8 456.3,542.0 456.6,542.3 456.9,542.5 457.3,542.8 457.6,543.0 458.0,543.2 458.3,543.4 458.6,543.5 459.0,543.7 459.3,543.9 459.6,544.0 460.0,544.1 460.3,544.3" fill="none" stroke="#333" stroke-width="0.85" stroke-linejoin="round"/>
<polyline points="444.4,547.8 445.9,547.5 446.9,511.0 447.2,514.3 447.6,517.3 447.9,519.9 448.2,522.3 448.6,524.4 448.9,526.3 449.2,528.0 449.6,529.5 449.9,530.9 450.2,532.1 450.6,533.2 450.9,534.2 451.3,535.1 451.6,536.0 451.9,536.7 452.3,537.4 452.6,538.0 452.9,538.6 453.3,539.1 453.6,539.6 453.9,540.0 454.3,540.4 454.6,540.8 454.9,541.1 455.3,541.5 455.6,541.8 455.9,542.0 456.3,542.3 456.6,542.5 456.9,542.8 457.3,543.0 457.6,543.2 458.0,543.4 458.3,543.5 458.6,543.7 459.0,543.9 459.3,544.0 459.6,544.2 460.0,544.3 460.3,544.4" fill="none" stroke="#f04858" stroke-width="0.85" stroke-linejoin="round"/>
<polyline points="468.4,547.8 469.9,547.5 470.9,509.2 471.3,513.6 471.8,517.4 472.2,520.7 472.6,523.6 473.0,526.0 473.5,528.2 473.9,530.0 474.3,531.7 474.8,533.1 475.2,534.4 475.6,535.5 476.1,536.5 476.5,537.3 476.9,538.1 477.4,538.8 477.8,539.4 478.2,540.0 478.6,540.5 479.1,541.0 479.5,541.4 479.9,541.8 480.4,542.1 480.8,542.4 481.2,542.7 481.6,543.0 482.1,543.2 482.5,543.5 482.9,543.7 483.4,543.9 483.8,544.1 484.2,544.3 484.7,544.4 485.1,544.6 485.5,544.7 486.0,544.9 486.4,545.0 486.8,545.1 487.2,545.2 487.7,545.3 488.1,545.4" fill="none" stroke="#333" stroke-width="0.85" stroke-linejoin="round"/>
<polyline points="468.4,547.8 469.9,547.5 470.9,519.7 471.3,522.9 471.8,525.7 472.2,528.1 472.6,530.1 473.0,531.9 473.5,533.5 473.9,534.8 474.3,536.0 474.8,537.1 475.2,538.0 475.6,538.8 476.1,539.5 476.5,540.1 476.9,540.7 477.4,541.2 477.8,541.6 478.2,542.1 478.6,542.4 479.1,542.8 479.5,543.1 479.9,543.3 480.4,543.6 480.8,543.8 481.2,544.0 481.6,544.2 482.1,544.4 482.5,544.6 482.9,544.7 483.4,544.9 483.8,545.0 484.2,545.1 484.7,545.3 485.1,545.4 485.5,545.5 486.0,545.6 486.4,545.7 486.8,545.8 487.2,545.9 487.7,545.9 488.1,546.0" fill="none" stroke="#f04858" stroke-width="0.85" stroke-linejoin="round"/>
<polyline points="495.2,547.8 496.7,547.5 497.7,509.2 498.1,513.4 498.5,517.0 498.9,520.2 499.3,523.0 499.7,525.4 500.1,527.5 500.6,529.4 501.0,531.0 501.4,532.5 501.8,533.7 502.2,534.9 502.6,535.9 503.0,536.8 503.4,537.6 503.8,538.3 504.2,538.9 504.6,539.5 505.0,540.0 505.4,540.5 505.9,540.9 506.3,541.3 506.7,541.7 507.1,542.0 507.5,542.3 507.9,542.6 508.3,542.9 508.7,543.1 509.1,543.4 509.5,543.6 509.9,543.8 510.3,544.0 510.7,544.1 511.1,544.3 511.6,544.5 512.0,544.6 512.4,544.7 512.8,544.9 513.2,545.0 513.6,545.1 514.0,545.2" fill="none" stroke="#333" stroke-width="0.85" stroke-linejoin="round"/>
<polyline points="495.2,547.8 496.7,547.5 497.7,529.3 498.1,531.3 498.5,533.0 498.9,534.5 499.3,535.9 499.7,537.0 500.1,538.0 500.6,538.9 501.0,539.7 501.4,540.4 501.8,541.0 502.2,541.5 502.6,542.0 503.0,542.4 503.4,542.8 503.8,543.1 504.2,543.4 504.6,543.7 505.0,544.0 505.4,544.2 505.9,544.4 506.3,544.6 506.7,544.7 507.1,544.9 507.5,545.1 507.9,545.2 508.3,545.3 508.7,545.4 509.1,545.5 509.5,545.6 509.9,545.7 510.3,545.8 510.7,545.9 511.1,546.0 511.6,546.1 512.0,546.1 512.4,546.2 512.8,546.2 513.2,546.3 513.6,546.4 514.0,546.4" fill="none" stroke="#f04858" stroke-width="0.85" stroke-linejoin="round"/>
<text x="359.9" y="506.9" font-size="9.4" text-anchor="start" fill="#000" stroke="#000" stroke-width="0.3" font-family="Liberation Sans, sans-serif" font-weight="bold">E1<tspan font-size="6.8" dy="-3.2" stroke-width="0.15">+/+</tspan></text>
<text x="387.7" y="506.9" font-size="9.4" text-anchor="start" fill="#000" stroke="#000" stroke-width="0.3" font-family="Liberation Sans, sans-serif" font-weight="bold">E1<tspan font-size="6.8" dy="-3.2" stroke-width="0.15">-/-</tspan></text>
<text x="414.5" y="506.9" font-size="9.4" text-anchor="start" fill="#000" stroke="#000" stroke-width="0.3" font-family="Liberation Sans, sans-serif" font-weight="bold">E2<tspan font-size="6.8" dy="-3.2" stroke-width="0.15">-/-</tspan></text>
<text x="439.2" y="506.9" font-size="9.4" text-anchor="start" fill="#000" stroke="#000" stroke-width="0.3" font-family="Liberation Sans, sans-serif" font-weight="bold">E<tspan font-size="6.8" dy="-3.2" stroke-width="0.15">+/-</tspan></text>
<text x="462.6" y="506.9" font-size="9.4" text-anchor="start" fill="#000" stroke="#000" stroke-width="0.3" font-family="Liberation Sans, sans-serif" font-weight="bold">E<tspan font-size="6.8" dy="-3.2" stroke-width="0.15">-/-</tspan></text>
<text x="479.5" y="506.9" font-size="9.4" text-anchor="start" fill="#000" stroke="#000" stroke-width="0.3" font-family="Liberation Sans, sans-serif" font-weight="bold">IN-E<tspan font-size="6.8" dy="-3.2" stroke-width="0.15">-/-</tspan></text>
<circle cx="407.10" cy="563.20" r="2.7" fill="#000"/>
<circle cx="447.30" cy="563.20" r="2.7" fill="#20a020"/>
<text x="413.3" y="566.3" font-size="9.4" text-anchor="start" fill="#000" stroke="#000" stroke-width="0.3" font-family="Liberation Sans, sans-serif" font-weight="bold">E1<tspan font-size="7.4" dy="-2.9" stroke-width="0.15">+/+</tspan></text>
<text x="452.6" y="566.3" font-size="9.4" text-anchor="start" fill="#000" stroke="#000" stroke-width="0.3" font-family="Liberation Sans, sans-serif" font-weight="bold">E<tspan font-size="7.4" dy="-2.9" stroke-width="0.15">+/-</tspan></text>
<circle cx="407.10" cy="573.50" r="2.7" fill="#40f040"/>
<circle cx="447.30" cy="573.50" r="2.7" fill="#f02020"/>
<text x="413.3" y="576.4" font-size="9.4" text-anchor="start" fill="#000" stroke="#000" stroke-width="0.3" font-family="Liberation Sans, sans-serif" font-weight="bold">E1<tspan font-size="7.4" dy="-2.9" stroke-width="0.15">-/-</tspan></text>
<text x="452.6" y="576.4" font-size="9.4" text-anchor="start" fill="#000" stroke="#000" stroke-width="0.3" font-family="Liberation Sans, sans-serif" font-weight="bold">E<tspan font-size="7.4" dy="-2.9" stroke-width="0.15">-/-</tspan></text>
<circle cx="407.10" cy="583.50" r="2.7" fill="#2020f0"/>
<circle cx="447.30" cy="583.50" r="2.7" fill="#801010"/>
<text x="413.3" y="586.6" font-size="9.4" text-anchor="start" fill="#000" stroke="#000" stroke-width="0.3" font-family="Liberation Sans, sans-serif" font-weight="bold">E2<tspan font-size="7.4" dy="-2.9" stroke-width="0.15">-/-</tspan></text>
<text x="452.6" y="586.6" font-size="9.4" text-anchor="start" fill="#000" stroke="#000" stroke-width="0.3" font-family="Liberation Sans, sans-serif" font-weight="bold">IN-E<tspan font-size="7.4" dy="-2.9" stroke-width="0.15">-/-</tspan></text>
<line x1="509.40" y1="553.40" x2="509.40" y2="568.50" stroke="#000" stroke-width="1.3"/>
<line x1="491.30" y1="567.90" x2="510.00" y2="567.90" stroke="#000" stroke-width="1.3"/>
<text x="518.6" y="560.2" font-size="8.8" text-anchor="middle" fill="#000" stroke="#000" stroke-width="0.3" font-family="Liberation Sans, sans-serif" font-weight="bold" transform="rotate(-90 518.6 560.2)">3 mV</text>
<text x="499.7" y="576.8" font-size="8.8" text-anchor="middle" fill="#000" stroke="#000" stroke-width="0.3" font-family="Liberation Sans, sans-serif" font-weight="bold">20 ms</text>
<path d="M395.2 593.9V599.9M396.4 593.2V599.2M397.6 592.9V598.9M398.8 592.0V598.0M400.0 593.2V599.2M401.2 592.1V598.1M402.4 597.4V603.4M403.6 594.8V600.8M404.8 592.0V598.0M406.0 593.7V599.7M407.2 592.2V598.2M408.4 596.9V602.9M409.6 594.8V600.8M410.8 596.1V602.1M412.0 594.4V600.4M413.2 594.2V600.2M414.4 597.5V603.5M415.6 596.3V602.3" stroke="#2020f0" stroke-width="0.5" fill="none"/>
<path d="M395.2 595.9V601.9M396.4 592.2V598.2M397.6 593.0V599.0M398.8 596.6V602.6M400.0 592.9V598.9M401.2 596.8V602.8M402.4 593.9V599.9M403.6 596.8V602.8M404.8 597.6V603.6M406.0 592.4V598.4M407.2 596.3V602.3M408.4 596.3V602.3M409.6 591.8V597.8M410.8 592.4V598.4M412.0 595.9V601.9M413.2 591.9V597.9M414.4 594.4V600.4M415.6 593.6V599.6" stroke="#f02020" stroke-width="0.5" fill="none"/>
<path d="M395.2 596.4V602.4M396.4 592.0V598.0M397.6 593.5V599.5M398.8 591.9V597.9M400.0 592.3V598.3M401.2 595.8V601.8M402.4 595.4V601.4M403.6 596.6V602.6M404.8 596.7V602.7M406.0 597.2V603.2M407.2 595.8V601.8M408.4 594.0V600.0M409.6 597.6V603.6M410.8 593.6V599.6M412.0 595.6V601.6M413.2 595.7V601.7M414.4 592.7V598.7M415.6 594.7V600.7" stroke="#00e0e0" stroke-width="0.5" fill="none"/>
<path d="M395.2 595.7V601.7M396.4 594.7V600.7M397.6 593.4V599.4M398.8 597.2V603.2M400.0 591.8V597.8M401.2 597.4V603.4M402.4 593.1V599.1M403.6 592.6V598.6M404.8 597.5V603.5M406.0 592.9V598.9M407.2 595.4V601.4M408.4 594.2V600.2M409.6 597.5V603.5M410.8 597.3V603.3M412.0 596.5V602.5M413.2 591.9V597.9M414.4 596.4V602.4M415.6 593.1V599.1" stroke="#000" stroke-width="0.5" fill="none"/>
<path d="M395.2 592.1V598.1M396.4 592.0V598.0M397.6 595.5V601.5M398.8 595.5V601.5M400.0 594.5V600.5M401.2 593.0V599.0M402.4 596.9V602.9M403.6 593.1V599.1M404.8 592.9V598.9M406.0 592.5V598.5M407.2 597.4V603.4M408.4 592.0V598.0M409.6 597.0V603.0M410.8 595.6V601.6M412.0 594.0V600.0M413.2 592.1V598.1M414.4 595.6V601.6M415.6 592.1V598.1M395.2 594.4V600.4M396.4 595.7V601.7M397.6 595.7V601.7M398.8 596.5V602.5M400.0 597.1V603.1M401.2 596.7V602.7M402.4 593.5V599.5M403.6 591.7V597.7M404.8 596.6V602.6M406.0 597.3V603.3M407.2 591.7V597.7M408.4 594.4V600.4M409.6 595.2V601.2M410.8 596.2V602.2M412.0 594.1V600.1M413.2 592.7V598.7M414.4 594.9V600.9M415.6 595.1V601.1" stroke="#20a020" stroke-width="0.5" fill="none"/>
<path d="M417.2 621.2V626.2M418.2 618.0V623.0M419.2 619.4V624.4M420.2 617.4V622.4M421.2 615.8V620.8M422.2 617.0V622.0M423.2 614.8V619.8M424.2 613.7V618.7M425.2 614.0V619.0M426.2 613.2V618.2M427.2 614.5V619.5M428.2 613.3V618.3M429.2 613.6V618.6M430.2 611.6V616.6M431.2 612.7V617.7M432.2 612.0V617.0M433.2 610.4V615.4M434.2 610.5V615.5M435.2 610.0V615.0M436.2 611.1V616.1M437.2 610.9V615.9M438.2 610.1V615.1M439.2 610.6V615.6M440.2 610.9V615.9M441.2 610.5V615.5M442.2 611.1V616.1M443.2 610.4V615.4M444.2 608.8V613.8M445.2 608.8V613.8M446.2 609.5V614.5M447.2 609.8V614.8M448.2 610.1V615.1M449.2 610.7V615.7M450.2 610.2V615.2M451.2 608.8V613.8M452.2 608.6V613.6M453.2 609.8V614.8M454.2 608.7V613.7M455.2 608.7V613.7M456.3 608.9V613.9M457.3 608.9V613.9M458.3 608.7V613.7M459.3 609.6V614.6M460.3 608.8V613.8M461.3 609.8V614.8M462.3 609.3V614.3M463.3 608.5V613.5M464.3 608.7V613.7M465.3 609.7V614.7M466.3 608.1V613.1M467.3 608.8V613.8M468.3 609.0V614.0M469.3 610.4V615.4M470.3 609.0V614.0M471.3 609.8V614.8M472.3 608.7V613.7M473.3 609.2V614.2M474.3 608.3V613.3M475.3 608.7V613.7M476.3 608.4V613.4M477.3 609.5V614.5M478.3 608.7V613.7M479.3 608.5V613.5M480.3 608.3V613.3M481.3 609.5V614.5M482.3 608.2V613.2M483.3 608.1V613.1M484.3 608.6V613.6M485.3 607.9V612.9M486.3 607.9V612.9M487.3 609.0V614.0M488.3 609.0V614.0M489.3 609.9V614.9M490.3 608.2V613.2M491.3 608.0V613.0M492.3 609.1V614.1M493.3 608.6V613.6M494.3 608.5V613.5M495.3 608.5V613.5M496.3 609.9V614.9M497.3 608.4V613.4M498.3 608.9V613.9M499.3 608.6V613.6M500.3 609.3V614.3M501.3 608.8V613.8M502.3 608.4V613.4M503.3 608.7V613.7M504.3 608.5V613.5M505.3 610.3V615.3M506.3 609.9V614.9M507.3 609.2V614.2M508.3 608.7V613.7M509.3 609.8V614.8M510.3 608.6V613.6M511.3 608.7V613.7M512.3 610.2V615.2M513.3 609.1V614.1M514.3 609.8V614.8M515.3 610.2V615.2M417.2 625.2V630.2M418.2 623.8V628.8M419.2 623.3V628.3M420.2 622.4V627.4M421.2 622.1V627.1M422.2 620.3V625.3M423.2 620.0V625.0M424.2 618.8V623.8M425.2 618.4V623.4M426.2 618.8V623.8M427.2 616.7V621.7M428.2 618.6V623.6M429.2 617.2V622.2M430.2 617.2V622.2M431.2 616.6V621.6M432.2 617.1V622.1M433.2 615.0V620.0M434.2 615.9V620.9M435.2 616.6V621.6M436.2 614.9V619.9M437.2 616.1V621.1M438.2 614.8V619.8M439.2 615.2V620.2M440.2 614.4V619.4M441.2 613.4V618.4M442.2 613.6V618.6M443.2 614.5V619.5M444.2 613.4V618.4M445.2 613.8V618.8M446.2 614.4V619.4M447.2 614.9V619.9M448.2 613.7V618.7M449.2 613.7V618.7M450.2 612.7V617.7M451.2 612.6V617.6M452.2 613.5V618.5M453.2 614.1V619.1M454.2 612.7V617.7M455.2 614.9V619.9M456.3 614.6V619.6M457.3 613.4V618.4M458.3 613.3V618.3M459.3 614.4V619.4M460.3 613.2V618.2M461.3 612.5V617.5M462.3 613.8V618.8M463.3 613.6V618.6M464.3 614.1V619.1M465.3 614.0V619.0M466.3 612.2V617.2M467.3 613.7V618.7M468.3 612.2V617.2M469.3 612.3V617.3M470.3 613.1V618.1M471.3 614.0V619.0M472.3 612.1V617.1M473.3 613.4V618.4M474.3 613.6V618.6M475.3 613.8V618.8M476.3 612.1V617.1M477.3 613.4V618.4M478.3 613.9V618.9M479.3 613.4V618.4M480.3 614.3V619.3M481.3 613.0V618.0M482.3 613.5V618.5M483.3 613.8V618.8M484.3 612.6V617.6M485.3 612.5V617.5M486.3 614.5V619.5M487.3 613.2V618.2M488.3 613.9V618.9M489.3 612.2V617.2M490.3 612.6V617.6M491.3 613.9V618.9M492.3 613.9V618.9M493.3 614.2V619.2M494.3 612.1V617.1M495.3 613.8V618.8M496.3 613.0V618.0M497.3 613.4V618.4M498.3 612.9V617.9M499.3 613.0V618.0M500.3 612.7V617.7M501.3 614.3V619.3M502.3 612.6V617.6M503.3 613.8V618.8M504.3 613.2V618.2M505.3 613.7V618.7M506.3 613.8V618.8M507.3 613.2V618.2M508.3 613.4V618.4M509.3 613.6V618.6M510.3 612.7V617.7M511.3 613.1V618.1M512.3 614.5V619.5M513.3 613.9V618.9M514.3 613.4V618.4M515.3 612.2V617.2" stroke="#f02020" stroke-width="0.45" fill="none"/>
<path d="M417.2 619.8V624.8M418.2 619.4V624.4M419.2 619.5V624.5M420.2 617.4V622.4M421.2 617.2V622.2M422.2 616.3V621.3M423.2 615.5V620.5M424.2 615.1V620.1M425.2 614.8V619.8M426.2 613.6V618.6M427.2 614.1V619.1M428.2 613.7V618.7M429.2 612.6V617.6M430.2 613.4V618.4M431.2 612.9V617.9M432.2 611.7V616.7M433.2 612.8V617.8M434.2 611.3V616.3M435.2 611.3V616.3M436.2 611.5V616.5M437.2 611.6V616.6M438.2 610.6V615.6M439.2 610.3V615.3M440.2 611.4V616.4M441.2 610.8V615.8M442.2 610.5V615.5M443.2 610.5V615.5M444.2 610.7V615.7M445.2 610.9V615.9M446.2 610.1V615.1M447.2 609.7V614.7M448.2 610.9V615.9M449.2 610.5V615.5M450.2 609.5V614.5M451.2 609.5V614.5M452.2 609.7V614.7M453.2 610.7V615.7M454.2 609.5V614.5M455.2 609.0V614.0M456.3 609.0V614.0M457.3 609.4V614.4M458.3 610.5V615.5M459.3 609.1V614.1M460.3 610.2V615.2M461.3 609.4V614.4M462.3 608.9V613.9M463.3 609.3V614.3M464.3 610.3V615.3M465.3 610.0V615.0M466.3 608.9V613.9M467.3 610.2V615.2M468.3 609.4V614.4M469.3 609.7V614.7M470.3 610.1V615.1M471.3 609.4V614.4M472.3 610.3V615.3M473.3 610.2V615.2M474.3 609.7V614.7M475.3 610.3V615.3M476.3 610.3V615.3M477.3 609.4V614.4M478.3 609.1V614.1M479.3 608.9V613.9M480.3 610.1V615.1M481.3 609.6V614.6M482.3 609.8V614.8M483.3 609.3V614.3M484.3 609.5V614.5M485.3 608.8V613.8M486.3 609.7V614.7M487.3 610.3V615.3M488.3 609.2V614.2M489.3 610.1V615.1M490.3 609.3V614.3M491.3 609.5V614.5M492.3 608.8V613.8M493.3 609.4V614.4M494.3 609.3V614.3M495.3 609.9V614.9M496.3 609.4V614.4M497.3 609.9V614.9M498.3 609.1V614.1M499.3 609.5V614.5M500.3 610.1V615.1M501.3 609.9V614.9M502.3 609.7V614.7M503.3 609.1V614.1M504.3 610.0V615.0M505.3 609.1V614.1M506.3 609.2V614.2M507.3 610.2V615.2M508.3 609.2V614.2M509.3 610.2V615.2M510.3 610.1V615.1M511.3 609.3V614.3M512.3 609.9V614.9M513.3 608.8V613.8M514.3 609.5V614.5M515.3 609.8V614.8" stroke="#00e0e0" stroke-width="0.45" fill="none"/>
<path d="M417.2 622.9V627.9M418.2 623.3V628.3M419.2 621.2V626.2M420.2 621.6V626.6M421.2 620.7V625.7M422.2 618.6V623.6M423.2 618.5V623.5M424.2 618.7V623.7M425.2 618.4V623.4M426.2 616.5V621.5M427.2 616.6V621.6M428.2 615.9V620.9M429.2 616.7V621.7M430.2 615.6V620.6M431.2 615.8V620.8M432.2 615.7V620.7M433.2 615.3V620.3M434.2 614.6V619.6M435.2 614.8V619.8M436.2 614.6V619.6M437.2 614.8V619.8M438.2 613.5V618.5M439.2 613.7V618.7M440.2 613.3V618.3M441.2 613.8V618.8M442.2 613.0V618.0M443.2 613.4V618.4M444.2 613.2V618.2M445.2 613.2V618.2M446.2 612.8V617.8M447.2 613.3V618.3M448.2 613.8V618.8M449.2 613.8V618.8M450.2 613.5V618.5M451.2 613.7V618.7M452.2 612.2V617.2M453.2 612.9V617.9M454.2 612.4V617.4M455.2 613.6V618.6M456.3 612.8V617.8M457.3 612.1V617.1M458.3 612.5V617.5M459.3 612.8V617.8M460.3 612.7V617.7M461.3 613.3V618.3M462.3 613.2V618.2M463.3 613.2V618.2M464.3 612.8V617.8M465.3 612.8V617.8M466.3 611.9V616.9M467.3 613.1V618.1M468.3 613.0V618.0M469.3 612.9V617.9M470.3 613.1V618.1M471.3 612.9V617.9M472.3 613.0V618.0M473.3 612.5V617.5M474.3 613.3V618.3M475.3 611.8V616.8M476.3 612.7V617.7M477.3 611.7V616.7M478.3 612.2V617.2M479.3 612.2V617.2M480.3 612.5V617.5M481.3 611.7V616.7M482.3 613.1V618.1M483.3 612.2V617.2M484.3 612.8V617.8M485.3 612.2V617.2M486.3 612.1V617.1M487.3 613.0V618.0M488.3 613.0V618.0M489.3 613.3V618.3M490.3 612.9V617.9M491.3 613.2V618.2M492.3 612.6V617.6M493.3 611.7V616.7M494.3 612.7V617.7M495.3 612.8V617.8M496.3 612.5V617.5M497.3 612.8V617.8M498.3 612.1V617.1M499.3 612.1V617.1M500.3 613.0V618.0M501.3 612.9V617.9M502.3 612.2V617.2M503.3 611.7V616.7M504.3 612.2V617.2M505.3 612.6V617.6M506.3 611.6V616.6M507.3 613.3V618.3M508.3 613.2V618.2M509.3 612.0V617.0M510.3 612.6V617.6M511.3 613.2V618.2M512.3 612.4V617.4M513.3 611.6V616.6M514.3 612.4V617.4M515.3 612.7V617.7" stroke="#2020f0" stroke-width="0.45" fill="none"/>
<path d="M417.2 624.1V629.1M418.2 623.2V628.2M419.2 620.9V625.9M420.2 620.8V625.8M421.2 619.3V624.3M422.2 620.2V625.2M423.2 619.2V624.2M424.2 619.0V624.0M425.2 617.9V622.9M426.2 618.0V623.0M427.2 617.3V622.3M428.2 616.6V621.6M429.2 616.5V621.5M430.2 616.6V621.6M431.2 616.3V621.3M432.2 614.5V619.5M433.2 615.5V620.5M434.2 614.8V619.8M435.2 614.7V619.7M436.2 614.3V619.3M437.2 614.9V619.9M438.2 614.4V619.4M439.2 614.6V619.6M440.2 613.7V618.7M441.2 613.0V618.0M442.2 613.4V618.4M443.2 612.9V617.9M444.2 613.9V618.9M445.2 614.1V619.1M446.2 613.2V618.2M447.2 613.2V618.2M448.2 613.0V618.0M449.2 613.2V618.2M450.2 612.8V617.8M451.2 612.6V617.6M452.2 612.2V617.2M453.2 613.2V618.2M454.2 612.9V617.9M455.2 612.2V617.2M456.3 613.2V618.2M457.3 613.4V618.4M458.3 613.0V618.0M459.3 613.4V618.4M460.3 612.2V617.2M461.3 612.1V617.1M462.3 612.9V617.9M463.3 613.2V618.2M464.3 613.3V618.3M465.3 613.0V618.0M466.3 613.3V618.3M467.3 612.7V617.7M468.3 612.4V617.4M469.3 613.0V618.0M470.3 613.3V618.3M471.3 612.2V617.2M472.3 613.3V618.3M473.3 613.0V618.0M474.3 612.9V617.9M475.3 612.7V617.7M476.3 613.2V618.2M477.3 612.6V617.6M478.3 612.8V617.8M479.3 612.1V617.1M480.3 612.4V617.4M481.3 611.8V616.8M482.3 612.2V617.2M483.3 612.0V617.0M484.3 612.3V617.3M485.3 612.6V617.6M486.3 611.9V616.9M487.3 612.2V617.2M488.3 611.7V616.7M489.3 612.1V617.1M490.3 612.1V617.1M491.3 612.8V617.8M492.3 611.9V616.9M493.3 612.6V617.6M494.3 613.1V618.1M495.3 613.2V618.2M496.3 613.0V618.0M497.3 612.8V617.8M498.3 612.1V617.1M499.3 612.8V617.8M500.3 613.2V618.2M501.3 612.0V617.0M502.3 612.3V617.3M503.3 613.2V618.2M504.3 613.2V618.2M505.3 613.1V618.1M506.3 612.7V617.7M507.3 611.8V616.8M508.3 611.7V616.7M509.3 612.3V617.3M510.3 612.9V617.9M511.3 612.6V617.6M512.3 612.7V617.7M513.3 612.7V617.7M514.3 613.3V618.3M515.3 612.3V617.3" stroke="#801010" stroke-width="0.45" fill="none"/>
<path d="M417.2 620.5V625.5M418.2 619.8V624.8M419.2 620.5V625.5M420.2 618.6V623.6M421.2 618.8V623.8M422.2 616.8V621.8M423.2 616.8V621.8M424.2 615.0V620.0M425.2 614.9V619.9M426.2 616.1V621.1M427.2 615.2V620.2M428.2 613.3V618.3M429.2 614.1V619.1M430.2 613.9V618.9M431.2 613.6V618.6M432.2 612.5V617.5M433.2 611.8V616.8M434.2 612.6V617.6M435.2 611.3V616.3M436.2 612.0V617.0M437.2 613.1V618.1M438.2 611.2V616.2M439.2 612.0V617.0M440.2 612.8V617.8M441.2 610.4V615.4M442.2 612.6V617.6M443.2 611.2V616.2M444.2 611.3V616.3M445.2 610.2V615.2M446.2 611.4V616.4M447.2 611.8V616.8M448.2 611.5V616.5M449.2 611.7V616.7M450.2 610.7V615.7M451.2 611.2V616.2M452.2 610.1V615.1M453.2 611.4V616.4M454.2 611.1V616.1M455.2 611.3V616.3M456.3 609.4V614.4M457.3 609.8V614.8M458.3 609.7V614.7M459.3 610.3V615.3M460.3 610.8V615.8M461.3 611.4V616.4M462.3 609.7V614.7M463.3 610.5V615.5M464.3 611.7V616.7M465.3 611.3V616.3M466.3 611.5V616.5M467.3 609.9V614.9M468.3 609.4V614.4M469.3 611.2V616.2M470.3 609.7V614.7M471.3 610.9V615.9M472.3 609.9V614.9M473.3 609.5V614.5M474.3 610.1V615.1M475.3 609.6V614.6M476.3 610.7V615.7M477.3 611.6V616.6M478.3 610.3V615.3M479.3 610.1V615.1M480.3 611.2V616.2M481.3 610.6V615.6M482.3 610.8V615.8M483.3 611.6V616.6M484.3 610.8V615.8M485.3 610.6V615.6M486.3 610.4V615.4M487.3 609.8V614.8M488.3 610.6V615.6M489.3 609.1V614.1M490.3 609.5V614.5M491.3 609.3V614.3M492.3 609.9V614.9M493.3 609.9V614.9M494.3 610.2V615.2M495.3 609.6V614.6M496.3 610.7V615.7M497.3 610.1V615.1M498.3 609.9V614.9M499.3 610.3V615.3M500.3 610.9V615.9M501.3 611.4V616.4M502.3 611.4V616.4M503.3 610.7V615.7M504.3 610.1V615.1M505.3 609.7V614.7M506.3 609.8V614.8M507.3 610.8V615.8M508.3 609.2V614.2M509.3 610.9V615.9M510.3 609.8V614.8M511.3 611.4V616.4M512.3 609.7V614.7M513.3 609.9V614.9M514.3 609.2V614.2M515.3 609.3V614.3M417.2 622.1V627.1M418.2 620.8V625.8M419.2 620.1V625.1M420.2 619.7V624.7M421.2 620.0V625.0M422.2 618.5V623.5M423.2 617.0V622.0M424.2 618.1V623.1M425.2 615.7V620.7M426.2 616.3V621.3M427.2 616.3V621.3M428.2 616.9V621.9M429.2 615.6V620.6M430.2 615.8V620.8M431.2 614.3V619.3M432.2 613.4V618.4M433.2 613.1V618.1M434.2 613.6V618.6M435.2 614.0V619.0M436.2 614.5V619.5M437.2 612.9V617.9M438.2 613.1V618.1M439.2 612.5V617.5M440.2 613.3V618.3M441.2 611.9V616.9M442.2 613.5V618.5M443.2 613.1V618.1M444.2 613.1V618.1M445.2 612.1V617.1M446.2 611.4V616.4M447.2 613.2V618.2M448.2 611.9V616.9M449.2 611.5V616.5M450.2 612.8V617.8M451.2 613.2V618.2M452.2 611.9V616.9M453.2 611.2V616.2M454.2 611.0V616.0M455.2 611.4V616.4M456.3 612.1V617.1M457.3 612.1V617.1M458.3 611.8V616.8M459.3 610.8V615.8M460.3 612.3V617.3M461.3 612.4V617.4M462.3 611.5V616.5M463.3 610.6V615.6M464.3 612.5V617.5M465.3 612.9V617.9M466.3 612.7V617.7M467.3 611.6V616.6M468.3 611.4V616.4M469.3 612.5V617.5M470.3 612.5V617.5M471.3 611.4V616.4M472.3 611.3V616.3M473.3 611.2V616.2M474.3 611.1V616.1M475.3 612.8V617.8M476.3 611.7V616.7M477.3 610.8V615.8M478.3 610.5V615.5M479.3 612.1V617.1M480.3 610.7V615.7M481.3 611.3V616.3M482.3 610.5V615.5M483.3 612.3V617.3M484.3 611.1V616.1M485.3 610.8V615.8M486.3 611.7V616.7M487.3 612.6V617.6M488.3 612.4V617.4M489.3 612.5V617.5M490.3 612.6V617.6M491.3 612.5V617.5M492.3 611.3V616.3M493.3 612.6V617.6M494.3 611.0V616.0M495.3 611.0V616.0M496.3 610.8V615.8M497.3 610.8V615.8M498.3 611.1V616.1M499.3 610.5V615.5M500.3 610.4V615.4M501.3 611.3V616.3M502.3 610.4V615.4M503.3 612.6V617.6M504.3 612.6V617.6M505.3 612.7V617.7M506.3 612.3V617.3M507.3 611.9V616.9M508.3 611.7V616.7M509.3 611.1V616.1M510.3 611.0V616.0M511.3 612.7V617.7M512.3 611.8V616.8M513.3 611.5V616.5M514.3 611.9V616.9M515.3 612.6V617.6M417.2 621.9V626.9M418.2 621.5V626.5M419.2 619.9V624.9M420.2 619.5V624.5M421.2 617.6V622.6M422.2 617.0V622.0M423.2 618.6V623.6M424.2 616.3V621.3M425.2 615.9V620.9M426.2 616.5V621.5M427.2 616.6V621.6M428.2 615.3V620.3M429.2 615.2V620.2M430.2 613.9V618.9M431.2 613.2V618.2M432.2 614.3V619.3M433.2 614.3V619.3M434.2 613.5V618.5M435.2 612.8V617.8M436.2 612.4V617.4M437.2 612.8V617.8M438.2 613.3V618.3M439.2 613.1V618.1M440.2 611.6V616.6M441.2 612.4V617.4M442.2 613.4V618.4M443.2 612.4V617.4M444.2 612.8V617.8M445.2 611.6V616.6M446.2 613.0V618.0M447.2 612.5V617.5M448.2 612.9V617.9M449.2 611.8V616.8M450.2 610.5V615.5M451.2 611.6V616.6M452.2 611.9V616.9M453.2 610.5V615.5M454.2 612.6V617.6M455.2 611.9V616.9M456.3 610.7V615.7M457.3 612.7V617.7M458.3 610.8V615.8M459.3 611.8V616.8M460.3 612.6V617.6M461.3 612.0V617.0M462.3 611.5V616.5M463.3 611.6V616.6M464.3 611.3V616.3M465.3 612.4V617.4M466.3 612.0V617.0M467.3 610.1V615.1M468.3 611.4V616.4M469.3 611.3V616.3M470.3 612.3V617.3M471.3 611.8V616.8M472.3 610.1V615.1M473.3 610.8V615.8M474.3 611.2V616.2M475.3 612.4V617.4M476.3 611.5V616.5M477.3 610.5V615.5M478.3 611.4V616.4M479.3 611.0V616.0M480.3 610.2V615.2M481.3 610.8V615.8M482.3 610.9V615.9M483.3 612.4V617.4M484.3 612.4V617.4M485.3 610.5V615.5M486.3 611.4V616.4M487.3 610.2V615.2M488.3 610.4V615.4M489.3 610.1V615.1M490.3 611.5V616.5M491.3 609.9V614.9M492.3 610.5V615.5M493.3 610.2V615.2M494.3 612.1V617.1M495.3 610.5V615.5M496.3 611.4V616.4M497.3 610.0V615.0M498.3 609.9V614.9M499.3 611.9V616.9M500.3 611.4V616.4M501.3 611.8V616.8M502.3 611.3V616.3M503.3 611.7V616.7M504.3 610.8V615.8M505.3 612.1V617.1M506.3 612.0V617.0M507.3 611.3V616.3M508.3 612.3V617.3M509.3 611.5V616.5M510.3 610.2V615.2M511.3 610.2V615.2M512.3 611.9V616.9M513.3 612.4V617.4M514.3 610.3V615.3M515.3 610.0V615.0" stroke="#20a020" stroke-width="0.45" fill="none"/>
<path d="M395.2 596.9h0M396.4 596.2h0M397.6 595.9h0M398.8 595.0h0M400.0 596.2h0M401.2 595.1h0M402.4 600.4h0M403.6 597.8h0M404.8 595.0h0M406.0 596.7h0M407.2 595.2h0M408.4 599.9h0M409.6 597.8h0M410.8 599.1h0M412.0 597.4h0M413.2 597.2h0M414.4 600.5h0M415.6 599.3h0" stroke="#2020f0" stroke-width="2.6" stroke-linecap="round" fill="none"/>
<path d="M395.2 598.9h0M396.4 595.2h0M397.6 596.0h0M398.8 599.6h0M400.0 595.9h0M401.2 599.8h0M402.4 596.9h0M403.6 599.8h0M404.8 600.6h0M406.0 595.4h0M407.2 599.3h0M408.4 599.3h0M409.6 594.8h0M410.8 595.4h0M412.0 598.9h0M413.2 594.9h0M414.4 597.4h0M415.6 596.6h0" stroke="#f02020" stroke-width="2.6" stroke-linecap="round" fill="none"/>
<path d="M395.2 599.4h0M396.4 595.0h0M397.6 596.5h0M398.8 594.9h0M400.0 595.3h0M401.2 598.8h0M402.4 598.4h0M403.6 599.6h0M404.8 599.7h0M406.0 600.2h0M407.2 598.8h0M408.4 597.0h0M409.6 600.6h0M410.8 596.6h0M412.0 598.6h0M413.2 598.7h0M414.4 595.7h0M415.6 597.7h0" stroke="#00e0e0" stroke-width="2.6" stroke-linecap="round" fill="none"/>
<path d="M395.2 598.7h0M396.4 597.7h0M397.6 596.4h0M398.8 600.2h0M400.0 594.8h0M401.2 600.4h0M402.4 596.1h0M403.6 595.6h0M404.8 600.5h0M406.0 595.9h0M407.2 598.4h0M408.4 597.2h0M409.6 600.5h0M410.8 600.3h0M412.0 599.5h0M413.2 594.9h0M414.4 599.4h0M415.6 596.1h0" stroke="#000" stroke-width="2.6" stroke-linecap="round" fill="none"/>
<path d="M395.2 595.1h0M396.4 595.0h0M397.6 598.5h0M398.8 598.5h0M400.0 597.5h0M401.2 596.0h0M402.4 599.9h0M403.6 596.1h0M404.8 595.9h0M406.0 595.5h0M407.2 600.4h0M408.4 595.0h0M409.6 600.0h0M410.8 598.6h0M412.0 597.0h0M413.2 595.1h0M414.4 598.6h0M415.6 595.1h0M395.2 597.4h0M396.4 598.7h0M397.6 598.7h0M398.8 599.5h0M400.0 600.1h0M401.2 599.7h0M402.4 596.5h0M403.6 594.7h0M404.8 599.6h0M406.0 600.3h0M407.2 594.7h0M408.4 597.4h0M409.6 598.2h0M410.8 599.2h0M412.0 597.1h0M413.2 595.7h0M414.4 597.9h0M415.6 598.1h0" stroke="#20a020" stroke-width="2.6" stroke-linecap="round" fill="none"/>
<path d="M417.2 623.7h0M418.2 620.5h0M419.2 621.9h0M420.2 619.9h0M421.2 618.3h0M422.2 619.5h0M423.2 617.3h0M424.2 616.2h0M425.2 616.5h0M426.2 615.7h0M427.2 617.0h0M428.2 615.8h0M429.2 616.1h0M430.2 614.1h0M431.2 615.2h0M432.2 614.5h0M433.2 612.9h0M434.2 613.0h0M435.2 612.5h0M436.2 613.6h0M437.2 613.4h0M438.2 612.6h0M439.2 613.1h0M440.2 613.4h0M441.2 613.0h0M442.2 613.6h0M443.2 612.9h0M444.2 611.3h0M445.2 611.3h0M446.2 612.0h0M447.2 612.3h0M448.2 612.6h0M449.2 613.2h0M450.2 612.7h0M451.2 611.3h0M452.2 611.1h0M453.2 612.3h0M454.2 611.2h0M455.2 611.2h0M456.3 611.4h0M457.3 611.4h0M458.3 611.2h0M459.3 612.1h0M460.3 611.3h0M461.3 612.3h0M462.3 611.8h0M463.3 611.0h0M464.3 611.2h0M465.3 612.2h0M466.3 610.6h0M467.3 611.3h0M468.3 611.5h0M469.3 612.9h0M470.3 611.5h0M471.3 612.3h0M472.3 611.2h0M473.3 611.7h0M474.3 610.8h0M475.3 611.2h0M476.3 610.9h0M477.3 612.0h0M478.3 611.2h0M479.3 611.0h0M480.3 610.8h0M481.3 612.0h0M482.3 610.7h0M483.3 610.6h0M484.3 611.1h0M485.3 610.4h0M486.3 610.4h0M487.3 611.5h0M488.3 611.5h0M489.3 612.4h0M490.3 610.7h0M491.3 610.5h0M492.3 611.6h0M493.3 611.1h0M494.3 611.0h0M495.3 611.0h0M496.3 612.4h0M497.3 610.9h0M498.3 611.4h0M499.3 611.1h0M500.3 611.8h0M501.3 611.3h0M502.3 610.9h0M503.3 611.2h0M504.3 611.0h0M505.3 612.8h0M506.3 612.4h0M507.3 611.7h0M508.3 611.2h0M509.3 612.3h0M510.3 611.1h0M511.3 611.2h0M512.3 612.7h0M513.3 611.6h0M514.3 612.3h0M515.3 612.7h0M417.2 627.7h0M418.2 626.3h0M419.2 625.8h0M420.2 624.9h0M421.2 624.6h0M422.2 622.8h0M423.2 622.5h0M424.2 621.3h0M425.2 620.9h0M426.2 621.3h0M427.2 619.2h0M428.2 621.1h0M429.2 619.7h0M430.2 619.7h0M431.2 619.1h0M432.2 619.6h0M433.2 617.5h0M434.2 618.4h0M435.2 619.1h0M436.2 617.4h0M437.2 618.6h0M438.2 617.3h0M439.2 617.7h0M440.2 616.9h0M441.2 615.9h0M442.2 616.1h0M443.2 617.0h0M444.2 615.9h0M445.2 616.3h0M446.2 616.9h0M447.2 617.4h0M448.2 616.2h0M449.2 616.2h0M450.2 615.2h0M451.2 615.1h0M452.2 616.0h0M453.2 616.6h0M454.2 615.2h0M455.2 617.4h0M456.3 617.1h0M457.3 615.9h0M458.3 615.8h0M459.3 616.9h0M460.3 615.7h0M461.3 615.0h0M462.3 616.3h0M463.3 616.1h0M464.3 616.6h0M465.3 616.5h0M466.3 614.7h0M467.3 616.2h0M468.3 614.7h0M469.3 614.8h0M470.3 615.6h0M471.3 616.5h0M472.3 614.6h0M473.3 615.9h0M474.3 616.1h0M475.3 616.3h0M476.3 614.6h0M477.3 615.9h0M478.3 616.4h0M479.3 615.9h0M480.3 616.8h0M481.3 615.5h0M482.3 616.0h0M483.3 616.3h0M484.3 615.1h0M485.3 615.0h0M486.3 617.0h0M487.3 615.7h0M488.3 616.4h0M489.3 614.7h0M490.3 615.1h0M491.3 616.4h0M492.3 616.4h0M493.3 616.7h0M494.3 614.6h0M495.3 616.3h0M496.3 615.5h0M497.3 615.9h0M498.3 615.4h0M499.3 615.5h0M500.3 615.2h0M501.3 616.8h0M502.3 615.1h0M503.3 616.3h0M504.3 615.7h0M505.3 616.2h0M506.3 616.3h0M507.3 615.7h0M508.3 615.9h0M509.3 616.1h0M510.3 615.2h0M511.3 615.6h0M512.3 617.0h0M513.3 616.4h0M514.3 615.9h0M515.3 614.7h0" stroke="#f02020" stroke-width="2.8" stroke-linecap="round" fill="none"/>
<path d="M417.2 622.3h0M418.2 621.9h0M419.2 622.0h0M420.2 619.9h0M421.2 619.7h0M422.2 618.8h0M423.2 618.0h0M424.2 617.6h0M425.2 617.3h0M426.2 616.1h0M427.2 616.6h0M428.2 616.2h0M429.2 615.1h0M430.2 615.9h0M431.2 615.4h0M432.2 614.2h0M433.2 615.3h0M434.2 613.8h0M435.2 613.8h0M436.2 614.0h0M437.2 614.1h0M438.2 613.1h0M439.2 612.8h0M440.2 613.9h0M441.2 613.3h0M442.2 613.0h0M443.2 613.0h0M444.2 613.2h0M445.2 613.4h0M446.2 612.6h0M447.2 612.2h0M448.2 613.4h0M449.2 613.0h0M450.2 612.0h0M451.2 612.0h0M452.2 612.2h0M453.2 613.2h0M454.2 612.0h0M455.2 611.5h0M456.3 611.5h0M457.3 611.9h0M458.3 613.0h0M459.3 611.6h0M460.3 612.7h0M461.3 611.9h0M462.3 611.4h0M463.3 611.8h0M464.3 612.8h0M465.3 612.5h0M466.3 611.4h0M467.3 612.7h0M468.3 611.9h0M469.3 612.2h0M470.3 612.6h0M471.3 611.9h0M472.3 612.8h0M473.3 612.7h0M474.3 612.2h0M475.3 612.8h0M476.3 612.8h0M477.3 611.9h0M478.3 611.6h0M479.3 611.4h0M480.3 612.6h0M481.3 612.1h0M482.3 612.3h0M483.3 611.8h0M484.3 612.0h0M485.3 611.3h0M486.3 612.2h0M487.3 612.8h0M488.3 611.7h0M489.3 612.6h0M490.3 611.8h0M491.3 612.0h0M492.3 611.3h0M493.3 611.9h0M494.3 611.8h0M495.3 612.4h0M496.3 611.9h0M497.3 612.4h0M498.3 611.6h0M499.3 612.0h0M500.3 612.6h0M501.3 612.4h0M502.3 612.2h0M503.3 611.6h0M504.3 612.5h0M505.3 611.6h0M506.3 611.7h0M507.3 612.7h0M508.3 611.7h0M509.3 612.7h0M510.3 612.6h0M511.3 611.8h0M512.3 612.4h0M513.3 611.3h0M514.3 612.0h0M515.3 612.3h0" stroke="#00e0e0" stroke-width="2.8" stroke-linecap="round" fill="none"/>
<path d="M417.2 625.4h0M418.2 625.8h0M419.2 623.7h0M420.2 624.1h0M421.2 623.2h0M422.2 621.1h0M423.2 621.0h0M424.2 621.2h0M425.2 620.9h0M426.2 619.0h0M427.2 619.1h0M428.2 618.4h0M429.2 619.2h0M430.2 618.1h0M431.2 618.3h0M432.2 618.2h0M433.2 617.8h0M434.2 617.1h0M435.2 617.3h0M436.2 617.1h0M437.2 617.3h0M438.2 616.0h0M439.2 616.2h0M440.2 615.8h0M441.2 616.3h0M442.2 615.5h0M443.2 615.9h0M444.2 615.7h0M445.2 615.7h0M446.2 615.3h0M447.2 615.8h0M448.2 616.3h0M449.2 616.3h0M450.2 616.0h0M451.2 616.2h0M452.2 614.7h0M453.2 615.4h0M454.2 614.9h0M455.2 616.1h0M456.3 615.3h0M457.3 614.6h0M458.3 615.0h0M459.3 615.3h0M460.3 615.2h0M461.3 615.8h0M462.3 615.7h0M463.3 615.7h0M464.3 615.3h0M465.3 615.3h0M466.3 614.4h0M467.3 615.6h0M468.3 615.5h0M469.3 615.4h0M470.3 615.6h0M471.3 615.4h0M472.3 615.5h0M473.3 615.0h0M474.3 615.8h0M475.3 614.3h0M476.3 615.2h0M477.3 614.2h0M478.3 614.7h0M479.3 614.7h0M480.3 615.0h0M481.3 614.2h0M482.3 615.6h0M483.3 614.7h0M484.3 615.3h0M485.3 614.7h0M486.3 614.6h0M487.3 615.5h0M488.3 615.5h0M489.3 615.8h0M490.3 615.4h0M491.3 615.7h0M492.3 615.1h0M493.3 614.2h0M494.3 615.2h0M495.3 615.3h0M496.3 615.0h0M497.3 615.3h0M498.3 614.6h0M499.3 614.6h0M500.3 615.5h0M501.3 615.4h0M502.3 614.7h0M503.3 614.2h0M504.3 614.7h0M505.3 615.1h0M506.3 614.1h0M507.3 615.8h0M508.3 615.7h0M509.3 614.5h0M510.3 615.1h0M511.3 615.7h0M512.3 614.9h0M513.3 614.1h0M514.3 614.9h0M515.3 615.2h0" stroke="#2020f0" stroke-width="2.8" stroke-linecap="round" fill="none"/>
<path d="M417.2 626.6h0M418.2 625.7h0M419.2 623.4h0M420.2 623.3h0M421.2 621.8h0M422.2 622.7h0M423.2 621.7h0M424.2 621.5h0M425.2 620.4h0M426.2 620.5h0M427.2 619.8h0M428.2 619.1h0M429.2 619.0h0M430.2 619.1h0M431.2 618.8h0M432.2 617.0h0M433.2 618.0h0M434.2 617.3h0M435.2 617.2h0M436.2 616.8h0M437.2 617.4h0M438.2 616.9h0M439.2 617.1h0M440.2 616.2h0M441.2 615.5h0M442.2 615.9h0M443.2 615.4h0M444.2 616.4h0M445.2 616.6h0M446.2 615.7h0M447.2 615.7h0M448.2 615.5h0M449.2 615.7h0M450.2 615.3h0M451.2 615.1h0M452.2 614.7h0M453.2 615.7h0M454.2 615.4h0M455.2 614.7h0M456.3 615.7h0M457.3 615.9h0M458.3 615.5h0M459.3 615.9h0M460.3 614.7h0M461.3 614.6h0M462.3 615.4h0M463.3 615.7h0M464.3 615.8h0M465.3 615.5h0M466.3 615.8h0M467.3 615.2h0M468.3 614.9h0M469.3 615.5h0M470.3 615.8h0M471.3 614.7h0M472.3 615.8h0M473.3 615.5h0M474.3 615.4h0M475.3 615.2h0M476.3 615.7h0M477.3 615.1h0M478.3 615.3h0M479.3 614.6h0M480.3 614.9h0M481.3 614.3h0M482.3 614.7h0M483.3 614.5h0M484.3 614.8h0M485.3 615.1h0M486.3 614.4h0M487.3 614.7h0M488.3 614.2h0M489.3 614.6h0M490.3 614.6h0M491.3 615.3h0M492.3 614.4h0M493.3 615.1h0M494.3 615.6h0M495.3 615.7h0M496.3 615.5h0M497.3 615.3h0M498.3 614.6h0M499.3 615.3h0M500.3 615.7h0M501.3 614.5h0M502.3 614.8h0M503.3 615.7h0M504.3 615.7h0M505.3 615.6h0M506.3 615.2h0M507.3 614.3h0M508.3 614.2h0M509.3 614.8h0M510.3 615.4h0M511.3 615.1h0M512.3 615.2h0M513.3 615.2h0M514.3 615.8h0M515.3 614.8h0" stroke="#801010" stroke-width="2.8" stroke-linecap="round" fill="none"/>
<path d="M417.2 623.0h0M418.2 622.3h0M419.2 623.0h0M420.2 621.1h0M421.2 621.3h0M422.2 619.3h0M423.2 619.3h0M424.2 617.5h0M425.2 617.4h0M426.2 618.6h0M427.2 617.7h0M428.2 615.8h0M429.2 616.6h0M430.2 616.4h0M431.2 616.1h0M432.2 615.0h0M433.2 614.3h0M434.2 615.1h0M435.2 613.8h0M436.2 614.5h0M437.2 615.6h0M438.2 613.7h0M439.2 614.5h0M440.2 615.3h0M441.2 612.9h0M442.2 615.1h0M443.2 613.7h0M444.2 613.8h0M445.2 612.7h0M446.2 613.9h0M447.2 614.3h0M448.2 614.0h0M449.2 614.2h0M450.2 613.2h0M451.2 613.7h0M452.2 612.6h0M453.2 613.9h0M454.2 613.6h0M455.2 613.8h0M456.3 611.9h0M457.3 612.3h0M458.3 612.2h0M459.3 612.8h0M460.3 613.3h0M461.3 613.9h0M462.3 612.2h0M463.3 613.0h0M464.3 614.2h0M465.3 613.8h0M466.3 614.0h0M467.3 612.4h0M468.3 611.9h0M469.3 613.7h0M470.3 612.2h0M471.3 613.4h0M472.3 612.4h0M473.3 612.0h0M474.3 612.6h0M475.3 612.1h0M476.3 613.2h0M477.3 614.1h0M478.3 612.8h0M479.3 612.6h0M480.3 613.7h0M481.3 613.1h0M482.3 613.3h0M483.3 614.1h0M484.3 613.3h0M485.3 613.1h0M486.3 612.9h0M487.3 612.3h0M488.3 613.1h0M489.3 611.6h0M490.3 612.0h0M491.3 611.8h0M492.3 612.4h0M493.3 612.4h0M494.3 612.7h0M495.3 612.1h0M496.3 613.2h0M497.3 612.6h0M498.3 612.4h0M499.3 612.8h0M500.3 613.4h0M501.3 613.9h0M502.3 613.9h0M503.3 613.2h0M504.3 612.6h0M505.3 612.2h0M506.3 612.3h0M507.3 613.3h0M508.3 611.7h0M509.3 613.4h0M510.3 612.3h0M511.3 613.9h0M512.3 612.2h0M513.3 612.4h0M514.3 611.7h0M515.3 611.8h0M417.2 624.6h0M418.2 623.3h0M419.2 622.6h0M420.2 622.2h0M421.2 622.5h0M422.2 621.0h0M423.2 619.5h0M424.2 620.6h0M425.2 618.2h0M426.2 618.8h0M427.2 618.8h0M428.2 619.4h0M429.2 618.1h0M430.2 618.3h0M431.2 616.8h0M432.2 615.9h0M433.2 615.6h0M434.2 616.1h0M435.2 616.5h0M436.2 617.0h0M437.2 615.4h0M438.2 615.6h0M439.2 615.0h0M440.2 615.8h0M441.2 614.4h0M442.2 616.0h0M443.2 615.6h0M444.2 615.6h0M445.2 614.6h0M446.2 613.9h0M447.2 615.7h0M448.2 614.4h0M449.2 614.0h0M450.2 615.3h0M451.2 615.7h0M452.2 614.4h0M453.2 613.7h0M454.2 613.5h0M455.2 613.9h0M456.3 614.6h0M457.3 614.6h0M458.3 614.3h0M459.3 613.3h0M460.3 614.8h0M461.3 614.9h0M462.3 614.0h0M463.3 613.1h0M464.3 615.0h0M465.3 615.4h0M466.3 615.2h0M467.3 614.1h0M468.3 613.9h0M469.3 615.0h0M470.3 615.0h0M471.3 613.9h0M472.3 613.8h0M473.3 613.7h0M474.3 613.6h0M475.3 615.3h0M476.3 614.2h0M477.3 613.3h0M478.3 613.0h0M479.3 614.6h0M480.3 613.2h0M481.3 613.8h0M482.3 613.0h0M483.3 614.8h0M484.3 613.6h0M485.3 613.3h0M486.3 614.2h0M487.3 615.1h0M488.3 614.9h0M489.3 615.0h0M490.3 615.1h0M491.3 615.0h0M492.3 613.8h0M493.3 615.1h0M494.3 613.5h0M495.3 613.5h0M496.3 613.3h0M497.3 613.3h0M498.3 613.6h0M499.3 613.0h0M500.3 612.9h0M501.3 613.8h0M502.3 612.9h0M503.3 615.1h0M504.3 615.1h0M505.3 615.2h0M506.3 614.8h0M507.3 614.4h0M508.3 614.2h0M509.3 613.6h0M510.3 613.5h0M511.3 615.2h0M512.3 614.3h0M513.3 614.0h0M514.3 614.4h0M515.3 615.1h0M417.2 624.4h0M418.2 624.0h0M419.2 622.4h0M420.2 622.0h0M421.2 620.1h0M422.2 619.5h0M423.2 621.1h0M424.2 618.8h0M425.2 618.4h0M426.2 619.0h0M427.2 619.1h0M428.2 617.8h0M429.2 617.7h0M430.2 616.4h0M431.2 615.7h0M432.2 616.8h0M433.2 616.8h0M434.2 616.0h0M435.2 615.3h0M436.2 614.9h0M437.2 615.3h0M438.2 615.8h0M439.2 615.6h0M440.2 614.1h0M441.2 614.9h0M442.2 615.9h0M443.2 614.9h0M444.2 615.3h0M445.2 614.1h0M446.2 615.5h0M447.2 615.0h0M448.2 615.4h0M449.2 614.3h0M450.2 613.0h0M451.2 614.1h0M452.2 614.4h0M453.2 613.0h0M454.2 615.1h0M455.2 614.4h0M456.3 613.2h0M457.3 615.2h0M458.3 613.3h0M459.3 614.3h0M460.3 615.1h0M461.3 614.5h0M462.3 614.0h0M463.3 614.1h0M464.3 613.8h0M465.3 614.9h0M466.3 614.5h0M467.3 612.6h0M468.3 613.9h0M469.3 613.8h0M470.3 614.8h0M471.3 614.3h0M472.3 612.6h0M473.3 613.3h0M474.3 613.7h0M475.3 614.9h0M476.3 614.0h0M477.3 613.0h0M478.3 613.9h0M479.3 613.5h0M480.3 612.7h0M481.3 613.3h0M482.3 613.4h0M483.3 614.9h0M484.3 614.9h0M485.3 613.0h0M486.3 613.9h0M487.3 612.7h0M488.3 612.9h0M489.3 612.6h0M490.3 614.0h0M491.3 612.4h0M492.3 613.0h0M493.3 612.7h0M494.3 614.6h0M495.3 613.0h0M496.3 613.9h0M497.3 612.5h0M498.3 612.4h0M499.3 614.4h0M500.3 613.9h0M501.3 614.3h0M502.3 613.8h0M503.3 614.2h0M504.3 613.3h0M505.3 614.6h0M506.3 614.5h0M507.3 613.8h0M508.3 614.8h0M509.3 614.0h0M510.3 612.7h0M511.3 612.7h0M512.3 614.4h0M513.3 614.9h0M514.3 612.8h0M515.3 612.5h0" stroke="#20a020" stroke-width="2.8" stroke-linecap="round" fill="none"/>
<line x1="395.20" y1="587.50" x2="395.20" y2="639.20" stroke="#000" stroke-width="1.4"/>
<line x1="394.60" y1="638.60" x2="515.90" y2="638.60" stroke="#000" stroke-width="1.4"/>
<line x1="395.20" y1="638.60" x2="399.20" y2="638.60" stroke="#000" stroke-width="1.2"/>
<text x="390.8" y="642.3000000000001" font-size="10" text-anchor="end" fill="#000" stroke="#000" stroke-width="0.3" font-family="Liberation Sans, sans-serif" font-weight="bold">0.0</text>
<line x1="395.20" y1="613.25" x2="399.20" y2="613.25" stroke="#000" stroke-width="1.2"/>
<text x="390.8" y="616.95" font-size="10" text-anchor="end" fill="#000" stroke="#000" stroke-width="0.3" font-family="Liberation Sans, sans-serif" font-weight="bold">.6</text>
<line x1="395.20" y1="587.90" x2="399.20" y2="587.90" stroke="#000" stroke-width="1.2"/>
<text x="390.8" y="591.6" font-size="10" text-anchor="end" fill="#000" stroke="#000" stroke-width="0.3" font-family="Liberation Sans, sans-serif" font-weight="bold">1.2</text>
<line x1="455.25" y1="638.60" x2="455.25" y2="635.10" stroke="#000" stroke-width="1.2"/>
<text x="455.25" y="654.2" font-size="10" text-anchor="middle" fill="#000" stroke="#000" stroke-width="0.3" font-family="Liberation Sans, sans-serif" font-weight="bold">30</text>
<line x1="515.30" y1="638.60" x2="515.30" y2="635.10" stroke="#000" stroke-width="1.2"/>
<text x="513.3" y="654.2" font-size="10" text-anchor="middle" fill="#000" stroke="#000" stroke-width="0.3" font-family="Liberation Sans, sans-serif" font-weight="bold">60</text>
<text x="394.8" y="654.2" font-size="10" text-anchor="middle" fill="#000" stroke="#000" stroke-width="0.3" font-family="Liberation Sans, sans-serif" font-weight="bold">0</text>
<path d="M414.4,645.3 L419.79999999999995,654.6 L414.4,650.6 L409.0,654.6 Z" fill="#000" stroke="#000" stroke-width="0.6" stroke-linejoin="round"/>
<text x="454.9" y="671.3" font-size="10.3" text-anchor="middle" fill="#000" stroke="#000" stroke-width="0.3" font-family="Liberation Sans, sans-serif" font-weight="bold">Time (min)</text>
<text x="355.7" y="608.3" font-size="10.3" text-anchor="middle" fill="#000" stroke="#000" stroke-width="0.3" font-family="Liberation Sans, sans-serif" font-weight="bold" transform="rotate(-90 355.7 608.3)">EPSPs</text>
<text x="368.2" y="613.4" font-size="10.3" text-anchor="middle" fill="#000" stroke="#000" stroke-width="0.3" font-family="Liberation Sans, sans-serif" font-weight="bold" transform="rotate(-90 368.2 613.4)">(Normalized)</text>
</svg></body></html>
